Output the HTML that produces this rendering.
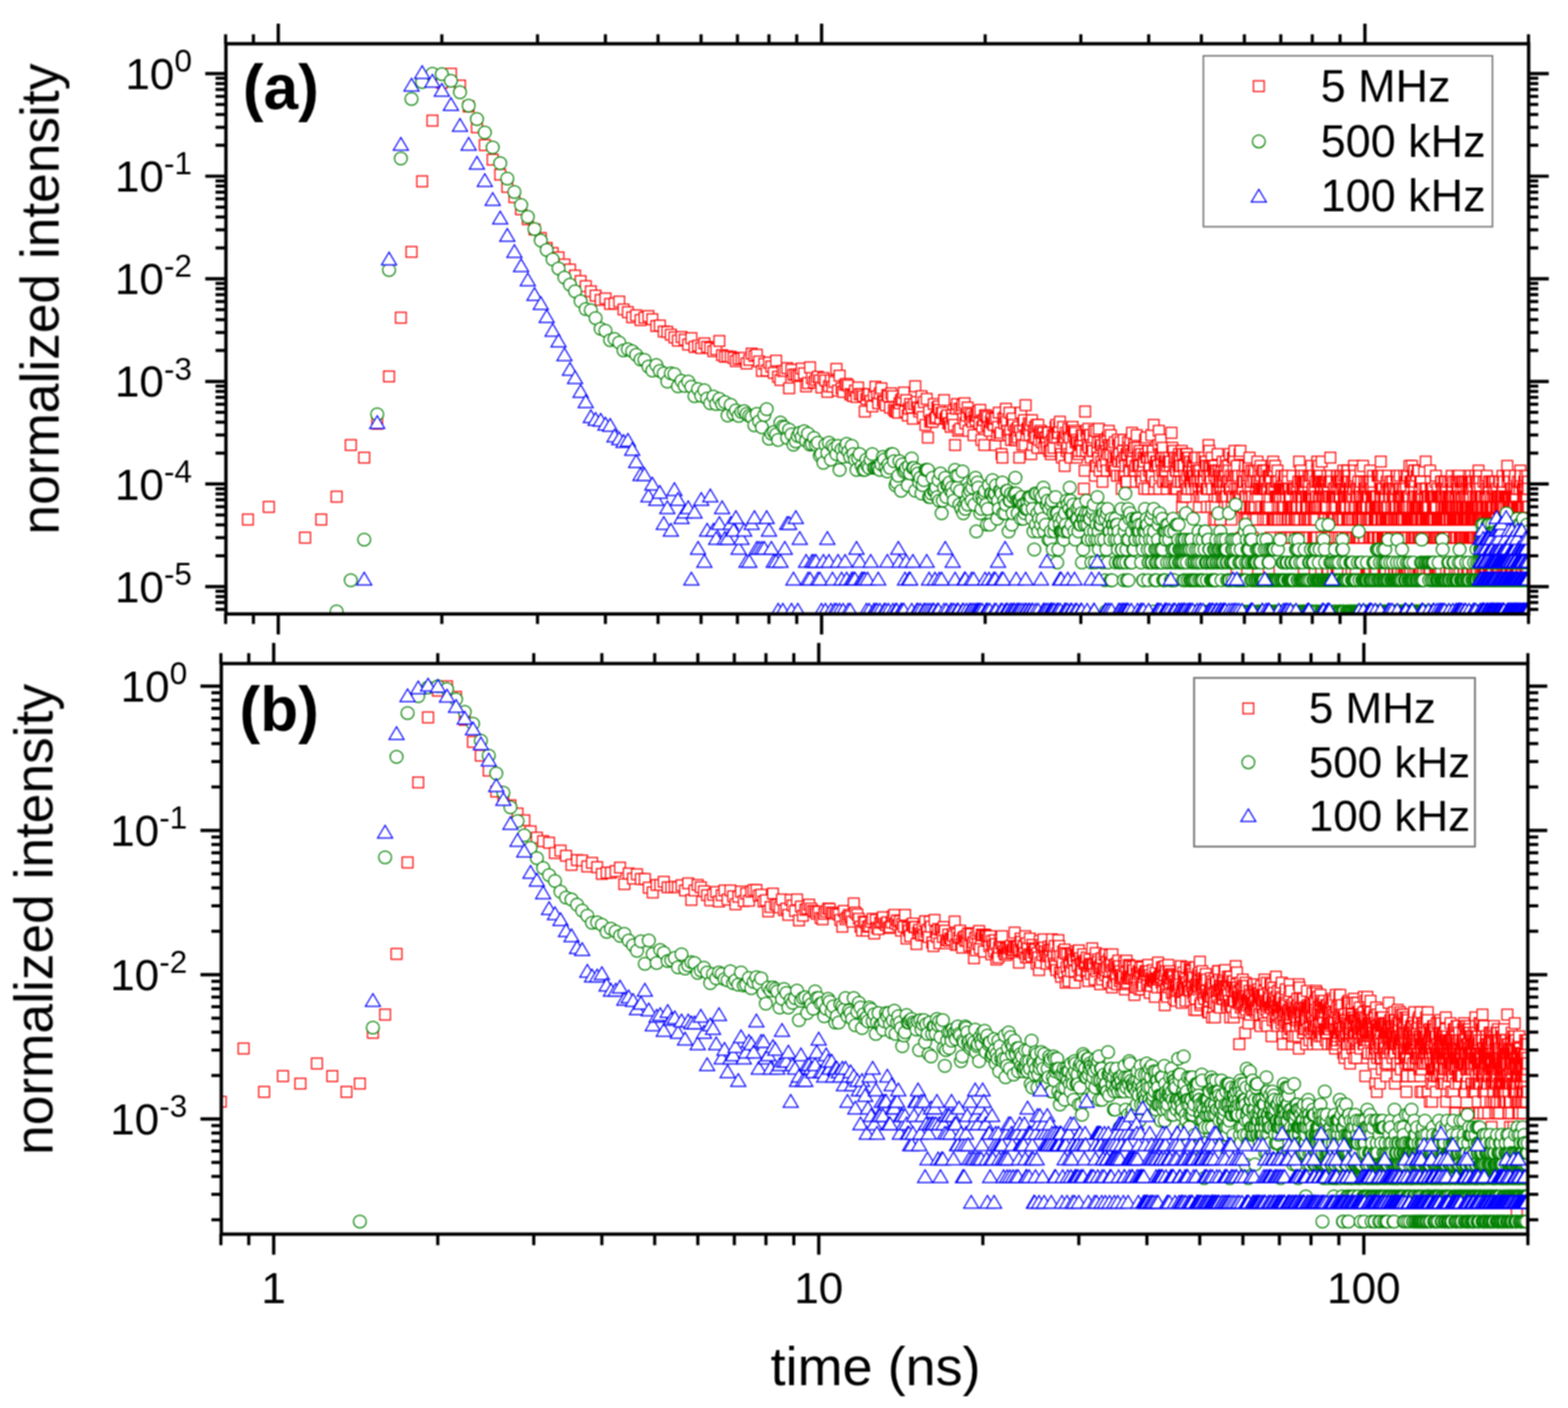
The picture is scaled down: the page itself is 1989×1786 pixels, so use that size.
<!DOCTYPE html>
<html lang="en"><head><meta charset="utf-8"><title>normalized intensity vs time (ns)</title>
<style>html,body{margin:0;padding:0;background:#fff}body{width:1989px;height:1786px;overflow:hidden}svg{display:block;font-family:"Liberation Sans",Arial,sans-serif}text{fill:#000}.r,.g,.b{fill:#fff;stroke-width:1.50px}.r{stroke:#f00}.g{stroke:#008000}.b{stroke:#00f}</style></head><body>
<svg width="1989" height="1786" viewBox="0 0 1989 1786">
<defs>
<filter id="f" color-interpolation-filters="sRGB" filterUnits="userSpaceOnUse" x="0" y="0" width="1989" height="1786"><feConvolveMatrix order="3" kernelMatrix="1 1 1 1 1 1 1 1 1" divisor="9" edgeMode="none" preserveAlpha="false"/></filter>
<rect id="s" x="-6.80" y="-6.80" width="13.60" height="13.60"/>
<circle id="c" cx="0" cy="0" r="8.10"/>
<path id="t" d="M0 -10.10L9.50 5.90H-9.50Z"/>
<clipPath id="ca"><rect x="286.60" y="55.50" width="1652.50" height="723.30"/></clipPath>
<clipPath id="cb"><rect x="280.70" y="841.70" width="1657.30" height="723.80"/></clipPath>
</defs>
<rect x="0" y="0" width="1989" height="1786" fill="#fff"/>
<g filter="url(#f)">
<g clip-path="url(#ca)">
<g class="r"><use href="#s" x="314.5" y="659"/><use href="#s" x="341" y="643"/><use href="#s" x="387" y="682"/><use href="#s" x="407.5" y="659"/><use href="#s" x="427" y="630"/><use href="#s" x="445" y="564.5"/><use href="#s" x="462" y="580.5"/><use href="#s" x="478.5" y="537.5"/><use href="#s" x="493.5" y="477.5"/><use href="#s" x="508.5" y="403"/><use href="#s" x="522" y="319.5"/><use href="#s" x="535.5" y="230"/><use href="#s" x="548.5" y="153"/><use href="#s" x="560.5" y="105"/><use href="#s" x="572" y="93.5"/><use href="#s" x="583.5" y="108.5"/><use href="#s" x="594.5" y="135"/><use href="#s" x="605" y="161.5"/><use href="#s" x="615" y="184"/><use href="#s" x="625" y="202.5"/><use href="#s" x="634.5" y="221.5"/><use href="#s" x="643.5" y="237"/><use href="#s" x="652.5" y="250"/><use href="#s" x="661" y="265.5"/><use href="#s" x="669.5" y="278"/><use href="#s" x="678" y="291"/><use href="#s" x="686" y="302"/><use href="#s" x="693.5" y="314.5"/><use href="#s" x="701" y="321"/><use href="#s" x="708.5" y="326.5"/><use href="#s" x="716" y="335.5"/><use href="#s" x="723" y="342"/><use href="#s" x="729.5" y="349.5"/><use href="#s" x="736.5" y="356.5"/><use href="#s" x="743" y="363"/><use href="#s" x="749.5" y="369.5"/><use href="#s" x="755.5" y="375"/><use href="#s" x="762" y="380.5"/><use href="#s" x="768" y="378.5"/><use href="#s" x="774" y="385.5"/><use href="#s" x="779.5" y="385"/><use href="#s" x="785.5" y="382.5"/><use href="#s" x="791" y="392.5"/><use href="#s" x="796.5" y="396"/><use href="#s" x="802" y="402.5"/><use href="#s" x="807" y="400"/><use href="#s" x="812.5" y="406"/><use href="#s" x="817.5" y="403"/><use href="#s" x="822.5" y="401"/><use href="#s" x="827.5" y="405"/><use href="#s" x="832.5" y="413.5"/><use href="#s" x="837" y="413"/><use href="#s" x="842" y="420.5"/><use href="#s" x="846.5" y="421"/><use href="#s" x="851" y="424.5"/><use href="#s" x="855.5" y="428"/><use href="#s" x="860" y="432"/><use href="#s" x="864.5" y="427.5"/><use href="#s" x="868.5" y="431"/><use href="#s" x="873" y="437"/><use href="#s" x="877" y="429"/><use href="#s" x="881" y="440"/><use href="#s" x="885.5" y="438.5"/><use href="#s" x="889.5" y="441.5"/><use href="#s" x="893.5" y="435.5"/><use href="#s" x="897" y="440"/><use href="#s" x="901" y="441.5"/><use href="#s" x="905" y="445.5"/><use href="#s" x="908.5" y="443"/><use href="#s" x="912.5" y="432.5"/><use href="#s" x="916" y="450.5"/><use href="#s" x="919.5" y="452.5"/><use href="#s" x="923" y="452"/><use href="#s" x="927" y="452.5"/><use href="#s" x="930.5" y="454"/><use href="#s" x="933.5" y="458"/><use href="#s" x="937" y="455.5"/><use href="#s" x="940.5" y="455"/><use href="#s" x="944" y="454"/><use href="#s" x="947" y="461"/><use href="#s" x="950.5" y="456.5"/><use href="#s" x="953.5" y="448.5"/><use href="#s" x="957" y="451.5"/><use href="#s" x="960" y="450"/><use href="#s" x="963" y="458.5"/><use href="#s" x="966.5" y="470.5"/><use href="#s" x="969.5" y="461.5"/><use href="#s" x="972.5" y="470"/><use href="#s" x="975.5" y="460"/><use href="#s" x="978.5" y="465"/><use href="#s" x="981.5" y="473"/><use href="#s" x="984.5" y="457.5"/><use href="#s" x="987" y="478"/><use href="#s" x="990" y="482"/><use href="#s" x="993" y="470.5"/><use href="#s" x="995.5" y="470.5"/><use href="#s" x="998.5" y="467"/><use href="#s" x="1001" y="492.5"/><use href="#s" x="1004" y="469"/><use href="#s" x="1006.5" y="475.5"/><use href="#s" x="1009.5" y="475"/><use href="#s" x="1012" y="477"/><use href="#s" x="1014.5" y="475.5"/><use href="#s" x="1017" y="467.5"/><use href="#s" x="1020" y="473.5"/><use href="#s" x="1022.5" y="490"/><use href="#s" x="1025" y="486"/><use href="#s" x="1027.5" y="466"/><use href="#s" x="1030" y="479.5"/><use href="#s" x="1032.5" y="485"/><use href="#s" x="1035" y="482"/><use href="#s" x="1037.5" y="478"/><use href="#s" x="1040" y="482.5"/><use href="#s" x="1042" y="491.5"/><use href="#s" x="1044.5" y="479.5"/><use href="#s" x="1047" y="482.5"/><use href="#s" x="1049.5" y="497"/><use href="#s" x="1051.5" y="490"/><use href="#s" x="1054" y="482.5"/><use href="#s" x="1056" y="490.5"/><use href="#s" x="1058.5" y="484.5"/><use href="#s" x="1061" y="468"/><use href="#s" x="1063" y="495.5"/><use href="#s" x="1065" y="476.5"/><use href="#s" x="1067.5" y="492.5"/><use href="#s" x="1069.5" y="497"/><use href="#s" x="1072" y="488"/><use href="#s" x="1074" y="487"/><use href="#s" x="1076" y="489"/><use href="#s" x="1078.5" y="500"/><use href="#s" x="1080.5" y="501"/><use href="#s" x="1082.5" y="502.5"/><use href="#s" x="1084.5" y="495.5"/><use href="#s" x="1086.5" y="503.5"/><use href="#s" x="1088.5" y="491.5"/><use href="#s" x="1090.5" y="500"/><use href="#s" x="1093" y="500"/><use href="#s" x="1095" y="502.5"/><use href="#s" x="1097" y="522"/><use href="#s" x="1099" y="506"/><use href="#s" x="1100.5" y="501"/><use href="#s" x="1102.5" y="500"/><use href="#s" x="1104.5" y="508.5"/><use href="#s" x="1106.5" y="515.5"/><use href="#s" x="1108.5" y="501"/><use href="#s" x="1110.5" y="490.5"/><use href="#s" x="1112.5" y="502.5"/><use href="#s" x="1114" y="511.5"/><use href="#s" x="1116" y="499"/><use href="#s" x="1118" y="492.5"/><use href="#s" x="1120" y="508.5"/><use href="#s" x="1121.5" y="510"/><use href="#s" x="1123.5" y="514"/><use href="#s" x="1125.5" y="501"/><use href="#s" x="1127" y="502.5"/><use href="#s" x="1129" y="517"/><use href="#s" x="1130.5" y="499"/><use href="#s" x="1132.5" y="502.5"/><use href="#s" x="1134" y="520"/><use href="#s" x="1136" y="522"/><use href="#s" x="1137.5" y="522"/><use href="#s" x="1139.5" y="523.5"/><use href="#s" x="1141" y="511.5"/><use href="#s" x="1143" y="507.5"/><use href="#s" x="1144.5" y="506"/><use href="#s" x="1146.5" y="498"/><use href="#s" x="1148" y="522"/><use href="#s" x="1149.5" y="507.5"/><use href="#s" x="1151.5" y="527"/><use href="#s" x="1153" y="518.5"/><use href="#s" x="1154.5" y="512.5"/><use href="#s" x="1156.5" y="517"/><use href="#s" x="1158" y="531"/><use href="#s" x="1159.5" y="512.5"/><use href="#s" x="1161" y="490"/><use href="#s" x="1163" y="510"/><use href="#s" x="1164.5" y="517"/><use href="#s" x="1166" y="522"/><use href="#s" x="1167.5" y="518.5"/><use href="#s" x="1169" y="502.5"/><use href="#s" x="1170.5" y="529"/><use href="#s" x="1172" y="510"/><use href="#s" x="1174" y="539"/><use href="#s" x="1175.5" y="506"/><use href="#s" x="1177" y="555"/><use href="#s" x="1178.5" y="522"/><use href="#s" x="1180" y="535"/><use href="#s" x="1181.5" y="533"/><use href="#s" x="1183" y="535"/><use href="#s" x="1184.5" y="512.5"/><use href="#s" x="1186" y="531"/><use href="#s" x="1187.5" y="529"/><use href="#s" x="1189" y="517"/><use href="#s" x="1190.5" y="515.5"/><use href="#s" x="1191.5" y="520"/><use href="#s" x="1193" y="531"/><use href="#s" x="1194.5" y="523.5"/><use href="#s" x="1196" y="523.5"/><use href="#s" x="1197.5" y="507.5"/><use href="#s" x="1199" y="531"/><use href="#s" x="1200.5" y="529"/><use href="#s" x="1201.5" y="527"/><use href="#s" x="1203" y="537"/><use href="#s" x="1204.5" y="537"/><use href="#s" x="1206" y="541.5"/><use href="#s" x="1207.5" y="527"/><use href="#s" x="1208.5" y="531"/><use href="#s" x="1210" y="539"/><use href="#s" x="1211.5" y="564.5"/><use href="#s" x="1213" y="518.5"/><use href="#s" x="1214" y="512.5"/><use href="#s" x="1215.5" y="546.5"/><use href="#s" x="1217" y="518.5"/><use href="#s" x="1218" y="544"/><use href="#s" x="1219.5" y="518.5"/><use href="#s" x="1221" y="514"/><use href="#s" x="1222" y="531"/><use href="#s" x="1223.5" y="511.5"/><use href="#s" x="1224.5" y="537"/><use href="#s" x="1226" y="527"/><use href="#s" x="1227.5" y="517"/><use href="#s" x="1228.5" y="546.5"/><use href="#s" x="1230" y="523.5"/><use href="#s" x="1231" y="531"/><use href="#s" x="1232.5" y="525.5"/><use href="#s" x="1233.5" y="535"/><use href="#s" x="1235" y="552"/><use href="#s" x="1236" y="529"/><use href="#s" x="1237.5" y="533"/><use href="#s" x="1238.5" y="527"/><use href="#s" x="1240" y="527"/><use href="#s" x="1241" y="522"/><use href="#s" x="1242.5" y="537"/><use href="#s" x="1243.5" y="520"/><use href="#s" x="1245" y="558"/><use href="#s" x="1246" y="541.5"/><use href="#s" x="1247.5" y="533"/><use href="#s" x="1248.5" y="564.5"/><use href="#s" x="1249.5" y="527"/><use href="#s" x="1251" y="527"/><use href="#s" x="1252" y="539"/><use href="#s" x="1253" y="529"/><use href="#s" x="1254.5" y="541.5"/><use href="#s" x="1255.5" y="546.5"/><use href="#s" x="1257" y="535"/><use href="#s" x="1258" y="531"/><use href="#s" x="1259" y="537"/><use href="#s" x="1260.5" y="539"/><use href="#s" x="1261.5" y="531"/><use href="#s" x="1262.5" y="564.5"/><use href="#s" x="1263.5" y="531"/><use href="#s" x="1265" y="552"/><use href="#s" x="1266" y="541.5"/><use href="#s" x="1267" y="523.5"/><use href="#s" x="1268" y="552"/><use href="#s" x="1269.5" y="549"/><use href="#s" x="1270.5" y="576"/><use href="#s" x="1271.5" y="580.5"/><use href="#s" x="1272.5" y="531"/><use href="#s" x="1274" y="537"/><use href="#s" x="1275" y="529"/><use href="#s" x="1276" y="518.5"/><use href="#s" x="1277" y="535"/><use href="#s" x="1278" y="546.5"/><use href="#s" x="1279.5" y="552"/><use href="#s" x="1280.5" y="523.5"/><use href="#s" x="1281.5" y="546.5"/><use href="#s" x="1282.5" y="558"/><use href="#s" x="1283.5" y="533"/><use href="#s" x="1284.5" y="531"/><use href="#s" x="1285.5" y="539"/><use href="#s" x="1287" y="558"/><use href="#s" x="1288" y="546.5"/><use href="#s" x="1289" y="558"/><use href="#s" x="1290" y="544"/><use href="#s" x="1291" y="555"/><use href="#s" x="1292" y="541.5"/><use href="#s" x="1293" y="580.5"/><use href="#s" x="1294" y="546.5"/><use href="#s" x="1295" y="523.5"/><use href="#s" x="1296" y="555"/><use href="#s" x="1297" y="564.5"/><use href="#s" x="1298" y="539"/><use href="#s" x="1299" y="533"/><use href="#s" x="1300" y="564.5"/><use href="#s" x="1301" y="514"/><use href="#s" x="1302" y="552"/><use href="#s" x="1303" y="544"/><use href="#s" x="1304" y="544"/><use href="#s" x="1305" y="537"/><use href="#s" x="1306" y="552"/><use href="#s" x="1307" y="539"/><use href="#s" x="1308" y="576"/><use href="#s" x="1309" y="533"/><use href="#s" x="1310" y="564.5"/><use href="#s" x="1311" y="546.5"/><use href="#s" x="1312" y="555"/><use href="#s" x="1313" y="541.5"/><use href="#s" x="1314" y="555"/><use href="#s" x="1315" y="539"/><use href="#s" x="1316" y="568"/><use href="#s" x="1317" y="539"/><use href="#s" x="1318" y="558"/><use href="#s" x="1319" y="549"/><use href="#s" x="1320" y="546.5"/><use href="#s" x="1320.5" y="546.5"/><use href="#s" x="1321.5" y="561"/><use href="#s" x="1322.5" y="549"/><use href="#s" x="1323.5" y="549"/><use href="#s" x="1324.5" y="568"/><use href="#s" x="1325.5" y="555"/><use href="#s" x="1326.5" y="555"/><use href="#s" x="1327.5" y="561"/><use href="#s" x="1328" y="568"/><use href="#s" x="1329" y="549"/><use href="#s" x="1330" y="549"/><use href="#s" x="1331" y="572"/><use href="#s" x="1332" y="561"/><use href="#s" x="1333" y="576"/><use href="#s" x="1333.5" y="572"/><use href="#s" x="1334.5" y="558"/><use href="#s" x="1335.5" y="552"/><use href="#s" x="1336.5" y="568"/><use href="#s" x="1337.5" y="552"/><use href="#s" x="1338" y="555"/><use href="#s" x="1339" y="541.5"/><use href="#s" x="1340" y="539"/><use href="#s" x="1341" y="555"/><use href="#s" x="1341.5" y="549"/><use href="#s" x="1342.5" y="549"/><use href="#s" x="1343.5" y="541.5"/><use href="#s" x="1344.5" y="535"/><use href="#s" x="1345" y="568"/><use href="#s" x="1346" y="576"/><use href="#s" x="1347" y="580.5"/><use href="#s" x="1348" y="558"/><use href="#s" x="1348.5" y="541.5"/><use href="#s" x="1349.5" y="555"/><use href="#s" x="1350.5" y="591"/><use href="#s" x="1351" y="555"/><use href="#s" x="1352" y="549"/><use href="#s" x="1353" y="572"/><use href="#s" x="1354" y="568"/><use href="#s" x="1354.5" y="552"/><use href="#s" x="1355.5" y="544"/><use href="#s" x="1356.5" y="576"/><use href="#s" x="1357" y="555"/><use href="#s" x="1358" y="580.5"/><use href="#s" x="1359" y="544"/><use href="#s" x="1359.5" y="568"/><use href="#s" x="1360.5" y="541.5"/><use href="#s" x="1361.5" y="552"/><use href="#s" x="1362" y="546.5"/><use href="#s" x="1363" y="546.5"/><use href="#s" x="1364" y="549"/><use href="#s" x="1364.5" y="561"/><use href="#s" x="1365.5" y="558"/><use href="#s" x="1366" y="580.5"/><use href="#s" x="1367" y="561"/><use href="#s" x="1368" y="576"/><use href="#s" x="1368.5" y="572"/><use href="#s" x="1369.5" y="561"/><use href="#s" x="1370" y="564.5"/><use href="#s" x="1371" y="564.5"/><use href="#s" x="1372" y="552"/><use href="#s" x="1372.5" y="572"/><use href="#s" x="1373.5" y="558"/><use href="#s" x="1374" y="552"/><use href="#s" x="1375" y="620"/><use href="#s" x="1376" y="597"/><use href="#s" x="1376.5" y="522"/><use href="#s" x="1377.5" y="572"/><use href="#s" x="1378" y="546.5"/><use href="#s" x="1379" y="552"/><use href="#s" x="1379.5" y="564.5"/><use href="#s" x="1380.5" y="544"/><use href="#s" x="1381" y="568"/><use href="#s" x="1382" y="552"/><use href="#s" x="1383" y="552"/><use href="#s" x="1383.5" y="580.5"/><use href="#s" x="1384.5" y="564.5"/><use href="#s" x="1385" y="568"/><use href="#s" x="1386" y="572"/><use href="#s" x="1386.5" y="572"/><use href="#s" x="1387.5" y="555"/><use href="#s" x="1388" y="546.5"/><use href="#s" x="1389" y="603.5"/><use href="#s" x="1389.5" y="591"/><use href="#s" x="1390.5" y="546.5"/><use href="#s" x="1391" y="591"/><use href="#s" x="1392" y="572"/><use href="#s" x="1392.5" y="561"/><use href="#s" x="1393.5" y="580.5"/><use href="#s" x="1394" y="544"/><use href="#s" x="1395" y="597"/><use href="#s" x="1395.5" y="561"/><use href="#s" x="1396.5" y="568"/><use href="#s" x="1397" y="585.5"/><use href="#s" x="1397.5" y="564.5"/><use href="#s" x="1398.5" y="611"/><use href="#s" x="1399" y="591"/><use href="#s" x="1400" y="572"/><use href="#s" x="1400.5" y="576"/><use href="#s" x="1401.5" y="558"/><use href="#s" x="1402" y="561"/><use href="#s" x="1403" y="585.5"/><use href="#s" x="1403.5" y="572"/><use href="#s" x="1404" y="597"/><use href="#s" x="1405" y="555"/><use href="#s" x="1405.5" y="576"/><use href="#s" x="1406.5" y="546.5"/><use href="#s" x="1407" y="564.5"/><use href="#s" x="1408" y="568"/><use href="#s" x="1408.5" y="576"/><use href="#s" x="1409" y="552"/><use href="#s" x="1410" y="591"/><use href="#s" x="1410.5" y="564.5"/><use href="#s" x="1411.5" y="564.5"/><use href="#s" x="1412" y="591"/><use href="#s" x="1412.5" y="580.5"/><use href="#s" x="1413.5" y="597"/><use href="#s" x="1414" y="561"/><use href="#s" x="1415" y="597"/><use href="#s" x="1415.5" y="580.5"/><use href="#s" x="1416" y="580.5"/><use href="#s" x="1417" y="603.5"/><use href="#s" x="1417.5" y="580.5"/><use href="#s" x="1418" y="558"/><use href="#s" x="1419" y="585.5"/><use href="#s" x="1419.5" y="564.5"/><use href="#s" x="1420" y="576"/><use href="#s" x="1421" y="561"/><use href="#s" x="1421.5" y="603.5"/><use href="#s" x="1422.5" y="585.5"/><use href="#s" x="1423" y="620"/><use href="#s" x="1423.5" y="585.5"/><use href="#s" x="1424.5" y="572"/><use href="#s" x="1425" y="603.5"/><use href="#s" x="1425.5" y="558"/><use href="#s" x="1426.5" y="580.5"/><use href="#s" x="1427" y="603.5"/><use href="#s" x="1427.5" y="591"/><use href="#s" x="1428.5" y="611"/><use href="#s" x="1429" y="576"/><use href="#s" x="1429.5" y="611"/><use href="#s" x="1430" y="576"/><use href="#s" x="1431" y="561"/><use href="#s" x="1431.5" y="568"/><use href="#s" x="1432" y="591"/><use href="#s" x="1433" y="597"/><use href="#s" x="1433.5" y="572"/><use href="#s" x="1434" y="558"/><use href="#s" x="1435" y="585.5"/><use href="#s" x="1435.5" y="576"/><use href="#s" x="1436" y="549"/><use href="#s" x="1436.5" y="585.5"/><use href="#s" x="1437.5" y="572"/><use href="#s" x="1438" y="597"/><use href="#s" x="1438.5" y="564.5"/><use href="#s" x="1439.5" y="568"/><use href="#s" x="1440" y="597"/><use href="#s" x="1440.5" y="591"/><use href="#s" x="1441" y="611"/><use href="#s" x="1442" y="552"/><use href="#s" x="1442.5" y="568"/><use href="#s" x="1443" y="580.5"/><use href="#s" x="1443.5" y="591"/><use href="#s" x="1444.5" y="591"/><use href="#s" x="1445" y="576"/><use href="#s" x="1445.5" y="572"/><use href="#s" x="1446" y="591"/><use href="#s" x="1447" y="603.5"/><use href="#s" x="1447.5" y="576"/><use href="#s" x="1448" y="611"/><use href="#s" x="1448.5" y="611"/><use href="#s" x="1449.5" y="597"/><use href="#s" x="1450" y="591"/><use href="#s" x="1450.5" y="580.5"/><use href="#s" x="1451" y="585.5"/><use href="#s" x="1451.5" y="620"/><use href="#s" x="1452.5" y="558"/><use href="#s" x="1453" y="576"/><use href="#s" x="1453.5" y="603.5"/><use href="#s" x="1454" y="555"/><use href="#s" x="1454.5" y="580.5"/><use href="#s" x="1455.5" y="580.5"/><use href="#s" x="1456" y="620"/><use href="#s" x="1456.5" y="572"/><use href="#s" x="1457" y="572"/><use href="#s" x="1457.5" y="597"/><use href="#s" x="1458.5" y="591"/><use href="#s" x="1459" y="580.5"/><use href="#s" x="1459.5" y="580.5"/><use href="#s" x="1460" y="603.5"/><use href="#s" x="1460.5" y="552"/><use href="#s" x="1461.5" y="603.5"/><use href="#s" x="1462" y="572"/><use href="#s" x="1462.5" y="572"/><use href="#s" x="1463" y="580.5"/><use href="#s" x="1463.5" y="539"/><use href="#s" x="1464" y="620"/><use href="#s" x="1465" y="591"/><use href="#s" x="1465.5" y="611"/><use href="#s" x="1466" y="591"/><use href="#s" x="1466.5" y="585.5"/><use href="#s" x="1467" y="585.5"/><use href="#s" x="1467.5" y="585.5"/><use href="#s" x="1468.5" y="591"/><use href="#s" x="1469" y="591"/><use href="#s" x="1469.5" y="564.5"/><use href="#s" x="1470" y="546.5"/><use href="#s" x="1470.5" y="620"/><use href="#s" x="1471" y="603.5"/><use href="#s" x="1471.5" y="576"/><use href="#s" x="1472.5" y="558"/><use href="#s" x="1473" y="585.5"/><use href="#s" x="1473.5" y="576"/><use href="#s" x="1474" y="576"/><use href="#s" x="1474.5" y="597"/><use href="#s" x="1475" y="568"/><use href="#s" x="1475.5" y="611"/><use href="#s" x="1476.5" y="580.5"/><use href="#s" x="1477" y="597"/><use href="#s" x="1477.5" y="591"/><use href="#s" x="1478" y="585.5"/><use href="#s" x="1478.5" y="597"/><use href="#s" x="1479" y="611"/><use href="#s" x="1479.5" y="580.5"/><use href="#s" x="1480" y="620"/><use href="#s" x="1480.5" y="591"/><use href="#s" x="1481.5" y="611"/><use href="#s" x="1482" y="585.5"/><use href="#s" x="1482.5" y="611"/><use href="#s" x="1483" y="580.5"/><use href="#s" x="1483.5" y="585.5"/><use href="#s" x="1484" y="591"/><use href="#s" x="1484.5" y="585.5"/><use href="#s" x="1485" y="611"/><use href="#s" x="1485.5" y="659"/><use href="#s" x="1486" y="549"/><use href="#s" x="1487" y="568"/><use href="#s" x="1487.5" y="611"/><use href="#s" x="1488" y="603.5"/><use href="#s" x="1488.5" y="572"/><use href="#s" x="1489" y="620"/><use href="#s" x="1489.5" y="591"/><use href="#s" x="1490" y="580.5"/><use href="#s" x="1490.5" y="580.5"/><use href="#s" x="1491" y="620"/><use href="#s" x="1491.5" y="597"/><use href="#s" x="1492" y="597"/><use href="#s" x="1492.5" y="620"/><use href="#s" x="1493" y="585.5"/><use href="#s" x="1493.5" y="580.5"/><use href="#s" x="1494.5" y="611"/><use href="#s" x="1495" y="591"/><use href="#s" x="1495.5" y="576"/><use href="#s" x="1496" y="597"/><use href="#s" x="1496.5" y="591"/><use href="#s" x="1497" y="580.5"/><use href="#s" x="1497.5" y="591"/><use href="#s" x="1498" y="611"/><use href="#s" x="1498.5" y="611"/><use href="#s" x="1499" y="572"/><use href="#s" x="1499.5" y="643"/><use href="#s" x="1500" y="630"/><use href="#s" x="1500.5" y="576"/><use href="#s" x="1501" y="591"/><use href="#s" x="1501.5" y="591"/><use href="#s" x="1502" y="630"/><use href="#s" x="1502.5" y="603.5"/><use href="#s" x="1503" y="611"/><use href="#s" x="1503.5" y="611"/><use href="#s" x="1504" y="576"/><use href="#s" x="1504.5" y="630"/><use href="#s" x="1505" y="620"/><use href="#s" x="1505.5" y="576"/><use href="#s" x="1506" y="603.5"/><use href="#s" x="1506.5" y="580.5"/><use href="#s" x="1507" y="620"/><use href="#s" x="1507.5" y="591"/><use href="#s" x="1508" y="580.5"/><use href="#s" x="1508.5" y="597"/><use href="#s" x="1509" y="597"/><use href="#s" x="1509.5" y="611"/><use href="#s" x="1510" y="585.5"/><use href="#s" x="1510.5" y="611"/><use href="#s" x="1511" y="603.5"/><use href="#s" x="1511.5" y="620"/><use href="#s" x="1512" y="603.5"/><use href="#s" x="1512.5" y="591"/><use href="#s" x="1513" y="597"/><use href="#s" x="1513.5" y="603.5"/><use href="#s" x="1514" y="585.5"/><use href="#s" x="1514.5" y="603.5"/><use href="#s" x="1515" y="611"/><use href="#s" x="1515.5" y="580.5"/><use href="#s" x="1516" y="580.5"/><use href="#s" x="1516.5" y="611"/><use href="#s" x="1517" y="620"/><use href="#s" x="1517.5" y="591"/><use href="#s" x="1518" y="597"/><use href="#s" x="1518.5" y="580.5"/><use href="#s" x="1519" y="603.5"/><use href="#s" x="1519.5" y="611"/><use href="#s" x="1520" y="597"/><use href="#s" x="1520.5" y="620"/><use href="#s" x="1521" y="643"/><use href="#s" x="1521.5" y="630"/><use href="#s" x="1522" y="597"/><use href="#s" x="1522.5" y="603.5"/><use href="#s" x="1523" y="611"/><use href="#s" x="1523.5" y="611"/><use href="#s" x="1524" y="630"/><use href="#s" x="1524.5" y="620"/><use href="#s" x="1525" y="580.5"/><use href="#s" x="1525.5" y="620"/><use href="#s" x="1526" y="620"/><use href="#s" x="1526.5" y="603.5"/><use href="#s" x="1527" y="630"/><use href="#s" x="1527.5" y="603.5"/><use href="#s" x="1527.5" y="611"/><use href="#s" x="1528" y="580.5"/><use href="#s" x="1528.5" y="597"/><use href="#s" x="1529" y="585.5"/><use href="#s" x="1529.5" y="585.5"/><use href="#s" x="1530" y="620"/><use href="#s" x="1530.5" y="591"/><use href="#s" x="1531" y="643"/><use href="#s" x="1531.5" y="620"/><use href="#s" x="1532" y="603.5"/><use href="#s" x="1532.5" y="620"/><use href="#s" x="1533" y="564.5"/><use href="#s" x="1533.5" y="591"/><use href="#s" x="1534" y="572"/><use href="#s" x="1534.5" y="603.5"/><use href="#s" x="1535" y="591"/><use href="#s" x="1535.5" y="603.5"/><use href="#s" x="1536" y="611"/><use href="#s" x="1536.5" y="643"/><use href="#s" x="1537" y="580.5"/><use href="#s" x="1537.5" y="620"/><use href="#s" x="1538" y="591"/><use href="#s" x="1538.5" y="591"/><use href="#s" x="1539" y="591"/><use href="#s" x="1539.5" y="597"/><use href="#s" x="1540" y="659"/><use href="#s" x="1540" y="597"/><use href="#s" x="1540.5" y="603.5"/><use href="#s" x="1541" y="591"/><use href="#s" x="1541.5" y="643"/><use href="#s" x="1542" y="597"/><use href="#s" x="1542.5" y="659"/><use href="#s" x="1543" y="597"/><use href="#s" x="1543.5" y="611"/><use href="#s" x="1544" y="620"/><use href="#s" x="1544.5" y="576"/><use href="#s" x="1544.5" y="630"/><use href="#s" x="1545" y="620"/><use href="#s" x="1545.5" y="597"/><use href="#s" x="1546" y="597"/><use href="#s" x="1546.5" y="611"/><use href="#s" x="1547" y="603.5"/><use href="#s" x="1547.5" y="620"/><use href="#s" x="1548" y="659"/><use href="#s" x="1548.5" y="620"/><use href="#s" x="1548.5" y="611"/><use href="#s" x="1549" y="597"/><use href="#s" x="1549.5" y="597"/><use href="#s" x="1550" y="630"/><use href="#s" x="1550.5" y="611"/><use href="#s" x="1551" y="585.5"/><use href="#s" x="1551.5" y="603.5"/><use href="#s" x="1552" y="630"/><use href="#s" x="1552" y="620"/><use href="#s" x="1552.5" y="611"/><use href="#s" x="1553" y="597"/><use href="#s" x="1553.5" y="643"/><use href="#s" x="1554" y="630"/><use href="#s" x="1554.5" y="603.5"/><use href="#s" x="1555" y="585.5"/><use href="#s" x="1555.5" y="620"/><use href="#s" x="1555.5" y="591"/><use href="#s" x="1556" y="630"/><use href="#s" x="1556.5" y="611"/><use href="#s" x="1557" y="611"/><use href="#s" x="1557.5" y="643"/><use href="#s" x="1558" y="591"/><use href="#s" x="1558.5" y="597"/><use href="#s" x="1559" y="611"/><use href="#s" x="1559.5" y="620"/><use href="#s" x="1560" y="576"/><use href="#s" x="1560.5" y="620"/><use href="#s" x="1561" y="620"/><use href="#s" x="1561.5" y="603.5"/><use href="#s" x="1562" y="659"/><use href="#s" x="1562.5" y="643"/><use href="#s" x="1563" y="630"/><use href="#s" x="1563.5" y="611"/><use href="#s" x="1564" y="630"/><use href="#s" x="1564" y="580.5"/><use href="#s" x="1564.5" y="603.5"/><use href="#s" x="1565" y="597"/><use href="#s" x="1565.5" y="580.5"/><use href="#s" x="1566" y="572"/><use href="#s" x="1566.5" y="643"/><use href="#s" x="1566.5" y="620"/><use href="#s" x="1567" y="603.5"/><use href="#s" x="1567.5" y="643"/><use href="#s" x="1568" y="630"/><use href="#s" x="1568.5" y="721"/><use href="#s" x="1569" y="603.5"/><use href="#s" x="1569" y="591"/><use href="#s" x="1569.5" y="620"/><use href="#s" x="1570" y="620"/><use href="#s" x="1570.5" y="630"/><use href="#s" x="1571" y="603.5"/><use href="#s" x="1571" y="643"/><use href="#s" x="1571.5" y="643"/><use href="#s" x="1572" y="630"/><use href="#s" x="1572.5" y="576"/><use href="#s" x="1573" y="620"/><use href="#s" x="1573.5" y="572"/><use href="#s" x="1573.5" y="630"/><use href="#s" x="1574.5" y="643"/><use href="#s" x="1575" y="682"/><use href="#s" x="1575.5" y="620"/><use href="#s" x="1576" y="603.5"/><use href="#s" x="1576.5" y="620"/><use href="#s" x="1577" y="682"/><use href="#s" x="1577.5" y="611"/><use href="#s" x="1577.5" y="643"/><use href="#s" x="1578" y="611"/><use href="#s" x="1578.5" y="659"/><use href="#s" x="1579" y="597"/><use href="#s" x="1579.5" y="591"/><use href="#s" x="1579.5" y="630"/><use href="#s" x="1580" y="630"/><use href="#s" x="1580.5" y="630"/><use href="#s" x="1581" y="659"/><use href="#s" x="1581.5" y="611"/><use href="#s" x="1581.5" y="643"/><use href="#s" x="1582" y="611"/><use href="#s" x="1582.5" y="603.5"/><use href="#s" x="1583" y="659"/><use href="#s" x="1583.5" y="591"/><use href="#s" x="1583.5" y="620"/><use href="#s" x="1584" y="591"/><use href="#s" x="1584.5" y="630"/><use href="#s" x="1585" y="580.5"/><use href="#s" x="1585" y="603.5"/><use href="#s" x="1585.5" y="643"/><use href="#s" x="1586" y="643"/><use href="#s" x="1586.5" y="620"/><use href="#s" x="1587" y="597"/><use href="#s" x="1587" y="643"/><use href="#s" x="1587.5" y="611"/><use href="#s" x="1588" y="630"/><use href="#s" x="1588.5" y="630"/><use href="#s" x="1588.5" y="643"/><use href="#s" x="1589" y="682"/><use href="#s" x="1589.5" y="597"/><use href="#s" x="1590" y="603.5"/><use href="#s" x="1590" y="659"/><use href="#s" x="1590.5" y="611"/><use href="#s" x="1591" y="643"/><use href="#s" x="1591.5" y="643"/><use href="#s" x="1592" y="643"/><use href="#s" x="1592" y="597"/><use href="#s" x="1592.5" y="630"/><use href="#s" x="1593" y="659"/><use href="#s" x="1593.5" y="659"/><use href="#s" x="1593.5" y="620"/><use href="#s" x="1594" y="611"/><use href="#s" x="1594.5" y="611"/><use href="#s" x="1595" y="585.5"/><use href="#s" x="1595" y="611"/><use href="#s" x="1595.5" y="630"/><use href="#s" x="1596" y="721"/><use href="#s" x="1596.5" y="597"/><use href="#s" x="1597" y="620"/><use href="#s" x="1597.5" y="611"/><use href="#s" x="1598" y="643"/><use href="#s" x="1598" y="620"/><use href="#s" x="1598.5" y="620"/><use href="#s" x="1599" y="591"/><use href="#s" x="1599.5" y="603.5"/><use href="#s" x="1600" y="620"/><use href="#s" x="1600.5" y="643"/><use href="#s" x="1601" y="620"/><use href="#s" x="1601.5" y="597"/><use href="#s" x="1602" y="620"/><use href="#s" x="1602.5" y="620"/><use href="#s" x="1602.5" y="659"/><use href="#s" x="1603" y="597"/><use href="#s" x="1603.5" y="597"/><use href="#s" x="1603.5" y="620"/><use href="#s" x="1604" y="611"/><use href="#s" x="1604.5" y="620"/><use href="#s" x="1605" y="643"/><use href="#s" x="1605" y="620"/><use href="#s" x="1605.5" y="611"/><use href="#s" x="1606" y="659"/><use href="#s" x="1606.5" y="643"/><use href="#s" x="1606.5" y="597"/><use href="#s" x="1607" y="620"/><use href="#s" x="1607.5" y="643"/><use href="#s" x="1608" y="630"/><use href="#s" x="1608" y="620"/><use href="#s" x="1608.5" y="643"/><use href="#s" x="1609" y="659"/><use href="#s" x="1609" y="603.5"/><use href="#s" x="1609.5" y="721"/><use href="#s" x="1610" y="611"/><use href="#s" x="1610.5" y="643"/><use href="#s" x="1610.5" y="603.5"/><use href="#s" x="1611" y="630"/><use href="#s" x="1611.5" y="603.5"/><use href="#s" x="1611.5" y="682"/><use href="#s" x="1612" y="611"/><use href="#s" x="1612.5" y="620"/><use href="#s" x="1613" y="591"/><use href="#s" x="1613" y="620"/><use href="#s" x="1613.5" y="597"/><use href="#s" x="1614" y="620"/><use href="#s" x="1614" y="659"/><use href="#s" x="1614.5" y="597"/><use href="#s" x="1615" y="585.5"/><use href="#s" x="1615.5" y="659"/><use href="#s" x="1616" y="597"/><use href="#s" x="1616.5" y="620"/><use href="#s" x="1616.5" y="659"/><use href="#s" x="1617" y="659"/><use href="#s" x="1617.5" y="591"/><use href="#s" x="1617.5" y="659"/><use href="#s" x="1618" y="630"/><use href="#s" x="1618.5" y="611"/><use href="#s" x="1619" y="630"/><use href="#s" x="1619.5" y="611"/><use href="#s" x="1620" y="630"/><use href="#s" x="1620" y="659"/><use href="#s" x="1620.5" y="597"/><use href="#s" x="1621" y="630"/><use href="#s" x="1621" y="643"/><use href="#s" x="1621.5" y="611"/><use href="#s" x="1622" y="630"/><use href="#s" x="1622" y="659"/><use href="#s" x="1622.5" y="659"/><use href="#s" x="1623" y="620"/><use href="#s" x="1623.5" y="643"/><use href="#s" x="1624" y="630"/><use href="#s" x="1624.5" y="682"/><use href="#s" x="1624.5" y="620"/><use href="#s" x="1625" y="620"/><use href="#s" x="1625.5" y="611"/><use href="#s" x="1625.5" y="603.5"/><use href="#s" x="1626" y="620"/><use href="#s" x="1626.5" y="659"/><use href="#s" x="1626.5" y="643"/><use href="#s" x="1627" y="643"/><use href="#s" x="1627.5" y="620"/><use href="#s" x="1627.5" y="630"/><use href="#s" x="1628" y="682"/><use href="#s" x="1628.5" y="620"/><use href="#s" x="1628.5" y="611"/><use href="#s" x="1629" y="643"/><use href="#s" x="1629.5" y="603.5"/><use href="#s" x="1629.5" y="620"/><use href="#s" x="1630" y="659"/><use href="#s" x="1630.5" y="603.5"/><use href="#s" x="1630.5" y="620"/><use href="#s" x="1631" y="630"/><use href="#s" x="1631.5" y="630"/><use href="#s" x="1631.5" y="620"/><use href="#s" x="1632" y="620"/><use href="#s" x="1632.5" y="682"/><use href="#s" x="1633" y="659"/><use href="#s" x="1633.5" y="603.5"/><use href="#s" x="1633.5" y="611"/><use href="#s" x="1634" y="620"/><use href="#s" x="1634.5" y="659"/><use href="#s" x="1634.5" y="643"/><use href="#s" x="1635" y="620"/><use href="#s" x="1635.5" y="630"/><use href="#s" x="1635.5" y="620"/><use href="#s" x="1636" y="643"/><use href="#s" x="1636.5" y="682"/><use href="#s" x="1636.5" y="630"/><use href="#s" x="1637" y="630"/><use href="#s" x="1637.5" y="659"/><use href="#s" x="1637.5" y="643"/><use href="#s" x="1638" y="643"/><use href="#s" x="1638.5" y="659"/><use href="#s" x="1638.5" y="682"/><use href="#s" x="1639" y="620"/><use href="#s" x="1639.5" y="643"/><use href="#s" x="1639.5" y="603.5"/><use href="#s" x="1640" y="643"/><use href="#s" x="1640.5" y="620"/><use href="#s" x="1641" y="620"/><use href="#s" x="1641.5" y="643"/><use href="#s" x="1642" y="659"/><use href="#s" x="1642" y="620"/><use href="#s" x="1642.5" y="620"/><use href="#s" x="1643" y="682"/><use href="#s" x="1643" y="659"/><use href="#s" x="1643.5" y="643"/><use href="#s" x="1644" y="643"/><use href="#s" x="1644" y="630"/><use href="#s" x="1644.5" y="643"/><use href="#s" x="1645" y="659"/><use href="#s" x="1645" y="620"/><use href="#s" x="1645.5" y="620"/><use href="#s" x="1646" y="659"/><use href="#s" x="1646" y="643"/><use href="#s" x="1646.5" y="630"/><use href="#s" x="1646.5" y="682"/><use href="#s" x="1647" y="611"/><use href="#s" x="1647.5" y="630"/><use href="#s" x="1647.5" y="682"/><use href="#s" x="1648" y="585.5"/><use href="#s" x="1648.5" y="659"/><use href="#s" x="1648.5" y="682"/><use href="#s" x="1649" y="682"/><use href="#s" x="1649.5" y="611"/><use href="#s" x="1649.5" y="620"/><use href="#s" x="1650" y="597"/><use href="#s" x="1650" y="630"/><use href="#s" x="1650.5" y="643"/><use href="#s" x="1651" y="630"/><use href="#s" x="1651" y="603.5"/><use href="#s" x="1651.5" y="611"/><use href="#s" x="1652" y="643"/><use href="#s" x="1652" y="620"/><use href="#s" x="1652.5" y="630"/><use href="#s" x="1652.5" y="620"/><use href="#s" x="1653" y="611"/><use href="#s" x="1653.5" y="620"/><use href="#s" x="1653.5" y="611"/><use href="#s" x="1654" y="721"/><use href="#s" x="1654.5" y="659"/><use href="#s" x="1654.5" y="603.5"/><use href="#s" x="1655" y="620"/><use href="#s" x="1655" y="611"/><use href="#s" x="1655.5" y="611"/><use href="#s" x="1656" y="659"/><use href="#s" x="1656" y="611"/><use href="#s" x="1656.5" y="630"/><use href="#s" x="1656.5" y="643"/><use href="#s" x="1657" y="630"/><use href="#s" x="1657.5" y="643"/><use href="#s" x="1657.5" y="611"/><use href="#s" x="1658" y="682"/><use href="#s" x="1658.5" y="643"/><use href="#s" x="1658.5" y="659"/><use href="#s" x="1659" y="630"/><use href="#s" x="1659" y="659"/><use href="#s" x="1659.5" y="659"/><use href="#s" x="1660" y="603.5"/><use href="#s" x="1660" y="620"/><use href="#s" x="1660.5" y="611"/><use href="#s" x="1660.5" y="630"/><use href="#s" x="1661" y="682"/><use href="#s" x="1661.5" y="659"/><use href="#s" x="1661.5" y="630"/><use href="#s" x="1662" y="630"/><use href="#s" x="1662" y="603.5"/><use href="#s" x="1662.5" y="630"/><use href="#s" x="1663" y="659"/><use href="#s" x="1663" y="643"/><use href="#s" x="1663.5" y="591"/><use href="#s" x="1663.5" y="630"/><use href="#s" x="1664" y="603.5"/><use href="#s" x="1664.5" y="630"/><use href="#s" x="1664.5" y="643"/><use href="#s" x="1665" y="630"/><use href="#s" x="1665" y="620"/><use href="#s" x="1665.5" y="620"/><use href="#s" x="1666" y="682"/><use href="#s" x="1666" y="603.5"/><use href="#s" x="1666.5" y="643"/><use href="#s" x="1666.5" y="659"/><use href="#s" x="1667" y="643"/><use href="#s" x="1667.5" y="659"/><use href="#s" x="1667.5" y="682"/><use href="#s" x="1668" y="630"/><use href="#s" x="1668" y="620"/><use href="#s" x="1668.5" y="643"/><use href="#s" x="1669" y="682"/><use href="#s" x="1669" y="611"/><use href="#s" x="1669.5" y="659"/><use href="#s" x="1669.5" y="643"/><use href="#s" x="1670" y="630"/><use href="#s" x="1670.5" y="682"/><use href="#s" x="1671" y="585.5"/><use href="#s" x="1671" y="597"/><use href="#s" x="1671.5" y="643"/><use href="#s" x="1671.5" y="611"/><use href="#s" x="1672" y="643"/><use href="#s" x="1672.5" y="611"/><use href="#s" x="1672.5" y="603.5"/><use href="#s" x="1673" y="630"/><use href="#s" x="1673" y="591"/><use href="#s" x="1673.5" y="603.5"/><use href="#s" x="1673.5" y="611"/><use href="#s" x="1674" y="630"/><use href="#s" x="1674.5" y="643"/><use href="#s" x="1674.5" y="603.5"/><use href="#s" x="1675" y="643"/><use href="#s" x="1675" y="620"/><use href="#s" x="1675.5" y="611"/><use href="#s" x="1676" y="620"/><use href="#s" x="1676" y="721"/><use href="#s" x="1676.5" y="585.5"/><use href="#s" x="1676.5" y="682"/><use href="#s" x="1677" y="611"/><use href="#s" x="1677" y="630"/><use href="#s" x="1677.5" y="630"/><use href="#s" x="1678" y="630"/><use href="#s" x="1678" y="643"/><use href="#s" x="1678.5" y="611"/><use href="#s" x="1679" y="659"/><use href="#s" x="1679" y="611"/><use href="#s" x="1679.5" y="620"/><use href="#s" x="1680" y="630"/><use href="#s" x="1680" y="611"/><use href="#s" x="1680.5" y="643"/><use href="#s" x="1680.5" y="620"/><use href="#s" x="1681" y="659"/><use href="#s" x="1681" y="611"/><use href="#s" x="1681.5" y="643"/><use href="#s" x="1682" y="630"/><use href="#s" x="1682" y="643"/><use href="#s" x="1682.5" y="611"/><use href="#s" x="1682.5" y="643"/><use href="#s" x="1683" y="630"/><use href="#s" x="1683" y="643"/><use href="#s" x="1683.5" y="620"/><use href="#s" x="1683.5" y="721"/><use href="#s" x="1684" y="603.5"/><use href="#s" x="1684.5" y="682"/><use href="#s" x="1684.5" y="721"/><use href="#s" x="1685" y="620"/><use href="#s" x="1685" y="630"/><use href="#s" x="1685.5" y="630"/><use href="#s" x="1685.5" y="659"/><use href="#s" x="1686" y="611"/><use href="#s" x="1686.5" y="682"/><use href="#s" x="1687" y="611"/><use href="#s" x="1687" y="630"/><use href="#s" x="1687.5" y="611"/><use href="#s" x="1687.5" y="580.5"/><use href="#s" x="1688" y="603.5"/><use href="#s" x="1688" y="682"/><use href="#s" x="1688.5" y="603.5"/><use href="#s" x="1689" y="611"/><use href="#s" x="1689" y="659"/><use href="#s" x="1689.5" y="630"/><use href="#s" x="1690" y="643"/><use href="#s" x="1690" y="630"/><use href="#s" x="1690.5" y="659"/><use href="#s" x="1690.5" y="630"/><use href="#s" x="1691" y="721"/><use href="#s" x="1691" y="630"/><use href="#s" x="1691.5" y="659"/><use href="#s" x="1692" y="630"/><use href="#s" x="1692" y="620"/><use href="#s" x="1692.5" y="643"/><use href="#s" x="1692.5" y="620"/><use href="#s" x="1693" y="659"/><use href="#s" x="1693" y="643"/><use href="#s" x="1693.5" y="630"/><use href="#s" x="1694" y="682"/><use href="#s" x="1694" y="630"/><use href="#s" x="1694.5" y="630"/><use href="#s" x="1695" y="620"/><use href="#s" x="1695" y="643"/><use href="#s" x="1695.5" y="721"/><use href="#s" x="1695.5" y="611"/><use href="#s" x="1696" y="603.5"/><use href="#s" x="1696" y="630"/><use href="#s" x="1696.5" y="603.5"/><use href="#s" x="1696.5" y="721"/><use href="#s" x="1697" y="682"/><use href="#s" x="1697" y="659"/><use href="#s" x="1697.5" y="611"/><use href="#s" x="1697.5" y="620"/><use href="#s" x="1698" y="721"/><use href="#s" x="1698.5" y="630"/><use href="#s" x="1698.5" y="659"/><use href="#s" x="1699" y="611"/><use href="#s" x="1699" y="630"/><use href="#s" x="1699.5" y="682"/><use href="#s" x="1699.5" y="630"/><use href="#s" x="1700" y="630"/><use href="#s" x="1700" y="603.5"/><use href="#s" x="1700.5" y="659"/><use href="#s" x="1700.5" y="620"/><use href="#s" x="1701" y="603.5"/><use href="#s" x="1701" y="611"/><use href="#s" x="1701.5" y="611"/><use href="#s" x="1701.5" y="643"/><use href="#s" x="1702" y="611"/><use href="#s" x="1702" y="643"/><use href="#s" x="1702.5" y="682"/><use href="#s" x="1703" y="659"/><use href="#s" x="1703" y="620"/><use href="#s" x="1703.5" y="643"/><use href="#s" x="1704" y="597"/><use href="#s" x="1704" y="659"/><use href="#s" x="1704.5" y="603.5"/><use href="#s" x="1704.5" y="630"/><use href="#s" x="1705" y="643"/><use href="#s" x="1705" y="620"/><use href="#s" x="1705.5" y="630"/><use href="#s" x="1705.5" y="620"/><use href="#s" x="1706" y="630"/><use href="#s" x="1706" y="643"/><use href="#s" x="1706.5" y="630"/><use href="#s" x="1706.5" y="643"/><use href="#s" x="1707" y="603.5"/><use href="#s" x="1707" y="620"/><use href="#s" x="1707.5" y="643"/><use href="#s" x="1707.5" y="682"/><use href="#s" x="1708" y="620"/><use href="#s" x="1708.5" y="630"/><use href="#s" x="1708.5" y="611"/><use href="#s" x="1709" y="597"/><use href="#s" x="1709" y="659"/><use href="#s" x="1709.5" y="611"/><use href="#s" x="1709.5" y="597"/><use href="#s" x="1710" y="630"/><use href="#s" x="1710" y="721"/><use href="#s" x="1710.5" y="659"/><use href="#s" x="1710.5" y="603.5"/><use href="#s" x="1711" y="630"/><use href="#s" x="1711" y="611"/><use href="#s" x="1711.5" y="659"/><use href="#s" x="1711.5" y="620"/><use href="#s" x="1712" y="620"/><use href="#s" x="1712" y="630"/><use href="#s" x="1712.5" y="643"/><use href="#s" x="1713" y="630"/><use href="#s" x="1713" y="659"/><use href="#s" x="1713.5" y="620"/><use href="#s" x="1713.5" y="643"/><use href="#s" x="1714" y="630"/><use href="#s" x="1714.5" y="721"/><use href="#s" x="1714.5" y="611"/><use href="#s" x="1715" y="682"/><use href="#s" x="1715.5" y="682"/><use href="#s" x="1715.5" y="659"/><use href="#s" x="1716" y="630"/><use href="#s" x="1716" y="659"/><use href="#s" x="1716.5" y="611"/><use href="#s" x="1716.5" y="620"/><use href="#s" x="1717" y="682"/><use href="#s" x="1717" y="620"/><use href="#s" x="1717.5" y="591"/><use href="#s" x="1717.5" y="643"/><use href="#s" x="1718" y="611"/><use href="#s" x="1718" y="597"/><use href="#s" x="1718.5" y="611"/><use href="#s" x="1718.5" y="603.5"/><use href="#s" x="1719" y="659"/><use href="#s" x="1719" y="603.5"/><use href="#s" x="1719.5" y="721"/><use href="#s" x="1719.5" y="643"/><use href="#s" x="1720" y="630"/><use href="#s" x="1720" y="682"/><use href="#s" x="1720.5" y="682"/><use href="#s" x="1720.5" y="620"/><use href="#s" x="1721" y="630"/><use href="#s" x="1721" y="620"/><use href="#s" x="1721.5" y="630"/><use href="#s" x="1722" y="659"/><use href="#s" x="1722" y="682"/><use href="#s" x="1722.5" y="682"/><use href="#s" x="1722.5" y="659"/><use href="#s" x="1723" y="611"/><use href="#s" x="1723.5" y="659"/><use href="#s" x="1723.5" y="620"/><use href="#s" x="1724" y="682"/><use href="#s" x="1724" y="643"/><use href="#s" x="1724.5" y="643"/><use href="#s" x="1724.5" y="630"/><use href="#s" x="1725" y="682"/><use href="#s" x="1725" y="659"/><use href="#s" x="1725.5" y="682"/><use href="#s" x="1725.5" y="620"/><use href="#s" x="1726" y="630"/><use href="#s" x="1726" y="597"/><use href="#s" x="1726.5" y="643"/><use href="#s" x="1726.5" y="611"/><use href="#s" x="1727" y="659"/><use href="#s" x="1727" y="643"/><use href="#s" x="1727.5" y="643"/><use href="#s" x="1727.5" y="659"/><use href="#s" x="1728" y="659"/><use href="#s" x="1728" y="643"/><use href="#s" x="1728.5" y="630"/><use href="#s" x="1728.5" y="659"/><use href="#s" x="1729" y="591"/><use href="#s" x="1729" y="643"/><use href="#s" x="1729" y="659"/><use href="#s" x="1729.5" y="643"/><use href="#s" x="1729.5" y="659"/><use href="#s" x="1730" y="682"/><use href="#s" x="1730" y="643"/><use href="#s" x="1730.5" y="682"/><use href="#s" x="1730.5" y="620"/><use href="#s" x="1731" y="630"/><use href="#s" x="1731" y="611"/><use href="#s" x="1731.5" y="620"/><use href="#s" x="1731.5" y="630"/><use href="#s" x="1732" y="643"/><use href="#s" x="1732.5" y="659"/><use href="#s" x="1732.5" y="643"/><use href="#s" x="1733" y="620"/><use href="#s" x="1733" y="630"/><use href="#s" x="1733.5" y="611"/><use href="#s" x="1733.5" y="643"/><use href="#s" x="1734" y="630"/><use href="#s" x="1734" y="643"/><use href="#s" x="1734.5" y="659"/><use href="#s" x="1734.5" y="721"/><use href="#s" x="1735" y="630"/><use href="#s" x="1735" y="721"/><use href="#s" x="1735.5" y="620"/><use href="#s" x="1735.5" y="611"/><use href="#s" x="1736" y="721"/><use href="#s" x="1736" y="630"/><use href="#s" x="1736.5" y="659"/><use href="#s" x="1737" y="659"/><use href="#s" x="1737" y="682"/><use href="#s" x="1737.5" y="721"/><use href="#s" x="1737.5" y="611"/><use href="#s" x="1738" y="620"/><use href="#s" x="1738" y="597"/><use href="#s" x="1738.5" y="611"/><use href="#s" x="1738.5" y="682"/><use href="#s" x="1739" y="643"/><use href="#s" x="1739" y="659"/><use href="#s" x="1739.5" y="643"/><use href="#s" x="1739.5" y="620"/><use href="#s" x="1740" y="659"/><use href="#s" x="1740" y="630"/><use href="#s" x="1740.5" y="643"/><use href="#s" x="1741" y="630"/><use href="#s" x="1741" y="682"/><use href="#s" x="1741.5" y="682"/><use href="#s" x="1741.5" y="603.5"/><use href="#s" x="1742" y="620"/><use href="#s" x="1742" y="682"/><use href="#s" x="1742" y="611"/><use href="#s" x="1742.5" y="630"/><use href="#s" x="1742.5" y="682"/><use href="#s" x="1743" y="630"/><use href="#s" x="1743.5" y="721"/><use href="#s" x="1743.5" y="659"/><use href="#s" x="1744" y="682"/><use href="#s" x="1744" y="643"/><use href="#s" x="1744.5" y="630"/><use href="#s" x="1744.5" y="659"/><use href="#s" x="1745" y="630"/><use href="#s" x="1745" y="659"/><use href="#s" x="1745.5" y="721"/><use href="#s" x="1745.5" y="643"/><use href="#s" x="1746" y="643"/><use href="#s" x="1746" y="659"/><use href="#s" x="1746.5" y="630"/><use href="#s" x="1747" y="643"/><use href="#s" x="1747" y="659"/><use href="#s" x="1747.5" y="603.5"/><use href="#s" x="1747.5" y="682"/><use href="#s" x="1748" y="643"/><use href="#s" x="1748" y="603.5"/><use href="#s" x="1748.5" y="659"/><use href="#s" x="1748.5" y="682"/><use href="#s" x="1749" y="643"/><use href="#s" x="1749.5" y="603.5"/><use href="#s" x="1749.5" y="643"/><use href="#s" x="1750" y="643"/><use href="#s" x="1750" y="682"/><use href="#s" x="1750.5" y="630"/><use href="#s" x="1750.5" y="611"/><use href="#s" x="1751" y="620"/><use href="#s" x="1751" y="643"/><use href="#s" x="1751.5" y="585.5"/><use href="#s" x="1751.5" y="643"/><use href="#s" x="1752" y="603.5"/><use href="#s" x="1752" y="659"/><use href="#s" x="1752.5" y="620"/><use href="#s" x="1752.5" y="630"/><use href="#s" x="1753" y="620"/><use href="#s" x="1753" y="659"/><use href="#s" x="1753.5" y="643"/><use href="#s" x="1753.5" y="682"/><use href="#s" x="1754" y="620"/><use href="#s" x="1754" y="659"/><use href="#s" x="1754" y="603.5"/><use href="#s" x="1754.5" y="682"/><use href="#s" x="1754.5" y="659"/><use href="#s" x="1755" y="721"/><use href="#s" x="1755" y="682"/><use href="#s" x="1755.5" y="643"/><use href="#s" x="1755.5" y="630"/><use href="#s" x="1756" y="721"/><use href="#s" x="1756" y="643"/><use href="#s" x="1756" y="682"/><use href="#s" x="1756.5" y="630"/><use href="#s" x="1756.5" y="682"/><use href="#s" x="1757" y="659"/><use href="#s" x="1757" y="643"/><use href="#s" x="1757.5" y="630"/><use href="#s" x="1757.5" y="682"/><use href="#s" x="1757.5" y="721"/><use href="#s" x="1758" y="659"/><use href="#s" x="1758" y="682"/><use href="#s" x="1758.5" y="620"/><use href="#s" x="1758.5" y="682"/><use href="#s" x="1759" y="611"/><use href="#s" x="1759" y="643"/><use href="#s" x="1759.5" y="682"/><use href="#s" x="1759.5" y="659"/><use href="#s" x="1760" y="682"/><use href="#s" x="1760" y="659"/><use href="#s" x="1760.5" y="643"/><use href="#s" x="1760.5" y="682"/><use href="#s" x="1761" y="603.5"/><use href="#s" x="1761" y="620"/><use href="#s" x="1761" y="682"/><use href="#s" x="1761.5" y="620"/><use href="#s" x="1761.5" y="659"/><use href="#s" x="1762" y="630"/><use href="#s" x="1762.5" y="620"/><use href="#s" x="1762.5" y="659"/><use href="#s" x="1763" y="659"/><use href="#s" x="1763" y="630"/><use href="#s" x="1763.5" y="611"/><use href="#s" x="1763.5" y="659"/><use href="#s" x="1764" y="721"/><use href="#s" x="1764" y="620"/><use href="#s" x="1764.5" y="659"/><use href="#s" x="1764.5" y="682"/><use href="#s" x="1765" y="643"/><use href="#s" x="1765" y="682"/><use href="#s" x="1765.5" y="682"/><use href="#s" x="1765.5" y="659"/><use href="#s" x="1766" y="682"/><use href="#s" x="1766" y="611"/><use href="#s" x="1766.5" y="611"/><use href="#s" x="1766.5" y="630"/><use href="#s" x="1767" y="682"/><use href="#s" x="1767" y="620"/><use href="#s" x="1767" y="630"/><use href="#s" x="1767.5" y="643"/><use href="#s" x="1768" y="620"/><use href="#s" x="1768" y="659"/><use href="#s" x="1768.5" y="721"/><use href="#s" x="1768.5" y="630"/><use href="#s" x="1769" y="721"/><use href="#s" x="1769" y="659"/><use href="#s" x="1769.5" y="682"/><use href="#s" x="1769.5" y="643"/><use href="#s" x="1770" y="643"/><use href="#s" x="1770" y="682"/><use href="#s" x="1770" y="630"/><use href="#s" x="1770.5" y="682"/><use href="#s" x="1770.5" y="620"/><use href="#s" x="1771" y="659"/><use href="#s" x="1771" y="620"/><use href="#s" x="1771" y="643"/><use href="#s" x="1771.5" y="659"/><use href="#s" x="1771.5" y="603.5"/><use href="#s" x="1772" y="603.5"/><use href="#s" x="1772" y="659"/><use href="#s" x="1772.5" y="659"/><use href="#s" x="1772.5" y="721"/><use href="#s" x="1773" y="611"/><use href="#s" x="1773.5" y="721"/><use href="#s" x="1773.5" y="682"/><use href="#s" x="1774" y="630"/><use href="#s" x="1774" y="659"/><use href="#s" x="1774.5" y="620"/><use href="#s" x="1774.5" y="630"/><use href="#s" x="1775" y="659"/><use href="#s" x="1775" y="643"/><use href="#s" x="1775.5" y="630"/><use href="#s" x="1775.5" y="603.5"/><use href="#s" x="1776" y="643"/><use href="#s" x="1776" y="620"/><use href="#s" x="1776.5" y="620"/><use href="#s" x="1776.5" y="643"/><use href="#s" x="1777" y="659"/><use href="#s" x="1777" y="630"/><use href="#s" x="1777.5" y="721"/><use href="#s" x="1777.5" y="630"/><use href="#s" x="1777.5" y="659"/><use href="#s" x="1778" y="682"/><use href="#s" x="1778.5" y="659"/><use href="#s" x="1778.5" y="630"/><use href="#s" x="1779" y="643"/><use href="#s" x="1779.5" y="659"/><use href="#s" x="1779.5" y="643"/><use href="#s" x="1779.5" y="620"/><use href="#s" x="1780" y="643"/><use href="#s" x="1780.5" y="620"/><use href="#s" x="1780.5" y="721"/><use href="#s" x="1781" y="643"/><use href="#s" x="1781" y="630"/><use href="#s" x="1781.5" y="659"/><use href="#s" x="1781.5" y="603.5"/><use href="#s" x="1782" y="682"/><use href="#s" x="1782" y="721"/><use href="#s" x="1782" y="643"/><use href="#s" x="1782.5" y="643"/><use href="#s" x="1783" y="682"/><use href="#s" x="1783" y="611"/><use href="#s" x="1783" y="630"/><use href="#s" x="1783.5" y="620"/><use href="#s" x="1783.5" y="721"/><use href="#s" x="1784" y="643"/><use href="#s" x="1784" y="682"/><use href="#s" x="1784" y="630"/><use href="#s" x="1784.5" y="603.5"/><use href="#s" x="1784.5" y="630"/><use href="#s" x="1785" y="721"/><use href="#s" x="1785" y="630"/><use href="#s" x="1785" y="659"/><use href="#s" x="1785.5" y="643"/><use href="#s" x="1785.5" y="603.5"/><use href="#s" x="1786" y="721"/><use href="#s" x="1786" y="659"/><use href="#s" x="1786" y="630"/><use href="#s" x="1786.5" y="682"/><use href="#s" x="1786.5" y="659"/><use href="#s" x="1787" y="630"/><use href="#s" x="1787" y="659"/><use href="#s" x="1787.5" y="659"/><use href="#s" x="1787.5" y="630"/><use href="#s" x="1788" y="643"/><use href="#s" x="1788" y="659"/><use href="#s" x="1788" y="591"/><use href="#s" x="1788.5" y="721"/><use href="#s" x="1789" y="721"/><use href="#s" x="1789" y="659"/><use href="#s" x="1789" y="611"/><use href="#s" x="1789.5" y="611"/><use href="#s" x="1789.5" y="659"/><use href="#s" x="1790" y="620"/><use href="#s" x="1790" y="611"/><use href="#s" x="1790.5" y="682"/><use href="#s" x="1790.5" y="659"/><use href="#s" x="1791" y="591"/><use href="#s" x="1791" y="611"/><use href="#s" x="1791.5" y="659"/><use href="#s" x="1791.5" y="643"/><use href="#s" x="1792" y="659"/><use href="#s" x="1792" y="682"/><use href="#s" x="1792.5" y="611"/><use href="#s" x="1792.5" y="603.5"/><use href="#s" x="1792.5" y="630"/><use href="#s" x="1793" y="659"/><use href="#s" x="1793" y="721"/><use href="#s" x="1793.5" y="643"/><use href="#s" x="1793.5" y="597"/><use href="#s" x="1793.5" y="630"/><use href="#s" x="1794" y="682"/><use href="#s" x="1794" y="597"/><use href="#s" x="1794" y="620"/><use href="#s" x="1794.5" y="682"/><use href="#s" x="1794.5" y="659"/><use href="#s" x="1795" y="682"/><use href="#s" x="1795" y="659"/><use href="#s" x="1795" y="611"/><use href="#s" x="1795.5" y="643"/><use href="#s" x="1795.5" y="630"/><use href="#s" x="1796" y="721"/><use href="#s" x="1796" y="659"/><use href="#s" x="1796" y="682"/><use href="#s" x="1796.5" y="643"/><use href="#s" x="1796.5" y="659"/><use href="#s" x="1797" y="643"/><use href="#s" x="1797" y="603.5"/><use href="#s" x="1797" y="659"/><use href="#s" x="1797.5" y="643"/><use href="#s" x="1797.5" y="659"/><use href="#s" x="1798" y="643"/><use href="#s" x="1798.5" y="682"/><use href="#s" x="1798.5" y="630"/><use href="#s" x="1798.5" y="597"/><use href="#s" x="1799" y="721"/><use href="#s" x="1799" y="659"/><use href="#s" x="1799" y="643"/><use href="#s" x="1799.5" y="597"/><use href="#s" x="1799.5" y="659"/><use href="#s" x="1800" y="682"/><use href="#s" x="1800" y="721"/><use href="#s" x="1800" y="630"/><use href="#s" x="1800.5" y="643"/><use href="#s" x="1800.5" y="630"/><use href="#s" x="1801" y="620"/><use href="#s" x="1801" y="682"/><use href="#s" x="1801" y="721"/><use href="#s" x="1801.5" y="630"/><use href="#s" x="1801.5" y="643"/><use href="#s" x="1801.5" y="611"/><use href="#s" x="1802" y="659"/><use href="#s" x="1802" y="630"/><use href="#s" x="1802.5" y="611"/><use href="#s" x="1802.5" y="630"/><use href="#s" x="1802.5" y="721"/><use href="#s" x="1803" y="611"/><use href="#s" x="1803" y="682"/><use href="#s" x="1803.5" y="643"/><use href="#s" x="1803.5" y="659"/><use href="#s" x="1804" y="659"/><use href="#s" x="1804" y="630"/><use href="#s" x="1804" y="643"/><use href="#s" x="1804.5" y="643"/><use href="#s" x="1804.5" y="682"/><use href="#s" x="1804.5" y="620"/><use href="#s" x="1805" y="659"/><use href="#s" x="1805" y="721"/><use href="#s" x="1805.5" y="659"/><use href="#s" x="1805.5" y="721"/><use href="#s" x="1806" y="643"/><use href="#s" x="1806.5" y="643"/><use href="#s" x="1806.5" y="597"/><use href="#s" x="1807" y="682"/><use href="#s" x="1807" y="643"/><use href="#s" x="1807.5" y="643"/><use href="#s" x="1807.5" y="620"/><use href="#s" x="1807.5" y="630"/><use href="#s" x="1808" y="630"/><use href="#s" x="1808" y="659"/><use href="#s" x="1808.5" y="585.5"/><use href="#s" x="1808.5" y="643"/><use href="#s" x="1809" y="643"/><use href="#s" x="1809" y="682"/><use href="#s" x="1809" y="659"/><use href="#s" x="1809.5" y="682"/><use href="#s" x="1809.5" y="721"/><use href="#s" x="1809.5" y="620"/><use href="#s" x="1810" y="659"/><use href="#s" x="1810.5" y="630"/><use href="#s" x="1810.5" y="643"/><use href="#s" x="1811" y="682"/><use href="#s" x="1811" y="630"/><use href="#s" x="1811" y="659"/><use href="#s" x="1811.5" y="630"/><use href="#s" x="1811.5" y="659"/><use href="#s" x="1812" y="643"/><use href="#s" x="1812" y="630"/><use href="#s" x="1812" y="659"/><use href="#s" x="1812.5" y="682"/><use href="#s" x="1812.5" y="721"/><use href="#s" x="1813" y="682"/><use href="#s" x="1813" y="659"/><use href="#s" x="1813.5" y="659"/><use href="#s" x="1813.5" y="682"/><use href="#s" x="1814" y="721"/><use href="#s" x="1814" y="659"/><use href="#s" x="1814" y="597"/><use href="#s" x="1814.5" y="659"/><use href="#s" x="1814.5" y="630"/><use href="#s" x="1815" y="659"/><use href="#s" x="1815" y="611"/><use href="#s" x="1815" y="620"/><use href="#s" x="1815.5" y="630"/><use href="#s" x="1815.5" y="659"/><use href="#s" x="1816" y="659"/><use href="#s" x="1816" y="630"/><use href="#s" x="1816" y="682"/><use href="#s" x="1816.5" y="620"/><use href="#s" x="1816.5" y="682"/><use href="#s" x="1817" y="659"/><use href="#s" x="1817" y="630"/><use href="#s" x="1817.5" y="643"/><use href="#s" x="1817.5" y="620"/><use href="#s" x="1818" y="630"/><use href="#s" x="1818.5" y="659"/><use href="#s" x="1818.5" y="630"/><use href="#s" x="1818.5" y="643"/><use href="#s" x="1819" y="643"/><use href="#s" x="1819" y="682"/><use href="#s" x="1819.5" y="682"/><use href="#s" x="1819.5" y="630"/><use href="#s" x="1820" y="630"/><use href="#s" x="1820" y="659"/><use href="#s" x="1820" y="643"/><use href="#s" x="1820.5" y="721"/><use href="#s" x="1820.5" y="682"/><use href="#s" x="1821" y="643"/><use href="#s" x="1821" y="611"/><use href="#s" x="1821.5" y="721"/><use href="#s" x="1821.5" y="643"/><use href="#s" x="1821.5" y="603.5"/><use href="#s" x="1822" y="682"/><use href="#s" x="1822" y="643"/><use href="#s" x="1822.5" y="682"/><use href="#s" x="1822.5" y="630"/><use href="#s" x="1823" y="721"/><use href="#s" x="1823" y="659"/><use href="#s" x="1823.5" y="620"/><use href="#s" x="1823.5" y="659"/><use href="#s" x="1824" y="721"/><use href="#s" x="1824" y="630"/><use href="#s" x="1824" y="682"/><use href="#s" x="1824.5" y="659"/><use href="#s" x="1824.5" y="682"/><use href="#s" x="1824.5" y="721"/><use href="#s" x="1825" y="659"/><use href="#s" x="1825" y="630"/><use href="#s" x="1825.5" y="721"/><use href="#s" x="1825.5" y="630"/><use href="#s" x="1826" y="630"/><use href="#s" x="1826" y="659"/><use href="#s" x="1826.5" y="630"/><use href="#s" x="1826.5" y="682"/><use href="#s" x="1827" y="659"/><use href="#s" x="1827" y="682"/><use href="#s" x="1827.5" y="721"/><use href="#s" x="1827.5" y="630"/><use href="#s" x="1827.5" y="682"/><use href="#s" x="1828" y="659"/><use href="#s" x="1828" y="611"/><use href="#s" x="1828" y="630"/><use href="#s" x="1828.5" y="611"/><use href="#s" x="1828.5" y="643"/><use href="#s" x="1828.5" y="630"/><use href="#s" x="1829" y="630"/><use href="#s" x="1829" y="643"/><use href="#s" x="1829" y="659"/><use href="#s" x="1829.5" y="620"/><use href="#s" x="1829.5" y="682"/><use href="#s" x="1829.5" y="630"/><use href="#s" x="1830" y="682"/><use href="#s" x="1830" y="620"/><use href="#s" x="1830.5" y="659"/><use href="#s" x="1830.5" y="682"/><use href="#s" x="1830.5" y="630"/><use href="#s" x="1831" y="659"/><use href="#s" x="1831.5" y="682"/><use href="#s" x="1831.5" y="643"/><use href="#s" x="1832" y="643"/><use href="#s" x="1832" y="611"/><use href="#s" x="1832" y="682"/><use href="#s" x="1832.5" y="659"/><use href="#s" x="1832.5" y="630"/><use href="#s" x="1832.5" y="620"/><use href="#s" x="1833" y="643"/><use href="#s" x="1833" y="620"/><use href="#s" x="1833" y="659"/><use href="#s" x="1833.5" y="643"/><use href="#s" x="1833.5" y="611"/><use href="#s" x="1834" y="682"/><use href="#s" x="1834" y="659"/><use href="#s" x="1834.5" y="721"/><use href="#s" x="1834.5" y="630"/><use href="#s" x="1834.5" y="682"/><use href="#s" x="1835" y="682"/><use href="#s" x="1835" y="620"/><use href="#s" x="1835" y="659"/><use href="#s" x="1835.5" y="682"/><use href="#s" x="1835.5" y="630"/><use href="#s" x="1835.5" y="643"/><use href="#s" x="1836" y="682"/><use href="#s" x="1836" y="659"/><use href="#s" x="1836.5" y="682"/><use href="#s" x="1836.5" y="643"/><use href="#s" x="1837" y="611"/><use href="#s" x="1837.5" y="630"/><use href="#s" x="1837.5" y="643"/><use href="#s" x="1838" y="643"/><use href="#s" x="1838" y="682"/><use href="#s" x="1838.5" y="659"/><use href="#s" x="1838.5" y="721"/><use href="#s" x="1838.5" y="630"/><use href="#s" x="1839" y="682"/><use href="#s" x="1839" y="643"/><use href="#s" x="1839" y="630"/><use href="#s" x="1839.5" y="721"/><use href="#s" x="1839.5" y="659"/><use href="#s" x="1840" y="611"/><use href="#s" x="1840" y="659"/><use href="#s" x="1840.5" y="643"/><use href="#s" x="1840.5" y="630"/><use href="#s" x="1841" y="630"/><use href="#s" x="1841" y="643"/><use href="#s" x="1841.5" y="620"/><use href="#s" x="1841.5" y="603.5"/><use href="#s" x="1841.5" y="630"/><use href="#s" x="1842" y="620"/><use href="#s" x="1842" y="643"/><use href="#s" x="1842.5" y="620"/><use href="#s" x="1842.5" y="659"/><use href="#s" x="1842.5" y="643"/><use href="#s" x="1843" y="630"/><use href="#s" x="1843" y="659"/><use href="#s" x="1843.5" y="630"/><use href="#s" x="1843.5" y="611"/><use href="#s" x="1844" y="659"/><use href="#s" x="1844" y="643"/><use href="#s" x="1844.5" y="643"/><use href="#s" x="1844.5" y="659"/><use href="#s" x="1844.5" y="682"/><use href="#s" x="1845" y="682"/><use href="#s" x="1845.5" y="682"/><use href="#s" x="1845.5" y="721"/><use href="#s" x="1845.5" y="659"/><use href="#s" x="1846" y="659"/><use href="#s" x="1846" y="630"/><use href="#s" x="1846.5" y="611"/><use href="#s" x="1846.5" y="659"/><use href="#s" x="1846.5" y="643"/><use href="#s" x="1847" y="630"/><use href="#s" x="1847" y="643"/><use href="#s" x="1847" y="659"/><use href="#s" x="1847.5" y="682"/><use href="#s" x="1847.5" y="643"/><use href="#s" x="1847.5" y="659"/><use href="#s" x="1848" y="682"/><use href="#s" x="1848" y="643"/><use href="#s" x="1848.5" y="659"/><use href="#s" x="1848.5" y="721"/><use href="#s" x="1848.5" y="620"/><use href="#s" x="1848.5" y="643"/><use href="#s" x="1849" y="603.5"/><use href="#s" x="1849" y="659"/><use href="#s" x="1849" y="611"/><use href="#s" x="1849.5" y="630"/><use href="#s" x="1849.5" y="611"/><use href="#s" x="1850" y="630"/><use href="#s" x="1850" y="620"/><use href="#s" x="1850" y="643"/><use href="#s" x="1850.5" y="659"/><use href="#s" x="1850.5" y="630"/><use href="#s" x="1851" y="603.5"/><use href="#s" x="1851" y="659"/><use href="#s" x="1851" y="643"/><use href="#s" x="1851.5" y="721"/><use href="#s" x="1851.5" y="682"/><use href="#s" x="1851.5" y="630"/><use href="#s" x="1852" y="659"/><use href="#s" x="1852" y="643"/><use href="#s" x="1852" y="682"/><use href="#s" x="1852.5" y="611"/><use href="#s" x="1852.5" y="659"/><use href="#s" x="1853" y="682"/><use href="#s" x="1853" y="659"/><use href="#s" x="1853.5" y="630"/><use href="#s" x="1853.5" y="620"/><use href="#s" x="1853.5" y="682"/><use href="#s" x="1854" y="659"/><use href="#s" x="1854" y="643"/><use href="#s" x="1854.5" y="611"/><use href="#s" x="1854.5" y="682"/><use href="#s" x="1854.5" y="643"/><use href="#s" x="1855" y="630"/><use href="#s" x="1855.5" y="643"/><use href="#s" x="1855.5" y="682"/><use href="#s" x="1855.5" y="611"/><use href="#s" x="1856" y="643"/><use href="#s" x="1856" y="659"/><use href="#s" x="1856.5" y="620"/><use href="#s" x="1856.5" y="659"/><use href="#s" x="1856.5" y="721"/><use href="#s" x="1857" y="659"/><use href="#s" x="1857" y="721"/><use href="#s" x="1857.5" y="630"/><use href="#s" x="1857.5" y="682"/><use href="#s" x="1857.5" y="611"/><use href="#s" x="1858" y="643"/><use href="#s" x="1858" y="659"/><use href="#s" x="1858.5" y="630"/><use href="#s" x="1858.5" y="643"/><use href="#s" x="1859" y="682"/><use href="#s" x="1859" y="659"/><use href="#s" x="1859" y="643"/><use href="#s" x="1859.5" y="682"/><use href="#s" x="1859.5" y="659"/><use href="#s" x="1859.5" y="611"/><use href="#s" x="1860" y="620"/><use href="#s" x="1860" y="659"/><use href="#s" x="1860.5" y="630"/><use href="#s" x="1860.5" y="643"/><use href="#s" x="1860.5" y="659"/><use href="#s" x="1861" y="721"/><use href="#s" x="1861" y="643"/><use href="#s" x="1861" y="682"/><use href="#s" x="1861.5" y="643"/><use href="#s" x="1861.5" y="721"/><use href="#s" x="1861.5" y="682"/><use href="#s" x="1861.5" y="659"/><use href="#s" x="1862" y="659"/><use href="#s" x="1862" y="611"/><use href="#s" x="1862" y="643"/><use href="#s" x="1862.5" y="630"/><use href="#s" x="1862.5" y="620"/><use href="#s" x="1862.5" y="659"/><use href="#s" x="1863" y="659"/><use href="#s" x="1863" y="721"/><use href="#s" x="1863" y="682"/><use href="#s" x="1863.5" y="620"/><use href="#s" x="1863.5" y="643"/><use href="#s" x="1863.5" y="603.5"/><use href="#s" x="1863.5" y="659"/><use href="#s" x="1864" y="682"/><use href="#s" x="1864" y="611"/><use href="#s" x="1864.5" y="682"/><use href="#s" x="1864.5" y="630"/><use href="#s" x="1864.5" y="611"/><use href="#s" x="1865" y="620"/><use href="#s" x="1865" y="682"/><use href="#s" x="1865" y="630"/><use href="#s" x="1865.5" y="611"/><use href="#s" x="1865.5" y="643"/><use href="#s" x="1865.5" y="659"/><use href="#s" x="1866" y="643"/><use href="#s" x="1866" y="603.5"/><use href="#s" x="1866" y="682"/><use href="#s" x="1866.5" y="682"/><use href="#s" x="1866.5" y="620"/><use href="#s" x="1866.5" y="659"/><use href="#s" x="1867" y="611"/><use href="#s" x="1867" y="659"/><use href="#s" x="1867" y="682"/><use href="#s" x="1867.5" y="721"/><use href="#s" x="1867.5" y="643"/><use href="#s" x="1867.5" y="659"/><use href="#s" x="1868" y="682"/><use href="#s" x="1868" y="659"/><use href="#s" x="1868" y="611"/><use href="#s" x="1868.5" y="643"/><use href="#s" x="1868.5" y="682"/><use href="#s" x="1868.5" y="620"/><use href="#s" x="1869" y="659"/><use href="#s" x="1869" y="643"/><use href="#s" x="1869" y="721"/><use href="#s" x="1869" y="630"/><use href="#s" x="1869.5" y="682"/><use href="#s" x="1869.5" y="721"/><use href="#s" x="1869.5" y="659"/><use href="#s" x="1870" y="682"/><use href="#s" x="1870" y="659"/><use href="#s" x="1870.5" y="682"/><use href="#s" x="1870.5" y="659"/><use href="#s" x="1870.5" y="643"/><use href="#s" x="1871" y="659"/><use href="#s" x="1871" y="643"/><use href="#s" x="1871.5" y="603.5"/><use href="#s" x="1871.5" y="611"/><use href="#s" x="1871.5" y="643"/><use href="#s" x="1872" y="630"/><use href="#s" x="1872" y="721"/><use href="#s" x="1872" y="643"/><use href="#s" x="1872.5" y="659"/><use href="#s" x="1872.5" y="630"/><use href="#s" x="1873" y="682"/><use href="#s" x="1873" y="611"/><use href="#s" x="1873" y="630"/><use href="#s" x="1873.5" y="643"/><use href="#s" x="1873.5" y="620"/><use href="#s" x="1873.5" y="630"/><use href="#s" x="1874" y="659"/><use href="#s" x="1874" y="643"/><use href="#s" x="1874" y="721"/><use href="#s" x="1874.5" y="611"/><use href="#s" x="1874.5" y="659"/><use href="#s" x="1874.5" y="620"/><use href="#s" x="1875" y="659"/><use href="#s" x="1875" y="630"/><use href="#s" x="1875" y="682"/><use href="#s" x="1875.5" y="597"/><use href="#s" x="1875.5" y="643"/><use href="#s" x="1875.5" y="659"/><use href="#s" x="1876" y="643"/><use href="#s" x="1876" y="659"/><use href="#s" x="1876" y="682"/><use href="#s" x="1876.5" y="643"/><use href="#s" x="1876.5" y="603.5"/><use href="#s" x="1876.5" y="682"/><use href="#s" x="1877" y="611"/><use href="#s" x="1877" y="659"/><use href="#s" x="1877" y="630"/><use href="#s" x="1877.5" y="682"/><use href="#s" x="1877.5" y="659"/><use href="#s" x="1877.5" y="620"/><use href="#s" x="1878" y="659"/><use href="#s" x="1878" y="721"/><use href="#s" x="1878.5" y="630"/><use href="#s" x="1878.5" y="643"/><use href="#s" x="1878.5" y="682"/><use href="#s" x="1879" y="643"/><use href="#s" x="1879" y="630"/><use href="#s" x="1879" y="659"/><use href="#s" x="1879.5" y="630"/><use href="#s" x="1879.5" y="643"/><use href="#s" x="1879.5" y="682"/><use href="#s" x="1880" y="659"/><use href="#s" x="1880" y="721"/><use href="#s" x="1880.5" y="630"/><use href="#s" x="1880.5" y="721"/><use href="#s" x="1880.5" y="659"/><use href="#s" x="1881" y="721"/><use href="#s" x="1881" y="643"/><use href="#s" x="1881" y="682"/><use href="#s" x="1881.5" y="721"/><use href="#s" x="1881.5" y="682"/><use href="#s" x="1882" y="611"/><use href="#s" x="1882" y="659"/><use href="#s" x="1882" y="643"/><use href="#s" x="1882" y="721"/><use href="#s" x="1882.5" y="721"/><use href="#s" x="1882.5" y="682"/><use href="#s" x="1882.5" y="659"/><use href="#s" x="1883" y="659"/><use href="#s" x="1883.5" y="630"/><use href="#s" x="1883.5" y="721"/><use href="#s" x="1884" y="630"/><use href="#s" x="1884" y="721"/><use href="#s" x="1884.5" y="611"/><use href="#s" x="1884.5" y="643"/><use href="#s" x="1885" y="643"/><use href="#s" x="1885" y="659"/><use href="#s" x="1885" y="721"/><use href="#s" x="1885.5" y="620"/><use href="#s" x="1885.5" y="682"/><use href="#s" x="1885.5" y="659"/><use href="#s" x="1886" y="643"/><use href="#s" x="1886" y="630"/><use href="#s" x="1886" y="603.5"/><use href="#s" x="1886.5" y="682"/><use href="#s" x="1886.5" y="659"/><use href="#s" x="1887" y="659"/><use href="#s" x="1887" y="682"/><use href="#s" x="1887" y="630"/><use href="#s" x="1887.5" y="659"/><use href="#s" x="1887.5" y="682"/><use href="#s" x="1887.5" y="643"/><use href="#s" x="1888" y="721"/><use href="#s" x="1888" y="659"/><use href="#s" x="1888" y="620"/><use href="#s" x="1888" y="643"/><use href="#s" x="1888.5" y="659"/><use href="#s" x="1889" y="721"/><use href="#s" x="1889" y="620"/><use href="#s" x="1889" y="611"/><use href="#s" x="1889.5" y="659"/><use href="#s" x="1889.5" y="611"/><use href="#s" x="1890" y="643"/><use href="#s" x="1890" y="630"/><use href="#s" x="1890.5" y="682"/><use href="#s" x="1890.5" y="721"/><use href="#s" x="1890.5" y="659"/><use href="#s" x="1891" y="659"/><use href="#s" x="1891" y="682"/><use href="#s" x="1891" y="643"/><use href="#s" x="1891.5" y="643"/><use href="#s" x="1891.5" y="721"/><use href="#s" x="1891.5" y="659"/><use href="#s" x="1892" y="659"/><use href="#s" x="1892" y="721"/><use href="#s" x="1892" y="611"/><use href="#s" x="1892" y="643"/><use href="#s" x="1892.5" y="659"/><use href="#s" x="1892.5" y="630"/><use href="#s" x="1893" y="643"/><use href="#s" x="1893" y="659"/><use href="#s" x="1893" y="721"/><use href="#s" x="1893" y="682"/><use href="#s" x="1893.5" y="611"/><use href="#s" x="1893.5" y="682"/><use href="#s" x="1893.5" y="659"/><use href="#s" x="1894" y="682"/><use href="#s" x="1894" y="620"/><use href="#s" x="1894.5" y="643"/><use href="#s" x="1894.5" y="611"/><use href="#s" x="1894.5" y="682"/><use href="#s" x="1894.5" y="659"/><use href="#s" x="1895" y="630"/><use href="#s" x="1895" y="659"/><use href="#s" x="1895" y="682"/><use href="#s" x="1895.5" y="682"/><use href="#s" x="1895.5" y="659"/><use href="#s" x="1896" y="630"/><use href="#s" x="1896" y="659"/><use href="#s" x="1896" y="682"/><use href="#s" x="1896.5" y="630"/><use href="#s" x="1896.5" y="620"/><use href="#s" x="1897" y="611"/><use href="#s" x="1897" y="682"/><use href="#s" x="1897" y="659"/><use href="#s" x="1897.5" y="643"/><use href="#s" x="1897.5" y="682"/><use href="#s" x="1897.5" y="659"/><use href="#s" x="1898" y="682"/><use href="#s" x="1898" y="721"/><use href="#s" x="1898" y="643"/><use href="#s" x="1898.5" y="721"/><use href="#s" x="1898.5" y="682"/><use href="#s" x="1898.5" y="659"/><use href="#s" x="1898.5" y="630"/><use href="#s" x="1899" y="721"/><use href="#s" x="1899" y="643"/><use href="#s" x="1899" y="620"/><use href="#s" x="1899" y="682"/><use href="#s" x="1899.5" y="630"/><use href="#s" x="1900" y="682"/><use href="#s" x="1900" y="643"/><use href="#s" x="1900" y="721"/><use href="#s" x="1900.5" y="630"/><use href="#s" x="1900.5" y="682"/><use href="#s" x="1901" y="630"/><use href="#s" x="1901.5" y="682"/><use href="#s" x="1901.5" y="659"/><use href="#s" x="1901.5" y="630"/><use href="#s" x="1901.5" y="611"/><use href="#s" x="1902" y="682"/><use href="#s" x="1902" y="643"/><use href="#s" x="1902" y="721"/><use href="#s" x="1902.5" y="659"/><use href="#s" x="1902.5" y="611"/><use href="#s" x="1903" y="682"/><use href="#s" x="1903" y="643"/><use href="#s" x="1903" y="630"/><use href="#s" x="1903.5" y="659"/><use href="#s" x="1903.5" y="643"/><use href="#s" x="1903.5" y="682"/><use href="#s" x="1903.5" y="630"/><use href="#s" x="1904" y="643"/><use href="#s" x="1904" y="630"/><use href="#s" x="1904" y="682"/><use href="#s" x="1904.5" y="643"/><use href="#s" x="1904.5" y="630"/><use href="#s" x="1904.5" y="659"/><use href="#s" x="1905" y="721"/><use href="#s" x="1905" y="659"/><use href="#s" x="1905" y="630"/><use href="#s" x="1905" y="643"/><use href="#s" x="1905.5" y="620"/><use href="#s" x="1905.5" y="630"/><use href="#s" x="1906" y="620"/><use href="#s" x="1906" y="603.5"/><use href="#s" x="1906" y="630"/><use href="#s" x="1906.5" y="620"/><use href="#s" x="1906.5" y="630"/><use href="#s" x="1906.5" y="643"/><use href="#s" x="1906.5" y="682"/><use href="#s" x="1907" y="721"/><use href="#s" x="1907" y="682"/><use href="#s" x="1907.5" y="659"/><use href="#s" x="1907.5" y="611"/><use href="#s" x="1908" y="643"/><use href="#s" x="1908" y="659"/><use href="#s" x="1908" y="682"/><use href="#s" x="1908.5" y="659"/><use href="#s" x="1908.5" y="630"/><use href="#s" x="1908.5" y="721"/><use href="#s" x="1909" y="659"/><use href="#s" x="1909" y="682"/><use href="#s" x="1909" y="630"/><use href="#s" x="1909.5" y="682"/><use href="#s" x="1910" y="659"/><use href="#s" x="1910" y="630"/><use href="#s" x="1910.5" y="721"/><use href="#s" x="1910.5" y="630"/><use href="#s" x="1910.5" y="643"/><use href="#s" x="1911" y="659"/><use href="#s" x="1911" y="682"/><use href="#s" x="1911" y="721"/><use href="#s" x="1911.5" y="659"/><use href="#s" x="1911.5" y="630"/><use href="#s" x="1911.5" y="721"/><use href="#s" x="1911.5" y="682"/><use href="#s" x="1912" y="682"/><use href="#s" x="1912" y="630"/><use href="#s" x="1912" y="591"/><use href="#s" x="1912" y="721"/><use href="#s" x="1912.5" y="721"/><use href="#s" x="1912.5" y="630"/><use href="#s" x="1912.5" y="603.5"/><use href="#s" x="1912.5" y="611"/><use href="#s" x="1913" y="643"/><use href="#s" x="1913" y="630"/><use href="#s" x="1913" y="603.5"/><use href="#s" x="1913.5" y="630"/><use href="#s" x="1913.5" y="643"/><use href="#s" x="1914" y="682"/><use href="#s" x="1914" y="659"/><use href="#s" x="1914.5" y="603.5"/><use href="#s" x="1914.5" y="643"/><use href="#s" x="1914.5" y="630"/><use href="#s" x="1915" y="611"/><use href="#s" x="1915" y="659"/><use href="#s" x="1915" y="630"/><use href="#s" x="1915" y="643"/><use href="#s" x="1915.5" y="721"/><use href="#s" x="1915.5" y="630"/><use href="#s" x="1916" y="682"/><use href="#s" x="1916" y="643"/><use href="#s" x="1916.5" y="620"/><use href="#s" x="1916.5" y="643"/><use href="#s" x="1916.5" y="682"/><use href="#s" x="1917" y="682"/><use href="#s" x="1917" y="721"/><use href="#s" x="1917" y="659"/><use href="#s" x="1917.5" y="682"/><use href="#s" x="1917.5" y="630"/><use href="#s" x="1918" y="659"/><use href="#s" x="1918" y="643"/><use href="#s" x="1918" y="630"/><use href="#s" x="1918" y="620"/><use href="#s" x="1918.5" y="682"/><use href="#s" x="1918.5" y="643"/><use href="#s" x="1918.5" y="721"/><use href="#s" x="1919" y="721"/><use href="#s" x="1919" y="659"/><use href="#s" x="1919" y="630"/><use href="#s" x="1919" y="643"/><use href="#s" x="1919.5" y="659"/><use href="#s" x="1919.5" y="643"/><use href="#s" x="1919.5" y="682"/><use href="#s" x="1920" y="643"/><use href="#s" x="1920" y="682"/><use href="#s" x="1920" y="630"/><use href="#s" x="1920.5" y="611"/><use href="#s" x="1920.5" y="620"/><use href="#s" x="1920.5" y="643"/><use href="#s" x="1920.5" y="659"/><use href="#s" x="1921" y="630"/><use href="#s" x="1921" y="643"/><use href="#s" x="1921.5" y="630"/><use href="#s" x="1921.5" y="620"/><use href="#s" x="1921.5" y="643"/><use href="#s" x="1921.5" y="682"/><use href="#s" x="1922" y="630"/><use href="#s" x="1922" y="721"/><use href="#s" x="1922" y="603.5"/><use href="#s" x="1922.5" y="682"/><use href="#s" x="1922.5" y="630"/><use href="#s" x="1922.5" y="721"/><use href="#s" x="1923" y="682"/><use href="#s" x="1923" y="630"/><use href="#s" x="1923.5" y="682"/><use href="#s" x="1923.5" y="721"/><use href="#s" x="1923.5" y="659"/><use href="#s" x="1924" y="620"/><use href="#s" x="1924" y="643"/><use href="#s" x="1924" y="721"/><use href="#s" x="1924" y="682"/><use href="#s" x="1924.5" y="620"/><use href="#s" x="1924.5" y="643"/><use href="#s" x="1924.5" y="682"/><use href="#s" x="1925" y="682"/><use href="#s" x="1925" y="721"/><use href="#s" x="1925" y="659"/><use href="#s" x="1925.5" y="659"/><use href="#s" x="1925.5" y="611"/><use href="#s" x="1925.5" y="643"/><use href="#s" x="1926" y="721"/><use href="#s" x="1926" y="643"/><use href="#s" x="1926" y="659"/><use href="#s" x="1926.5" y="682"/><use href="#s" x="1926.5" y="659"/><use href="#s" x="1927" y="643"/><use href="#s" x="1927" y="659"/><use href="#s" x="1927.5" y="682"/><use href="#s" x="1927.5" y="643"/><use href="#s" x="1927.5" y="620"/><use href="#s" x="1928" y="643"/><use href="#s" x="1928" y="659"/><use href="#s" x="1928" y="611"/><use href="#s" x="1928.5" y="682"/><use href="#s" x="1928.5" y="597"/><use href="#s" x="1928.5" y="611"/><use href="#s" x="1928.5" y="643"/><use href="#s" x="1929" y="611"/><use href="#s" x="1929" y="682"/><use href="#s" x="1929" y="603.5"/><use href="#s" x="1929.5" y="721"/><use href="#s" x="1929.5" y="682"/><use href="#s" x="1929.5" y="643"/><use href="#s" x="1930" y="659"/><use href="#s" x="1930" y="643"/><use href="#s" x="1930" y="682"/><use href="#s" x="1930.5" y="643"/><use href="#s" x="1930.5" y="659"/><use href="#s" x="1930.5" y="682"/><use href="#s" x="1931" y="682"/><use href="#s" x="1931" y="643"/><use href="#s" x="1931" y="659"/><use href="#s" x="1931.5" y="620"/><use href="#s" x="1931.5" y="682"/><use href="#s" x="1931.5" y="721"/><use href="#s" x="1932" y="659"/><use href="#s" x="1932" y="682"/><use href="#s" x="1932" y="630"/><use href="#s" x="1932" y="643"/><use href="#s" x="1932.5" y="682"/><use href="#s" x="1932.5" y="620"/><use href="#s" x="1932.5" y="643"/><use href="#s" x="1933" y="620"/><use href="#s" x="1933" y="682"/><use href="#s" x="1933.5" y="682"/><use href="#s" x="1933.5" y="611"/><use href="#s" x="1933.5" y="659"/><use href="#s" x="1933.5" y="630"/><use href="#s" x="1934" y="611"/><use href="#s" x="1934" y="682"/><use href="#s" x="1934" y="630"/><use href="#s" x="1934.5" y="630"/><use href="#s" x="1934.5" y="721"/><use href="#s" x="1934.5" y="659"/><use href="#s" x="1934.5" y="682"/><use href="#s" x="1935" y="620"/><use href="#s" x="1935" y="659"/><use href="#s" x="1935" y="603.5"/><use href="#s" x="1935" y="643"/><use href="#s" x="1935.5" y="620"/><use href="#s" x="1935.5" y="659"/><use href="#s" x="1935.5" y="682"/><use href="#s" x="1935.5" y="721"/><use href="#s" x="1936" y="682"/><use href="#s" x="1936" y="659"/><use href="#s" x="1936" y="630"/><use href="#s" x="1936.5" y="643"/><use href="#s" x="1936.5" y="659"/><use href="#s" x="1937" y="682"/><use href="#s" x="1937" y="630"/><use href="#s" x="1937" y="659"/><use href="#s" x="1937.5" y="611"/><use href="#s" x="1937.5" y="603.5"/><use href="#s" x="1937.5" y="721"/><use href="#s" x="1938" y="620"/><use href="#s" x="1938" y="659"/><use href="#s" x="1938" y="643"/><use href="#s" x="1938.5" y="611"/><use href="#s" x="1938.5" y="682"/><use href="#s" x="1938.5" y="620"/><use href="#s" x="1939" y="643"/><use href="#s" x="1939" y="659"/></g>
<g class="g"><use href="#c" x="427" y="775.5"/><use href="#c" x="445" y="736"/><use href="#c" x="462" y="684.5"/><use href="#c" x="478.5" y="525.5"/><use href="#c" x="493.5" y="342.5"/><use href="#c" x="508.5" y="201"/><use href="#c" x="522" y="125.5"/><use href="#c" x="535.5" y="104"/><use href="#c" x="548.5" y="93.5"/><use href="#c" x="560.5" y="94"/><use href="#c" x="572" y="102.5"/><use href="#c" x="583.5" y="117"/><use href="#c" x="594.5" y="134"/><use href="#c" x="605" y="151"/><use href="#c" x="615" y="168"/><use href="#c" x="625" y="187"/><use href="#c" x="634.5" y="207"/><use href="#c" x="643.5" y="226.5"/><use href="#c" x="652.5" y="243.5"/><use href="#c" x="661" y="260"/><use href="#c" x="669.5" y="275"/><use href="#c" x="678" y="290.5"/><use href="#c" x="686" y="305"/><use href="#c" x="693.5" y="317"/><use href="#c" x="701" y="329"/><use href="#c" x="708.5" y="340.5"/><use href="#c" x="716" y="352"/><use href="#c" x="723" y="361"/><use href="#c" x="729.5" y="369.5"/><use href="#c" x="736.5" y="382"/><use href="#c" x="743" y="392"/><use href="#c" x="749.5" y="393.5"/><use href="#c" x="755.5" y="403.5"/><use href="#c" x="762" y="417"/><use href="#c" x="768" y="419.5"/><use href="#c" x="774" y="431.5"/><use href="#c" x="779.5" y="430"/><use href="#c" x="785.5" y="434.5"/><use href="#c" x="791" y="444.5"/><use href="#c" x="796.5" y="443"/><use href="#c" x="802" y="445.5"/><use href="#c" x="807" y="450"/><use href="#c" x="812.5" y="456"/><use href="#c" x="817.5" y="456.5"/><use href="#c" x="822.5" y="465"/><use href="#c" x="827.5" y="470"/><use href="#c" x="832.5" y="463"/><use href="#c" x="837" y="470.5"/><use href="#c" x="842" y="473.5"/><use href="#c" x="846.5" y="484"/><use href="#c" x="851" y="473.5"/><use href="#c" x="855.5" y="474.5"/><use href="#c" x="860" y="490"/><use href="#c" x="864.5" y="483"/><use href="#c" x="868.5" y="489.5"/><use href="#c" x="873" y="484"/><use href="#c" x="877" y="490.5"/><use href="#c" x="881" y="502.5"/><use href="#c" x="885.5" y="493.5"/><use href="#c" x="889.5" y="502"/><use href="#c" x="893.5" y="495"/><use href="#c" x="897" y="505.5"/><use href="#c" x="901" y="511.5"/><use href="#c" x="905" y="503"/><use href="#c" x="908.5" y="512.5"/><use href="#c" x="912.5" y="506"/><use href="#c" x="916" y="512.5"/><use href="#c" x="919.5" y="510"/><use href="#c" x="923" y="527"/><use href="#c" x="927" y="513.5"/><use href="#c" x="930.5" y="525"/><use href="#c" x="933.5" y="520.5"/><use href="#c" x="937" y="527.5"/><use href="#c" x="940.5" y="522.5"/><use href="#c" x="944" y="521.5"/><use href="#c" x="947" y="525"/><use href="#c" x="950.5" y="527.5"/><use href="#c" x="953.5" y="529"/><use href="#c" x="957" y="539.5"/><use href="#c" x="960" y="525"/><use href="#c" x="963" y="534.5"/><use href="#c" x="966.5" y="542"/><use href="#c" x="969.5" y="526.5"/><use href="#c" x="972.5" y="519"/><use href="#c" x="975.5" y="556.5"/><use href="#c" x="978.5" y="550"/><use href="#c" x="981.5" y="548"/><use href="#c" x="984.5" y="551"/><use href="#c" x="987" y="558"/><use href="#c" x="990" y="536"/><use href="#c" x="993" y="541"/><use href="#c" x="995.5" y="542"/><use href="#c" x="998.5" y="555.5"/><use href="#c" x="1001" y="545"/><use href="#c" x="1004" y="551"/><use href="#c" x="1006.5" y="564"/><use href="#c" x="1009.5" y="560"/><use href="#c" x="1012" y="553"/><use href="#c" x="1014.5" y="549"/><use href="#c" x="1017" y="554.5"/><use href="#c" x="1020" y="547"/><use href="#c" x="1022.5" y="559"/><use href="#c" x="1025" y="550"/><use href="#c" x="1027.5" y="564"/><use href="#c" x="1030" y="563"/><use href="#c" x="1032.5" y="555.5"/><use href="#c" x="1035" y="564"/><use href="#c" x="1037.5" y="561.5"/><use href="#c" x="1040" y="578"/><use href="#c" x="1042" y="576"/><use href="#c" x="1044.5" y="587"/><use href="#c" x="1047" y="564"/><use href="#c" x="1049.5" y="574.5"/><use href="#c" x="1051.5" y="561.5"/><use href="#c" x="1054" y="583"/><use href="#c" x="1056" y="565.5"/><use href="#c" x="1058.5" y="568.5"/><use href="#c" x="1061" y="576"/><use href="#c" x="1063" y="565.5"/><use href="#c" x="1065" y="596"/><use href="#c" x="1067.5" y="570"/><use href="#c" x="1069.5" y="579.5"/><use href="#c" x="1072" y="568.5"/><use href="#c" x="1074" y="563"/><use href="#c" x="1076" y="573"/><use href="#c" x="1078.5" y="579.5"/><use href="#c" x="1080.5" y="565.5"/><use href="#c" x="1082.5" y="576"/><use href="#c" x="1084.5" y="583"/><use href="#c" x="1086.5" y="596"/><use href="#c" x="1088.5" y="581.5"/><use href="#c" x="1090.5" y="576"/><use href="#c" x="1093" y="591"/><use href="#c" x="1095" y="596"/><use href="#c" x="1097" y="596"/><use href="#c" x="1099" y="583"/><use href="#c" x="1100.5" y="591"/><use href="#c" x="1102.5" y="593.5"/><use href="#c" x="1104.5" y="583"/><use href="#c" x="1106.5" y="576"/><use href="#c" x="1108.5" y="593.5"/><use href="#c" x="1110.5" y="593.5"/><use href="#c" x="1112.5" y="593.5"/><use href="#c" x="1114" y="593.5"/><use href="#c" x="1116" y="596"/><use href="#c" x="1118" y="589"/><use href="#c" x="1120" y="579.5"/><use href="#c" x="1121.5" y="583"/><use href="#c" x="1123.5" y="593.5"/><use href="#c" x="1125.5" y="598"/><use href="#c" x="1127" y="589"/><use href="#c" x="1129" y="593.5"/><use href="#c" x="1130.5" y="576"/><use href="#c" x="1132.5" y="576"/><use href="#c" x="1134" y="585"/><use href="#c" x="1136" y="615.5"/><use href="#c" x="1137.5" y="612"/><use href="#c" x="1139.5" y="603.5"/><use href="#c" x="1141" y="585"/><use href="#c" x="1143" y="622.5"/><use href="#c" x="1144.5" y="589"/><use href="#c" x="1146.5" y="598"/><use href="#c" x="1148" y="596"/><use href="#c" x="1149.5" y="593.5"/><use href="#c" x="1151.5" y="615.5"/><use href="#c" x="1153" y="591"/><use href="#c" x="1154.5" y="600.5"/><use href="#c" x="1156.5" y="581.5"/><use href="#c" x="1158" y="593.5"/><use href="#c" x="1159.5" y="593.5"/><use href="#c" x="1161" y="622.5"/><use href="#c" x="1163" y="596"/><use href="#c" x="1164.5" y="600.5"/><use href="#c" x="1166" y="612"/><use href="#c" x="1167.5" y="606"/><use href="#c" x="1169" y="626"/><use href="#c" x="1170.5" y="615.5"/><use href="#c" x="1172" y="609"/><use href="#c" x="1174" y="596"/><use href="#c" x="1175.5" y="596"/><use href="#c" x="1177" y="596"/><use href="#c" x="1178.5" y="630.5"/><use href="#c" x="1180" y="630.5"/><use href="#c" x="1181.5" y="626"/><use href="#c" x="1183" y="606"/><use href="#c" x="1184.5" y="622.5"/><use href="#c" x="1186" y="622.5"/><use href="#c" x="1187.5" y="618.5"/><use href="#c" x="1189" y="630.5"/><use href="#c" x="1190.5" y="609"/><use href="#c" x="1191.5" y="635"/><use href="#c" x="1193" y="600.5"/><use href="#c" x="1194.5" y="651"/><use href="#c" x="1196" y="635"/><use href="#c" x="1197.5" y="618.5"/><use href="#c" x="1199" y="606"/><use href="#c" x="1200.5" y="630.5"/><use href="#c" x="1201.5" y="615.5"/><use href="#c" x="1203" y="615.5"/><use href="#c" x="1204.5" y="612"/><use href="#c" x="1206" y="622.5"/><use href="#c" x="1207.5" y="618.5"/><use href="#c" x="1208.5" y="626"/><use href="#c" x="1210" y="635"/><use href="#c" x="1211.5" y="596"/><use href="#c" x="1213" y="603.5"/><use href="#c" x="1214" y="618.5"/><use href="#c" x="1215.5" y="603.5"/><use href="#c" x="1217" y="640"/><use href="#c" x="1218" y="622.5"/><use href="#c" x="1219.5" y="645.5"/><use href="#c" x="1221" y="598"/><use href="#c" x="1222" y="651"/><use href="#c" x="1223.5" y="640"/><use href="#c" x="1224.5" y="645.5"/><use href="#c" x="1226" y="635"/><use href="#c" x="1227.5" y="640"/><use href="#c" x="1228.5" y="626"/><use href="#c" x="1230" y="618.5"/><use href="#c" x="1231" y="622.5"/><use href="#c" x="1232.5" y="635"/><use href="#c" x="1233.5" y="618.5"/><use href="#c" x="1235" y="609"/><use href="#c" x="1236" y="640"/><use href="#c" x="1237.5" y="606"/><use href="#c" x="1238.5" y="674"/><use href="#c" x="1240" y="612"/><use href="#c" x="1241" y="618.5"/><use href="#c" x="1242.5" y="630.5"/><use href="#c" x="1243.5" y="651"/><use href="#c" x="1245" y="645.5"/><use href="#c" x="1246" y="630.5"/><use href="#c" x="1247.5" y="635"/><use href="#c" x="1248.5" y="626"/><use href="#c" x="1249.5" y="622.5"/><use href="#c" x="1251" y="640"/><use href="#c" x="1252" y="665.5"/><use href="#c" x="1253" y="645.5"/><use href="#c" x="1254.5" y="615.5"/><use href="#c" x="1255.5" y="665.5"/><use href="#c" x="1257" y="626"/><use href="#c" x="1258" y="626"/><use href="#c" x="1259" y="609"/><use href="#c" x="1260.5" y="630.5"/><use href="#c" x="1261.5" y="626"/><use href="#c" x="1262.5" y="626"/><use href="#c" x="1263.5" y="615.5"/><use href="#c" x="1265" y="658"/><use href="#c" x="1266" y="635"/><use href="#c" x="1267" y="645.5"/><use href="#c" x="1268" y="622.5"/><use href="#c" x="1269.5" y="622.5"/><use href="#c" x="1270.5" y="626"/><use href="#c" x="1271.5" y="612"/><use href="#c" x="1272.5" y="651"/><use href="#c" x="1274" y="635"/><use href="#c" x="1275" y="651"/><use href="#c" x="1276" y="640"/><use href="#c" x="1277" y="622.5"/><use href="#c" x="1278" y="622.5"/><use href="#c" x="1279.5" y="674"/><use href="#c" x="1280.5" y="635"/><use href="#c" x="1281.5" y="635"/><use href="#c" x="1282.5" y="626"/><use href="#c" x="1283.5" y="665.5"/><use href="#c" x="1284.5" y="651"/><use href="#c" x="1285.5" y="630.5"/><use href="#c" x="1287" y="626"/><use href="#c" x="1288" y="606"/><use href="#c" x="1289" y="626"/><use href="#c" x="1290" y="635"/><use href="#c" x="1291" y="651"/><use href="#c" x="1292" y="635"/><use href="#c" x="1293" y="635"/><use href="#c" x="1294" y="635"/><use href="#c" x="1295" y="658"/><use href="#c" x="1296" y="630.5"/><use href="#c" x="1297" y="640"/><use href="#c" x="1298" y="658"/><use href="#c" x="1299" y="640"/><use href="#c" x="1300" y="651"/><use href="#c" x="1301" y="645.5"/><use href="#c" x="1302" y="645.5"/><use href="#c" x="1303" y="635"/><use href="#c" x="1304" y="645.5"/><use href="#c" x="1305" y="630.5"/><use href="#c" x="1306" y="630.5"/><use href="#c" x="1307" y="635"/><use href="#c" x="1308" y="630.5"/><use href="#c" x="1309" y="658"/><use href="#c" x="1310" y="645.5"/><use href="#c" x="1311" y="674"/><use href="#c" x="1312" y="697"/><use href="#c" x="1313" y="626"/><use href="#c" x="1314" y="665.5"/><use href="#c" x="1315" y="626"/><use href="#c" x="1316" y="651"/><use href="#c" x="1317" y="674"/><use href="#c" x="1318" y="658"/><use href="#c" x="1319" y="626"/><use href="#c" x="1320" y="645.5"/><use href="#c" x="1320.5" y="665.5"/><use href="#c" x="1321.5" y="630.5"/><use href="#c" x="1322.5" y="658"/><use href="#c" x="1323.5" y="618.5"/><use href="#c" x="1324.5" y="674"/><use href="#c" x="1325.5" y="626"/><use href="#c" x="1326.5" y="665.5"/><use href="#c" x="1327.5" y="640"/><use href="#c" x="1328" y="640"/><use href="#c" x="1329" y="635"/><use href="#c" x="1330" y="684.5"/><use href="#c" x="1331" y="645.5"/><use href="#c" x="1332" y="684.5"/><use href="#c" x="1333" y="674"/><use href="#c" x="1333.5" y="640"/><use href="#c" x="1334.5" y="635"/><use href="#c" x="1335.5" y="697"/><use href="#c" x="1336.5" y="651"/><use href="#c" x="1337.5" y="674"/><use href="#c" x="1338" y="665.5"/><use href="#c" x="1339" y="630.5"/><use href="#c" x="1340" y="651"/><use href="#c" x="1341" y="713.5"/><use href="#c" x="1341.5" y="651"/><use href="#c" x="1342.5" y="697"/><use href="#c" x="1343.5" y="658"/><use href="#c" x="1344.5" y="665.5"/><use href="#c" x="1345" y="674"/><use href="#c" x="1346" y="674"/><use href="#c" x="1347" y="674"/><use href="#c" x="1348" y="658"/><use href="#c" x="1348.5" y="674"/><use href="#c" x="1349.5" y="684.5"/><use href="#c" x="1350.5" y="674"/><use href="#c" x="1351" y="651"/><use href="#c" x="1352" y="665.5"/><use href="#c" x="1353" y="635"/><use href="#c" x="1354" y="674"/><use href="#c" x="1354.5" y="640"/><use href="#c" x="1355.5" y="674"/><use href="#c" x="1356.5" y="645.5"/><use href="#c" x="1357" y="618.5"/><use href="#c" x="1358" y="635"/><use href="#c" x="1359" y="665.5"/><use href="#c" x="1359.5" y="651"/><use href="#c" x="1360.5" y="651"/><use href="#c" x="1361.5" y="640"/><use href="#c" x="1362" y="651"/><use href="#c" x="1363" y="674"/><use href="#c" x="1364" y="684.5"/><use href="#c" x="1364.5" y="775.5"/><use href="#c" x="1365.5" y="658"/><use href="#c" x="1366" y="645.5"/><use href="#c" x="1367" y="658"/><use href="#c" x="1368" y="674"/><use href="#c" x="1368.5" y="645.5"/><use href="#c" x="1369.5" y="640"/><use href="#c" x="1370" y="665.5"/><use href="#c" x="1371" y="665.5"/><use href="#c" x="1372" y="651"/><use href="#c" x="1372.5" y="713.5"/><use href="#c" x="1373.5" y="658"/><use href="#c" x="1374" y="697"/><use href="#c" x="1375" y="658"/><use href="#c" x="1376" y="665.5"/><use href="#c" x="1376.5" y="665.5"/><use href="#c" x="1377.5" y="651"/><use href="#c" x="1378" y="635"/><use href="#c" x="1379" y="658"/><use href="#c" x="1379.5" y="665.5"/><use href="#c" x="1380.5" y="684.5"/><use href="#c" x="1381" y="651"/><use href="#c" x="1382" y="658"/><use href="#c" x="1383" y="658"/><use href="#c" x="1383.5" y="674"/><use href="#c" x="1384.5" y="713.5"/><use href="#c" x="1385" y="684.5"/><use href="#c" x="1386" y="651"/><use href="#c" x="1386.5" y="645.5"/><use href="#c" x="1387.5" y="640"/><use href="#c" x="1388" y="674"/><use href="#c" x="1389" y="713.5"/><use href="#c" x="1389.5" y="684.5"/><use href="#c" x="1390.5" y="658"/><use href="#c" x="1391" y="665.5"/><use href="#c" x="1392" y="630.5"/><use href="#c" x="1392.5" y="684.5"/><use href="#c" x="1393.5" y="674"/><use href="#c" x="1394" y="697"/><use href="#c" x="1395" y="658"/><use href="#c" x="1395.5" y="665.5"/><use href="#c" x="1396.5" y="684.5"/><use href="#c" x="1397" y="665.5"/><use href="#c" x="1397.5" y="658"/><use href="#c" x="1398.5" y="713.5"/><use href="#c" x="1399" y="645.5"/><use href="#c" x="1400" y="651"/><use href="#c" x="1400.5" y="684.5"/><use href="#c" x="1401.5" y="736"/><use href="#c" x="1402" y="658"/><use href="#c" x="1403" y="775.5"/><use href="#c" x="1403.5" y="697"/><use href="#c" x="1404" y="651"/><use href="#c" x="1405" y="645.5"/><use href="#c" x="1405.5" y="713.5"/><use href="#c" x="1406.5" y="674"/><use href="#c" x="1407" y="665.5"/><use href="#c" x="1408" y="674"/><use href="#c" x="1408.5" y="684.5"/><use href="#c" x="1409" y="736"/><use href="#c" x="1410" y="658"/><use href="#c" x="1410.5" y="736"/><use href="#c" x="1411.5" y="665.5"/><use href="#c" x="1412" y="665.5"/><use href="#c" x="1412.5" y="665.5"/><use href="#c" x="1413.5" y="674"/><use href="#c" x="1414" y="684.5"/><use href="#c" x="1415" y="658"/><use href="#c" x="1415.5" y="713.5"/><use href="#c" x="1416" y="665.5"/><use href="#c" x="1417" y="684.5"/><use href="#c" x="1417.5" y="665.5"/><use href="#c" x="1418" y="697"/><use href="#c" x="1419" y="674"/><use href="#c" x="1419.5" y="713.5"/><use href="#c" x="1420" y="713.5"/><use href="#c" x="1421" y="684.5"/><use href="#c" x="1421.5" y="713.5"/><use href="#c" x="1422.5" y="645.5"/><use href="#c" x="1423" y="697"/><use href="#c" x="1423.5" y="697"/><use href="#c" x="1424.5" y="713.5"/><use href="#c" x="1425" y="713.5"/><use href="#c" x="1425.5" y="736"/><use href="#c" x="1426.5" y="674"/><use href="#c" x="1427" y="665.5"/><use href="#c" x="1427.5" y="626"/><use href="#c" x="1428.5" y="713.5"/><use href="#c" x="1429" y="697"/><use href="#c" x="1429.5" y="736"/><use href="#c" x="1430" y="684.5"/><use href="#c" x="1431" y="645.5"/><use href="#c" x="1431.5" y="736"/><use href="#c" x="1432" y="684.5"/><use href="#c" x="1433" y="658"/><use href="#c" x="1433.5" y="651"/><use href="#c" x="1434" y="713.5"/><use href="#c" x="1435" y="713.5"/><use href="#c" x="1435.5" y="713.5"/><use href="#c" x="1436" y="674"/><use href="#c" x="1436.5" y="658"/><use href="#c" x="1437.5" y="697"/><use href="#c" x="1438" y="697"/><use href="#c" x="1438.5" y="697"/><use href="#c" x="1439.5" y="665.5"/><use href="#c" x="1440" y="684.5"/><use href="#c" x="1440.5" y="684.5"/><use href="#c" x="1441" y="658"/><use href="#c" x="1442" y="665.5"/><use href="#c" x="1442.5" y="658"/><use href="#c" x="1443" y="674"/><use href="#c" x="1443.5" y="658"/><use href="#c" x="1444.5" y="674"/><use href="#c" x="1445" y="665.5"/><use href="#c" x="1445.5" y="684.5"/><use href="#c" x="1446" y="674"/><use href="#c" x="1447" y="775.5"/><use href="#c" x="1447.5" y="713.5"/><use href="#c" x="1448" y="665.5"/><use href="#c" x="1448.5" y="684.5"/><use href="#c" x="1449.5" y="697"/><use href="#c" x="1450" y="736"/><use href="#c" x="1450.5" y="736"/><use href="#c" x="1451" y="674"/><use href="#c" x="1451.5" y="674"/><use href="#c" x="1452.5" y="645.5"/><use href="#c" x="1453" y="684.5"/><use href="#c" x="1453.5" y="674"/><use href="#c" x="1454" y="665.5"/><use href="#c" x="1454.5" y="658"/><use href="#c" x="1455.5" y="665.5"/><use href="#c" x="1456" y="697"/><use href="#c" x="1456.5" y="736"/><use href="#c" x="1457" y="713.5"/><use href="#c" x="1457.5" y="713.5"/><use href="#c" x="1458.5" y="674"/><use href="#c" x="1459" y="684.5"/><use href="#c" x="1459.5" y="697"/><use href="#c" x="1460" y="658"/><use href="#c" x="1460.5" y="713.5"/><use href="#c" x="1461.5" y="713.5"/><use href="#c" x="1462" y="651"/><use href="#c" x="1462.5" y="684.5"/><use href="#c" x="1463" y="775.5"/><use href="#c" x="1463.5" y="645.5"/><use href="#c" x="1464" y="674"/><use href="#c" x="1465" y="736"/><use href="#c" x="1465.5" y="697"/><use href="#c" x="1466" y="713.5"/><use href="#c" x="1466.5" y="713.5"/><use href="#c" x="1467" y="736"/><use href="#c" x="1467.5" y="697"/><use href="#c" x="1468.5" y="713.5"/><use href="#c" x="1469" y="684.5"/><use href="#c" x="1469.5" y="665.5"/><use href="#c" x="1470" y="697"/><use href="#c" x="1470.5" y="658"/><use href="#c" x="1471" y="651"/><use href="#c" x="1471.5" y="713.5"/><use href="#c" x="1472.5" y="697"/><use href="#c" x="1473" y="697"/><use href="#c" x="1473.5" y="713.5"/><use href="#c" x="1474" y="713.5"/><use href="#c" x="1474.5" y="658"/><use href="#c" x="1475" y="697"/><use href="#c" x="1475.5" y="736"/><use href="#c" x="1476.5" y="674"/><use href="#c" x="1477" y="736"/><use href="#c" x="1477.5" y="674"/><use href="#c" x="1478" y="736"/><use href="#c" x="1478.5" y="684.5"/><use href="#c" x="1479" y="684.5"/><use href="#c" x="1479.5" y="674"/><use href="#c" x="1480" y="665.5"/><use href="#c" x="1480.5" y="713.5"/><use href="#c" x="1481.5" y="775.5"/><use href="#c" x="1482" y="665.5"/><use href="#c" x="1482.5" y="674"/><use href="#c" x="1483" y="684.5"/><use href="#c" x="1484" y="713.5"/><use href="#c" x="1484.5" y="775.5"/><use href="#c" x="1485" y="674"/><use href="#c" x="1485.5" y="736"/><use href="#c" x="1486" y="736"/><use href="#c" x="1487" y="697"/><use href="#c" x="1487.5" y="713.5"/><use href="#c" x="1488" y="658"/><use href="#c" x="1488.5" y="736"/><use href="#c" x="1489" y="697"/><use href="#c" x="1489.5" y="674"/><use href="#c" x="1490" y="736"/><use href="#c" x="1490.5" y="713.5"/><use href="#c" x="1491" y="697"/><use href="#c" x="1491.5" y="713.5"/><use href="#c" x="1492" y="775.5"/><use href="#c" x="1492.5" y="665.5"/><use href="#c" x="1493" y="665.5"/><use href="#c" x="1493.5" y="775.5"/><use href="#c" x="1494.5" y="684.5"/><use href="#c" x="1495" y="665.5"/><use href="#c" x="1495.5" y="713.5"/><use href="#c" x="1496" y="697"/><use href="#c" x="1496.5" y="713.5"/><use href="#c" x="1497" y="697"/><use href="#c" x="1497.5" y="697"/><use href="#c" x="1498.5" y="713.5"/><use href="#c" x="1499" y="684.5"/><use href="#c" x="1499.5" y="697"/><use href="#c" x="1500" y="713.5"/><use href="#c" x="1500.5" y="697"/><use href="#c" x="1501" y="736"/><use href="#c" x="1501.5" y="684.5"/><use href="#c" x="1502" y="713.5"/><use href="#c" x="1502.5" y="697"/><use href="#c" x="1503" y="736"/><use href="#c" x="1503.5" y="684.5"/><use href="#c" x="1504" y="697"/><use href="#c" x="1504.5" y="651"/><use href="#c" x="1505.5" y="713.5"/><use href="#c" x="1506" y="697"/><use href="#c" x="1506.5" y="736"/><use href="#c" x="1507" y="775.5"/><use href="#c" x="1507.5" y="684.5"/><use href="#c" x="1508" y="697"/><use href="#c" x="1508.5" y="775.5"/><use href="#c" x="1509" y="775.5"/><use href="#c" x="1509.5" y="736"/><use href="#c" x="1510" y="697"/><use href="#c" x="1510.5" y="684.5"/><use href="#c" x="1511" y="736"/><use href="#c" x="1511.5" y="684.5"/><use href="#c" x="1512" y="713.5"/><use href="#c" x="1512.5" y="736"/><use href="#c" x="1513" y="697"/><use href="#c" x="1513.5" y="658"/><use href="#c" x="1514" y="736"/><use href="#c" x="1514.5" y="713.5"/><use href="#c" x="1515.5" y="736"/><use href="#c" x="1516" y="713.5"/><use href="#c" x="1516.5" y="775.5"/><use href="#c" x="1517" y="697"/><use href="#c" x="1517.5" y="736"/><use href="#c" x="1518" y="775.5"/><use href="#c" x="1518.5" y="713.5"/><use href="#c" x="1519" y="713.5"/><use href="#c" x="1519.5" y="713.5"/><use href="#c" x="1520" y="697"/><use href="#c" x="1520.5" y="674"/><use href="#c" x="1521" y="736"/><use href="#c" x="1521.5" y="684.5"/><use href="#c" x="1522" y="713.5"/><use href="#c" x="1522.5" y="775.5"/><use href="#c" x="1523" y="697"/><use href="#c" x="1523.5" y="736"/><use href="#c" x="1524" y="736"/><use href="#c" x="1524.5" y="736"/><use href="#c" x="1525" y="713.5"/><use href="#c" x="1525.5" y="684.5"/><use href="#c" x="1526" y="775.5"/><use href="#c" x="1526.5" y="736"/><use href="#c" x="1527" y="775.5"/><use href="#c" x="1527.5" y="775.5"/><use href="#c" x="1528" y="697"/><use href="#c" x="1528.5" y="674"/><use href="#c" x="1529" y="674"/><use href="#c" x="1529.5" y="713.5"/><use href="#c" x="1530" y="713.5"/><use href="#c" x="1530.5" y="713.5"/><use href="#c" x="1531" y="736"/><use href="#c" x="1531.5" y="713.5"/><use href="#c" x="1532" y="775.5"/><use href="#c" x="1532.5" y="684.5"/><use href="#c" x="1533" y="684.5"/><use href="#c" x="1533.5" y="775.5"/><use href="#c" x="1534" y="697"/><use href="#c" x="1534.5" y="697"/><use href="#c" x="1534.5" y="713.5"/><use href="#c" x="1535" y="713.5"/><use href="#c" x="1536" y="736"/><use href="#c" x="1536.5" y="775.5"/><use href="#c" x="1537" y="736"/><use href="#c" x="1537.5" y="713.5"/><use href="#c" x="1538" y="713.5"/><use href="#c" x="1538.5" y="736"/><use href="#c" x="1539" y="736"/><use href="#c" x="1539.5" y="713.5"/><use href="#c" x="1540" y="697"/><use href="#c" x="1540" y="736"/><use href="#c" x="1540.5" y="736"/><use href="#c" x="1541" y="736"/><use href="#c" x="1541.5" y="697"/><use href="#c" x="1542" y="736"/><use href="#c" x="1542.5" y="713.5"/><use href="#c" x="1543" y="684.5"/><use href="#c" x="1543.5" y="775.5"/><use href="#c" x="1544" y="697"/><use href="#c" x="1544.5" y="775.5"/><use href="#c" x="1544.5" y="713.5"/><use href="#c" x="1545.5" y="651"/><use href="#c" x="1546" y="697"/><use href="#c" x="1546.5" y="775.5"/><use href="#c" x="1547" y="713.5"/><use href="#c" x="1547.5" y="697"/><use href="#c" x="1548" y="674"/><use href="#c" x="1548.5" y="684.5"/><use href="#c" x="1549" y="713.5"/><use href="#c" x="1549.5" y="736"/><use href="#c" x="1550" y="697"/><use href="#c" x="1550.5" y="775.5"/><use href="#c" x="1551" y="713.5"/><use href="#c" x="1551.5" y="684.5"/><use href="#c" x="1552" y="697"/><use href="#c" x="1552" y="713.5"/><use href="#c" x="1553" y="775.5"/><use href="#c" x="1553.5" y="697"/><use href="#c" x="1554" y="775.5"/><use href="#c" x="1554.5" y="697"/><use href="#c" x="1555" y="684.5"/><use href="#c" x="1555.5" y="713.5"/><use href="#c" x="1555.5" y="697"/><use href="#c" x="1556" y="697"/><use href="#c" x="1556.5" y="736"/><use href="#c" x="1557" y="775.5"/><use href="#c" x="1557.5" y="713.5"/><use href="#c" x="1558.5" y="736"/><use href="#c" x="1559" y="651"/><use href="#c" x="1559.5" y="736"/><use href="#c" x="1560" y="736"/><use href="#c" x="1560.5" y="775.5"/><use href="#c" x="1561" y="713.5"/><use href="#c" x="1561.5" y="775.5"/><use href="#c" x="1561.5" y="713.5"/><use href="#c" x="1562" y="713.5"/><use href="#c" x="1562.5" y="684.5"/><use href="#c" x="1563" y="697"/><use href="#c" x="1563.5" y="736"/><use href="#c" x="1564" y="713.5"/><use href="#c" x="1564" y="697"/><use href="#c" x="1564.5" y="713.5"/><use href="#c" x="1565" y="684.5"/><use href="#c" x="1565.5" y="775.5"/><use href="#c" x="1566" y="713.5"/><use href="#c" x="1566.5" y="775.5"/><use href="#c" x="1566.5" y="697"/><use href="#c" x="1567.5" y="640"/><use href="#c" x="1568" y="684.5"/><use href="#c" x="1568.5" y="736"/><use href="#c" x="1569" y="697"/><use href="#c" x="1569" y="736"/><use href="#c" x="1569.5" y="775.5"/><use href="#c" x="1570" y="736"/><use href="#c" x="1570.5" y="736"/><use href="#c" x="1571" y="684.5"/><use href="#c" x="1571.5" y="736"/><use href="#c" x="1572" y="713.5"/><use href="#c" x="1572.5" y="775.5"/><use href="#c" x="1573" y="775.5"/><use href="#c" x="1573.5" y="713.5"/><use href="#c" x="1573.5" y="736"/><use href="#c" x="1574" y="697"/><use href="#c" x="1574.5" y="775.5"/><use href="#c" x="1575" y="775.5"/><use href="#c" x="1575.5" y="775.5"/><use href="#c" x="1575.5" y="713.5"/><use href="#c" x="1576" y="775.5"/><use href="#c" x="1576.5" y="736"/><use href="#c" x="1577" y="736"/><use href="#c" x="1577.5" y="775.5"/><use href="#c" x="1577.5" y="736"/><use href="#c" x="1578" y="736"/><use href="#c" x="1579" y="674"/><use href="#c" x="1579.5" y="736"/><use href="#c" x="1580" y="665.5"/><use href="#c" x="1580.5" y="713.5"/><use href="#c" x="1581" y="736"/><use href="#c" x="1581.5" y="684.5"/><use href="#c" x="1582.5" y="697"/><use href="#c" x="1583" y="713.5"/><use href="#c" x="1583.5" y="697"/><use href="#c" x="1583.5" y="775.5"/><use href="#c" x="1584" y="713.5"/><use href="#c" x="1585" y="697"/><use href="#c" x="1585" y="674"/><use href="#c" x="1585.5" y="775.5"/><use href="#c" x="1586" y="684.5"/><use href="#c" x="1586.5" y="775.5"/><use href="#c" x="1587" y="736"/><use href="#c" x="1587.5" y="713.5"/><use href="#c" x="1588" y="684.5"/><use href="#c" x="1588.5" y="775.5"/><use href="#c" x="1589" y="736"/><use href="#c" x="1589.5" y="736"/><use href="#c" x="1590" y="713.5"/><use href="#c" x="1590.5" y="713.5"/><use href="#c" x="1591" y="713.5"/><use href="#c" x="1592" y="736"/><use href="#c" x="1592" y="713.5"/><use href="#c" x="1592.5" y="713.5"/><use href="#c" x="1593" y="713.5"/><use href="#c" x="1593.5" y="736"/><use href="#c" x="1594" y="697"/><use href="#c" x="1594.5" y="713.5"/><use href="#c" x="1595" y="775.5"/><use href="#c" x="1595.5" y="736"/><use href="#c" x="1596" y="697"/><use href="#c" x="1596.5" y="736"/><use href="#c" x="1596.5" y="775.5"/><use href="#c" x="1597" y="697"/><use href="#c" x="1597.5" y="775.5"/><use href="#c" x="1598" y="713.5"/><use href="#c" x="1598.5" y="736"/><use href="#c" x="1599" y="697"/><use href="#c" x="1599.5" y="713.5"/><use href="#c" x="1599.5" y="736"/><use href="#c" x="1600" y="775.5"/><use href="#c" x="1600.5" y="736"/><use href="#c" x="1601" y="775.5"/><use href="#c" x="1601.5" y="736"/><use href="#c" x="1602" y="684.5"/><use href="#c" x="1602.5" y="736"/><use href="#c" x="1602.5" y="775.5"/><use href="#c" x="1603" y="775.5"/><use href="#c" x="1603.5" y="736"/><use href="#c" x="1604.5" y="697"/><use href="#c" x="1605" y="775.5"/><use href="#c" x="1606" y="775.5"/><use href="#c" x="1606.5" y="684.5"/><use href="#c" x="1606.5" y="775.5"/><use href="#c" x="1607" y="775.5"/><use href="#c" x="1607.5" y="697"/><use href="#c" x="1608" y="736"/><use href="#c" x="1608.5" y="736"/><use href="#c" x="1609" y="775.5"/><use href="#c" x="1609" y="713.5"/><use href="#c" x="1610" y="713.5"/><use href="#c" x="1610.5" y="736"/><use href="#c" x="1610.5" y="697"/><use href="#c" x="1611" y="775.5"/><use href="#c" x="1611.5" y="775.5"/><use href="#c" x="1612" y="736"/><use href="#c" x="1612.5" y="736"/><use href="#c" x="1613" y="697"/><use href="#c" x="1613.5" y="775.5"/><use href="#c" x="1614" y="736"/><use href="#c" x="1614.5" y="736"/><use href="#c" x="1615" y="697"/><use href="#c" x="1615.5" y="697"/><use href="#c" x="1616" y="736"/><use href="#c" x="1616.5" y="697"/><use href="#c" x="1616.5" y="775.5"/><use href="#c" x="1617" y="736"/><use href="#c" x="1617.5" y="775.5"/><use href="#c" x="1617.5" y="736"/><use href="#c" x="1618" y="736"/><use href="#c" x="1618.5" y="775.5"/><use href="#c" x="1619" y="736"/><use href="#c" x="1620" y="775.5"/><use href="#c" x="1620.5" y="736"/><use href="#c" x="1621" y="697"/><use href="#c" x="1621.5" y="736"/><use href="#c" x="1622" y="775.5"/><use href="#c" x="1623" y="775.5"/><use href="#c" x="1623.5" y="775.5"/><use href="#c" x="1623.5" y="736"/><use href="#c" x="1624" y="684.5"/><use href="#c" x="1624.5" y="775.5"/><use href="#c" x="1625.5" y="736"/><use href="#c" x="1626.5" y="775.5"/><use href="#c" x="1626.5" y="736"/><use href="#c" x="1627" y="713.5"/><use href="#c" x="1627.5" y="775.5"/><use href="#c" x="1628" y="736"/><use href="#c" x="1628.5" y="736"/><use href="#c" x="1628.5" y="713.5"/><use href="#c" x="1629" y="775.5"/><use href="#c" x="1629.5" y="775.5"/><use href="#c" x="1630" y="736"/><use href="#c" x="1630.5" y="736"/><use href="#c" x="1630.5" y="775.5"/><use href="#c" x="1631" y="775.5"/><use href="#c" x="1631.5" y="775.5"/><use href="#c" x="1631.5" y="713.5"/><use href="#c" x="1632.5" y="713.5"/><use href="#c" x="1633" y="713.5"/><use href="#c" x="1633.5" y="775.5"/><use href="#c" x="1634" y="736"/><use href="#c" x="1634.5" y="736"/><use href="#c" x="1634.5" y="775.5"/><use href="#c" x="1635.5" y="775.5"/><use href="#c" x="1635.5" y="736"/><use href="#c" x="1636" y="775.5"/><use href="#c" x="1636.5" y="736"/><use href="#c" x="1637" y="736"/><use href="#c" x="1637.5" y="713.5"/><use href="#c" x="1637.5" y="736"/><use href="#c" x="1638" y="775.5"/><use href="#c" x="1638.5" y="736"/><use href="#c" x="1639" y="713.5"/><use href="#c" x="1639.5" y="736"/><use href="#c" x="1640" y="736"/><use href="#c" x="1640.5" y="736"/><use href="#c" x="1641" y="775.5"/><use href="#c" x="1641.5" y="775.5"/><use href="#c" x="1641.5" y="736"/><use href="#c" x="1642" y="775.5"/><use href="#c" x="1642.5" y="775.5"/><use href="#c" x="1643" y="713.5"/><use href="#c" x="1643" y="684.5"/><use href="#c" x="1643.5" y="713.5"/><use href="#c" x="1644" y="697"/><use href="#c" x="1644.5" y="713.5"/><use href="#c" x="1645.5" y="697"/><use href="#c" x="1646" y="736"/><use href="#c" x="1646.5" y="684.5"/><use href="#c" x="1646.5" y="736"/><use href="#c" x="1647.5" y="697"/><use href="#c" x="1648" y="775.5"/><use href="#c" x="1649" y="736"/><use href="#c" x="1649.5" y="713.5"/><use href="#c" x="1649.5" y="736"/><use href="#c" x="1650" y="775.5"/><use href="#c" x="1650.5" y="775.5"/><use href="#c" x="1651" y="736"/><use href="#c" x="1651.5" y="736"/><use href="#c" x="1652" y="775.5"/><use href="#c" x="1652.5" y="713.5"/><use href="#c" x="1652.5" y="736"/><use href="#c" x="1653" y="775.5"/><use href="#c" x="1653.5" y="736"/><use href="#c" x="1653.5" y="775.5"/><use href="#c" x="1654" y="775.5"/><use href="#c" x="1654.5" y="736"/><use href="#c" x="1655" y="775.5"/><use href="#c" x="1655" y="697"/><use href="#c" x="1656" y="775.5"/><use href="#c" x="1656" y="736"/><use href="#c" x="1656.5" y="736"/><use href="#c" x="1657" y="736"/><use href="#c" x="1657.5" y="775.5"/><use href="#c" x="1657.5" y="736"/><use href="#c" x="1658" y="775.5"/><use href="#c" x="1658.5" y="775.5"/><use href="#c" x="1659" y="775.5"/><use href="#c" x="1659.5" y="736"/><use href="#c" x="1660" y="736"/><use href="#c" x="1660.5" y="713.5"/><use href="#c" x="1660.5" y="775.5"/><use href="#c" x="1661" y="775.5"/><use href="#c" x="1661.5" y="775.5"/><use href="#c" x="1662" y="713.5"/><use href="#c" x="1662.5" y="736"/><use href="#c" x="1663" y="697"/><use href="#c" x="1663.5" y="775.5"/><use href="#c" x="1664" y="775.5"/><use href="#c" x="1664.5" y="775.5"/><use href="#c" x="1665" y="775.5"/><use href="#c" x="1665" y="713.5"/><use href="#c" x="1665.5" y="713.5"/><use href="#c" x="1666" y="713.5"/><use href="#c" x="1666" y="736"/><use href="#c" x="1666.5" y="713.5"/><use href="#c" x="1667" y="697"/><use href="#c" x="1667.5" y="736"/><use href="#c" x="1667.5" y="697"/><use href="#c" x="1668" y="775.5"/><use href="#c" x="1669" y="775.5"/><use href="#c" x="1669.5" y="736"/><use href="#c" x="1669.5" y="697"/><use href="#c" x="1670" y="775.5"/><use href="#c" x="1670.5" y="775.5"/><use href="#c" x="1671" y="736"/><use href="#c" x="1671.5" y="736"/><use href="#c" x="1672" y="736"/><use href="#c" x="1672.5" y="736"/><use href="#c" x="1673" y="713.5"/><use href="#c" x="1673.5" y="736"/><use href="#c" x="1673.5" y="775.5"/><use href="#c" x="1674" y="697"/><use href="#c" x="1674.5" y="736"/><use href="#c" x="1675" y="736"/><use href="#c" x="1675.5" y="736"/><use href="#c" x="1676" y="775.5"/><use href="#c" x="1676.5" y="775.5"/><use href="#c" x="1677" y="736"/><use href="#c" x="1677" y="665.5"/><use href="#c" x="1677.5" y="775.5"/><use href="#c" x="1678" y="775.5"/><use href="#c" x="1678.5" y="736"/><use href="#c" x="1679" y="775.5"/><use href="#c" x="1679" y="684.5"/><use href="#c" x="1679.5" y="736"/><use href="#c" x="1680" y="736"/><use href="#c" x="1680" y="775.5"/><use href="#c" x="1680.5" y="697"/><use href="#c" x="1680.5" y="775.5"/><use href="#c" x="1681" y="713.5"/><use href="#c" x="1681" y="736"/><use href="#c" x="1681.5" y="775.5"/><use href="#c" x="1682" y="775.5"/><use href="#c" x="1682.5" y="736"/><use href="#c" x="1683" y="775.5"/><use href="#c" x="1683" y="736"/><use href="#c" x="1683.5" y="775.5"/><use href="#c" x="1684" y="736"/><use href="#c" x="1684.5" y="736"/><use href="#c" x="1684.5" y="775.5"/><use href="#c" x="1685" y="665.5"/><use href="#c" x="1685.5" y="775.5"/><use href="#c" x="1685.5" y="736"/><use href="#c" x="1686" y="736"/><use href="#c" x="1686.5" y="775.5"/><use href="#c" x="1687" y="775.5"/><use href="#c" x="1687" y="736"/><use href="#c" x="1687.5" y="736"/><use href="#c" x="1687.5" y="713.5"/><use href="#c" x="1688" y="736"/><use href="#c" x="1688.5" y="736"/><use href="#c" x="1689" y="736"/><use href="#c" x="1689" y="713.5"/><use href="#c" x="1689.5" y="736"/><use href="#c" x="1690" y="736"/><use href="#c" x="1690.5" y="736"/><use href="#c" x="1691" y="736"/><use href="#c" x="1691" y="713.5"/><use href="#c" x="1692" y="775.5"/><use href="#c" x="1692" y="736"/><use href="#c" x="1692.5" y="736"/><use href="#c" x="1692.5" y="775.5"/><use href="#c" x="1693" y="736"/><use href="#c" x="1693.5" y="697"/><use href="#c" x="1693.5" y="713.5"/><use href="#c" x="1694" y="736"/><use href="#c" x="1694.5" y="775.5"/><use href="#c" x="1695" y="736"/><use href="#c" x="1695.5" y="736"/><use href="#c" x="1696" y="713.5"/><use href="#c" x="1696.5" y="736"/><use href="#c" x="1697.5" y="736"/><use href="#c" x="1697.5" y="775.5"/><use href="#c" x="1698" y="736"/><use href="#c" x="1698.5" y="713.5"/><use href="#c" x="1698.5" y="736"/><use href="#c" x="1699" y="775.5"/><use href="#c" x="1700" y="775.5"/><use href="#c" x="1700.5" y="775.5"/><use href="#c" x="1700.5" y="736"/><use href="#c" x="1702" y="775.5"/><use href="#c" x="1702.5" y="697"/><use href="#c" x="1703" y="775.5"/><use href="#c" x="1703" y="684.5"/><use href="#c" x="1703.5" y="775.5"/><use href="#c" x="1703.5" y="697"/><use href="#c" x="1704" y="736"/><use href="#c" x="1704" y="775.5"/><use href="#c" x="1704.5" y="713.5"/><use href="#c" x="1704.5" y="736"/><use href="#c" x="1705" y="736"/><use href="#c" x="1705.5" y="775.5"/><use href="#c" x="1706" y="736"/><use href="#c" x="1706.5" y="736"/><use href="#c" x="1707" y="736"/><use href="#c" x="1707.5" y="736"/><use href="#c" x="1707.5" y="713.5"/><use href="#c" x="1708.5" y="775.5"/><use href="#c" x="1709" y="736"/><use href="#c" x="1709.5" y="775.5"/><use href="#c" x="1710" y="775.5"/><use href="#c" x="1711" y="736"/><use href="#c" x="1711.5" y="775.5"/><use href="#c" x="1712" y="775.5"/><use href="#c" x="1712.5" y="775.5"/><use href="#c" x="1713" y="713.5"/><use href="#c" x="1713.5" y="775.5"/><use href="#c" x="1714" y="775.5"/><use href="#c" x="1714" y="713.5"/><use href="#c" x="1714.5" y="775.5"/><use href="#c" x="1715" y="736"/><use href="#c" x="1715" y="713.5"/><use href="#c" x="1715.5" y="713.5"/><use href="#c" x="1716" y="775.5"/><use href="#c" x="1716" y="713.5"/><use href="#c" x="1716.5" y="736"/><use href="#c" x="1716.5" y="775.5"/><use href="#c" x="1717" y="775.5"/><use href="#c" x="1717" y="736"/><use href="#c" x="1717.5" y="736"/><use href="#c" x="1717.5" y="775.5"/><use href="#c" x="1718" y="736"/><use href="#c" x="1718.5" y="736"/><use href="#c" x="1719" y="775.5"/><use href="#c" x="1719.5" y="775.5"/><use href="#c" x="1720" y="736"/><use href="#c" x="1720.5" y="775.5"/><use href="#c" x="1720.5" y="736"/><use href="#c" x="1721" y="775.5"/><use href="#c" x="1721.5" y="775.5"/><use href="#c" x="1722" y="775.5"/><use href="#c" x="1722.5" y="713.5"/><use href="#c" x="1722.5" y="775.5"/><use href="#c" x="1723" y="775.5"/><use href="#c" x="1723.5" y="775.5"/><use href="#c" x="1723.5" y="674"/><use href="#c" x="1724" y="775.5"/><use href="#c" x="1724.5" y="775.5"/><use href="#c" x="1724.5" y="736"/><use href="#c" x="1725" y="775.5"/><use href="#c" x="1725.5" y="775.5"/><use href="#c" x="1726" y="713.5"/><use href="#c" x="1726.5" y="775.5"/><use href="#c" x="1727" y="713.5"/><use href="#c" x="1727" y="775.5"/><use href="#c" x="1727.5" y="713.5"/><use href="#c" x="1727.5" y="775.5"/><use href="#c" x="1728" y="736"/><use href="#c" x="1728.5" y="775.5"/><use href="#c" x="1729" y="736"/><use href="#c" x="1729" y="775.5"/><use href="#c" x="1729.5" y="775.5"/><use href="#c" x="1730" y="775.5"/><use href="#c" x="1730.5" y="736"/><use href="#c" x="1731" y="775.5"/><use href="#c" x="1731.5" y="775.5"/><use href="#c" x="1731.5" y="736"/><use href="#c" x="1732" y="775.5"/><use href="#c" x="1732.5" y="736"/><use href="#c" x="1733" y="736"/><use href="#c" x="1733.5" y="736"/><use href="#c" x="1733.5" y="775.5"/><use href="#c" x="1734" y="736"/><use href="#c" x="1734" y="713.5"/><use href="#c" x="1734.5" y="736"/><use href="#c" x="1734.5" y="775.5"/><use href="#c" x="1735" y="775.5"/><use href="#c" x="1735" y="736"/><use href="#c" x="1735.5" y="775.5"/><use href="#c" x="1736" y="775.5"/><use href="#c" x="1736.5" y="775.5"/><use href="#c" x="1737" y="775.5"/><use href="#c" x="1737.5" y="736"/><use href="#c" x="1738" y="775.5"/><use href="#c" x="1738.5" y="775.5"/><use href="#c" x="1738.5" y="736"/><use href="#c" x="1739" y="736"/><use href="#c" x="1739.5" y="775.5"/><use href="#c" x="1740" y="775.5"/><use href="#c" x="1740.5" y="736"/><use href="#c" x="1741" y="736"/><use href="#c" x="1741" y="775.5"/><use href="#c" x="1741.5" y="775.5"/><use href="#c" x="1741.5" y="736"/><use href="#c" x="1742" y="775.5"/><use href="#c" x="1742" y="713.5"/><use href="#c" x="1742.5" y="775.5"/><use href="#c" x="1743" y="713.5"/><use href="#c" x="1743" y="775.5"/><use href="#c" x="1743.5" y="775.5"/><use href="#c" x="1743.5" y="736"/><use href="#c" x="1744" y="775.5"/><use href="#c" x="1744.5" y="775.5"/><use href="#c" x="1744.5" y="713.5"/><use href="#c" x="1744.5" y="736"/><use href="#c" x="1745" y="775.5"/><use href="#c" x="1745.5" y="775.5"/><use href="#c" x="1746" y="775.5"/><use href="#c" x="1746.5" y="697"/><use href="#c" x="1746.5" y="775.5"/><use href="#c" x="1747" y="736"/><use href="#c" x="1747" y="775.5"/><use href="#c" x="1747.5" y="697"/><use href="#c" x="1747.5" y="775.5"/><use href="#c" x="1748" y="697"/><use href="#c" x="1748" y="775.5"/><use href="#c" x="1748.5" y="775.5"/><use href="#c" x="1749" y="736"/><use href="#c" x="1749" y="775.5"/><use href="#c" x="1749.5" y="736"/><use href="#c" x="1750" y="697"/><use href="#c" x="1750" y="775.5"/><use href="#c" x="1750.5" y="775.5"/><use href="#c" x="1750.5" y="713.5"/><use href="#c" x="1751" y="775.5"/><use href="#c" x="1751" y="736"/><use href="#c" x="1751.5" y="736"/><use href="#c" x="1752" y="736"/><use href="#c" x="1752" y="775.5"/><use href="#c" x="1753" y="775.5"/><use href="#c" x="1753.5" y="775.5"/><use href="#c" x="1754" y="736"/><use href="#c" x="1754" y="713.5"/><use href="#c" x="1754.5" y="775.5"/><use href="#c" x="1754.5" y="697"/><use href="#c" x="1755" y="736"/><use href="#c" x="1756" y="775.5"/><use href="#c" x="1756" y="736"/><use href="#c" x="1756.5" y="775.5"/><use href="#c" x="1756.5" y="713.5"/><use href="#c" x="1757" y="775.5"/><use href="#c" x="1757" y="697"/><use href="#c" x="1757.5" y="713.5"/><use href="#c" x="1757.5" y="736"/><use href="#c" x="1758" y="775.5"/><use href="#c" x="1758.5" y="775.5"/><use href="#c" x="1759" y="775.5"/><use href="#c" x="1759" y="736"/><use href="#c" x="1759.5" y="736"/><use href="#c" x="1759.5" y="713.5"/><use href="#c" x="1760" y="775.5"/><use href="#c" x="1760.5" y="775.5"/><use href="#c" x="1761" y="684.5"/><use href="#c" x="1761" y="736"/><use href="#c" x="1761.5" y="775.5"/><use href="#c" x="1762" y="775.5"/><use href="#c" x="1762" y="736"/><use href="#c" x="1762.5" y="775.5"/><use href="#c" x="1763" y="775.5"/><use href="#c" x="1763.5" y="713.5"/><use href="#c" x="1764.5" y="736"/><use href="#c" x="1765" y="736"/><use href="#c" x="1765.5" y="736"/><use href="#c" x="1766.5" y="775.5"/><use href="#c" x="1767" y="713.5"/><use href="#c" x="1767" y="736"/><use href="#c" x="1767.5" y="736"/><use href="#c" x="1768" y="775.5"/><use href="#c" x="1768.5" y="775.5"/><use href="#c" x="1768.5" y="736"/><use href="#c" x="1769" y="775.5"/><use href="#c" x="1769.5" y="736"/><use href="#c" x="1770" y="775.5"/><use href="#c" x="1770.5" y="775.5"/><use href="#c" x="1770.5" y="736"/><use href="#c" x="1771" y="775.5"/><use href="#c" x="1771.5" y="775.5"/><use href="#c" x="1771.5" y="736"/><use href="#c" x="1772" y="713.5"/><use href="#c" x="1772.5" y="775.5"/><use href="#c" x="1772.5" y="684.5"/><use href="#c" x="1772.5" y="736"/><use href="#c" x="1773" y="775.5"/><use href="#c" x="1773.5" y="736"/><use href="#c" x="1773.5" y="775.5"/><use href="#c" x="1774" y="775.5"/><use href="#c" x="1774" y="736"/><use href="#c" x="1774.5" y="775.5"/><use href="#c" x="1775" y="736"/><use href="#c" x="1775" y="775.5"/><use href="#c" x="1775.5" y="775.5"/><use href="#c" x="1776" y="713.5"/><use href="#c" x="1776" y="736"/><use href="#c" x="1776.5" y="736"/><use href="#c" x="1776.5" y="775.5"/><use href="#c" x="1777" y="736"/><use href="#c" x="1777" y="775.5"/><use href="#c" x="1777.5" y="775.5"/><use href="#c" x="1778" y="775.5"/><use href="#c" x="1778.5" y="697"/><use href="#c" x="1778.5" y="775.5"/><use href="#c" x="1779" y="736"/><use href="#c" x="1779" y="775.5"/><use href="#c" x="1779.5" y="775.5"/><use href="#c" x="1780" y="713.5"/><use href="#c" x="1780" y="775.5"/><use href="#c" x="1780.5" y="775.5"/><use href="#c" x="1781" y="775.5"/><use href="#c" x="1781.5" y="775.5"/><use href="#c" x="1782" y="736"/><use href="#c" x="1782.5" y="775.5"/><use href="#c" x="1782.5" y="736"/><use href="#c" x="1783" y="775.5"/><use href="#c" x="1783" y="736"/><use href="#c" x="1783.5" y="736"/><use href="#c" x="1784" y="775.5"/><use href="#c" x="1784" y="736"/><use href="#c" x="1784.5" y="713.5"/><use href="#c" x="1784.5" y="775.5"/><use href="#c" x="1785" y="775.5"/><use href="#c" x="1785.5" y="775.5"/><use href="#c" x="1786" y="775.5"/><use href="#c" x="1786.5" y="775.5"/><use href="#c" x="1786.5" y="736"/><use href="#c" x="1787" y="713.5"/><use href="#c" x="1787" y="736"/><use href="#c" x="1788" y="736"/><use href="#c" x="1788.5" y="775.5"/><use href="#c" x="1789" y="713.5"/><use href="#c" x="1789" y="775.5"/><use href="#c" x="1789.5" y="775.5"/><use href="#c" x="1789.5" y="736"/><use href="#c" x="1790.5" y="736"/><use href="#c" x="1790.5" y="775.5"/><use href="#c" x="1791" y="775.5"/><use href="#c" x="1791.5" y="736"/><use href="#c" x="1792" y="736"/><use href="#c" x="1792.5" y="775.5"/><use href="#c" x="1793" y="713.5"/><use href="#c" x="1793" y="775.5"/><use href="#c" x="1793.5" y="736"/><use href="#c" x="1794" y="736"/><use href="#c" x="1794" y="775.5"/><use href="#c" x="1794.5" y="775.5"/><use href="#c" x="1795" y="775.5"/><use href="#c" x="1795.5" y="775.5"/><use href="#c" x="1796" y="736"/><use href="#c" x="1796" y="775.5"/><use href="#c" x="1796.5" y="775.5"/><use href="#c" x="1797" y="775.5"/><use href="#c" x="1797.5" y="775.5"/><use href="#c" x="1797.5" y="736"/><use href="#c" x="1798" y="736"/><use href="#c" x="1798.5" y="736"/><use href="#c" x="1798.5" y="775.5"/><use href="#c" x="1799" y="775.5"/><use href="#c" x="1799" y="736"/><use href="#c" x="1799.5" y="775.5"/><use href="#c" x="1800" y="775.5"/><use href="#c" x="1800.5" y="775.5"/><use href="#c" x="1801" y="775.5"/><use href="#c" x="1801" y="736"/><use href="#c" x="1801.5" y="775.5"/><use href="#c" x="1802" y="775.5"/><use href="#c" x="1802.5" y="736"/><use href="#c" x="1802.5" y="713.5"/><use href="#c" x="1802.5" y="775.5"/><use href="#c" x="1803" y="713.5"/><use href="#c" x="1803" y="775.5"/><use href="#c" x="1803.5" y="684.5"/><use href="#c" x="1804" y="736"/><use href="#c" x="1804.5" y="775.5"/><use href="#c" x="1804.5" y="736"/><use href="#c" x="1805" y="713.5"/><use href="#c" x="1805.5" y="775.5"/><use href="#c" x="1806" y="736"/><use href="#c" x="1806" y="775.5"/><use href="#c" x="1806.5" y="775.5"/><use href="#c" x="1807" y="775.5"/><use href="#c" x="1807.5" y="775.5"/><use href="#c" x="1807.5" y="713.5"/><use href="#c" x="1808" y="775.5"/><use href="#c" x="1808.5" y="775.5"/><use href="#c" x="1809" y="713.5"/><use href="#c" x="1809" y="775.5"/><use href="#c" x="1810" y="775.5"/><use href="#c" x="1810.5" y="775.5"/><use href="#c" x="1811" y="713.5"/><use href="#c" x="1811" y="775.5"/><use href="#c" x="1811.5" y="713.5"/><use href="#c" x="1812" y="713.5"/><use href="#c" x="1812" y="775.5"/><use href="#c" x="1812.5" y="775.5"/><use href="#c" x="1813" y="736"/><use href="#c" x="1813" y="775.5"/><use href="#c" x="1813.5" y="775.5"/><use href="#c" x="1813.5" y="713.5"/><use href="#c" x="1814" y="775.5"/><use href="#c" x="1814.5" y="775.5"/><use href="#c" x="1815" y="713.5"/><use href="#c" x="1815" y="775.5"/><use href="#c" x="1815.5" y="775.5"/><use href="#c" x="1816" y="736"/><use href="#c" x="1816.5" y="736"/><use href="#c" x="1816.5" y="775.5"/><use href="#c" x="1817" y="713.5"/><use href="#c" x="1817" y="775.5"/><use href="#c" x="1817.5" y="775.5"/><use href="#c" x="1817.5" y="713.5"/><use href="#c" x="1818" y="713.5"/><use href="#c" x="1818.5" y="775.5"/><use href="#c" x="1819" y="736"/><use href="#c" x="1819" y="713.5"/><use href="#c" x="1819.5" y="775.5"/><use href="#c" x="1819.5" y="736"/><use href="#c" x="1820.5" y="775.5"/><use href="#c" x="1821" y="775.5"/><use href="#c" x="1821.5" y="775.5"/><use href="#c" x="1822" y="736"/><use href="#c" x="1822.5" y="775.5"/><use href="#c" x="1823" y="736"/><use href="#c" x="1823" y="775.5"/><use href="#c" x="1823.5" y="775.5"/><use href="#c" x="1824" y="736"/><use href="#c" x="1824.5" y="736"/><use href="#c" x="1825" y="713.5"/><use href="#c" x="1825" y="775.5"/><use href="#c" x="1825.5" y="736"/><use href="#c" x="1827" y="775.5"/><use href="#c" x="1827.5" y="736"/><use href="#c" x="1828" y="775.5"/><use href="#c" x="1828.5" y="775.5"/><use href="#c" x="1828.5" y="736"/><use href="#c" x="1829" y="736"/><use href="#c" x="1829.5" y="684.5"/><use href="#c" x="1830" y="697"/><use href="#c" x="1830" y="736"/><use href="#c" x="1830.5" y="736"/><use href="#c" x="1831" y="736"/><use href="#c" x="1831.5" y="736"/><use href="#c" x="1831.5" y="775.5"/><use href="#c" x="1832" y="736"/><use href="#c" x="1832" y="775.5"/><use href="#c" x="1832.5" y="775.5"/><use href="#c" x="1833" y="736"/><use href="#c" x="1833" y="775.5"/><use href="#c" x="1833.5" y="775.5"/><use href="#c" x="1834" y="736"/><use href="#c" x="1834.5" y="775.5"/><use href="#c" x="1834.5" y="736"/><use href="#c" x="1835" y="736"/><use href="#c" x="1835" y="775.5"/><use href="#c" x="1835.5" y="736"/><use href="#c" x="1836" y="775.5"/><use href="#c" x="1836.5" y="775.5"/><use href="#c" x="1837" y="713.5"/><use href="#c" x="1837" y="775.5"/><use href="#c" x="1837.5" y="736"/><use href="#c" x="1837.5" y="775.5"/><use href="#c" x="1838" y="775.5"/><use href="#c" x="1838.5" y="713.5"/><use href="#c" x="1838.5" y="736"/><use href="#c" x="1839" y="775.5"/><use href="#c" x="1840" y="736"/><use href="#c" x="1840.5" y="775.5"/><use href="#c" x="1841" y="775.5"/><use href="#c" x="1841.5" y="775.5"/><use href="#c" x="1842" y="775.5"/><use href="#c" x="1842.5" y="736"/><use href="#c" x="1842.5" y="775.5"/><use href="#c" x="1843" y="775.5"/><use href="#c" x="1843.5" y="713.5"/><use href="#c" x="1843.5" y="736"/><use href="#c" x="1844" y="736"/><use href="#c" x="1844.5" y="775.5"/><use href="#c" x="1845" y="775.5"/><use href="#c" x="1845" y="713.5"/><use href="#c" x="1845.5" y="775.5"/><use href="#c" x="1846" y="736"/><use href="#c" x="1846" y="775.5"/><use href="#c" x="1846.5" y="775.5"/><use href="#c" x="1846.5" y="736"/><use href="#c" x="1847" y="775.5"/><use href="#c" x="1847" y="736"/><use href="#c" x="1848" y="775.5"/><use href="#c" x="1848" y="736"/><use href="#c" x="1848.5" y="775.5"/><use href="#c" x="1848.5" y="736"/><use href="#c" x="1849" y="736"/><use href="#c" x="1849" y="775.5"/><use href="#c" x="1849.5" y="775.5"/><use href="#c" x="1850" y="775.5"/><use href="#c" x="1850" y="736"/><use href="#c" x="1850.5" y="775.5"/><use href="#c" x="1850.5" y="713.5"/><use href="#c" x="1851" y="775.5"/><use href="#c" x="1851.5" y="697"/><use href="#c" x="1851.5" y="775.5"/><use href="#c" x="1852" y="775.5"/><use href="#c" x="1852.5" y="775.5"/><use href="#c" x="1853" y="775.5"/><use href="#c" x="1853" y="736"/><use href="#c" x="1853" y="713.5"/><use href="#c" x="1853.5" y="775.5"/><use href="#c" x="1854" y="736"/><use href="#c" x="1854.5" y="775.5"/><use href="#c" x="1854.5" y="736"/><use href="#c" x="1855" y="775.5"/><use href="#c" x="1855" y="736"/><use href="#c" x="1856" y="736"/><use href="#c" x="1856" y="775.5"/><use href="#c" x="1856.5" y="736"/><use href="#c" x="1856.5" y="775.5"/><use href="#c" x="1857" y="736"/><use href="#c" x="1858" y="775.5"/><use href="#c" x="1858" y="736"/><use href="#c" x="1858.5" y="736"/><use href="#c" x="1858.5" y="775.5"/><use href="#c" x="1859" y="775.5"/><use href="#c" x="1859.5" y="775.5"/><use href="#c" x="1860" y="713.5"/><use href="#c" x="1860" y="775.5"/><use href="#c" x="1860.5" y="775.5"/><use href="#c" x="1860.5" y="736"/><use href="#c" x="1861.5" y="736"/><use href="#c" x="1861.5" y="775.5"/><use href="#c" x="1862" y="736"/><use href="#c" x="1862.5" y="775.5"/><use href="#c" x="1863" y="775.5"/><use href="#c" x="1863.5" y="736"/><use href="#c" x="1863.5" y="713.5"/><use href="#c" x="1863.5" y="775.5"/><use href="#c" x="1864" y="775.5"/><use href="#c" x="1864.5" y="736"/><use href="#c" x="1866" y="775.5"/><use href="#c" x="1867" y="775.5"/><use href="#c" x="1867.5" y="736"/><use href="#c" x="1867.5" y="775.5"/><use href="#c" x="1868.5" y="775.5"/><use href="#c" x="1869" y="775.5"/><use href="#c" x="1869" y="736"/><use href="#c" x="1870" y="736"/><use href="#c" x="1870" y="713.5"/><use href="#c" x="1870.5" y="775.5"/><use href="#c" x="1871" y="775.5"/><use href="#c" x="1871.5" y="736"/><use href="#c" x="1871.5" y="775.5"/><use href="#c" x="1872" y="736"/><use href="#c" x="1872.5" y="736"/><use href="#c" x="1872.5" y="775.5"/><use href="#c" x="1873" y="697"/><use href="#c" x="1873" y="775.5"/><use href="#c" x="1873.5" y="713.5"/><use href="#c" x="1873.5" y="736"/><use href="#c" x="1874" y="775.5"/><use href="#c" x="1874" y="736"/><use href="#c" x="1874.5" y="775.5"/><use href="#c" x="1875" y="775.5"/><use href="#c" x="1875.5" y="775.5"/><use href="#c" x="1876" y="775.5"/><use href="#c" x="1876" y="713.5"/><use href="#c" x="1876.5" y="736"/><use href="#c" x="1876.5" y="775.5"/><use href="#c" x="1877" y="736"/><use href="#c" x="1877" y="775.5"/><use href="#c" x="1877.5" y="736"/><use href="#c" x="1877.5" y="697"/><use href="#c" x="1878" y="713.5"/><use href="#c" x="1878" y="775.5"/><use href="#c" x="1878" y="697"/><use href="#c" x="1878.5" y="775.5"/><use href="#c" x="1878.5" y="684.5"/><use href="#c" x="1878.5" y="736"/><use href="#c" x="1878.5" y="697"/><use href="#c" x="1879" y="697"/><use href="#c" x="1879" y="684.5"/><use href="#c" x="1879.5" y="736"/><use href="#c" x="1879.5" y="684.5"/><use href="#c" x="1880" y="665.5"/><use href="#c" x="1880" y="775.5"/><use href="#c" x="1880" y="736"/><use href="#c" x="1880" y="713.5"/><use href="#c" x="1880.5" y="697"/><use href="#c" x="1880.5" y="713.5"/><use href="#c" x="1880.5" y="775.5"/><use href="#c" x="1881" y="674"/><use href="#c" x="1881" y="736"/><use href="#c" x="1881" y="713.5"/><use href="#c" x="1881.5" y="697"/><use href="#c" x="1881.5" y="684.5"/><use href="#c" x="1882" y="697"/><use href="#c" x="1882" y="684.5"/><use href="#c" x="1882" y="665.5"/><use href="#c" x="1882" y="713.5"/><use href="#c" x="1882.5" y="775.5"/><use href="#c" x="1882.5" y="736"/><use href="#c" x="1883" y="697"/><use href="#c" x="1883" y="775.5"/><use href="#c" x="1883.5" y="674"/><use href="#c" x="1883.5" y="736"/><use href="#c" x="1884" y="684.5"/><use href="#c" x="1884" y="736"/><use href="#c" x="1884.5" y="674"/><use href="#c" x="1884.5" y="775.5"/><use href="#c" x="1884.5" y="684.5"/><use href="#c" x="1885" y="713.5"/><use href="#c" x="1885" y="684.5"/><use href="#c" x="1885.5" y="697"/><use href="#c" x="1885.5" y="713.5"/><use href="#c" x="1886" y="713.5"/><use href="#c" x="1886" y="697"/><use href="#c" x="1886.5" y="775.5"/><use href="#c" x="1886.5" y="684.5"/><use href="#c" x="1886.5" y="713.5"/><use href="#c" x="1887" y="665.5"/><use href="#c" x="1887.5" y="665.5"/><use href="#c" x="1887.5" y="713.5"/><use href="#c" x="1887.5" y="736"/><use href="#c" x="1888" y="697"/><use href="#c" x="1888" y="713.5"/><use href="#c" x="1888.5" y="775.5"/><use href="#c" x="1888.5" y="736"/><use href="#c" x="1888.5" y="674"/><use href="#c" x="1889" y="713.5"/><use href="#c" x="1889" y="674"/><use href="#c" x="1889" y="684.5"/><use href="#c" x="1889.5" y="665.5"/><use href="#c" x="1889.5" y="713.5"/><use href="#c" x="1890" y="697"/><use href="#c" x="1890" y="775.5"/><use href="#c" x="1890" y="713.5"/><use href="#c" x="1890.5" y="775.5"/><use href="#c" x="1890.5" y="697"/><use href="#c" x="1891" y="697"/><use href="#c" x="1891" y="713.5"/><use href="#c" x="1891" y="736"/><use href="#c" x="1891.5" y="684.5"/><use href="#c" x="1891.5" y="736"/><use href="#c" x="1891.5" y="713.5"/><use href="#c" x="1892" y="684.5"/><use href="#c" x="1892" y="736"/><use href="#c" x="1892.5" y="736"/><use href="#c" x="1892.5" y="713.5"/><use href="#c" x="1893" y="674"/><use href="#c" x="1893" y="665.5"/><use href="#c" x="1893" y="775.5"/><use href="#c" x="1893.5" y="674"/><use href="#c" x="1893.5" y="713.5"/><use href="#c" x="1893.5" y="775.5"/><use href="#c" x="1894" y="713.5"/><use href="#c" x="1894" y="775.5"/><use href="#c" x="1894.5" y="684.5"/><use href="#c" x="1894.5" y="674"/><use href="#c" x="1895" y="684.5"/><use href="#c" x="1895" y="713.5"/><use href="#c" x="1895.5" y="736"/><use href="#c" x="1895.5" y="775.5"/><use href="#c" x="1895.5" y="697"/><use href="#c" x="1896" y="697"/><use href="#c" x="1896" y="674"/><use href="#c" x="1896" y="736"/><use href="#c" x="1896.5" y="736"/><use href="#c" x="1896.5" y="775.5"/><use href="#c" x="1896.5" y="713.5"/><use href="#c" x="1897" y="775.5"/><use href="#c" x="1897" y="684.5"/><use href="#c" x="1897" y="736"/><use href="#c" x="1897.5" y="775.5"/><use href="#c" x="1897.5" y="697"/><use href="#c" x="1897.5" y="736"/><use href="#c" x="1897.5" y="665.5"/><use href="#c" x="1898" y="775.5"/><use href="#c" x="1898" y="674"/><use href="#c" x="1898.5" y="697"/><use href="#c" x="1898.5" y="684.5"/><use href="#c" x="1898.5" y="736"/><use href="#c" x="1898.5" y="713.5"/><use href="#c" x="1899" y="775.5"/><use href="#c" x="1899" y="684.5"/><use href="#c" x="1899" y="713.5"/><use href="#c" x="1899.5" y="775.5"/><use href="#c" x="1899.5" y="736"/><use href="#c" x="1899.5" y="697"/><use href="#c" x="1900" y="713.5"/><use href="#c" x="1900" y="697"/><use href="#c" x="1900" y="684.5"/><use href="#c" x="1900.5" y="775.5"/><use href="#c" x="1900.5" y="674"/><use href="#c" x="1900.5" y="684.5"/><use href="#c" x="1900.5" y="736"/><use href="#c" x="1901" y="736"/><use href="#c" x="1901" y="697"/><use href="#c" x="1901.5" y="674"/><use href="#c" x="1901.5" y="736"/><use href="#c" x="1901.5" y="775.5"/><use href="#c" x="1901.5" y="684.5"/><use href="#c" x="1902" y="713.5"/><use href="#c" x="1902" y="736"/><use href="#c" x="1902" y="674"/><use href="#c" x="1902.5" y="775.5"/><use href="#c" x="1902.5" y="713.5"/><use href="#c" x="1902.5" y="697"/><use href="#c" x="1903" y="713.5"/><use href="#c" x="1903" y="775.5"/><use href="#c" x="1903" y="736"/><use href="#c" x="1903.5" y="713.5"/><use href="#c" x="1903.5" y="697"/><use href="#c" x="1903.5" y="684.5"/><use href="#c" x="1903.5" y="736"/><use href="#c" x="1904" y="713.5"/><use href="#c" x="1904" y="775.5"/><use href="#c" x="1904.5" y="713.5"/><use href="#c" x="1904.5" y="736"/><use href="#c" x="1904.5" y="697"/><use href="#c" x="1905" y="736"/><use href="#c" x="1905" y="697"/><use href="#c" x="1905" y="674"/><use href="#c" x="1905" y="775.5"/><use href="#c" x="1905.5" y="775.5"/><use href="#c" x="1905.5" y="684.5"/><use href="#c" x="1906" y="684.5"/><use href="#c" x="1906" y="713.5"/><use href="#c" x="1906" y="697"/><use href="#c" x="1906.5" y="665.5"/><use href="#c" x="1906.5" y="697"/><use href="#c" x="1906.5" y="736"/><use href="#c" x="1907" y="736"/><use href="#c" x="1907" y="684.5"/><use href="#c" x="1907" y="674"/><use href="#c" x="1907" y="697"/><use href="#c" x="1907.5" y="684.5"/><use href="#c" x="1907.5" y="713.5"/><use href="#c" x="1907.5" y="775.5"/><use href="#c" x="1907.5" y="736"/><use href="#c" x="1908" y="736"/><use href="#c" x="1908" y="775.5"/><use href="#c" x="1908" y="713.5"/><use href="#c" x="1908.5" y="684.5"/><use href="#c" x="1908.5" y="697"/><use href="#c" x="1909" y="775.5"/><use href="#c" x="1909" y="684.5"/><use href="#c" x="1909" y="713.5"/><use href="#c" x="1909.5" y="674"/><use href="#c" x="1909.5" y="697"/><use href="#c" x="1909.5" y="713.5"/><use href="#c" x="1910" y="674"/><use href="#c" x="1910" y="684.5"/><use href="#c" x="1910" y="736"/><use href="#c" x="1910.5" y="775.5"/><use href="#c" x="1910.5" y="658"/><use href="#c" x="1911" y="651"/><use href="#c" x="1911" y="697"/><use href="#c" x="1911" y="736"/><use href="#c" x="1911.5" y="697"/><use href="#c" x="1911.5" y="713.5"/><use href="#c" x="1911.5" y="665.5"/><use href="#c" x="1912" y="775.5"/><use href="#c" x="1912" y="713.5"/><use href="#c" x="1912" y="736"/><use href="#c" x="1912.5" y="713.5"/><use href="#c" x="1912.5" y="775.5"/><use href="#c" x="1912.5" y="736"/><use href="#c" x="1913" y="775.5"/><use href="#c" x="1913" y="713.5"/><use href="#c" x="1913.5" y="713.5"/><use href="#c" x="1913.5" y="697"/><use href="#c" x="1913.5" y="684.5"/><use href="#c" x="1914" y="665.5"/><use href="#c" x="1914" y="713.5"/><use href="#c" x="1914" y="697"/><use href="#c" x="1914" y="775.5"/><use href="#c" x="1914.5" y="684.5"/><use href="#c" x="1914.5" y="775.5"/><use href="#c" x="1914.5" y="736"/><use href="#c" x="1915" y="674"/><use href="#c" x="1915" y="713.5"/><use href="#c" x="1915.5" y="736"/><use href="#c" x="1915.5" y="775.5"/><use href="#c" x="1915.5" y="684.5"/><use href="#c" x="1915.5" y="697"/><use href="#c" x="1916" y="684.5"/><use href="#c" x="1916" y="713.5"/><use href="#c" x="1916" y="736"/><use href="#c" x="1916.5" y="697"/><use href="#c" x="1916.5" y="736"/><use href="#c" x="1917" y="684.5"/><use href="#c" x="1917" y="736"/><use href="#c" x="1917" y="713.5"/><use href="#c" x="1917.5" y="775.5"/><use href="#c" x="1917.5" y="697"/><use href="#c" x="1917.5" y="713.5"/><use href="#c" x="1918" y="697"/><use href="#c" x="1918" y="713.5"/><use href="#c" x="1918.5" y="684.5"/><use href="#c" x="1918.5" y="713.5"/><use href="#c" x="1918.5" y="697"/><use href="#c" x="1918.5" y="775.5"/><use href="#c" x="1919" y="736"/><use href="#c" x="1919" y="713.5"/><use href="#c" x="1919" y="775.5"/><use href="#c" x="1919" y="674"/><use href="#c" x="1919.5" y="697"/><use href="#c" x="1919.5" y="713.5"/><use href="#c" x="1919.5" y="736"/><use href="#c" x="1920" y="713.5"/><use href="#c" x="1920" y="684.5"/><use href="#c" x="1920" y="775.5"/><use href="#c" x="1920" y="736"/><use href="#c" x="1920.5" y="697"/><use href="#c" x="1920.5" y="713.5"/><use href="#c" x="1920.5" y="684.5"/><use href="#c" x="1921" y="684.5"/><use href="#c" x="1921" y="713.5"/><use href="#c" x="1921" y="697"/><use href="#c" x="1921.5" y="775.5"/><use href="#c" x="1921.5" y="713.5"/><use href="#c" x="1921.5" y="736"/><use href="#c" x="1922" y="674"/><use href="#c" x="1922" y="713.5"/><use href="#c" x="1922.5" y="736"/><use href="#c" x="1922.5" y="775.5"/><use href="#c" x="1922.5" y="697"/><use href="#c" x="1923" y="775.5"/><use href="#c" x="1923" y="713.5"/><use href="#c" x="1923" y="697"/><use href="#c" x="1923.5" y="684.5"/><use href="#c" x="1923.5" y="775.5"/><use href="#c" x="1923.5" y="697"/><use href="#c" x="1924" y="674"/><use href="#c" x="1924.5" y="697"/><use href="#c" x="1924.5" y="665.5"/><use href="#c" x="1924.5" y="658"/><use href="#c" x="1925" y="736"/><use href="#c" x="1925" y="713.5"/><use href="#c" x="1925" y="775.5"/><use href="#c" x="1925.5" y="775.5"/><use href="#c" x="1925.5" y="697"/><use href="#c" x="1925.5" y="736"/><use href="#c" x="1926" y="713.5"/><use href="#c" x="1926.5" y="713.5"/><use href="#c" x="1926.5" y="665.5"/><use href="#c" x="1926.5" y="674"/><use href="#c" x="1927" y="713.5"/><use href="#c" x="1927.5" y="684.5"/><use href="#c" x="1927.5" y="736"/><use href="#c" x="1927.5" y="775.5"/><use href="#c" x="1928" y="775.5"/><use href="#c" x="1928" y="697"/><use href="#c" x="1928" y="736"/><use href="#c" x="1928.5" y="736"/><use href="#c" x="1928.5" y="713.5"/><use href="#c" x="1928.5" y="697"/><use href="#c" x="1929" y="665.5"/><use href="#c" x="1929" y="684.5"/><use href="#c" x="1929" y="775.5"/><use href="#c" x="1929" y="736"/><use href="#c" x="1929.5" y="736"/><use href="#c" x="1929.5" y="684.5"/><use href="#c" x="1929.5" y="697"/><use href="#c" x="1929.5" y="674"/><use href="#c" x="1930" y="697"/><use href="#c" x="1930" y="713.5"/><use href="#c" x="1930" y="736"/><use href="#c" x="1930.5" y="736"/><use href="#c" x="1930.5" y="713.5"/><use href="#c" x="1930.5" y="697"/><use href="#c" x="1931" y="713.5"/><use href="#c" x="1931" y="697"/><use href="#c" x="1931.5" y="684.5"/><use href="#c" x="1931.5" y="736"/><use href="#c" x="1931.5" y="775.5"/><use href="#c" x="1932" y="775.5"/><use href="#c" x="1932" y="658"/><use href="#c" x="1932" y="684.5"/><use href="#c" x="1932.5" y="736"/><use href="#c" x="1932.5" y="713.5"/><use href="#c" x="1932.5" y="684.5"/><use href="#c" x="1933" y="697"/><use href="#c" x="1933" y="736"/><use href="#c" x="1933" y="775.5"/><use href="#c" x="1933.5" y="697"/><use href="#c" x="1933.5" y="713.5"/><use href="#c" x="1933.5" y="736"/><use href="#c" x="1933.5" y="674"/><use href="#c" x="1934" y="775.5"/><use href="#c" x="1934" y="713.5"/><use href="#c" x="1934.5" y="697"/><use href="#c" x="1934.5" y="736"/><use href="#c" x="1934.5" y="775.5"/><use href="#c" x="1935" y="775.5"/><use href="#c" x="1935" y="684.5"/><use href="#c" x="1935" y="697"/><use href="#c" x="1935.5" y="736"/><use href="#c" x="1935.5" y="697"/><use href="#c" x="1935.5" y="713.5"/><use href="#c" x="1936" y="775.5"/><use href="#c" x="1936" y="674"/><use href="#c" x="1936" y="736"/><use href="#c" x="1936.5" y="684.5"/><use href="#c" x="1936.5" y="713.5"/><use href="#c" x="1936.5" y="775.5"/><use href="#c" x="1936.5" y="736"/><use href="#c" x="1937" y="665.5"/><use href="#c" x="1937" y="736"/><use href="#c" x="1937" y="684.5"/><use href="#c" x="1937" y="775.5"/><use href="#c" x="1937.5" y="684.5"/><use href="#c" x="1937.5" y="736"/><use href="#c" x="1937.5" y="697"/><use href="#c" x="1938" y="736"/><use href="#c" x="1938" y="713.5"/><use href="#c" x="1938.5" y="674"/><use href="#c" x="1938.5" y="697"/><use href="#c" x="1938.5" y="736"/><use href="#c" x="1939" y="736"/><use href="#c" x="1939" y="775.5"/></g>
<g class="b"><use href="#t" x="462" y="736"/><use href="#t" x="478.5" y="537.5"/><use href="#t" x="493.5" y="330"/><use href="#t" x="508.5" y="184.5"/><use href="#t" x="522" y="109.5"/><use href="#t" x="535.5" y="93.5"/><use href="#t" x="548.5" y="104.5"/><use href="#t" x="560.5" y="116"/><use href="#t" x="572" y="134"/><use href="#t" x="583.5" y="160.5"/><use href="#t" x="594.5" y="184.5"/><use href="#t" x="605" y="208.5"/><use href="#t" x="615" y="230.5"/><use href="#t" x="625" y="254.5"/><use href="#t" x="634.5" y="278"/><use href="#t" x="643.5" y="300"/><use href="#t" x="652.5" y="320.5"/><use href="#t" x="661" y="338.5"/><use href="#t" x="669.5" y="356.5"/><use href="#t" x="678" y="375"/><use href="#t" x="686" y="386.5"/><use href="#t" x="693.5" y="403"/><use href="#t" x="701" y="420.5"/><use href="#t" x="708.5" y="434"/><use href="#t" x="716" y="451.5"/><use href="#t" x="723" y="470"/><use href="#t" x="729.5" y="480.5"/><use href="#t" x="736.5" y="498"/><use href="#t" x="743" y="511"/><use href="#t" x="749.5" y="530"/><use href="#t" x="755.5" y="533.5"/><use href="#t" x="762" y="534.5"/><use href="#t" x="768" y="539.5"/><use href="#t" x="774" y="541"/><use href="#t" x="779.5" y="554.5"/><use href="#t" x="785.5" y="558"/><use href="#t" x="791" y="561.5"/><use href="#t" x="796.5" y="560"/><use href="#t" x="802" y="571.5"/><use href="#t" x="807" y="587"/><use href="#t" x="812.5" y="603.5"/><use href="#t" x="817.5" y="603.5"/><use href="#t" x="822.5" y="630.5"/><use href="#t" x="827.5" y="615.5"/><use href="#t" x="832.5" y="635"/><use href="#t" x="837" y="626"/><use href="#t" x="842" y="665.5"/><use href="#t" x="846.5" y="645.5"/><use href="#t" x="851" y="674"/><use href="#t" x="855.5" y="622.5"/><use href="#t" x="860" y="635"/><use href="#t" x="864.5" y="658"/><use href="#t" x="868.5" y="651"/><use href="#t" x="873" y="645.5"/><use href="#t" x="877" y="736"/><use href="#t" x="881" y="651"/><use href="#t" x="885.5" y="697"/><use href="#t" x="889.5" y="635"/><use href="#t" x="893.5" y="713.5"/><use href="#t" x="897" y="674"/><use href="#t" x="901" y="630.5"/><use href="#t" x="905" y="674"/><use href="#t" x="908.5" y="684.5"/><use href="#t" x="912.5" y="665.5"/><use href="#t" x="916" y="645.5"/><use href="#t" x="919.5" y="684.5"/><use href="#t" x="923" y="684.5"/><use href="#t" x="927" y="665.5"/><use href="#t" x="930.5" y="674"/><use href="#t" x="933.5" y="658"/><use href="#t" x="937" y="697"/><use href="#t" x="940.5" y="684.5"/><use href="#t" x="944" y="674"/><use href="#t" x="947" y="713.5"/><use href="#t" x="950.5" y="713.5"/><use href="#t" x="953.5" y="665.5"/><use href="#t" x="957" y="658"/><use href="#t" x="960" y="697"/><use href="#t" x="963" y="697"/><use href="#t" x="966.5" y="697"/><use href="#t" x="969.5" y="697"/><use href="#t" x="972.5" y="658"/><use href="#t" x="975.5" y="674"/><use href="#t" x="978.5" y="697"/><use href="#t" x="981.5" y="713.5"/><use href="#t" x="984.5" y="713.5"/><use href="#t" x="987" y="775.5"/><use href="#t" x="990" y="713.5"/><use href="#t" x="993" y="775.5"/><use href="#t" x="995.5" y="697"/><use href="#t" x="998.5" y="665.5"/><use href="#t" x="1001" y="665.5"/><use href="#t" x="1004" y="775.5"/><use href="#t" x="1006.5" y="736"/><use href="#t" x="1009.5" y="658"/><use href="#t" x="1012" y="775.5"/><use href="#t" x="1014.5" y="684.5"/><use href="#t" x="1022.5" y="713.5"/><use href="#t" x="1025" y="736"/><use href="#t" x="1027.5" y="736"/><use href="#t" x="1030" y="713.5"/><use href="#t" x="1032.5" y="713.5"/><use href="#t" x="1035" y="713.5"/><use href="#t" x="1037.5" y="736"/><use href="#t" x="1040" y="736"/><use href="#t" x="1042" y="775.5"/><use href="#t" x="1044.5" y="713.5"/><use href="#t" x="1047" y="775.5"/><use href="#t" x="1049.5" y="684.5"/><use href="#t" x="1051.5" y="713.5"/><use href="#t" x="1054" y="775.5"/><use href="#t" x="1056" y="736"/><use href="#t" x="1058.5" y="775.5"/><use href="#t" x="1061" y="775.5"/><use href="#t" x="1063" y="713.5"/><use href="#t" x="1065" y="775.5"/><use href="#t" x="1067.5" y="736"/><use href="#t" x="1069.5" y="775.5"/><use href="#t" x="1072" y="713.5"/><use href="#t" x="1074" y="736"/><use href="#t" x="1076" y="775.5"/><use href="#t" x="1078.5" y="775.5"/><use href="#t" x="1080.5" y="736"/><use href="#t" x="1082.5" y="736"/><use href="#t" x="1084.5" y="736"/><use href="#t" x="1086.5" y="697"/><use href="#t" x="1090.5" y="713.5"/><use href="#t" x="1093" y="736"/><use href="#t" x="1095" y="736"/><use href="#t" x="1097" y="736"/><use href="#t" x="1099" y="775.5"/><use href="#t" x="1100.5" y="736"/><use href="#t" x="1102.5" y="775.5"/><use href="#t" x="1104.5" y="713.5"/><use href="#t" x="1108.5" y="775.5"/><use href="#t" x="1110.5" y="775.5"/><use href="#t" x="1112.5" y="775.5"/><use href="#t" x="1114" y="736"/><use href="#t" x="1116" y="775.5"/><use href="#t" x="1121.5" y="775.5"/><use href="#t" x="1123.5" y="775.5"/><use href="#t" x="1125.5" y="713.5"/><use href="#t" x="1127" y="775.5"/><use href="#t" x="1132.5" y="775.5"/><use href="#t" x="1136" y="775.5"/><use href="#t" x="1137.5" y="775.5"/><use href="#t" x="1139.5" y="697"/><use href="#t" x="1141" y="713.5"/><use href="#t" x="1143" y="775.5"/><use href="#t" x="1144.5" y="775.5"/><use href="#t" x="1146.5" y="775.5"/><use href="#t" x="1148" y="736"/><use href="#t" x="1149.5" y="713.5"/><use href="#t" x="1153" y="736"/><use href="#t" x="1154.5" y="736"/><use href="#t" x="1156.5" y="775.5"/><use href="#t" x="1158" y="713.5"/><use href="#t" x="1163" y="775.5"/><use href="#t" x="1164.5" y="775.5"/><use href="#t" x="1167.5" y="775.5"/><use href="#t" x="1172" y="775.5"/><use href="#t" x="1174" y="775.5"/><use href="#t" x="1175.5" y="713.5"/><use href="#t" x="1177" y="775.5"/><use href="#t" x="1178.5" y="736"/><use href="#t" x="1180" y="775.5"/><use href="#t" x="1183" y="775.5"/><use href="#t" x="1184.5" y="775.5"/><use href="#t" x="1186" y="736"/><use href="#t" x="1189" y="775.5"/><use href="#t" x="1190.5" y="775.5"/><use href="#t" x="1191.5" y="736"/><use href="#t" x="1194.5" y="736"/><use href="#t" x="1197.5" y="775.5"/><use href="#t" x="1199" y="697"/><use href="#t" x="1200.5" y="775.5"/><use href="#t" x="1206" y="775.5"/><use href="#t" x="1207.5" y="775.5"/><use href="#t" x="1208.5" y="713.5"/><use href="#t" x="1210" y="775.5"/><use href="#t" x="1211.5" y="736"/><use href="#t" x="1214" y="775.5"/><use href="#t" x="1215.5" y="775.5"/><use href="#t" x="1221" y="775.5"/><use href="#t" x="1222" y="775.5"/><use href="#t" x="1223.5" y="736"/><use href="#t" x="1224.5" y="736"/><use href="#t" x="1226" y="775.5"/><use href="#t" x="1230" y="775.5"/><use href="#t" x="1231" y="775.5"/><use href="#t" x="1232.5" y="736"/><use href="#t" x="1233.5" y="775.5"/><use href="#t" x="1235" y="736"/><use href="#t" x="1236" y="775.5"/><use href="#t" x="1238.5" y="775.5"/><use href="#t" x="1240" y="775.5"/><use href="#t" x="1241" y="775.5"/><use href="#t" x="1242.5" y="775.5"/><use href="#t" x="1243.5" y="775.5"/><use href="#t" x="1246" y="775.5"/><use href="#t" x="1249.5" y="736"/><use href="#t" x="1251" y="775.5"/><use href="#t" x="1252" y="775.5"/><use href="#t" x="1253" y="775.5"/><use href="#t" x="1254.5" y="736"/><use href="#t" x="1255.5" y="775.5"/><use href="#t" x="1260.5" y="736"/><use href="#t" x="1261.5" y="775.5"/><use href="#t" x="1262.5" y="736"/><use href="#t" x="1263.5" y="775.5"/><use href="#t" x="1266" y="713.5"/><use href="#t" x="1269.5" y="775.5"/><use href="#t" x="1270.5" y="736"/><use href="#t" x="1271.5" y="775.5"/><use href="#t" x="1272.5" y="736"/><use href="#t" x="1275" y="697"/><use href="#t" x="1276" y="775.5"/><use href="#t" x="1277" y="775.5"/><use href="#t" x="1278" y="775.5"/><use href="#t" x="1281.5" y="775.5"/><use href="#t" x="1283.5" y="775.5"/><use href="#t" x="1285.5" y="775.5"/><use href="#t" x="1287" y="775.5"/><use href="#t" x="1289" y="736"/><use href="#t" x="1290" y="775.5"/><use href="#t" x="1291" y="775.5"/><use href="#t" x="1293" y="775.5"/><use href="#t" x="1294" y="775.5"/><use href="#t" x="1297" y="775.5"/><use href="#t" x="1300" y="775.5"/><use href="#t" x="1301" y="736"/><use href="#t" x="1302" y="775.5"/><use href="#t" x="1305" y="775.5"/><use href="#t" x="1306" y="775.5"/><use href="#t" x="1309" y="775.5"/><use href="#t" x="1310" y="775.5"/><use href="#t" x="1314" y="775.5"/><use href="#t" x="1317" y="775.5"/><use href="#t" x="1320.5" y="736"/><use href="#t" x="1323.5" y="775.5"/><use href="#t" x="1324.5" y="775.5"/><use href="#t" x="1326.5" y="775.5"/><use href="#t" x="1328" y="713.5"/><use href="#t" x="1329" y="775.5"/><use href="#t" x="1332" y="775.5"/><use href="#t" x="1333" y="775.5"/><use href="#t" x="1333.5" y="775.5"/><use href="#t" x="1334.5" y="775.5"/><use href="#t" x="1335.5" y="775.5"/><use href="#t" x="1337.5" y="775.5"/><use href="#t" x="1341" y="775.5"/><use href="#t" x="1341.5" y="775.5"/><use href="#t" x="1342.5" y="775.5"/><use href="#t" x="1344.5" y="736"/><use href="#t" x="1345" y="775.5"/><use href="#t" x="1346" y="736"/><use href="#t" x="1350.5" y="775.5"/><use href="#t" x="1351" y="775.5"/><use href="#t" x="1352" y="775.5"/><use href="#t" x="1354" y="775.5"/><use href="#t" x="1354.5" y="736"/><use href="#t" x="1358" y="775.5"/><use href="#t" x="1359.5" y="775.5"/><use href="#t" x="1363" y="736"/><use href="#t" x="1364" y="775.5"/><use href="#t" x="1366" y="775.5"/><use href="#t" x="1371" y="775.5"/><use href="#t" x="1372" y="775.5"/><use href="#t" x="1379" y="775.5"/><use href="#t" x="1384.5" y="736"/><use href="#t" x="1387.5" y="775.5"/><use href="#t" x="1388" y="775.5"/><use href="#t" x="1392" y="713.5"/><use href="#t" x="1394" y="736"/><use href="#t" x="1402" y="775.5"/><use href="#t" x="1403.5" y="775.5"/><use href="#t" x="1406.5" y="775.5"/><use href="#t" x="1407" y="775.5"/><use href="#t" x="1410" y="775.5"/><use href="#t" x="1419" y="775.5"/><use href="#t" x="1421" y="775.5"/><use href="#t" x="1423.5" y="775.5"/><use href="#t" x="1424.5" y="775.5"/><use href="#t" x="1426.5" y="775.5"/><use href="#t" x="1427" y="775.5"/><use href="#t" x="1429" y="775.5"/><use href="#t" x="1430" y="775.5"/><use href="#t" x="1431" y="775.5"/><use href="#t" x="1435" y="775.5"/><use href="#t" x="1443" y="775.5"/><use href="#t" x="1447" y="775.5"/><use href="#t" x="1448.5" y="775.5"/><use href="#t" x="1450.5" y="775.5"/><use href="#t" x="1457" y="775.5"/><use href="#t" x="1467.5" y="775.5"/><use href="#t" x="1469" y="775.5"/><use href="#t" x="1469.5" y="775.5"/><use href="#t" x="1470" y="775.5"/><use href="#t" x="1472.5" y="775.5"/><use href="#t" x="1477.5" y="775.5"/><use href="#t" x="1478" y="775.5"/><use href="#t" x="1479" y="775.5"/><use href="#t" x="1480.5" y="775.5"/><use href="#t" x="1483.5" y="775.5"/><use href="#t" x="1485" y="736"/><use href="#t" x="1488" y="775.5"/><use href="#t" x="1490" y="775.5"/><use href="#t" x="1490.5" y="775.5"/><use href="#t" x="1495" y="775.5"/><use href="#t" x="1496" y="775.5"/><use href="#t" x="1498.5" y="775.5"/><use href="#t" x="1499.5" y="775.5"/><use href="#t" x="1501.5" y="775.5"/><use href="#t" x="1502" y="775.5"/><use href="#t" x="1503" y="775.5"/><use href="#t" x="1506" y="775.5"/><use href="#t" x="1508.5" y="775.5"/><use href="#t" x="1509" y="775.5"/><use href="#t" x="1509.5" y="775.5"/><use href="#t" x="1511" y="775.5"/><use href="#t" x="1513" y="775.5"/><use href="#t" x="1518.5" y="775.5"/><use href="#t" x="1522" y="775.5"/><use href="#t" x="1522.5" y="775.5"/><use href="#t" x="1523" y="775.5"/><use href="#t" x="1526" y="775.5"/><use href="#t" x="1533.5" y="775.5"/><use href="#t" x="1534.5" y="775.5"/><use href="#t" x="1536.5" y="775.5"/><use href="#t" x="1537" y="775.5"/><use href="#t" x="1539" y="775.5"/><use href="#t" x="1542.5" y="775.5"/><use href="#t" x="1544" y="775.5"/><use href="#t" x="1547.5" y="775.5"/><use href="#t" x="1548" y="775.5"/><use href="#t" x="1548.5" y="775.5"/><use href="#t" x="1551" y="775.5"/><use href="#t" x="1552.5" y="775.5"/><use href="#t" x="1553" y="775.5"/><use href="#t" x="1554.5" y="775.5"/><use href="#t" x="1559" y="775.5"/><use href="#t" x="1562.5" y="775.5"/><use href="#t" x="1564" y="736"/><use href="#t" x="1565.5" y="775.5"/><use href="#t" x="1566" y="775.5"/><use href="#t" x="1568.5" y="775.5"/><use href="#t" x="1569" y="736"/><use href="#t" x="1571.5" y="775.5"/><use href="#t" x="1575.5" y="775.5"/><use href="#t" x="1586.5" y="775.5"/><use href="#t" x="1587.5" y="775.5"/><use href="#t" x="1588.5" y="775.5"/><use href="#t" x="1589" y="775.5"/><use href="#t" x="1601" y="775.5"/><use href="#t" x="1601.5" y="775.5"/><use href="#t" x="1604.5" y="736"/><use href="#t" x="1606" y="775.5"/><use href="#t" x="1608.5" y="775.5"/><use href="#t" x="1609.5" y="775.5"/><use href="#t" x="1610" y="775.5"/><use href="#t" x="1622" y="775.5"/><use href="#t" x="1628" y="775.5"/><use href="#t" x="1630.5" y="775.5"/><use href="#t" x="1631.5" y="775.5"/><use href="#t" x="1633.5" y="775.5"/><use href="#t" x="1636.5" y="775.5"/><use href="#t" x="1637" y="775.5"/><use href="#t" x="1644" y="775.5"/><use href="#t" x="1658.5" y="775.5"/><use href="#t" x="1660" y="775.5"/><use href="#t" x="1660.5" y="775.5"/><use href="#t" x="1677.5" y="775.5"/><use href="#t" x="1679" y="775.5"/><use href="#t" x="1684" y="775.5"/><use href="#t" x="1684.5" y="775.5"/><use href="#t" x="1685" y="775.5"/><use href="#t" x="1686.5" y="775.5"/><use href="#t" x="1689.5" y="736"/><use href="#t" x="1724" y="775.5"/><use href="#t" x="1729.5" y="775.5"/><use href="#t" x="1737" y="775.5"/><use href="#t" x="1738" y="775.5"/><use href="#t" x="1738.5" y="775.5"/><use href="#t" x="1739.5" y="775.5"/><use href="#t" x="1744.5" y="775.5"/><use href="#t" x="1751" y="775.5"/><use href="#t" x="1761" y="775.5"/><use href="#t" x="1761.5" y="775.5"/><use href="#t" x="1763.5" y="775.5"/><use href="#t" x="1766" y="775.5"/><use href="#t" x="1772.5" y="775.5"/><use href="#t" x="1782" y="775.5"/><use href="#t" x="1782.5" y="775.5"/><use href="#t" x="1783.5" y="775.5"/><use href="#t" x="1790.5" y="775.5"/><use href="#t" x="1791.5" y="775.5"/><use href="#t" x="1803.5" y="775.5"/><use href="#t" x="1804" y="775.5"/><use href="#t" x="1805" y="775.5"/><use href="#t" x="1812" y="775.5"/><use href="#t" x="1818" y="775.5"/><use href="#t" x="1819" y="775.5"/><use href="#t" x="1823" y="775.5"/><use href="#t" x="1826" y="775.5"/><use href="#t" x="1827" y="775.5"/><use href="#t" x="1829" y="775.5"/><use href="#t" x="1830.5" y="775.5"/><use href="#t" x="1832.5" y="775.5"/><use href="#t" x="1838" y="775.5"/><use href="#t" x="1843" y="775.5"/><use href="#t" x="1847" y="775.5"/><use href="#t" x="1847.5" y="775.5"/><use href="#t" x="1849.5" y="775.5"/><use href="#t" x="1850.5" y="775.5"/><use href="#t" x="1851.5" y="775.5"/><use href="#t" x="1852" y="775.5"/><use href="#t" x="1852.5" y="775.5"/><use href="#t" x="1853" y="775.5"/><use href="#t" x="1855" y="775.5"/><use href="#t" x="1858" y="775.5"/><use href="#t" x="1859" y="775.5"/><use href="#t" x="1863.5" y="775.5"/><use href="#t" x="1869" y="775.5"/><use href="#t" x="1869.5" y="775.5"/><use href="#t" x="1870" y="775.5"/><use href="#t" x="1872" y="775.5"/><use href="#t" x="1877.5" y="736"/><use href="#t" x="1877.5" y="775.5"/><use href="#t" x="1878" y="684.5"/><use href="#t" x="1878" y="713.5"/><use href="#t" x="1878.5" y="713.5"/><use href="#t" x="1878.5" y="736"/><use href="#t" x="1879" y="736"/><use href="#t" x="1879" y="697"/><use href="#t" x="1879" y="713.5"/><use href="#t" x="1879.5" y="684.5"/><use href="#t" x="1879.5" y="775.5"/><use href="#t" x="1880" y="713.5"/><use href="#t" x="1880.5" y="674"/><use href="#t" x="1880.5" y="775.5"/><use href="#t" x="1881" y="736"/><use href="#t" x="1881" y="775.5"/><use href="#t" x="1881.5" y="775.5"/><use href="#t" x="1881.5" y="736"/><use href="#t" x="1881.5" y="684.5"/><use href="#t" x="1882" y="697"/><use href="#t" x="1882" y="775.5"/><use href="#t" x="1882.5" y="775.5"/><use href="#t" x="1882.5" y="736"/><use href="#t" x="1883" y="775.5"/><use href="#t" x="1883" y="713.5"/><use href="#t" x="1883" y="736"/><use href="#t" x="1883.5" y="736"/><use href="#t" x="1883.5" y="713.5"/><use href="#t" x="1884" y="713.5"/><use href="#t" x="1884" y="736"/><use href="#t" x="1884.5" y="736"/><use href="#t" x="1884.5" y="713.5"/><use href="#t" x="1884.5" y="697"/><use href="#t" x="1885" y="684.5"/><use href="#t" x="1885" y="697"/><use href="#t" x="1885.5" y="713.5"/><use href="#t" x="1885.5" y="697"/><use href="#t" x="1885.5" y="775.5"/><use href="#t" x="1886" y="775.5"/><use href="#t" x="1886" y="736"/><use href="#t" x="1886.5" y="736"/><use href="#t" x="1886.5" y="684.5"/><use href="#t" x="1887" y="684.5"/><use href="#t" x="1887" y="775.5"/><use href="#t" x="1887.5" y="775.5"/><use href="#t" x="1887.5" y="736"/><use href="#t" x="1888" y="713.5"/><use href="#t" x="1888" y="736"/><use href="#t" x="1888.5" y="684.5"/><use href="#t" x="1888.5" y="736"/><use href="#t" x="1889" y="736"/><use href="#t" x="1889" y="775.5"/><use href="#t" x="1889.5" y="736"/><use href="#t" x="1890" y="775.5"/><use href="#t" x="1890" y="736"/><use href="#t" x="1890.5" y="697"/><use href="#t" x="1890.5" y="713.5"/><use href="#t" x="1891" y="775.5"/><use href="#t" x="1891" y="684.5"/><use href="#t" x="1891.5" y="775.5"/><use href="#t" x="1891.5" y="736"/><use href="#t" x="1892" y="697"/><use href="#t" x="1892" y="775.5"/><use href="#t" x="1892" y="713.5"/><use href="#t" x="1892.5" y="684.5"/><use href="#t" x="1892.5" y="736"/><use href="#t" x="1892.5" y="775.5"/><use href="#t" x="1893" y="713.5"/><use href="#t" x="1893" y="775.5"/><use href="#t" x="1893" y="697"/><use href="#t" x="1893.5" y="736"/><use href="#t" x="1893.5" y="713.5"/><use href="#t" x="1893.5" y="697"/><use href="#t" x="1893.5" y="775.5"/><use href="#t" x="1894" y="775.5"/><use href="#t" x="1894.5" y="736"/><use href="#t" x="1894.5" y="775.5"/><use href="#t" x="1895" y="713.5"/><use href="#t" x="1895" y="775.5"/><use href="#t" x="1895.5" y="736"/><use href="#t" x="1895.5" y="713.5"/><use href="#t" x="1896" y="736"/><use href="#t" x="1896" y="775.5"/><use href="#t" x="1896" y="713.5"/><use href="#t" x="1896.5" y="736"/><use href="#t" x="1896.5" y="775.5"/><use href="#t" x="1897" y="713.5"/><use href="#t" x="1897" y="736"/><use href="#t" x="1897.5" y="697"/><use href="#t" x="1897.5" y="736"/><use href="#t" x="1898" y="713.5"/><use href="#t" x="1898" y="775.5"/><use href="#t" x="1898.5" y="658"/><use href="#t" x="1898.5" y="775.5"/><use href="#t" x="1898.5" y="674"/><use href="#t" x="1899" y="684.5"/><use href="#t" x="1899" y="697"/><use href="#t" x="1899" y="775.5"/><use href="#t" x="1899.5" y="736"/><use href="#t" x="1899.5" y="775.5"/><use href="#t" x="1900" y="736"/><use href="#t" x="1900" y="713.5"/><use href="#t" x="1900" y="775.5"/><use href="#t" x="1900.5" y="674"/><use href="#t" x="1900.5" y="713.5"/><use href="#t" x="1901" y="775.5"/><use href="#t" x="1901" y="713.5"/><use href="#t" x="1901" y="697"/><use href="#t" x="1901.5" y="736"/><use href="#t" x="1901.5" y="775.5"/><use href="#t" x="1901.5" y="697"/><use href="#t" x="1901.5" y="684.5"/><use href="#t" x="1902" y="713.5"/><use href="#t" x="1902" y="775.5"/><use href="#t" x="1902.5" y="674"/><use href="#t" x="1902.5" y="736"/><use href="#t" x="1903" y="775.5"/><use href="#t" x="1903" y="713.5"/><use href="#t" x="1903" y="736"/><use href="#t" x="1903.5" y="736"/><use href="#t" x="1903.5" y="775.5"/><use href="#t" x="1903.5" y="697"/><use href="#t" x="1904" y="713.5"/><use href="#t" x="1904" y="674"/><use href="#t" x="1904" y="697"/><use href="#t" x="1904.5" y="713.5"/><use href="#t" x="1904.5" y="665.5"/><use href="#t" x="1904.5" y="736"/><use href="#t" x="1905" y="775.5"/><use href="#t" x="1905" y="713.5"/><use href="#t" x="1905.5" y="736"/><use href="#t" x="1905.5" y="713.5"/><use href="#t" x="1906" y="713.5"/><use href="#t" x="1906" y="775.5"/><use href="#t" x="1906.5" y="713.5"/><use href="#t" x="1906.5" y="775.5"/><use href="#t" x="1907" y="713.5"/><use href="#t" x="1907" y="775.5"/><use href="#t" x="1907" y="736"/><use href="#t" x="1907.5" y="713.5"/><use href="#t" x="1907.5" y="697"/><use href="#t" x="1907.5" y="775.5"/><use href="#t" x="1908" y="736"/><use href="#t" x="1908" y="775.5"/><use href="#t" x="1908.5" y="736"/><use href="#t" x="1908.5" y="713.5"/><use href="#t" x="1909" y="697"/><use href="#t" x="1909" y="713.5"/><use href="#t" x="1909.5" y="697"/><use href="#t" x="1909.5" y="736"/><use href="#t" x="1910" y="684.5"/><use href="#t" x="1910" y="713.5"/><use href="#t" x="1910" y="736"/><use href="#t" x="1910" y="697"/><use href="#t" x="1910.5" y="713.5"/><use href="#t" x="1910.5" y="736"/><use href="#t" x="1910.5" y="658"/><use href="#t" x="1911" y="736"/><use href="#t" x="1911.5" y="713.5"/><use href="#t" x="1911.5" y="736"/><use href="#t" x="1912" y="697"/><use href="#t" x="1912" y="775.5"/><use href="#t" x="1912.5" y="713.5"/><use href="#t" x="1912.5" y="775.5"/><use href="#t" x="1912.5" y="697"/><use href="#t" x="1913" y="713.5"/><use href="#t" x="1913" y="736"/><use href="#t" x="1913.5" y="713.5"/><use href="#t" x="1913.5" y="775.5"/><use href="#t" x="1913.5" y="736"/><use href="#t" x="1914" y="674"/><use href="#t" x="1914" y="713.5"/><use href="#t" x="1914" y="775.5"/><use href="#t" x="1914.5" y="736"/><use href="#t" x="1915" y="736"/><use href="#t" x="1915" y="775.5"/><use href="#t" x="1915.5" y="775.5"/><use href="#t" x="1915.5" y="736"/><use href="#t" x="1916" y="775.5"/><use href="#t" x="1916" y="736"/><use href="#t" x="1916" y="713.5"/><use href="#t" x="1916.5" y="736"/><use href="#t" x="1916.5" y="775.5"/><use href="#t" x="1917" y="775.5"/><use href="#t" x="1917" y="713.5"/><use href="#t" x="1917" y="736"/><use href="#t" x="1917.5" y="736"/><use href="#t" x="1917.5" y="713.5"/><use href="#t" x="1918" y="736"/><use href="#t" x="1918" y="674"/><use href="#t" x="1918" y="684.5"/><use href="#t" x="1918" y="775.5"/><use href="#t" x="1918.5" y="775.5"/><use href="#t" x="1918.5" y="697"/><use href="#t" x="1919" y="684.5"/><use href="#t" x="1919" y="736"/><use href="#t" x="1919" y="775.5"/><use href="#t" x="1919.5" y="736"/><use href="#t" x="1919.5" y="697"/><use href="#t" x="1919.5" y="775.5"/><use href="#t" x="1920" y="713.5"/><use href="#t" x="1920" y="736"/><use href="#t" x="1920.5" y="775.5"/><use href="#t" x="1920.5" y="697"/><use href="#t" x="1920.5" y="736"/><use href="#t" x="1921" y="775.5"/><use href="#t" x="1921" y="713.5"/><use href="#t" x="1921" y="736"/><use href="#t" x="1921.5" y="775.5"/><use href="#t" x="1921.5" y="697"/><use href="#t" x="1922" y="713.5"/><use href="#t" x="1922" y="736"/><use href="#t" x="1922" y="775.5"/><use href="#t" x="1922.5" y="736"/><use href="#t" x="1922.5" y="697"/><use href="#t" x="1922.5" y="775.5"/><use href="#t" x="1923" y="736"/><use href="#t" x="1923" y="775.5"/><use href="#t" x="1923.5" y="775.5"/><use href="#t" x="1923.5" y="736"/><use href="#t" x="1924" y="775.5"/><use href="#t" x="1924" y="736"/><use href="#t" x="1924.5" y="775.5"/><use href="#t" x="1924.5" y="684.5"/><use href="#t" x="1924.5" y="736"/><use href="#t" x="1925" y="674"/><use href="#t" x="1925" y="775.5"/><use href="#t" x="1925" y="713.5"/><use href="#t" x="1925.5" y="736"/><use href="#t" x="1925.5" y="713.5"/><use href="#t" x="1926" y="775.5"/><use href="#t" x="1926.5" y="713.5"/><use href="#t" x="1926.5" y="775.5"/><use href="#t" x="1926.5" y="697"/><use href="#t" x="1927" y="736"/><use href="#t" x="1927" y="775.5"/><use href="#t" x="1927.5" y="713.5"/><use href="#t" x="1927.5" y="775.5"/><use href="#t" x="1928" y="697"/><use href="#t" x="1928" y="736"/><use href="#t" x="1928" y="713.5"/><use href="#t" x="1928.5" y="775.5"/><use href="#t" x="1929" y="713.5"/><use href="#t" x="1929" y="775.5"/><use href="#t" x="1929" y="736"/><use href="#t" x="1929.5" y="674"/><use href="#t" x="1929.5" y="736"/><use href="#t" x="1929.5" y="713.5"/><use href="#t" x="1929.5" y="775.5"/><use href="#t" x="1930" y="697"/><use href="#t" x="1930" y="775.5"/><use href="#t" x="1930" y="713.5"/><use href="#t" x="1930.5" y="736"/><use href="#t" x="1930.5" y="674"/><use href="#t" x="1930.5" y="713.5"/><use href="#t" x="1931" y="697"/><use href="#t" x="1931" y="736"/><use href="#t" x="1931.5" y="713.5"/><use href="#t" x="1931.5" y="736"/><use href="#t" x="1931.5" y="775.5"/><use href="#t" x="1932" y="697"/><use href="#t" x="1932" y="713.5"/><use href="#t" x="1932" y="775.5"/><use href="#t" x="1932.5" y="775.5"/><use href="#t" x="1932.5" y="697"/><use href="#t" x="1933" y="775.5"/><use href="#t" x="1933" y="736"/><use href="#t" x="1933.5" y="775.5"/><use href="#t" x="1933.5" y="736"/><use href="#t" x="1934" y="775.5"/><use href="#t" x="1934" y="736"/><use href="#t" x="1934.5" y="736"/><use href="#t" x="1934.5" y="697"/><use href="#t" x="1935" y="684.5"/><use href="#t" x="1935" y="713.5"/><use href="#t" x="1935" y="775.5"/><use href="#t" x="1935.5" y="736"/><use href="#t" x="1935.5" y="775.5"/><use href="#t" x="1935.5" y="713.5"/><use href="#t" x="1935.5" y="697"/><use href="#t" x="1936" y="736"/><use href="#t" x="1936" y="713.5"/><use href="#t" x="1936" y="775.5"/><use href="#t" x="1936.5" y="736"/><use href="#t" x="1936.5" y="713.5"/><use href="#t" x="1936.5" y="775.5"/><use href="#t" x="1937" y="697"/><use href="#t" x="1937" y="736"/><use href="#t" x="1937" y="775.5"/><use href="#t" x="1937.5" y="684.5"/><use href="#t" x="1937.5" y="775.5"/><use href="#t" x="1938" y="736"/><use href="#t" x="1938" y="775.5"/><use href="#t" x="1938.5" y="713.5"/><use href="#t" x="1938.5" y="736"/><use href="#t" x="1939" y="713.5"/><use href="#t" x="1939" y="775.5"/></g>
</g>
<g clip-path="url(#cb)">
<g class="r"><use href="#s" x="280" y="1397.5"/><use href="#s" x="309" y="1330"/><use href="#s" x="335" y="1385"/><use href="#s" x="359" y="1365"/><use href="#s" x="381" y="1374.5"/><use href="#s" x="402" y="1349"/><use href="#s" x="421.5" y="1365"/><use href="#s" x="439.5" y="1385"/><use href="#s" x="456.5" y="1374.5"/><use href="#s" x="473" y="1310"/><use href="#s" x="488.5" y="1287"/><use href="#s" x="503" y="1210"/><use href="#s" x="517" y="1094"/><use href="#s" x="530.5" y="992.5"/><use href="#s" x="543" y="910"/><use href="#s" x="555.5" y="876"/><use href="#s" x="567" y="870.5"/><use href="#s" x="578.5" y="884"/><use href="#s" x="589.5" y="913"/><use href="#s" x="600" y="941"/><use href="#s" x="610" y="958.5"/><use href="#s" x="620" y="977.5"/><use href="#s" x="629.5" y="1004"/><use href="#s" x="638.5" y="1014.5"/><use href="#s" x="647.5" y="1021.5"/><use href="#s" x="656.5" y="1032"/><use href="#s" x="665" y="1040.5"/><use href="#s" x="673" y="1054.5"/><use href="#s" x="681" y="1062.5"/><use href="#s" x="689" y="1067"/><use href="#s" x="696.5" y="1069"/><use href="#s" x="704" y="1082"/><use href="#s" x="711" y="1079"/><use href="#s" x="718" y="1085.5"/><use href="#s" x="725" y="1097"/><use href="#s" x="732" y="1091"/><use href="#s" x="738.5" y="1091.5"/><use href="#s" x="745" y="1099"/><use href="#s" x="751" y="1094.5"/><use href="#s" x="757.5" y="1100"/><use href="#s" x="763.5" y="1108.5"/><use href="#s" x="769.5" y="1107"/><use href="#s" x="775" y="1107"/><use href="#s" x="781" y="1105"/><use href="#s" x="786.5" y="1100.5"/><use href="#s" x="792" y="1121.5"/><use href="#s" x="797.5" y="1108"/><use href="#s" x="803" y="1114.5"/><use href="#s" x="808" y="1109"/><use href="#s" x="813" y="1115"/><use href="#s" x="818" y="1115"/><use href="#s" x="823" y="1126"/><use href="#s" x="828" y="1132"/><use href="#s" x="833" y="1122.5"/><use href="#s" x="837.5" y="1122.5"/><use href="#s" x="842" y="1118.5"/><use href="#s" x="847" y="1125.5"/><use href="#s" x="851.5" y="1125.5"/><use href="#s" x="856" y="1125"/><use href="#s" x="860" y="1125.5"/><use href="#s" x="864.5" y="1123"/><use href="#s" x="869" y="1129.5"/><use href="#s" x="873" y="1120.5"/><use href="#s" x="877" y="1141.5"/><use href="#s" x="881" y="1129.5"/><use href="#s" x="885" y="1122.5"/><use href="#s" x="889" y="1125.5"/><use href="#s" x="893" y="1130.5"/><use href="#s" x="897" y="1135.5"/><use href="#s" x="901" y="1142"/><use href="#s" x="904.5" y="1135"/><use href="#s" x="908.5" y="1131.5"/><use href="#s" x="912" y="1143.5"/><use href="#s" x="915.5" y="1135.5"/><use href="#s" x="919" y="1129.5"/><use href="#s" x="923" y="1141"/><use href="#s" x="926.5" y="1129.5"/><use href="#s" x="930" y="1137"/><use href="#s" x="933" y="1147"/><use href="#s" x="936.5" y="1137.5"/><use href="#s" x="940" y="1131"/><use href="#s" x="943.5" y="1143"/><use href="#s" x="946.5" y="1133.5"/><use href="#s" x="950" y="1142.5"/><use href="#s" x="953" y="1131"/><use href="#s" x="956" y="1129"/><use href="#s" x="959.5" y="1129"/><use href="#s" x="962.5" y="1136"/><use href="#s" x="965.5" y="1135"/><use href="#s" x="968.5" y="1143.5"/><use href="#s" x="971.5" y="1142"/><use href="#s" x="974.5" y="1156"/><use href="#s" x="977.5" y="1150.5"/><use href="#s" x="980.5" y="1133.5"/><use href="#s" x="983.5" y="1147"/><use href="#s" x="986" y="1148"/><use href="#s" x="989" y="1151"/><use href="#s" x="992" y="1141"/><use href="#s" x="994.5" y="1154.5"/><use href="#s" x="997.5" y="1152.5"/><use href="#s" x="1000" y="1160.5"/><use href="#s" x="1003" y="1141.5"/><use href="#s" x="1005.5" y="1148.5"/><use href="#s" x="1008.5" y="1155.5"/><use href="#s" x="1011" y="1141"/><use href="#s" x="1013.5" y="1167.5"/><use href="#s" x="1016" y="1150"/><use href="#s" x="1018.5" y="1161.5"/><use href="#s" x="1021.5" y="1154"/><use href="#s" x="1024" y="1152.5"/><use href="#s" x="1026.5" y="1147.5"/><use href="#s" x="1029" y="1152.5"/><use href="#s" x="1031.5" y="1155.5"/><use href="#s" x="1034" y="1156.5"/><use href="#s" x="1036" y="1159"/><use href="#s" x="1038.5" y="1156.5"/><use href="#s" x="1041" y="1164.5"/><use href="#s" x="1043.5" y="1166"/><use href="#s" x="1045.5" y="1159"/><use href="#s" x="1048" y="1156"/><use href="#s" x="1050.5" y="1152.5"/><use href="#s" x="1052.5" y="1153"/><use href="#s" x="1055" y="1157.5"/><use href="#s" x="1057" y="1158"/><use href="#s" x="1059.5" y="1157.5"/><use href="#s" x="1061.5" y="1159"/><use href="#s" x="1064" y="1160"/><use href="#s" x="1066" y="1167"/><use href="#s" x="1068.5" y="1175.5"/><use href="#s" x="1070.5" y="1155.5"/><use href="#s" x="1072.5" y="1166"/><use href="#s" x="1075" y="1163.5"/><use href="#s" x="1077" y="1160.5"/><use href="#s" x="1079" y="1162.5"/><use href="#s" x="1081" y="1169"/><use href="#s" x="1083" y="1146"/><use href="#s" x="1085" y="1157.5"/><use href="#s" x="1087.5" y="1160"/><use href="#s" x="1089.5" y="1165.5"/><use href="#s" x="1091.5" y="1175.5"/><use href="#s" x="1093.5" y="1180.5"/><use href="#s" x="1095.5" y="1169"/><use href="#s" x="1097.5" y="1170"/><use href="#s" x="1099.5" y="1180.5"/><use href="#s" x="1101" y="1175.5"/><use href="#s" x="1103" y="1174.5"/><use href="#s" x="1105" y="1169"/><use href="#s" x="1107" y="1165.5"/><use href="#s" x="1109" y="1184"/><use href="#s" x="1111" y="1167"/><use href="#s" x="1112.5" y="1177"/><use href="#s" x="1114.5" y="1178.5"/><use href="#s" x="1116.5" y="1170.5"/><use href="#s" x="1118.5" y="1169"/><use href="#s" x="1120" y="1163.5"/><use href="#s" x="1122" y="1171.5"/><use href="#s" x="1124" y="1173.5"/><use href="#s" x="1125.5" y="1170"/><use href="#s" x="1127.5" y="1177"/><use href="#s" x="1129" y="1176"/><use href="#s" x="1131" y="1170"/><use href="#s" x="1132.5" y="1162.5"/><use href="#s" x="1134.5" y="1160.5"/><use href="#s" x="1136" y="1171.5"/><use href="#s" x="1138" y="1167.5"/><use href="#s" x="1139.5" y="1173.5"/><use href="#s" x="1141.5" y="1168.5"/><use href="#s" x="1143" y="1180.5"/><use href="#s" x="1144.5" y="1172"/><use href="#s" x="1146.5" y="1175.5"/><use href="#s" x="1148" y="1160.5"/><use href="#s" x="1150" y="1190.5"/><use href="#s" x="1151.5" y="1177"/><use href="#s" x="1153" y="1180.5"/><use href="#s" x="1154.5" y="1187.5"/><use href="#s" x="1156.5" y="1173"/><use href="#s" x="1158" y="1171.5"/><use href="#s" x="1159.5" y="1176"/><use href="#s" x="1161" y="1176"/><use href="#s" x="1162.5" y="1197.5"/><use href="#s" x="1164.5" y="1183"/><use href="#s" x="1166" y="1179.5"/><use href="#s" x="1167.5" y="1184"/><use href="#s" x="1169" y="1186.5"/><use href="#s" x="1170.5" y="1177"/><use href="#s" x="1172" y="1185.5"/><use href="#s" x="1173.5" y="1168.5"/><use href="#s" x="1175" y="1182"/><use href="#s" x="1176.5" y="1179.5"/><use href="#s" x="1178" y="1188.5"/><use href="#s" x="1179.5" y="1169"/><use href="#s" x="1181" y="1175.5"/><use href="#s" x="1182.5" y="1195.5"/><use href="#s" x="1184" y="1200"/><use href="#s" x="1185.5" y="1167"/><use href="#s" x="1187" y="1182"/><use href="#s" x="1188.5" y="1188.5"/><use href="#s" x="1190" y="1178.5"/><use href="#s" x="1191.5" y="1196.5"/><use href="#s" x="1193" y="1179.5"/><use href="#s" x="1194.5" y="1179.5"/><use href="#s" x="1196" y="1188.5"/><use href="#s" x="1197" y="1176"/><use href="#s" x="1198.5" y="1180.5"/><use href="#s" x="1200" y="1196.5"/><use href="#s" x="1201.5" y="1192.5"/><use href="#s" x="1203" y="1185.5"/><use href="#s" x="1204" y="1193.5"/><use href="#s" x="1205.5" y="1190.5"/><use href="#s" x="1207" y="1191.5"/><use href="#s" x="1208.5" y="1185"/><use href="#s" x="1209.5" y="1187.5"/><use href="#s" x="1211" y="1169"/><use href="#s" x="1212.5" y="1198.5"/><use href="#s" x="1214" y="1185"/><use href="#s" x="1215" y="1198.5"/><use href="#s" x="1216.5" y="1189.5"/><use href="#s" x="1218" y="1180.5"/><use href="#s" x="1219" y="1197.5"/><use href="#s" x="1220.5" y="1202"/><use href="#s" x="1221.5" y="1190.5"/><use href="#s" x="1223" y="1188.5"/><use href="#s" x="1224.5" y="1193.5"/><use href="#s" x="1225.5" y="1187.5"/><use href="#s" x="1227" y="1193.5"/><use href="#s" x="1228" y="1184"/><use href="#s" x="1229.5" y="1200"/><use href="#s" x="1230.5" y="1184"/><use href="#s" x="1232" y="1185"/><use href="#s" x="1233" y="1198.5"/><use href="#s" x="1234.5" y="1195.5"/><use href="#s" x="1235.5" y="1215.5"/><use href="#s" x="1237" y="1189.5"/><use href="#s" x="1238" y="1205.5"/><use href="#s" x="1239.5" y="1184"/><use href="#s" x="1240.5" y="1197.5"/><use href="#s" x="1242" y="1181"/><use href="#s" x="1243" y="1203"/><use href="#s" x="1244.5" y="1190.5"/><use href="#s" x="1245.5" y="1185.5"/><use href="#s" x="1246.5" y="1186.5"/><use href="#s" x="1248" y="1207"/><use href="#s" x="1249" y="1185.5"/><use href="#s" x="1250.5" y="1186.5"/><use href="#s" x="1251.5" y="1187.5"/><use href="#s" x="1252.5" y="1192.5"/><use href="#s" x="1254" y="1188.5"/><use href="#s" x="1255" y="1200"/><use href="#s" x="1256" y="1187.5"/><use href="#s" x="1257.5" y="1210.5"/><use href="#s" x="1258.5" y="1193.5"/><use href="#s" x="1259.5" y="1200"/><use href="#s" x="1261" y="1207"/><use href="#s" x="1262" y="1192.5"/><use href="#s" x="1263" y="1197.5"/><use href="#s" x="1264" y="1217"/><use href="#s" x="1265.5" y="1209"/><use href="#s" x="1266.5" y="1214.5"/><use href="#s" x="1267.5" y="1202"/><use href="#s" x="1268.5" y="1192.5"/><use href="#s" x="1270" y="1196.5"/><use href="#s" x="1271" y="1187.5"/><use href="#s" x="1272" y="1202"/><use href="#s" x="1273" y="1207"/><use href="#s" x="1274.5" y="1210.5"/><use href="#s" x="1275.5" y="1203"/><use href="#s" x="1276.5" y="1211.5"/><use href="#s" x="1277.5" y="1203"/><use href="#s" x="1278.5" y="1209"/><use href="#s" x="1279.5" y="1202"/><use href="#s" x="1281" y="1203"/><use href="#s" x="1282" y="1200"/><use href="#s" x="1283" y="1208"/><use href="#s" x="1284" y="1205.5"/><use href="#s" x="1285" y="1204.5"/><use href="#s" x="1286" y="1201"/><use href="#s" x="1287" y="1183"/><use href="#s" x="1288" y="1202"/><use href="#s" x="1289" y="1202"/><use href="#s" x="1290.5" y="1200"/><use href="#s" x="1291.5" y="1201"/><use href="#s" x="1292.5" y="1221"/><use href="#s" x="1293.5" y="1204.5"/><use href="#s" x="1294.5" y="1190.5"/><use href="#s" x="1295.5" y="1194.5"/><use href="#s" x="1296.5" y="1205.5"/><use href="#s" x="1297.5" y="1204.5"/><use href="#s" x="1298.5" y="1200"/><use href="#s" x="1299.5" y="1209"/><use href="#s" x="1300.5" y="1187.5"/><use href="#s" x="1301.5" y="1214.5"/><use href="#s" x="1302.5" y="1196.5"/><use href="#s" x="1303.5" y="1203"/><use href="#s" x="1304.5" y="1214.5"/><use href="#s" x="1305.5" y="1210.5"/><use href="#s" x="1306.5" y="1190.5"/><use href="#s" x="1307.5" y="1210.5"/><use href="#s" x="1308.5" y="1213"/><use href="#s" x="1309.5" y="1198.5"/><use href="#s" x="1310.5" y="1203"/><use href="#s" x="1311.5" y="1208"/><use href="#s" x="1312.5" y="1204.5"/><use href="#s" x="1313.5" y="1204.5"/><use href="#s" x="1314" y="1211.5"/><use href="#s" x="1315" y="1222.5"/><use href="#s" x="1316" y="1209"/><use href="#s" x="1317" y="1214.5"/><use href="#s" x="1318" y="1230.5"/><use href="#s" x="1319" y="1193.5"/><use href="#s" x="1320" y="1221"/><use href="#s" x="1321" y="1198.5"/><use href="#s" x="1322" y="1202"/><use href="#s" x="1322.5" y="1211.5"/><use href="#s" x="1323.5" y="1191.5"/><use href="#s" x="1324.5" y="1202"/><use href="#s" x="1325.5" y="1207"/><use href="#s" x="1326.5" y="1213"/><use href="#s" x="1327.5" y="1222.5"/><use href="#s" x="1328.5" y="1209"/><use href="#s" x="1329" y="1213"/><use href="#s" x="1330" y="1201"/><use href="#s" x="1331" y="1211.5"/><use href="#s" x="1332" y="1204.5"/><use href="#s" x="1333" y="1220"/><use href="#s" x="1333.5" y="1200"/><use href="#s" x="1334.5" y="1191.5"/><use href="#s" x="1335.5" y="1204.5"/><use href="#s" x="1336.5" y="1213"/><use href="#s" x="1337.5" y="1222.5"/><use href="#s" x="1338" y="1200"/><use href="#s" x="1339" y="1225.5"/><use href="#s" x="1340" y="1230.5"/><use href="#s" x="1341" y="1211.5"/><use href="#s" x="1341.5" y="1209"/><use href="#s" x="1342.5" y="1192.5"/><use href="#s" x="1343.5" y="1200"/><use href="#s" x="1344.5" y="1233.5"/><use href="#s" x="1345" y="1213"/><use href="#s" x="1346" y="1239"/><use href="#s" x="1347" y="1229"/><use href="#s" x="1348" y="1221"/><use href="#s" x="1348.5" y="1207"/><use href="#s" x="1349.5" y="1233.5"/><use href="#s" x="1350.5" y="1204.5"/><use href="#s" x="1351" y="1209"/><use href="#s" x="1352" y="1246.5"/><use href="#s" x="1353" y="1227"/><use href="#s" x="1353.5" y="1210.5"/><use href="#s" x="1354.5" y="1239"/><use href="#s" x="1355.5" y="1244.5"/><use href="#s" x="1356" y="1221"/><use href="#s" x="1357" y="1224"/><use href="#s" x="1358" y="1211.5"/><use href="#s" x="1358.5" y="1232"/><use href="#s" x="1359.5" y="1210.5"/><use href="#s" x="1360.5" y="1221"/><use href="#s" x="1361" y="1213"/><use href="#s" x="1362" y="1217"/><use href="#s" x="1363" y="1232"/><use href="#s" x="1363.5" y="1246.5"/><use href="#s" x="1364.5" y="1207"/><use href="#s" x="1365.5" y="1213"/><use href="#s" x="1366" y="1210.5"/><use href="#s" x="1367" y="1225.5"/><use href="#s" x="1367.5" y="1207"/><use href="#s" x="1368.5" y="1205.5"/><use href="#s" x="1369.5" y="1237"/><use href="#s" x="1370" y="1215.5"/><use href="#s" x="1371" y="1222.5"/><use href="#s" x="1371.5" y="1237"/><use href="#s" x="1372.5" y="1230.5"/><use href="#s" x="1373" y="1218.5"/><use href="#s" x="1374" y="1210.5"/><use href="#s" x="1375" y="1220"/><use href="#s" x="1375.5" y="1222.5"/><use href="#s" x="1376.5" y="1218.5"/><use href="#s" x="1377" y="1221"/><use href="#s" x="1378" y="1233.5"/><use href="#s" x="1378.5" y="1214.5"/><use href="#s" x="1379.5" y="1235.5"/><use href="#s" x="1380.5" y="1244.5"/><use href="#s" x="1381" y="1225.5"/><use href="#s" x="1382" y="1217"/><use href="#s" x="1382.5" y="1222.5"/><use href="#s" x="1383.5" y="1224"/><use href="#s" x="1384" y="1235.5"/><use href="#s" x="1385" y="1225.5"/><use href="#s" x="1385.5" y="1203"/><use href="#s" x="1386.5" y="1222.5"/><use href="#s" x="1387" y="1224"/><use href="#s" x="1388" y="1235.5"/><use href="#s" x="1388.5" y="1242.5"/><use href="#s" x="1389.5" y="1215.5"/><use href="#s" x="1390" y="1209"/><use href="#s" x="1391" y="1232"/><use href="#s" x="1391.5" y="1222.5"/><use href="#s" x="1392.5" y="1217"/><use href="#s" x="1393" y="1220"/><use href="#s" x="1394" y="1229"/><use href="#s" x="1394.5" y="1227"/><use href="#s" x="1395.5" y="1248.5"/><use href="#s" x="1396" y="1225.5"/><use href="#s" x="1396.5" y="1222.5"/><use href="#s" x="1397.5" y="1215.5"/><use href="#s" x="1398" y="1242.5"/><use href="#s" x="1399" y="1233.5"/><use href="#s" x="1399.5" y="1229"/><use href="#s" x="1400.5" y="1229"/><use href="#s" x="1401" y="1211.5"/><use href="#s" x="1402" y="1237"/><use href="#s" x="1402.5" y="1230.5"/><use href="#s" x="1403" y="1210.5"/><use href="#s" x="1404" y="1220"/><use href="#s" x="1404.5" y="1227"/><use href="#s" x="1405.5" y="1244.5"/><use href="#s" x="1406" y="1246.5"/><use href="#s" x="1407" y="1217"/><use href="#s" x="1407.5" y="1232"/><use href="#s" x="1408" y="1211.5"/><use href="#s" x="1409" y="1225.5"/><use href="#s" x="1409.5" y="1221"/><use href="#s" x="1410.5" y="1252.5"/><use href="#s" x="1411" y="1210.5"/><use href="#s" x="1411.5" y="1230.5"/><use href="#s" x="1412.5" y="1244.5"/><use href="#s" x="1413" y="1246.5"/><use href="#s" x="1413.5" y="1225.5"/><use href="#s" x="1414.5" y="1224"/><use href="#s" x="1415" y="1237"/><use href="#s" x="1416" y="1239"/><use href="#s" x="1416.5" y="1222.5"/><use href="#s" x="1417" y="1248.5"/><use href="#s" x="1418" y="1227"/><use href="#s" x="1418.5" y="1218.5"/><use href="#s" x="1419" y="1229"/><use href="#s" x="1420" y="1225.5"/><use href="#s" x="1420.5" y="1244.5"/><use href="#s" x="1421" y="1232"/><use href="#s" x="1422" y="1241"/><use href="#s" x="1422.5" y="1237"/><use href="#s" x="1423" y="1237"/><use href="#s" x="1424" y="1248.5"/><use href="#s" x="1424.5" y="1241"/><use href="#s" x="1425" y="1239"/><use href="#s" x="1426" y="1221"/><use href="#s" x="1426.5" y="1225.5"/><use href="#s" x="1427" y="1255"/><use href="#s" x="1428" y="1248.5"/><use href="#s" x="1428.5" y="1233.5"/><use href="#s" x="1429" y="1218.5"/><use href="#s" x="1430" y="1246.5"/><use href="#s" x="1430.5" y="1239"/><use href="#s" x="1431" y="1241"/><use href="#s" x="1432" y="1224"/><use href="#s" x="1432.5" y="1241"/><use href="#s" x="1433" y="1237"/><use href="#s" x="1433.5" y="1225.5"/><use href="#s" x="1434.5" y="1241"/><use href="#s" x="1435" y="1239"/><use href="#s" x="1435.5" y="1241"/><use href="#s" x="1436.5" y="1227"/><use href="#s" x="1437" y="1232"/><use href="#s" x="1437.5" y="1239"/><use href="#s" x="1438" y="1230.5"/><use href="#s" x="1439" y="1262"/><use href="#s" x="1439.5" y="1248.5"/><use href="#s" x="1440" y="1242.5"/><use href="#s" x="1440.5" y="1252.5"/><use href="#s" x="1441.5" y="1225.5"/><use href="#s" x="1442" y="1235.5"/><use href="#s" x="1442.5" y="1242.5"/><use href="#s" x="1443" y="1252.5"/><use href="#s" x="1444" y="1235.5"/><use href="#s" x="1444.5" y="1232"/><use href="#s" x="1445" y="1232"/><use href="#s" x="1445.5" y="1255"/><use href="#s" x="1446.5" y="1227"/><use href="#s" x="1447" y="1233.5"/><use href="#s" x="1447.5" y="1239"/><use href="#s" x="1448" y="1255"/><use href="#s" x="1449" y="1227"/><use href="#s" x="1449.5" y="1246.5"/><use href="#s" x="1450" y="1250.5"/><use href="#s" x="1450.5" y="1239"/><use href="#s" x="1451" y="1235.5"/><use href="#s" x="1452" y="1235.5"/><use href="#s" x="1452.5" y="1235.5"/><use href="#s" x="1453" y="1232"/><use href="#s" x="1453.5" y="1232"/><use href="#s" x="1454.5" y="1232"/><use href="#s" x="1455" y="1248.5"/><use href="#s" x="1455.5" y="1248.5"/><use href="#s" x="1456" y="1237"/><use href="#s" x="1456.5" y="1224"/><use href="#s" x="1457.5" y="1232"/><use href="#s" x="1458" y="1255"/><use href="#s" x="1458.5" y="1259.5"/><use href="#s" x="1459" y="1237"/><use href="#s" x="1459.5" y="1244.5"/><use href="#s" x="1460" y="1250.5"/><use href="#s" x="1461" y="1241"/><use href="#s" x="1461.5" y="1241"/><use href="#s" x="1462" y="1244.5"/><use href="#s" x="1462.5" y="1230.5"/><use href="#s" x="1463" y="1244.5"/><use href="#s" x="1463.5" y="1242.5"/><use href="#s" x="1464.5" y="1244.5"/><use href="#s" x="1465" y="1264.5"/><use href="#s" x="1465.5" y="1239"/><use href="#s" x="1466" y="1233.5"/><use href="#s" x="1466.5" y="1246.5"/><use href="#s" x="1467" y="1241"/><use href="#s" x="1468" y="1252.5"/><use href="#s" x="1468.5" y="1242.5"/><use href="#s" x="1469" y="1221"/><use href="#s" x="1469.5" y="1241"/><use href="#s" x="1470" y="1242.5"/><use href="#s" x="1470.5" y="1239"/><use href="#s" x="1471" y="1239"/><use href="#s" x="1472" y="1235.5"/><use href="#s" x="1472.5" y="1241"/><use href="#s" x="1473" y="1235.5"/><use href="#s" x="1473.5" y="1246.5"/><use href="#s" x="1474" y="1227"/><use href="#s" x="1474.5" y="1235.5"/><use href="#s" x="1475" y="1252.5"/><use href="#s" x="1475.5" y="1227"/><use href="#s" x="1476.5" y="1244.5"/><use href="#s" x="1477" y="1237"/><use href="#s" x="1477.5" y="1275"/><use href="#s" x="1478" y="1225.5"/><use href="#s" x="1478.5" y="1255"/><use href="#s" x="1479" y="1232"/><use href="#s" x="1479.5" y="1262"/><use href="#s" x="1480" y="1248.5"/><use href="#s" x="1480.5" y="1264.5"/><use href="#s" x="1481.5" y="1242.5"/><use href="#s" x="1482" y="1224"/><use href="#s" x="1482.5" y="1239"/><use href="#s" x="1483" y="1252.5"/><use href="#s" x="1483.5" y="1232"/><use href="#s" x="1484" y="1248.5"/><use href="#s" x="1484.5" y="1239"/><use href="#s" x="1485" y="1237"/><use href="#s" x="1485.5" y="1241"/><use href="#s" x="1486" y="1235.5"/><use href="#s" x="1486.5" y="1259.5"/><use href="#s" x="1487.5" y="1237"/><use href="#s" x="1488" y="1248.5"/><use href="#s" x="1488.5" y="1239"/><use href="#s" x="1489" y="1267"/><use href="#s" x="1489.5" y="1259.5"/><use href="#s" x="1490" y="1246.5"/><use href="#s" x="1490.5" y="1244.5"/><use href="#s" x="1491" y="1248.5"/><use href="#s" x="1491.5" y="1259.5"/><use href="#s" x="1492" y="1269.5"/><use href="#s" x="1492.5" y="1250.5"/><use href="#s" x="1493" y="1257"/><use href="#s" x="1493.5" y="1239"/><use href="#s" x="1494" y="1250.5"/><use href="#s" x="1494.5" y="1239"/><use href="#s" x="1495.5" y="1255"/><use href="#s" x="1496" y="1239"/><use href="#s" x="1496.5" y="1248.5"/><use href="#s" x="1497" y="1235.5"/><use href="#s" x="1497.5" y="1264.5"/><use href="#s" x="1498" y="1225.5"/><use href="#s" x="1498.5" y="1267"/><use href="#s" x="1499" y="1272"/><use href="#s" x="1499.5" y="1252.5"/><use href="#s" x="1500" y="1257"/><use href="#s" x="1500.5" y="1257"/><use href="#s" x="1501" y="1233.5"/><use href="#s" x="1501.5" y="1248.5"/><use href="#s" x="1502" y="1239"/><use href="#s" x="1502.5" y="1255"/><use href="#s" x="1503" y="1244.5"/><use href="#s" x="1503.5" y="1255"/><use href="#s" x="1504" y="1269.5"/><use href="#s" x="1504.5" y="1241"/><use href="#s" x="1505" y="1227"/><use href="#s" x="1505.5" y="1246.5"/><use href="#s" x="1506" y="1255"/><use href="#s" x="1506.5" y="1252.5"/><use href="#s" x="1507" y="1252.5"/><use href="#s" x="1507.5" y="1255"/><use href="#s" x="1508" y="1252.5"/><use href="#s" x="1508.5" y="1237"/><use href="#s" x="1509" y="1229"/><use href="#s" x="1509.5" y="1257"/><use href="#s" x="1510" y="1230.5"/><use href="#s" x="1510.5" y="1269.5"/><use href="#s" x="1511" y="1244.5"/><use href="#s" x="1511.5" y="1232"/><use href="#s" x="1512" y="1250.5"/><use href="#s" x="1512.5" y="1235.5"/><use href="#s" x="1513" y="1252.5"/><use href="#s" x="1513.5" y="1259.5"/><use href="#s" x="1514" y="1239"/><use href="#s" x="1514.5" y="1264.5"/><use href="#s" x="1515" y="1281"/><use href="#s" x="1515.5" y="1257"/><use href="#s" x="1516" y="1250.5"/><use href="#s" x="1516.5" y="1227"/><use href="#s" x="1517" y="1267"/><use href="#s" x="1517.5" y="1248.5"/><use href="#s" x="1518" y="1281"/><use href="#s" x="1518.5" y="1255"/><use href="#s" x="1519" y="1239"/><use href="#s" x="1519.5" y="1252.5"/><use href="#s" x="1520" y="1235.5"/><use href="#s" x="1520.5" y="1250.5"/><use href="#s" x="1521" y="1244.5"/><use href="#s" x="1521.5" y="1229"/><use href="#s" x="1522" y="1220"/><use href="#s" x="1522.5" y="1275"/><use href="#s" x="1523" y="1248.5"/><use href="#s" x="1523.5" y="1272"/><use href="#s" x="1524" y="1237"/><use href="#s" x="1524.5" y="1250.5"/><use href="#s" x="1524.5" y="1242.5"/><use href="#s" x="1525" y="1232"/><use href="#s" x="1525.5" y="1248.5"/><use href="#s" x="1526" y="1262"/><use href="#s" x="1526.5" y="1248.5"/><use href="#s" x="1527" y="1241"/><use href="#s" x="1527.5" y="1267"/><use href="#s" x="1528" y="1252.5"/><use href="#s" x="1528.5" y="1241"/><use href="#s" x="1529" y="1248.5"/><use href="#s" x="1529.5" y="1235.5"/><use href="#s" x="1530" y="1259.5"/><use href="#s" x="1530.5" y="1257"/><use href="#s" x="1531" y="1242.5"/><use href="#s" x="1531.5" y="1281"/><use href="#s" x="1532" y="1262"/><use href="#s" x="1532.5" y="1264.5"/><use href="#s" x="1532.5" y="1284"/><use href="#s" x="1533" y="1267"/><use href="#s" x="1533.5" y="1284"/><use href="#s" x="1534" y="1269.5"/><use href="#s" x="1534.5" y="1257"/><use href="#s" x="1535" y="1264.5"/><use href="#s" x="1535.5" y="1252.5"/><use href="#s" x="1536" y="1241"/><use href="#s" x="1536.5" y="1257"/><use href="#s" x="1537" y="1264.5"/><use href="#s" x="1537.5" y="1290.5"/><use href="#s" x="1538" y="1244.5"/><use href="#s" x="1538" y="1255"/><use href="#s" x="1538.5" y="1248.5"/><use href="#s" x="1539" y="1278"/><use href="#s" x="1539.5" y="1267"/><use href="#s" x="1540" y="1259.5"/><use href="#s" x="1540.5" y="1272"/><use href="#s" x="1541" y="1290.5"/><use href="#s" x="1541.5" y="1241"/><use href="#s" x="1542" y="1248.5"/><use href="#s" x="1542.5" y="1255"/><use href="#s" x="1542.5" y="1257"/><use href="#s" x="1543" y="1246.5"/><use href="#s" x="1543.5" y="1275"/><use href="#s" x="1544" y="1264.5"/><use href="#s" x="1544.5" y="1257"/><use href="#s" x="1545" y="1232"/><use href="#s" x="1545.5" y="1232"/><use href="#s" x="1546" y="1257"/><use href="#s" x="1546.5" y="1275"/><use href="#s" x="1547" y="1255"/><use href="#s" x="1547" y="1242.5"/><use href="#s" x="1547.5" y="1278"/><use href="#s" x="1548" y="1250.5"/><use href="#s" x="1548.5" y="1250.5"/><use href="#s" x="1549" y="1259.5"/><use href="#s" x="1549.5" y="1255"/><use href="#s" x="1550" y="1267"/><use href="#s" x="1550.5" y="1244.5"/><use href="#s" x="1550.5" y="1262"/><use href="#s" x="1551" y="1248.5"/><use href="#s" x="1551.5" y="1267"/><use href="#s" x="1552" y="1246.5"/><use href="#s" x="1552.5" y="1262"/><use href="#s" x="1553" y="1233.5"/><use href="#s" x="1553.5" y="1250.5"/><use href="#s" x="1553.5" y="1255"/><use href="#s" x="1554" y="1230.5"/><use href="#s" x="1554.5" y="1262"/><use href="#s" x="1555" y="1250.5"/><use href="#s" x="1555.5" y="1262"/><use href="#s" x="1556" y="1275"/><use href="#s" x="1556.5" y="1250.5"/><use href="#s" x="1557" y="1278"/><use href="#s" x="1557" y="1255"/><use href="#s" x="1557.5" y="1239"/><use href="#s" x="1558" y="1262"/><use href="#s" x="1558.5" y="1244.5"/><use href="#s" x="1559" y="1269.5"/><use href="#s" x="1559.5" y="1246.5"/><use href="#s" x="1559.5" y="1239"/><use href="#s" x="1560" y="1275"/><use href="#s" x="1560.5" y="1290.5"/><use href="#s" x="1561" y="1239"/><use href="#s" x="1561.5" y="1275"/><use href="#s" x="1562" y="1250.5"/><use href="#s" x="1562.5" y="1255"/><use href="#s" x="1562.5" y="1257"/><use href="#s" x="1563" y="1278"/><use href="#s" x="1563.5" y="1244.5"/><use href="#s" x="1564" y="1269.5"/><use href="#s" x="1564.5" y="1244.5"/><use href="#s" x="1565" y="1290.5"/><use href="#s" x="1565" y="1252.5"/><use href="#s" x="1565.5" y="1269.5"/><use href="#s" x="1566" y="1269.5"/><use href="#s" x="1566.5" y="1257"/><use href="#s" x="1567" y="1252.5"/><use href="#s" x="1567.5" y="1225.5"/><use href="#s" x="1567.5" y="1257"/><use href="#s" x="1568" y="1284"/><use href="#s" x="1568.5" y="1248.5"/><use href="#s" x="1569" y="1233.5"/><use href="#s" x="1569.5" y="1259.5"/><use href="#s" x="1569.5" y="1252.5"/><use href="#s" x="1570" y="1264.5"/><use href="#s" x="1570.5" y="1272"/><use href="#s" x="1571" y="1272"/><use href="#s" x="1571.5" y="1257"/><use href="#s" x="1572" y="1269.5"/><use href="#s" x="1572" y="1324.5"/><use href="#s" x="1572.5" y="1264.5"/><use href="#s" x="1573" y="1272"/><use href="#s" x="1573.5" y="1246.5"/><use href="#s" x="1574" y="1267"/><use href="#s" x="1574" y="1278"/><use href="#s" x="1574.5" y="1257"/><use href="#s" x="1575" y="1267"/><use href="#s" x="1575.5" y="1252.5"/><use href="#s" x="1576" y="1267"/><use href="#s" x="1576" y="1275"/><use href="#s" x="1576.5" y="1242.5"/><use href="#s" x="1577" y="1262"/><use href="#s" x="1577.5" y="1284"/><use href="#s" x="1578" y="1264.5"/><use href="#s" x="1578" y="1250.5"/><use href="#s" x="1578.5" y="1267"/><use href="#s" x="1579" y="1278"/><use href="#s" x="1579.5" y="1310"/><use href="#s" x="1580" y="1262"/><use href="#s" x="1580" y="1246.5"/><use href="#s" x="1580.5" y="1281"/><use href="#s" x="1581" y="1262"/><use href="#s" x="1581.5" y="1250.5"/><use href="#s" x="1582" y="1272"/><use href="#s" x="1582" y="1275"/><use href="#s" x="1582.5" y="1269.5"/><use href="#s" x="1583" y="1267"/><use href="#s" x="1583.5" y="1298"/><use href="#s" x="1583.5" y="1269.5"/><use href="#s" x="1584" y="1272"/><use href="#s" x="1584.5" y="1267"/><use href="#s" x="1585" y="1257"/><use href="#s" x="1585.5" y="1287"/><use href="#s" x="1585.5" y="1262"/><use href="#s" x="1586" y="1264.5"/><use href="#s" x="1586.5" y="1272"/><use href="#s" x="1587" y="1275"/><use href="#s" x="1587" y="1269.5"/><use href="#s" x="1587.5" y="1278"/><use href="#s" x="1588" y="1281"/><use href="#s" x="1588.5" y="1267"/><use href="#s" x="1589" y="1250.5"/><use href="#s" x="1589" y="1272"/><use href="#s" x="1589.5" y="1272"/><use href="#s" x="1590" y="1281"/><use href="#s" x="1590.5" y="1248.5"/><use href="#s" x="1590.5" y="1272"/><use href="#s" x="1591" y="1281"/><use href="#s" x="1591.5" y="1257"/><use href="#s" x="1592" y="1275"/><use href="#s" x="1592" y="1262"/><use href="#s" x="1592.5" y="1269.5"/><use href="#s" x="1593" y="1284"/><use href="#s" x="1593.5" y="1281"/><use href="#s" x="1593.5" y="1278"/><use href="#s" x="1594" y="1257"/><use href="#s" x="1594.5" y="1248.5"/><use href="#s" x="1595" y="1275"/><use href="#s" x="1595" y="1281"/><use href="#s" x="1595.5" y="1259.5"/><use href="#s" x="1596" y="1269.5"/><use href="#s" x="1596.5" y="1255"/><use href="#s" x="1596.5" y="1262"/><use href="#s" x="1597" y="1264.5"/><use href="#s" x="1597.5" y="1278"/><use href="#s" x="1598" y="1287"/><use href="#s" x="1598" y="1259.5"/><use href="#s" x="1598.5" y="1264.5"/><use href="#s" x="1599" y="1301.5"/><use href="#s" x="1599.5" y="1267"/><use href="#s" x="1600" y="1250.5"/><use href="#s" x="1600.5" y="1272"/><use href="#s" x="1601" y="1278"/><use href="#s" x="1601" y="1262"/><use href="#s" x="1601.5" y="1264.5"/><use href="#s" x="1602" y="1262"/><use href="#s" x="1602.5" y="1269.5"/><use href="#s" x="1602.5" y="1287"/><use href="#s" x="1603" y="1287"/><use href="#s" x="1603.5" y="1257"/><use href="#s" x="1604" y="1242.5"/><use href="#s" x="1604" y="1262"/><use href="#s" x="1604.5" y="1272"/><use href="#s" x="1605" y="1269.5"/><use href="#s" x="1605" y="1298"/><use href="#s" x="1605.5" y="1272"/><use href="#s" x="1606" y="1281"/><use href="#s" x="1606.5" y="1275"/><use href="#s" x="1607" y="1246.5"/><use href="#s" x="1607.5" y="1301.5"/><use href="#s" x="1608" y="1269.5"/><use href="#s" x="1608" y="1272"/><use href="#s" x="1608.5" y="1284"/><use href="#s" x="1609" y="1269.5"/><use href="#s" x="1609" y="1259.5"/><use href="#s" x="1609.5" y="1267"/><use href="#s" x="1610" y="1264.5"/><use href="#s" x="1610.5" y="1275"/><use href="#s" x="1610.5" y="1267"/><use href="#s" x="1611" y="1278"/><use href="#s" x="1611.5" y="1278"/><use href="#s" x="1611.5" y="1248.5"/><use href="#s" x="1612" y="1278"/><use href="#s" x="1612.5" y="1250.5"/><use href="#s" x="1613" y="1314.5"/><use href="#s" x="1613" y="1248.5"/><use href="#s" x="1613.5" y="1275"/><use href="#s" x="1614" y="1272"/><use href="#s" x="1614" y="1269.5"/><use href="#s" x="1614.5" y="1294"/><use href="#s" x="1615" y="1267"/><use href="#s" x="1615.5" y="1252.5"/><use href="#s" x="1615.5" y="1275"/><use href="#s" x="1616" y="1259.5"/><use href="#s" x="1616.5" y="1267"/><use href="#s" x="1616.5" y="1272"/><use href="#s" x="1617" y="1278"/><use href="#s" x="1617.5" y="1284"/><use href="#s" x="1617.5" y="1290.5"/><use href="#s" x="1618" y="1272"/><use href="#s" x="1618.5" y="1239"/><use href="#s" x="1619" y="1264.5"/><use href="#s" x="1619" y="1298"/><use href="#s" x="1619.5" y="1281"/><use href="#s" x="1620" y="1290.5"/><use href="#s" x="1620" y="1287"/><use href="#s" x="1620.5" y="1301.5"/><use href="#s" x="1621" y="1257"/><use href="#s" x="1621" y="1275"/><use href="#s" x="1621.5" y="1281"/><use href="#s" x="1622" y="1269.5"/><use href="#s" x="1622" y="1275"/><use href="#s" x="1622.5" y="1278"/><use href="#s" x="1623" y="1290.5"/><use href="#s" x="1623" y="1269.5"/><use href="#s" x="1623.5" y="1287"/><use href="#s" x="1624" y="1255"/><use href="#s" x="1624.5" y="1275"/><use href="#s" x="1624.5" y="1264.5"/><use href="#s" x="1625" y="1278"/><use href="#s" x="1625.5" y="1298"/><use href="#s" x="1625.5" y="1267"/><use href="#s" x="1626" y="1246.5"/><use href="#s" x="1626.5" y="1278"/><use href="#s" x="1626.5" y="1284"/><use href="#s" x="1627" y="1314.5"/><use href="#s" x="1627.5" y="1278"/><use href="#s" x="1627.5" y="1324.5"/><use href="#s" x="1628" y="1294"/><use href="#s" x="1628.5" y="1287"/><use href="#s" x="1628.5" y="1281"/><use href="#s" x="1629" y="1272"/><use href="#s" x="1629.5" y="1301.5"/><use href="#s" x="1629.5" y="1278"/><use href="#s" x="1630" y="1275"/><use href="#s" x="1630.5" y="1284"/><use href="#s" x="1630.5" y="1259.5"/><use href="#s" x="1631" y="1255"/><use href="#s" x="1631.5" y="1272"/><use href="#s" x="1631.5" y="1275"/><use href="#s" x="1632" y="1298"/><use href="#s" x="1632.5" y="1294"/><use href="#s" x="1632.5" y="1284"/><use href="#s" x="1633" y="1287"/><use href="#s" x="1633.5" y="1310"/><use href="#s" x="1634" y="1284"/><use href="#s" x="1634.5" y="1301.5"/><use href="#s" x="1634.5" y="1281"/><use href="#s" x="1635" y="1281"/><use href="#s" x="1635.5" y="1298"/><use href="#s" x="1635.5" y="1264.5"/><use href="#s" x="1636" y="1248.5"/><use href="#s" x="1636.5" y="1305.5"/><use href="#s" x="1636.5" y="1290.5"/><use href="#s" x="1637" y="1281"/><use href="#s" x="1637.5" y="1287"/><use href="#s" x="1637.5" y="1257"/><use href="#s" x="1638" y="1275"/><use href="#s" x="1638.5" y="1275"/><use href="#s" x="1638.5" y="1305.5"/><use href="#s" x="1639" y="1324.5"/><use href="#s" x="1639.5" y="1281"/><use href="#s" x="1639.5" y="1278"/><use href="#s" x="1640" y="1314.5"/><use href="#s" x="1640" y="1284"/><use href="#s" x="1640.5" y="1287"/><use href="#s" x="1641" y="1284"/><use href="#s" x="1641" y="1281"/><use href="#s" x="1641.5" y="1272"/><use href="#s" x="1642" y="1287"/><use href="#s" x="1642.5" y="1284"/><use href="#s" x="1643" y="1284"/><use href="#s" x="1643" y="1314.5"/><use href="#s" x="1643.5" y="1294"/><use href="#s" x="1644" y="1278"/><use href="#s" x="1644" y="1301.5"/><use href="#s" x="1644.5" y="1301.5"/><use href="#s" x="1644.5" y="1278"/><use href="#s" x="1645" y="1294"/><use href="#s" x="1645.5" y="1267"/><use href="#s" x="1645.5" y="1290.5"/><use href="#s" x="1646" y="1278"/><use href="#s" x="1646.5" y="1275"/><use href="#s" x="1646.5" y="1314.5"/><use href="#s" x="1647" y="1284"/><use href="#s" x="1647.5" y="1248.5"/><use href="#s" x="1647.5" y="1330"/><use href="#s" x="1648" y="1281"/><use href="#s" x="1648.5" y="1252.5"/><use href="#s" x="1649" y="1267"/><use href="#s" x="1649" y="1298"/><use href="#s" x="1649.5" y="1284"/><use href="#s" x="1650" y="1301.5"/><use href="#s" x="1650" y="1278"/><use href="#s" x="1650.5" y="1287"/><use href="#s" x="1650.5" y="1294"/><use href="#s" x="1651" y="1290.5"/><use href="#s" x="1651.5" y="1284"/><use href="#s" x="1652" y="1269.5"/><use href="#s" x="1652.5" y="1275"/><use href="#s" x="1652.5" y="1267"/><use href="#s" x="1653" y="1301.5"/><use href="#s" x="1653" y="1310"/><use href="#s" x="1653.5" y="1267"/><use href="#s" x="1654" y="1284"/><use href="#s" x="1654" y="1305.5"/><use href="#s" x="1654.5" y="1298"/><use href="#s" x="1655" y="1294"/><use href="#s" x="1655" y="1278"/><use href="#s" x="1655.5" y="1284"/><use href="#s" x="1655.5" y="1294"/><use href="#s" x="1656" y="1305.5"/><use href="#s" x="1656.5" y="1287"/><use href="#s" x="1656.5" y="1294"/><use href="#s" x="1657" y="1278"/><use href="#s" x="1657" y="1324.5"/><use href="#s" x="1657.5" y="1294"/><use href="#s" x="1658" y="1257"/><use href="#s" x="1658" y="1281"/><use href="#s" x="1658.5" y="1275"/><use href="#s" x="1659" y="1305.5"/><use href="#s" x="1659" y="1278"/><use href="#s" x="1659.5" y="1278"/><use href="#s" x="1660" y="1278"/><use href="#s" x="1660.5" y="1284"/><use href="#s" x="1660.5" y="1290.5"/><use href="#s" x="1661" y="1310"/><use href="#s" x="1661" y="1319.5"/><use href="#s" x="1661.5" y="1275"/><use href="#s" x="1662" y="1284"/><use href="#s" x="1662" y="1301.5"/><use href="#s" x="1662.5" y="1272"/><use href="#s" x="1662.5" y="1290.5"/><use href="#s" x="1663" y="1275"/><use href="#s" x="1663.5" y="1310"/><use href="#s" x="1664" y="1290.5"/><use href="#s" x="1664" y="1287"/><use href="#s" x="1664.5" y="1275"/><use href="#s" x="1665" y="1259.5"/><use href="#s" x="1665" y="1290.5"/><use href="#s" x="1665.5" y="1324.5"/><use href="#s" x="1665.5" y="1305.5"/><use href="#s" x="1666" y="1298"/><use href="#s" x="1666.5" y="1278"/><use href="#s" x="1666.5" y="1301.5"/><use href="#s" x="1667" y="1272"/><use href="#s" x="1667" y="1278"/><use href="#s" x="1667.5" y="1310"/><use href="#s" x="1668" y="1284"/><use href="#s" x="1668" y="1301.5"/><use href="#s" x="1668.5" y="1294"/><use href="#s" x="1668.5" y="1269.5"/><use href="#s" x="1669" y="1294"/><use href="#s" x="1669" y="1281"/><use href="#s" x="1669.5" y="1257"/><use href="#s" x="1670" y="1319.5"/><use href="#s" x="1670" y="1305.5"/><use href="#s" x="1670.5" y="1259.5"/><use href="#s" x="1670.5" y="1301.5"/><use href="#s" x="1671" y="1314.5"/><use href="#s" x="1671.5" y="1324.5"/><use href="#s" x="1671.5" y="1284"/><use href="#s" x="1672" y="1287"/><use href="#s" x="1672" y="1264.5"/><use href="#s" x="1672.5" y="1305.5"/><use href="#s" x="1672.5" y="1278"/><use href="#s" x="1673" y="1298"/><use href="#s" x="1673.5" y="1298"/><use href="#s" x="1673.5" y="1310"/><use href="#s" x="1674" y="1314.5"/><use href="#s" x="1674" y="1294"/><use href="#s" x="1674.5" y="1275"/><use href="#s" x="1675" y="1262"/><use href="#s" x="1675" y="1275"/><use href="#s" x="1675.5" y="1310"/><use href="#s" x="1675.5" y="1287"/><use href="#s" x="1676" y="1269.5"/><use href="#s" x="1676" y="1287"/><use href="#s" x="1676.5" y="1298"/><use href="#s" x="1677" y="1310"/><use href="#s" x="1677" y="1314.5"/><use href="#s" x="1677.5" y="1287"/><use href="#s" x="1677.5" y="1314.5"/><use href="#s" x="1678" y="1275"/><use href="#s" x="1678" y="1272"/><use href="#s" x="1678.5" y="1275"/><use href="#s" x="1679" y="1290.5"/><use href="#s" x="1679" y="1298"/><use href="#s" x="1679.5" y="1269.5"/><use href="#s" x="1680" y="1305.5"/><use href="#s" x="1680" y="1278"/><use href="#s" x="1680.5" y="1305.5"/><use href="#s" x="1681" y="1305.5"/><use href="#s" x="1681" y="1284"/><use href="#s" x="1681.5" y="1278"/><use href="#s" x="1681.5" y="1314.5"/><use href="#s" x="1682" y="1319.5"/><use href="#s" x="1682" y="1305.5"/><use href="#s" x="1682.5" y="1275"/><use href="#s" x="1683" y="1310"/><use href="#s" x="1683.5" y="1301.5"/><use href="#s" x="1683.5" y="1278"/><use href="#s" x="1684" y="1305.5"/><use href="#s" x="1684" y="1275"/><use href="#s" x="1684.5" y="1287"/><use href="#s" x="1684.5" y="1324.5"/><use href="#s" x="1685" y="1281"/><use href="#s" x="1685.5" y="1305.5"/><use href="#s" x="1685.5" y="1290.5"/><use href="#s" x="1686" y="1298"/><use href="#s" x="1686" y="1284"/><use href="#s" x="1686.5" y="1269.5"/><use href="#s" x="1686.5" y="1305.5"/><use href="#s" x="1687" y="1298"/><use href="#s" x="1687" y="1278"/><use href="#s" x="1687.5" y="1281"/><use href="#s" x="1688" y="1281"/><use href="#s" x="1688.5" y="1284"/><use href="#s" x="1688.5" y="1298"/><use href="#s" x="1689" y="1301.5"/><use href="#s" x="1689" y="1272"/><use href="#s" x="1689.5" y="1298"/><use href="#s" x="1689.5" y="1324.5"/><use href="#s" x="1690" y="1267"/><use href="#s" x="1690" y="1324.5"/><use href="#s" x="1690.5" y="1284"/><use href="#s" x="1691" y="1298"/><use href="#s" x="1691.5" y="1287"/><use href="#s" x="1691.5" y="1269.5"/><use href="#s" x="1692" y="1301.5"/><use href="#s" x="1692.5" y="1301.5"/><use href="#s" x="1692.5" y="1324.5"/><use href="#s" x="1693" y="1294"/><use href="#s" x="1693" y="1305.5"/><use href="#s" x="1693.5" y="1330"/><use href="#s" x="1694" y="1314.5"/><use href="#s" x="1694" y="1284"/><use href="#s" x="1694.5" y="1262"/><use href="#s" x="1694.5" y="1284"/><use href="#s" x="1695" y="1305.5"/><use href="#s" x="1695" y="1319.5"/><use href="#s" x="1695.5" y="1314.5"/><use href="#s" x="1695.5" y="1324.5"/><use href="#s" x="1696" y="1319.5"/><use href="#s" x="1696" y="1278"/><use href="#s" x="1696.5" y="1314.5"/><use href="#s" x="1697" y="1294"/><use href="#s" x="1697" y="1305.5"/><use href="#s" x="1697.5" y="1290.5"/><use href="#s" x="1697.5" y="1310"/><use href="#s" x="1698" y="1310"/><use href="#s" x="1698" y="1294"/><use href="#s" x="1698.5" y="1275"/><use href="#s" x="1698.5" y="1298"/><use href="#s" x="1699" y="1275"/><use href="#s" x="1699" y="1264.5"/><use href="#s" x="1699.5" y="1281"/><use href="#s" x="1699.5" y="1305.5"/><use href="#s" x="1700" y="1301.5"/><use href="#s" x="1700" y="1262"/><use href="#s" x="1700.5" y="1305.5"/><use href="#s" x="1701" y="1310"/><use href="#s" x="1701" y="1287"/><use href="#s" x="1701.5" y="1310"/><use href="#s" x="1701.5" y="1290.5"/><use href="#s" x="1702" y="1319.5"/><use href="#s" x="1702" y="1275"/><use href="#s" x="1702.5" y="1319.5"/><use href="#s" x="1703" y="1310"/><use href="#s" x="1703" y="1305.5"/><use href="#s" x="1703.5" y="1287"/><use href="#s" x="1703.5" y="1305.5"/><use href="#s" x="1704" y="1336"/><use href="#s" x="1704" y="1301.5"/><use href="#s" x="1704.5" y="1290.5"/><use href="#s" x="1704.5" y="1319.5"/><use href="#s" x="1705" y="1290.5"/><use href="#s" x="1705.5" y="1342"/><use href="#s" x="1705.5" y="1314.5"/><use href="#s" x="1706" y="1287"/><use href="#s" x="1706.5" y="1294"/><use href="#s" x="1706.5" y="1298"/><use href="#s" x="1707" y="1305.5"/><use href="#s" x="1707" y="1294"/><use href="#s" x="1707.5" y="1319.5"/><use href="#s" x="1707.5" y="1298"/><use href="#s" x="1708" y="1310"/><use href="#s" x="1708" y="1330"/><use href="#s" x="1708.5" y="1301.5"/><use href="#s" x="1708.5" y="1336"/><use href="#s" x="1709" y="1324.5"/><use href="#s" x="1709" y="1272"/><use href="#s" x="1709.5" y="1324.5"/><use href="#s" x="1709.5" y="1272"/><use href="#s" x="1710" y="1301.5"/><use href="#s" x="1710" y="1290.5"/><use href="#s" x="1710.5" y="1269.5"/><use href="#s" x="1710.5" y="1305.5"/><use href="#s" x="1711" y="1314.5"/><use href="#s" x="1711" y="1281"/><use href="#s" x="1711.5" y="1310"/><use href="#s" x="1711.5" y="1272"/><use href="#s" x="1712" y="1314.5"/><use href="#s" x="1712" y="1298"/><use href="#s" x="1712.5" y="1298"/><use href="#s" x="1712.5" y="1349"/><use href="#s" x="1713" y="1324.5"/><use href="#s" x="1713" y="1310"/><use href="#s" x="1713.5" y="1305.5"/><use href="#s" x="1714" y="1287"/><use href="#s" x="1714" y="1298"/><use href="#s" x="1714.5" y="1287"/><use href="#s" x="1714.5" y="1281"/><use href="#s" x="1715" y="1287"/><use href="#s" x="1715" y="1272"/><use href="#s" x="1715.5" y="1330"/><use href="#s" x="1715.5" y="1324.5"/><use href="#s" x="1716" y="1290.5"/><use href="#s" x="1716" y="1314.5"/><use href="#s" x="1716.5" y="1298"/><use href="#s" x="1716.5" y="1305.5"/><use href="#s" x="1717" y="1294"/><use href="#s" x="1717" y="1305.5"/><use href="#s" x="1717.5" y="1267"/><use href="#s" x="1717.5" y="1310"/><use href="#s" x="1718" y="1342"/><use href="#s" x="1718" y="1314.5"/><use href="#s" x="1718.5" y="1290.5"/><use href="#s" x="1718.5" y="1324.5"/><use href="#s" x="1719" y="1310"/><use href="#s" x="1719" y="1272"/><use href="#s" x="1719.5" y="1294"/><use href="#s" x="1720" y="1330"/><use href="#s" x="1720" y="1298"/><use href="#s" x="1720.5" y="1294"/><use href="#s" x="1720.5" y="1301.5"/><use href="#s" x="1721" y="1342"/><use href="#s" x="1721" y="1301.5"/><use href="#s" x="1721.5" y="1324.5"/><use href="#s" x="1721.5" y="1319.5"/><use href="#s" x="1722" y="1305.5"/><use href="#s" x="1722" y="1272"/><use href="#s" x="1722.5" y="1310"/><use href="#s" x="1722.5" y="1294"/><use href="#s" x="1723" y="1310"/><use href="#s" x="1723.5" y="1284"/><use href="#s" x="1723.5" y="1290.5"/><use href="#s" x="1724" y="1324.5"/><use href="#s" x="1724" y="1284"/><use href="#s" x="1724.5" y="1301.5"/><use href="#s" x="1724.5" y="1310"/><use href="#s" x="1725" y="1324.5"/><use href="#s" x="1725" y="1278"/><use href="#s" x="1725.5" y="1287"/><use href="#s" x="1725.5" y="1330"/><use href="#s" x="1726" y="1305.5"/><use href="#s" x="1726.5" y="1290.5"/><use href="#s" x="1726.5" y="1301.5"/><use href="#s" x="1727" y="1287"/><use href="#s" x="1727" y="1298"/><use href="#s" x="1727.5" y="1290.5"/><use href="#s" x="1727.5" y="1314.5"/><use href="#s" x="1728" y="1305.5"/><use href="#s" x="1728" y="1301.5"/><use href="#s" x="1728.5" y="1298"/><use href="#s" x="1728.5" y="1310"/><use href="#s" x="1729" y="1290.5"/><use href="#s" x="1729" y="1310"/><use href="#s" x="1729.5" y="1324.5"/><use href="#s" x="1729.5" y="1284"/><use href="#s" x="1730" y="1305.5"/><use href="#s" x="1730" y="1290.5"/><use href="#s" x="1730" y="1264.5"/><use href="#s" x="1730.5" y="1294"/><use href="#s" x="1730.5" y="1324.5"/><use href="#s" x="1731" y="1298"/><use href="#s" x="1731.5" y="1319.5"/><use href="#s" x="1731.5" y="1301.5"/><use href="#s" x="1732" y="1305.5"/><use href="#s" x="1732" y="1365"/><use href="#s" x="1732.5" y="1290.5"/><use href="#s" x="1732.5" y="1269.5"/><use href="#s" x="1733" y="1319.5"/><use href="#s" x="1733" y="1305.5"/><use href="#s" x="1733.5" y="1301.5"/><use href="#s" x="1733.5" y="1314.5"/><use href="#s" x="1734" y="1305.5"/><use href="#s" x="1734" y="1342"/><use href="#s" x="1734.5" y="1310"/><use href="#s" x="1734.5" y="1264.5"/><use href="#s" x="1735" y="1278"/><use href="#s" x="1735" y="1319.5"/><use href="#s" x="1735" y="1290.5"/><use href="#s" x="1735.5" y="1298"/><use href="#s" x="1735.5" y="1336"/><use href="#s" x="1736" y="1298"/><use href="#s" x="1736" y="1281"/><use href="#s" x="1736.5" y="1301.5"/><use href="#s" x="1736.5" y="1314.5"/><use href="#s" x="1737" y="1301.5"/><use href="#s" x="1737" y="1310"/><use href="#s" x="1737.5" y="1310"/><use href="#s" x="1737.5" y="1287"/><use href="#s" x="1738" y="1281"/><use href="#s" x="1738" y="1298"/><use href="#s" x="1738.5" y="1319.5"/><use href="#s" x="1738.5" y="1269.5"/><use href="#s" x="1739" y="1284"/><use href="#s" x="1739" y="1310"/><use href="#s" x="1739" y="1314.5"/><use href="#s" x="1739.5" y="1294"/><use href="#s" x="1740" y="1298"/><use href="#s" x="1740" y="1336"/><use href="#s" x="1740.5" y="1294"/><use href="#s" x="1740.5" y="1310"/><use href="#s" x="1741" y="1314.5"/><use href="#s" x="1741" y="1310"/><use href="#s" x="1741.5" y="1298"/><use href="#s" x="1742" y="1310"/><use href="#s" x="1742" y="1305.5"/><use href="#s" x="1742.5" y="1310"/><use href="#s" x="1742.5" y="1349"/><use href="#s" x="1743" y="1290.5"/><use href="#s" x="1743" y="1314.5"/><use href="#s" x="1743.5" y="1336"/><use href="#s" x="1743.5" y="1319.5"/><use href="#s" x="1744" y="1287"/><use href="#s" x="1744" y="1290.5"/><use href="#s" x="1744.5" y="1330"/><use href="#s" x="1744.5" y="1374.5"/><use href="#s" x="1745" y="1330"/><use href="#s" x="1745" y="1314.5"/><use href="#s" x="1745" y="1298"/><use href="#s" x="1745.5" y="1278"/><use href="#s" x="1745.5" y="1310"/><use href="#s" x="1746" y="1305.5"/><use href="#s" x="1746" y="1301.5"/><use href="#s" x="1746.5" y="1324.5"/><use href="#s" x="1746.5" y="1385"/><use href="#s" x="1747" y="1310"/><use href="#s" x="1747" y="1342"/><use href="#s" x="1747.5" y="1287"/><use href="#s" x="1747.5" y="1301.5"/><use href="#s" x="1747.5" y="1336"/><use href="#s" x="1748" y="1310"/><use href="#s" x="1748" y="1314.5"/><use href="#s" x="1748.5" y="1305.5"/><use href="#s" x="1748.5" y="1319.5"/><use href="#s" x="1749" y="1319.5"/><use href="#s" x="1749" y="1310"/><use href="#s" x="1749.5" y="1310"/><use href="#s" x="1749.5" y="1305.5"/><use href="#s" x="1750" y="1298"/><use href="#s" x="1750" y="1319.5"/><use href="#s" x="1750" y="1330"/><use href="#s" x="1750.5" y="1374.5"/><use href="#s" x="1750.5" y="1330"/><use href="#s" x="1751" y="1290.5"/><use href="#s" x="1751" y="1342"/><use href="#s" x="1751.5" y="1342"/><use href="#s" x="1751.5" y="1301.5"/><use href="#s" x="1752" y="1310"/><use href="#s" x="1752" y="1281"/><use href="#s" x="1752" y="1324.5"/><use href="#s" x="1752.5" y="1301.5"/><use href="#s" x="1752.5" y="1342"/><use href="#s" x="1753" y="1356.5"/><use href="#s" x="1753" y="1290.5"/><use href="#s" x="1753.5" y="1301.5"/><use href="#s" x="1753.5" y="1298"/><use href="#s" x="1754" y="1290.5"/><use href="#s" x="1754" y="1301.5"/><use href="#s" x="1754.5" y="1298"/><use href="#s" x="1754.5" y="1330"/><use href="#s" x="1755" y="1319.5"/><use href="#s" x="1755" y="1301.5"/><use href="#s" x="1755.5" y="1336"/><use href="#s" x="1755.5" y="1330"/><use href="#s" x="1756" y="1324.5"/><use href="#s" x="1756" y="1298"/><use href="#s" x="1756" y="1305.5"/><use href="#s" x="1756.5" y="1324.5"/><use href="#s" x="1756.5" y="1319.5"/><use href="#s" x="1757" y="1330"/><use href="#s" x="1757" y="1310"/><use href="#s" x="1757.5" y="1349"/><use href="#s" x="1757.5" y="1298"/><use href="#s" x="1757.5" y="1342"/><use href="#s" x="1758" y="1310"/><use href="#s" x="1758.5" y="1298"/><use href="#s" x="1758.5" y="1365"/><use href="#s" x="1759" y="1336"/><use href="#s" x="1759" y="1314.5"/><use href="#s" x="1759.5" y="1336"/><use href="#s" x="1759.5" y="1310"/><use href="#s" x="1760" y="1349"/><use href="#s" x="1760" y="1310"/><use href="#s" x="1760.5" y="1310"/><use href="#s" x="1760.5" y="1298"/><use href="#s" x="1761" y="1314.5"/><use href="#s" x="1761" y="1310"/><use href="#s" x="1761" y="1330"/><use href="#s" x="1761.5" y="1301.5"/><use href="#s" x="1761.5" y="1272"/><use href="#s" x="1762" y="1305.5"/><use href="#s" x="1762" y="1298"/><use href="#s" x="1762.5" y="1305.5"/><use href="#s" x="1762.5" y="1319.5"/><use href="#s" x="1762.5" y="1314.5"/><use href="#s" x="1763" y="1314.5"/><use href="#s" x="1763" y="1330"/><use href="#s" x="1763.5" y="1294"/><use href="#s" x="1763.5" y="1330"/><use href="#s" x="1764" y="1336"/><use href="#s" x="1764" y="1310"/><use href="#s" x="1764.5" y="1301.5"/><use href="#s" x="1764.5" y="1310"/><use href="#s" x="1765" y="1294"/><use href="#s" x="1765" y="1319.5"/><use href="#s" x="1765.5" y="1290.5"/><use href="#s" x="1765.5" y="1305.5"/><use href="#s" x="1765.5" y="1310"/><use href="#s" x="1766" y="1324.5"/><use href="#s" x="1766" y="1301.5"/><use href="#s" x="1766.5" y="1342"/><use href="#s" x="1766.5" y="1314.5"/><use href="#s" x="1767" y="1319.5"/><use href="#s" x="1767" y="1310"/><use href="#s" x="1767.5" y="1330"/><use href="#s" x="1767.5" y="1319.5"/><use href="#s" x="1768" y="1319.5"/><use href="#s" x="1768" y="1294"/><use href="#s" x="1768.5" y="1330"/><use href="#s" x="1768.5" y="1284"/><use href="#s" x="1768.5" y="1310"/><use href="#s" x="1769" y="1336"/><use href="#s" x="1769" y="1324.5"/><use href="#s" x="1769.5" y="1374.5"/><use href="#s" x="1769.5" y="1294"/><use href="#s" x="1770" y="1310"/><use href="#s" x="1770" y="1294"/><use href="#s" x="1770" y="1301.5"/><use href="#s" x="1770.5" y="1314.5"/><use href="#s" x="1770.5" y="1324.5"/><use href="#s" x="1771" y="1324.5"/><use href="#s" x="1771" y="1301.5"/><use href="#s" x="1771" y="1305.5"/><use href="#s" x="1771.5" y="1310"/><use href="#s" x="1771.5" y="1324.5"/><use href="#s" x="1772" y="1349"/><use href="#s" x="1772.5" y="1314.5"/><use href="#s" x="1772.5" y="1365"/><use href="#s" x="1772.5" y="1349"/><use href="#s" x="1773" y="1298"/><use href="#s" x="1773" y="1281"/><use href="#s" x="1773.5" y="1310"/><use href="#s" x="1773.5" y="1330"/><use href="#s" x="1774" y="1324.5"/><use href="#s" x="1774" y="1330"/><use href="#s" x="1774.5" y="1301.5"/><use href="#s" x="1774.5" y="1330"/><use href="#s" x="1775" y="1310"/><use href="#s" x="1775" y="1294"/><use href="#s" x="1775" y="1301.5"/><use href="#s" x="1775.5" y="1324.5"/><use href="#s" x="1775.5" y="1294"/><use href="#s" x="1776" y="1284"/><use href="#s" x="1776" y="1324.5"/><use href="#s" x="1776" y="1314.5"/><use href="#s" x="1776.5" y="1342"/><use href="#s" x="1776.5" y="1314.5"/><use href="#s" x="1777" y="1356.5"/><use href="#s" x="1777" y="1324.5"/><use href="#s" x="1777" y="1330"/><use href="#s" x="1777.5" y="1336"/><use href="#s" x="1777.5" y="1319.5"/><use href="#s" x="1778" y="1287"/><use href="#s" x="1778" y="1319.5"/><use href="#s" x="1778.5" y="1319.5"/><use href="#s" x="1778.5" y="1298"/><use href="#s" x="1778.5" y="1310"/><use href="#s" x="1779" y="1294"/><use href="#s" x="1779" y="1305.5"/><use href="#s" x="1779.5" y="1305.5"/><use href="#s" x="1779.5" y="1310"/><use href="#s" x="1779.5" y="1319.5"/><use href="#s" x="1780" y="1287"/><use href="#s" x="1780.5" y="1314.5"/><use href="#s" x="1780.5" y="1305.5"/><use href="#s" x="1780.5" y="1336"/><use href="#s" x="1781" y="1330"/><use href="#s" x="1781" y="1298"/><use href="#s" x="1781.5" y="1314.5"/><use href="#s" x="1781.5" y="1330"/><use href="#s" x="1781.5" y="1310"/><use href="#s" x="1782" y="1336"/><use href="#s" x="1782" y="1342"/><use href="#s" x="1782.5" y="1330"/><use href="#s" x="1782.5" y="1290.5"/><use href="#s" x="1782.5" y="1336"/><use href="#s" x="1783" y="1319.5"/><use href="#s" x="1783" y="1349"/><use href="#s" x="1783.5" y="1342"/><use href="#s" x="1783.5" y="1365"/><use href="#s" x="1783.5" y="1310"/><use href="#s" x="1784" y="1298"/><use href="#s" x="1784" y="1385"/><use href="#s" x="1784.5" y="1342"/><use href="#s" x="1784.5" y="1290.5"/><use href="#s" x="1784.5" y="1298"/><use href="#s" x="1785" y="1330"/><use href="#s" x="1785" y="1365"/><use href="#s" x="1785.5" y="1310"/><use href="#s" x="1785.5" y="1319.5"/><use href="#s" x="1785.5" y="1290.5"/><use href="#s" x="1786" y="1349"/><use href="#s" x="1786" y="1294"/><use href="#s" x="1786.5" y="1330"/><use href="#s" x="1786.5" y="1349"/><use href="#s" x="1787" y="1310"/><use href="#s" x="1787" y="1314.5"/><use href="#s" x="1787.5" y="1319.5"/><use href="#s" x="1787.5" y="1324.5"/><use href="#s" x="1787.5" y="1349"/><use href="#s" x="1788" y="1310"/><use href="#s" x="1788" y="1330"/><use href="#s" x="1788.5" y="1336"/><use href="#s" x="1788.5" y="1330"/><use href="#s" x="1788.5" y="1324.5"/><use href="#s" x="1789" y="1342"/><use href="#s" x="1789.5" y="1310"/><use href="#s" x="1789.5" y="1305.5"/><use href="#s" x="1789.5" y="1330"/><use href="#s" x="1790" y="1301.5"/><use href="#s" x="1790" y="1330"/><use href="#s" x="1790.5" y="1324.5"/><use href="#s" x="1790.5" y="1330"/><use href="#s" x="1791" y="1319.5"/><use href="#s" x="1791" y="1324.5"/><use href="#s" x="1791.5" y="1305.5"/><use href="#s" x="1791.5" y="1301.5"/><use href="#s" x="1791.5" y="1330"/><use href="#s" x="1792" y="1324.5"/><use href="#s" x="1792" y="1298"/><use href="#s" x="1792.5" y="1349"/><use href="#s" x="1792.5" y="1324.5"/><use href="#s" x="1792.5" y="1314.5"/><use href="#s" x="1793" y="1330"/><use href="#s" x="1793" y="1365"/><use href="#s" x="1793" y="1290.5"/><use href="#s" x="1793.5" y="1310"/><use href="#s" x="1794" y="1284"/><use href="#s" x="1794" y="1330"/><use href="#s" x="1794" y="1314.5"/><use href="#s" x="1794.5" y="1301.5"/><use href="#s" x="1794.5" y="1314.5"/><use href="#s" x="1795" y="1324.5"/><use href="#s" x="1795" y="1319.5"/><use href="#s" x="1795.5" y="1324.5"/><use href="#s" x="1795.5" y="1342"/><use href="#s" x="1796" y="1349"/><use href="#s" x="1796" y="1342"/><use href="#s" x="1796.5" y="1305.5"/><use href="#s" x="1796.5" y="1336"/><use href="#s" x="1796.5" y="1330"/><use href="#s" x="1797" y="1319.5"/><use href="#s" x="1797" y="1342"/><use href="#s" x="1797.5" y="1314.5"/><use href="#s" x="1797.5" y="1319.5"/><use href="#s" x="1798" y="1336"/><use href="#s" x="1798" y="1310"/><use href="#s" x="1798.5" y="1336"/><use href="#s" x="1798.5" y="1319.5"/><use href="#s" x="1798.5" y="1298"/><use href="#s" x="1799" y="1336"/><use href="#s" x="1799" y="1294"/><use href="#s" x="1799.5" y="1336"/><use href="#s" x="1799.5" y="1298"/><use href="#s" x="1800" y="1290.5"/><use href="#s" x="1800" y="1342"/><use href="#s" x="1800" y="1349"/><use href="#s" x="1800.5" y="1314.5"/><use href="#s" x="1800.5" y="1356.5"/><use href="#s" x="1800.5" y="1342"/><use href="#s" x="1801" y="1319.5"/><use href="#s" x="1801.5" y="1365"/><use href="#s" x="1801.5" y="1324.5"/><use href="#s" x="1801.5" y="1314.5"/><use href="#s" x="1802" y="1284"/><use href="#s" x="1802" y="1319.5"/><use href="#s" x="1802" y="1385"/><use href="#s" x="1802.5" y="1330"/><use href="#s" x="1802.5" y="1342"/><use href="#s" x="1803" y="1356.5"/><use href="#s" x="1803" y="1336"/><use href="#s" x="1803" y="1342"/><use href="#s" x="1803.5" y="1324.5"/><use href="#s" x="1803.5" y="1356.5"/><use href="#s" x="1803.5" y="1336"/><use href="#s" x="1804" y="1305.5"/><use href="#s" x="1804" y="1298"/><use href="#s" x="1804.5" y="1301.5"/><use href="#s" x="1804.5" y="1385"/><use href="#s" x="1804.5" y="1319.5"/><use href="#s" x="1805" y="1342"/><use href="#s" x="1805" y="1319.5"/><use href="#s" x="1805" y="1314.5"/><use href="#s" x="1805.5" y="1324.5"/><use href="#s" x="1805.5" y="1349"/><use href="#s" x="1806" y="1336"/><use href="#s" x="1806" y="1349"/><use href="#s" x="1806" y="1298"/><use href="#s" x="1806.5" y="1319.5"/><use href="#s" x="1806.5" y="1301.5"/><use href="#s" x="1806.5" y="1305.5"/><use href="#s" x="1807" y="1310"/><use href="#s" x="1807.5" y="1336"/><use href="#s" x="1807.5" y="1324.5"/><use href="#s" x="1808" y="1314.5"/><use href="#s" x="1808" y="1319.5"/><use href="#s" x="1808" y="1330"/><use href="#s" x="1808.5" y="1349"/><use href="#s" x="1809" y="1330"/><use href="#s" x="1809" y="1314.5"/><use href="#s" x="1809" y="1290.5"/><use href="#s" x="1809.5" y="1298"/><use href="#s" x="1809.5" y="1336"/><use href="#s" x="1810" y="1342"/><use href="#s" x="1810" y="1330"/><use href="#s" x="1810.5" y="1324.5"/><use href="#s" x="1810.5" y="1330"/><use href="#s" x="1810.5" y="1310"/><use href="#s" x="1811" y="1284"/><use href="#s" x="1811" y="1294"/><use href="#s" x="1811" y="1385"/><use href="#s" x="1811.5" y="1349"/><use href="#s" x="1811.5" y="1324.5"/><use href="#s" x="1811.5" y="1385"/><use href="#s" x="1812" y="1330"/><use href="#s" x="1812.5" y="1336"/><use href="#s" x="1812.5" y="1319.5"/><use href="#s" x="1813" y="1324.5"/><use href="#s" x="1813" y="1336"/><use href="#s" x="1813.5" y="1305.5"/><use href="#s" x="1813.5" y="1319.5"/><use href="#s" x="1813.5" y="1336"/><use href="#s" x="1814" y="1305.5"/><use href="#s" x="1814" y="1397.5"/><use href="#s" x="1814.5" y="1342"/><use href="#s" x="1814.5" y="1330"/><use href="#s" x="1815" y="1319.5"/><use href="#s" x="1815" y="1349"/><use href="#s" x="1815" y="1310"/><use href="#s" x="1815.5" y="1330"/><use href="#s" x="1815.5" y="1374.5"/><use href="#s" x="1815.5" y="1314.5"/><use href="#s" x="1816" y="1330"/><use href="#s" x="1816" y="1356.5"/><use href="#s" x="1816.5" y="1305.5"/><use href="#s" x="1816.5" y="1314.5"/><use href="#s" x="1816.5" y="1397.5"/><use href="#s" x="1817" y="1356.5"/><use href="#s" x="1817" y="1319.5"/><use href="#s" x="1817.5" y="1314.5"/><use href="#s" x="1817.5" y="1336"/><use href="#s" x="1817.5" y="1305.5"/><use href="#s" x="1818" y="1374.5"/><use href="#s" x="1818" y="1342"/><use href="#s" x="1818" y="1301.5"/><use href="#s" x="1818.5" y="1356.5"/><use href="#s" x="1819" y="1349"/><use href="#s" x="1819" y="1301.5"/><use href="#s" x="1819" y="1310"/><use href="#s" x="1819.5" y="1324.5"/><use href="#s" x="1819.5" y="1319.5"/><use href="#s" x="1819.5" y="1365"/><use href="#s" x="1820" y="1305.5"/><use href="#s" x="1820" y="1324.5"/><use href="#s" x="1820" y="1319.5"/><use href="#s" x="1820.5" y="1356.5"/><use href="#s" x="1820.5" y="1330"/><use href="#s" x="1821" y="1314.5"/><use href="#s" x="1821" y="1356.5"/><use href="#s" x="1821.5" y="1336"/><use href="#s" x="1821.5" y="1385"/><use href="#s" x="1821.5" y="1342"/><use href="#s" x="1822" y="1336"/><use href="#s" x="1822" y="1314.5"/><use href="#s" x="1822" y="1342"/><use href="#s" x="1822.5" y="1365"/><use href="#s" x="1822.5" y="1336"/><use href="#s" x="1822.5" y="1298"/><use href="#s" x="1823" y="1324.5"/><use href="#s" x="1823" y="1349"/><use href="#s" x="1823.5" y="1365"/><use href="#s" x="1823.5" y="1336"/><use href="#s" x="1823.5" y="1324.5"/><use href="#s" x="1824" y="1356.5"/><use href="#s" x="1824" y="1342"/><use href="#s" x="1824.5" y="1342"/><use href="#s" x="1824.5" y="1356.5"/><use href="#s" x="1825" y="1298"/><use href="#s" x="1825" y="1330"/><use href="#s" x="1825" y="1349"/><use href="#s" x="1825.5" y="1310"/><use href="#s" x="1825.5" y="1356.5"/><use href="#s" x="1825.5" y="1342"/><use href="#s" x="1826" y="1319.5"/><use href="#s" x="1826" y="1310"/><use href="#s" x="1826" y="1356.5"/><use href="#s" x="1826.5" y="1365"/><use href="#s" x="1826.5" y="1336"/><use href="#s" x="1827" y="1330"/><use href="#s" x="1827" y="1349"/><use href="#s" x="1827" y="1294"/><use href="#s" x="1827.5" y="1310"/><use href="#s" x="1827.5" y="1319.5"/><use href="#s" x="1828" y="1336"/><use href="#s" x="1828" y="1298"/><use href="#s" x="1828" y="1319.5"/><use href="#s" x="1828.5" y="1324.5"/><use href="#s" x="1828.5" y="1336"/><use href="#s" x="1828.5" y="1374.5"/><use href="#s" x="1829" y="1342"/><use href="#s" x="1829" y="1314.5"/><use href="#s" x="1829" y="1336"/><use href="#s" x="1829.5" y="1365"/><use href="#s" x="1829.5" y="1314.5"/><use href="#s" x="1830" y="1324.5"/><use href="#s" x="1830" y="1310"/><use href="#s" x="1830" y="1330"/><use href="#s" x="1830.5" y="1356.5"/><use href="#s" x="1830.5" y="1365"/><use href="#s" x="1830.5" y="1342"/><use href="#s" x="1831" y="1374.5"/><use href="#s" x="1831" y="1319.5"/><use href="#s" x="1831" y="1342"/><use href="#s" x="1831.5" y="1330"/><use href="#s" x="1831.5" y="1310"/><use href="#s" x="1831.5" y="1342"/><use href="#s" x="1832" y="1310"/><use href="#s" x="1832" y="1314.5"/><use href="#s" x="1832" y="1356.5"/><use href="#s" x="1832.5" y="1342"/><use href="#s" x="1832.5" y="1374.5"/><use href="#s" x="1832.5" y="1336"/><use href="#s" x="1833" y="1330"/><use href="#s" x="1833" y="1356.5"/><use href="#s" x="1833.5" y="1319.5"/><use href="#s" x="1833.5" y="1298"/><use href="#s" x="1833.5" y="1336"/><use href="#s" x="1834" y="1305.5"/><use href="#s" x="1834" y="1290.5"/><use href="#s" x="1834" y="1319.5"/><use href="#s" x="1834.5" y="1342"/><use href="#s" x="1834.5" y="1319.5"/><use href="#s" x="1834.5" y="1397.5"/><use href="#s" x="1835" y="1336"/><use href="#s" x="1835" y="1342"/><use href="#s" x="1835.5" y="1314.5"/><use href="#s" x="1835.5" y="1330"/><use href="#s" x="1835.5" y="1319.5"/><use href="#s" x="1836" y="1356.5"/><use href="#s" x="1836" y="1324.5"/><use href="#s" x="1836" y="1336"/><use href="#s" x="1836.5" y="1336"/><use href="#s" x="1836.5" y="1374.5"/><use href="#s" x="1836.5" y="1356.5"/><use href="#s" x="1837" y="1319.5"/><use href="#s" x="1837" y="1336"/><use href="#s" x="1837" y="1324.5"/><use href="#s" x="1837.5" y="1330"/><use href="#s" x="1837.5" y="1336"/><use href="#s" x="1837.5" y="1342"/><use href="#s" x="1838" y="1349"/><use href="#s" x="1838" y="1342"/><use href="#s" x="1838.5" y="1319.5"/><use href="#s" x="1838.5" y="1324.5"/><use href="#s" x="1838.5" y="1365"/><use href="#s" x="1839" y="1349"/><use href="#s" x="1839" y="1336"/><use href="#s" x="1839.5" y="1319.5"/><use href="#s" x="1839.5" y="1356.5"/><use href="#s" x="1839.5" y="1349"/><use href="#s" x="1840" y="1298"/><use href="#s" x="1840" y="1336"/><use href="#s" x="1840" y="1342"/><use href="#s" x="1840.5" y="1319.5"/><use href="#s" x="1840.5" y="1349"/><use href="#s" x="1840.5" y="1330"/><use href="#s" x="1841" y="1349"/><use href="#s" x="1841" y="1324.5"/><use href="#s" x="1841" y="1385"/><use href="#s" x="1841.5" y="1314.5"/><use href="#s" x="1841.5" y="1319.5"/><use href="#s" x="1841.5" y="1356.5"/><use href="#s" x="1842" y="1336"/><use href="#s" x="1842" y="1314.5"/><use href="#s" x="1842" y="1365"/><use href="#s" x="1842.5" y="1330"/><use href="#s" x="1842.5" y="1319.5"/><use href="#s" x="1842.5" y="1349"/><use href="#s" x="1843" y="1330"/><use href="#s" x="1843" y="1342"/><use href="#s" x="1843" y="1365"/><use href="#s" x="1843.5" y="1349"/><use href="#s" x="1843.5" y="1330"/><use href="#s" x="1843.5" y="1385"/><use href="#s" x="1844" y="1324.5"/><use href="#s" x="1844" y="1305.5"/><use href="#s" x="1844" y="1310"/><use href="#s" x="1844.5" y="1336"/><use href="#s" x="1844.5" y="1324.5"/><use href="#s" x="1844.5" y="1319.5"/><use href="#s" x="1845" y="1342"/><use href="#s" x="1845" y="1336"/><use href="#s" x="1845" y="1330"/><use href="#s" x="1845.5" y="1356.5"/><use href="#s" x="1845.5" y="1305.5"/><use href="#s" x="1845.5" y="1336"/><use href="#s" x="1846" y="1319.5"/><use href="#s" x="1846" y="1412"/><use href="#s" x="1846" y="1356.5"/><use href="#s" x="1846.5" y="1397.5"/><use href="#s" x="1846.5" y="1374.5"/><use href="#s" x="1846.5" y="1412"/><use href="#s" x="1846.5" y="1342"/><use href="#s" x="1847" y="1324.5"/><use href="#s" x="1847" y="1310"/><use href="#s" x="1847" y="1330"/><use href="#s" x="1847.5" y="1319.5"/><use href="#s" x="1847.5" y="1301.5"/><use href="#s" x="1847.5" y="1342"/><use href="#s" x="1848" y="1349"/><use href="#s" x="1848" y="1336"/><use href="#s" x="1848" y="1356.5"/><use href="#s" x="1848.5" y="1324.5"/><use href="#s" x="1848.5" y="1342"/><use href="#s" x="1849" y="1319.5"/><use href="#s" x="1849" y="1342"/><use href="#s" x="1849" y="1336"/><use href="#s" x="1849.5" y="1301.5"/><use href="#s" x="1849.5" y="1365"/><use href="#s" x="1849.5" y="1330"/><use href="#s" x="1850" y="1342"/><use href="#s" x="1850" y="1365"/><use href="#s" x="1850.5" y="1374.5"/><use href="#s" x="1850.5" y="1356.5"/><use href="#s" x="1851" y="1310"/><use href="#s" x="1851" y="1342"/><use href="#s" x="1851" y="1324.5"/><use href="#s" x="1851.5" y="1336"/><use href="#s" x="1851.5" y="1365"/><use href="#s" x="1851.5" y="1342"/><use href="#s" x="1852" y="1349"/><use href="#s" x="1852" y="1342"/><use href="#s" x="1852" y="1319.5"/><use href="#s" x="1852.5" y="1336"/><use href="#s" x="1853" y="1365"/><use href="#s" x="1853" y="1342"/><use href="#s" x="1853.5" y="1330"/><use href="#s" x="1853.5" y="1356.5"/><use href="#s" x="1853.5" y="1365"/><use href="#s" x="1854" y="1349"/><use href="#s" x="1854" y="1342"/><use href="#s" x="1854.5" y="1365"/><use href="#s" x="1854.5" y="1342"/><use href="#s" x="1854.5" y="1324.5"/><use href="#s" x="1855" y="1319.5"/><use href="#s" x="1855" y="1330"/><use href="#s" x="1855.5" y="1349"/><use href="#s" x="1855.5" y="1330"/><use href="#s" x="1855.5" y="1319.5"/><use href="#s" x="1856" y="1319.5"/><use href="#s" x="1856" y="1324.5"/><use href="#s" x="1856" y="1305.5"/><use href="#s" x="1856.5" y="1324.5"/><use href="#s" x="1856.5" y="1349"/><use href="#s" x="1857" y="1319.5"/><use href="#s" x="1857" y="1342"/><use href="#s" x="1857" y="1298"/><use href="#s" x="1857.5" y="1342"/><use href="#s" x="1857.5" y="1349"/><use href="#s" x="1857.5" y="1330"/><use href="#s" x="1858" y="1330"/><use href="#s" x="1858" y="1349"/><use href="#s" x="1858" y="1336"/><use href="#s" x="1858.5" y="1301.5"/><use href="#s" x="1858.5" y="1412"/><use href="#s" x="1858.5" y="1385"/><use href="#s" x="1859" y="1324.5"/><use href="#s" x="1859" y="1336"/><use href="#s" x="1859" y="1314.5"/><use href="#s" x="1859.5" y="1374.5"/><use href="#s" x="1859.5" y="1314.5"/><use href="#s" x="1860" y="1342"/><use href="#s" x="1860" y="1305.5"/><use href="#s" x="1860" y="1356.5"/><use href="#s" x="1860.5" y="1349"/><use href="#s" x="1860.5" y="1374.5"/><use href="#s" x="1860.5" y="1336"/><use href="#s" x="1860.5" y="1301.5"/><use href="#s" x="1861" y="1349"/><use href="#s" x="1861" y="1324.5"/><use href="#s" x="1861" y="1356.5"/><use href="#s" x="1861.5" y="1365"/><use href="#s" x="1861.5" y="1356.5"/><use href="#s" x="1862" y="1324.5"/><use href="#s" x="1862" y="1305.5"/><use href="#s" x="1862" y="1412"/><use href="#s" x="1862.5" y="1349"/><use href="#s" x="1862.5" y="1336"/><use href="#s" x="1862.5" y="1412"/><use href="#s" x="1863" y="1324.5"/><use href="#s" x="1863" y="1330"/><use href="#s" x="1863" y="1349"/><use href="#s" x="1863.5" y="1330"/><use href="#s" x="1863.5" y="1310"/><use href="#s" x="1863.5" y="1356.5"/><use href="#s" x="1864" y="1301.5"/><use href="#s" x="1864" y="1342"/><use href="#s" x="1864" y="1305.5"/><use href="#s" x="1864.5" y="1336"/><use href="#s" x="1864.5" y="1310"/><use href="#s" x="1865" y="1342"/><use href="#s" x="1865" y="1336"/><use href="#s" x="1865" y="1356.5"/><use href="#s" x="1865.5" y="1330"/><use href="#s" x="1865.5" y="1314.5"/><use href="#s" x="1865.5" y="1324.5"/><use href="#s" x="1866" y="1356.5"/><use href="#s" x="1866" y="1319.5"/><use href="#s" x="1866" y="1429.5"/><use href="#s" x="1866.5" y="1336"/><use href="#s" x="1866.5" y="1374.5"/><use href="#s" x="1866.5" y="1324.5"/><use href="#s" x="1866.5" y="1349"/><use href="#s" x="1867" y="1374.5"/><use href="#s" x="1867" y="1314.5"/><use href="#s" x="1867" y="1336"/><use href="#s" x="1867.5" y="1342"/><use href="#s" x="1867.5" y="1356.5"/><use href="#s" x="1867.5" y="1349"/><use href="#s" x="1868" y="1385"/><use href="#s" x="1868" y="1336"/><use href="#s" x="1868" y="1330"/><use href="#s" x="1868.5" y="1336"/><use href="#s" x="1868.5" y="1330"/><use href="#s" x="1868.5" y="1324.5"/><use href="#s" x="1869" y="1324.5"/><use href="#s" x="1869" y="1319.5"/><use href="#s" x="1869.5" y="1324.5"/><use href="#s" x="1869.5" y="1310"/><use href="#s" x="1869.5" y="1314.5"/><use href="#s" x="1870" y="1342"/><use href="#s" x="1870" y="1324.5"/><use href="#s" x="1870" y="1385"/><use href="#s" x="1870" y="1349"/><use href="#s" x="1870.5" y="1356.5"/><use href="#s" x="1870.5" y="1374.5"/><use href="#s" x="1870.5" y="1349"/><use href="#s" x="1871" y="1319.5"/><use href="#s" x="1871" y="1342"/><use href="#s" x="1871" y="1349"/><use href="#s" x="1871.5" y="1324.5"/><use href="#s" x="1871.5" y="1290.5"/><use href="#s" x="1871.5" y="1336"/><use href="#s" x="1871.5" y="1385"/><use href="#s" x="1872" y="1301.5"/><use href="#s" x="1872" y="1342"/><use href="#s" x="1872" y="1314.5"/><use href="#s" x="1872.5" y="1310"/><use href="#s" x="1872.5" y="1365"/><use href="#s" x="1872.5" y="1374.5"/><use href="#s" x="1873" y="1330"/><use href="#s" x="1873" y="1336"/><use href="#s" x="1873" y="1342"/><use href="#s" x="1873" y="1324.5"/><use href="#s" x="1873.5" y="1330"/><use href="#s" x="1873.5" y="1314.5"/><use href="#s" x="1873.5" y="1374.5"/><use href="#s" x="1874" y="1349"/><use href="#s" x="1874" y="1342"/><use href="#s" x="1874.5" y="1349"/><use href="#s" x="1874.5" y="1336"/><use href="#s" x="1874.5" y="1397.5"/><use href="#s" x="1874.5" y="1330"/><use href="#s" x="1875" y="1349"/><use href="#s" x="1875" y="1342"/><use href="#s" x="1875" y="1314.5"/><use href="#s" x="1875.5" y="1342"/><use href="#s" x="1875.5" y="1324.5"/><use href="#s" x="1875.5" y="1374.5"/><use href="#s" x="1876" y="1365"/><use href="#s" x="1876" y="1356.5"/><use href="#s" x="1876" y="1324.5"/><use href="#s" x="1876.5" y="1298"/><use href="#s" x="1876.5" y="1374.5"/><use href="#s" x="1876.5" y="1342"/><use href="#s" x="1877" y="1319.5"/><use href="#s" x="1877" y="1336"/><use href="#s" x="1877" y="1412"/><use href="#s" x="1877" y="1356.5"/><use href="#s" x="1877.5" y="1374.5"/><use href="#s" x="1877.5" y="1342"/><use href="#s" x="1878" y="1342"/><use href="#s" x="1878" y="1336"/><use href="#s" x="1878" y="1349"/><use href="#s" x="1878.5" y="1349"/><use href="#s" x="1878.5" y="1301.5"/><use href="#s" x="1878.5" y="1298"/><use href="#s" x="1879" y="1342"/><use href="#s" x="1879" y="1349"/><use href="#s" x="1879.5" y="1336"/><use href="#s" x="1879.5" y="1349"/><use href="#s" x="1879.5" y="1319.5"/><use href="#s" x="1879.5" y="1365"/><use href="#s" x="1880" y="1349"/><use href="#s" x="1880" y="1305.5"/><use href="#s" x="1880" y="1365"/><use href="#s" x="1880.5" y="1305.5"/><use href="#s" x="1880.5" y="1314.5"/><use href="#s" x="1880.5" y="1287"/><use href="#s" x="1880.5" y="1319.5"/><use href="#s" x="1881" y="1356.5"/><use href="#s" x="1881" y="1330"/><use href="#s" x="1881.5" y="1330"/><use href="#s" x="1881.5" y="1301.5"/><use href="#s" x="1881.5" y="1365"/><use href="#s" x="1881.5" y="1385"/><use href="#s" x="1882" y="1330"/><use href="#s" x="1882" y="1349"/><use href="#s" x="1882" y="1412"/><use href="#s" x="1882.5" y="1365"/><use href="#s" x="1882.5" y="1301.5"/><use href="#s" x="1882.5" y="1342"/><use href="#s" x="1883" y="1336"/><use href="#s" x="1883" y="1349"/><use href="#s" x="1883" y="1385"/><use href="#s" x="1883" y="1374.5"/><use href="#s" x="1883.5" y="1349"/><use href="#s" x="1883.5" y="1374.5"/><use href="#s" x="1883.5" y="1342"/><use href="#s" x="1884" y="1342"/><use href="#s" x="1884" y="1349"/><use href="#s" x="1884" y="1356.5"/><use href="#s" x="1884" y="1336"/><use href="#s" x="1884.5" y="1349"/><use href="#s" x="1884.5" y="1336"/><use href="#s" x="1884.5" y="1324.5"/><use href="#s" x="1885" y="1349"/><use href="#s" x="1885" y="1385"/><use href="#s" x="1885" y="1397.5"/><use href="#s" x="1885" y="1314.5"/><use href="#s" x="1885.5" y="1314.5"/><use href="#s" x="1885.5" y="1319.5"/><use href="#s" x="1885.5" y="1336"/><use href="#s" x="1886" y="1374.5"/><use href="#s" x="1886" y="1365"/><use href="#s" x="1886" y="1342"/><use href="#s" x="1886" y="1324.5"/><use href="#s" x="1886.5" y="1365"/><use href="#s" x="1886.5" y="1330"/><use href="#s" x="1886.5" y="1374.5"/><use href="#s" x="1887" y="1330"/><use href="#s" x="1887" y="1374.5"/><use href="#s" x="1887" y="1342"/><use href="#s" x="1887" y="1349"/><use href="#s" x="1887.5" y="1330"/><use href="#s" x="1887.5" y="1342"/><use href="#s" x="1887.5" y="1349"/><use href="#s" x="1888" y="1324.5"/><use href="#s" x="1888" y="1412"/><use href="#s" x="1888" y="1336"/><use href="#s" x="1888.5" y="1342"/><use href="#s" x="1888.5" y="1324.5"/><use href="#s" x="1888.5" y="1365"/><use href="#s" x="1889" y="1330"/><use href="#s" x="1889" y="1356.5"/><use href="#s" x="1889" y="1365"/><use href="#s" x="1889" y="1349"/><use href="#s" x="1889.5" y="1310"/><use href="#s" x="1889.5" y="1336"/><use href="#s" x="1889.5" y="1319.5"/><use href="#s" x="1890" y="1342"/><use href="#s" x="1890" y="1330"/><use href="#s" x="1890.5" y="1342"/><use href="#s" x="1890.5" y="1349"/><use href="#s" x="1890.5" y="1319.5"/><use href="#s" x="1890.5" y="1330"/><use href="#s" x="1891" y="1310"/><use href="#s" x="1891" y="1356.5"/><use href="#s" x="1891" y="1397.5"/><use href="#s" x="1891.5" y="1374.5"/><use href="#s" x="1891.5" y="1349"/><use href="#s" x="1891.5" y="1356.5"/><use href="#s" x="1891.5" y="1336"/><use href="#s" x="1892" y="1429.5"/><use href="#s" x="1892" y="1342"/><use href="#s" x="1892" y="1324.5"/><use href="#s" x="1892.5" y="1319.5"/><use href="#s" x="1892.5" y="1349"/><use href="#s" x="1892.5" y="1342"/><use href="#s" x="1892.5" y="1365"/><use href="#s" x="1893" y="1356.5"/><use href="#s" x="1893" y="1349"/><use href="#s" x="1893" y="1310"/><use href="#s" x="1893.5" y="1356.5"/><use href="#s" x="1893.5" y="1319.5"/><use href="#s" x="1893.5" y="1374.5"/><use href="#s" x="1893.5" y="1336"/><use href="#s" x="1894" y="1374.5"/><use href="#s" x="1894" y="1397.5"/><use href="#s" x="1894" y="1385"/><use href="#s" x="1894" y="1336"/><use href="#s" x="1894.5" y="1356.5"/><use href="#s" x="1894.5" y="1385"/><use href="#s" x="1895" y="1310"/><use href="#s" x="1895" y="1301.5"/><use href="#s" x="1895" y="1365"/><use href="#s" x="1895.5" y="1342"/><use href="#s" x="1895.5" y="1356.5"/><use href="#s" x="1896" y="1374.5"/><use href="#s" x="1896" y="1349"/><use href="#s" x="1896.5" y="1319.5"/><use href="#s" x="1896.5" y="1365"/><use href="#s" x="1896.5" y="1336"/><use href="#s" x="1896.5" y="1397.5"/><use href="#s" x="1897" y="1412"/><use href="#s" x="1897" y="1356.5"/><use href="#s" x="1897.5" y="1336"/><use href="#s" x="1897.5" y="1330"/><use href="#s" x="1897.5" y="1342"/><use href="#s" x="1897.5" y="1374.5"/><use href="#s" x="1898" y="1324.5"/><use href="#s" x="1898" y="1365"/><use href="#s" x="1898" y="1356.5"/><use href="#s" x="1898" y="1310"/><use href="#s" x="1898.5" y="1342"/><use href="#s" x="1898.5" y="1365"/><use href="#s" x="1898.5" y="1374.5"/><use href="#s" x="1899" y="1349"/><use href="#s" x="1899" y="1319.5"/><use href="#s" x="1899" y="1365"/><use href="#s" x="1899" y="1397.5"/><use href="#s" x="1899.5" y="1336"/><use href="#s" x="1899.5" y="1342"/><use href="#s" x="1899.5" y="1330"/><use href="#s" x="1899.5" y="1412"/><use href="#s" x="1900" y="1324.5"/><use href="#s" x="1900" y="1305.5"/><use href="#s" x="1900" y="1310"/><use href="#s" x="1900.5" y="1336"/><use href="#s" x="1900.5" y="1319.5"/><use href="#s" x="1900.5" y="1349"/><use href="#s" x="1901" y="1356.5"/><use href="#s" x="1901" y="1330"/><use href="#s" x="1901" y="1342"/><use href="#s" x="1901" y="1385"/><use href="#s" x="1901.5" y="1319.5"/><use href="#s" x="1901.5" y="1374.5"/><use href="#s" x="1902" y="1412"/><use href="#s" x="1902" y="1349"/><use href="#s" x="1902" y="1342"/><use href="#s" x="1902.5" y="1349"/><use href="#s" x="1902.5" y="1385"/><use href="#s" x="1902.5" y="1330"/><use href="#s" x="1903" y="1356.5"/><use href="#s" x="1903" y="1374.5"/><use href="#s" x="1903" y="1397.5"/><use href="#s" x="1903.5" y="1342"/><use href="#s" x="1903.5" y="1374.5"/><use href="#s" x="1903.5" y="1356.5"/><use href="#s" x="1903.5" y="1365"/><use href="#s" x="1904" y="1310"/><use href="#s" x="1904" y="1385"/><use href="#s" x="1904" y="1374.5"/><use href="#s" x="1904.5" y="1365"/><use href="#s" x="1904.5" y="1356.5"/><use href="#s" x="1904.5" y="1374.5"/><use href="#s" x="1905" y="1314.5"/><use href="#s" x="1905" y="1324.5"/><use href="#s" x="1905" y="1356.5"/><use href="#s" x="1905" y="1349"/><use href="#s" x="1905.5" y="1330"/><use href="#s" x="1905.5" y="1374.5"/><use href="#s" x="1905.5" y="1336"/><use href="#s" x="1906" y="1365"/><use href="#s" x="1906" y="1342"/><use href="#s" x="1906" y="1356.5"/><use href="#s" x="1906" y="1385"/><use href="#s" x="1906.5" y="1314.5"/><use href="#s" x="1906.5" y="1365"/><use href="#s" x="1906.5" y="1349"/><use href="#s" x="1907" y="1356.5"/><use href="#s" x="1907" y="1319.5"/><use href="#s" x="1907" y="1374.5"/><use href="#s" x="1907" y="1397.5"/><use href="#s" x="1907.5" y="1385"/><use href="#s" x="1907.5" y="1330"/><use href="#s" x="1907.5" y="1342"/><use href="#s" x="1907.5" y="1356.5"/><use href="#s" x="1908" y="1305.5"/><use href="#s" x="1908" y="1385"/><use href="#s" x="1908" y="1365"/><use href="#s" x="1908.5" y="1330"/><use href="#s" x="1908.5" y="1342"/><use href="#s" x="1908.5" y="1349"/><use href="#s" x="1909" y="1397.5"/><use href="#s" x="1909" y="1336"/><use href="#s" x="1909" y="1365"/><use href="#s" x="1909" y="1319.5"/><use href="#s" x="1909.5" y="1324.5"/><use href="#s" x="1909.5" y="1356.5"/><use href="#s" x="1909.5" y="1374.5"/><use href="#s" x="1909.5" y="1342"/><use href="#s" x="1910" y="1336"/><use href="#s" x="1910" y="1385"/><use href="#s" x="1910" y="1349"/><use href="#s" x="1910.5" y="1397.5"/><use href="#s" x="1910.5" y="1319.5"/><use href="#s" x="1910.5" y="1374.5"/><use href="#s" x="1911" y="1365"/><use href="#s" x="1911" y="1356.5"/><use href="#s" x="1911.5" y="1336"/><use href="#s" x="1911.5" y="1349"/><use href="#s" x="1911.5" y="1374.5"/><use href="#s" x="1911.5" y="1365"/><use href="#s" x="1912" y="1287"/><use href="#s" x="1912" y="1349"/><use href="#s" x="1912" y="1374.5"/><use href="#s" x="1912" y="1365"/><use href="#s" x="1912.5" y="1324.5"/><use href="#s" x="1912.5" y="1349"/><use href="#s" x="1912.5" y="1336"/><use href="#s" x="1912.5" y="1374.5"/><use href="#s" x="1913" y="1374.5"/><use href="#s" x="1913" y="1365"/><use href="#s" x="1913" y="1330"/><use href="#s" x="1913.5" y="1385"/><use href="#s" x="1913.5" y="1412"/><use href="#s" x="1913.5" y="1324.5"/><use href="#s" x="1913.5" y="1365"/><use href="#s" x="1914" y="1336"/><use href="#s" x="1914" y="1412"/><use href="#s" x="1914.5" y="1397.5"/><use href="#s" x="1914.5" y="1374.5"/><use href="#s" x="1914.5" y="1336"/><use href="#s" x="1915" y="1349"/><use href="#s" x="1915" y="1330"/><use href="#s" x="1915" y="1374.5"/><use href="#s" x="1915" y="1397.5"/><use href="#s" x="1915.5" y="1342"/><use href="#s" x="1915.5" y="1365"/><use href="#s" x="1915.5" y="1429.5"/><use href="#s" x="1916" y="1374.5"/><use href="#s" x="1916" y="1365"/><use href="#s" x="1916" y="1356.5"/><use href="#s" x="1916" y="1397.5"/><use href="#s" x="1916.5" y="1336"/><use href="#s" x="1916.5" y="1319.5"/><use href="#s" x="1916.5" y="1342"/><use href="#s" x="1917" y="1336"/><use href="#s" x="1917" y="1330"/><use href="#s" x="1917" y="1412"/><use href="#s" x="1917" y="1324.5"/><use href="#s" x="1917.5" y="1310"/><use href="#s" x="1917.5" y="1349"/><use href="#s" x="1918" y="1336"/><use href="#s" x="1918" y="1330"/><use href="#s" x="1918" y="1365"/><use href="#s" x="1918" y="1349"/><use href="#s" x="1918.5" y="1356.5"/><use href="#s" x="1918.5" y="1349"/><use href="#s" x="1918.5" y="1374.5"/><use href="#s" x="1919" y="1374.5"/><use href="#s" x="1919" y="1330"/><use href="#s" x="1919" y="1336"/><use href="#s" x="1919.5" y="1336"/><use href="#s" x="1919.5" y="1374.5"/><use href="#s" x="1919.5" y="1314.5"/><use href="#s" x="1920" y="1385"/><use href="#s" x="1920" y="1319.5"/><use href="#s" x="1920" y="1356.5"/><use href="#s" x="1920" y="1429.5"/><use href="#s" x="1920.5" y="1342"/><use href="#s" x="1920.5" y="1349"/><use href="#s" x="1920.5" y="1336"/><use href="#s" x="1920.5" y="1385"/><use href="#s" x="1921" y="1342"/><use href="#s" x="1921" y="1385"/><use href="#s" x="1921" y="1336"/><use href="#s" x="1921" y="1374.5"/><use href="#s" x="1921.5" y="1374.5"/><use href="#s" x="1921.5" y="1314.5"/><use href="#s" x="1921.5" y="1330"/><use href="#s" x="1921.5" y="1298"/><use href="#s" x="1922" y="1356.5"/><use href="#s" x="1922" y="1349"/><use href="#s" x="1922.5" y="1385"/><use href="#s" x="1922.5" y="1319.5"/><use href="#s" x="1922.5" y="1342"/><use href="#s" x="1922.5" y="1374.5"/><use href="#s" x="1923" y="1397.5"/><use href="#s" x="1923" y="1356.5"/><use href="#s" x="1923" y="1365"/><use href="#s" x="1923" y="1385"/><use href="#s" x="1923.5" y="1397.5"/><use href="#s" x="1923.5" y="1385"/><use href="#s" x="1923.5" y="1349"/><use href="#s" x="1924" y="1330"/><use href="#s" x="1924" y="1374.5"/><use href="#s" x="1924" y="1539.5"/><use href="#s" x="1924" y="1342"/><use href="#s" x="1924.5" y="1365"/><use href="#s" x="1924.5" y="1342"/><use href="#s" x="1924.5" y="1374.5"/><use href="#s" x="1924.5" y="1349"/><use href="#s" x="1925" y="1342"/><use href="#s" x="1925" y="1365"/><use href="#s" x="1925" y="1336"/><use href="#s" x="1925.5" y="1330"/><use href="#s" x="1925.5" y="1365"/><use href="#s" x="1925.5" y="1397.5"/><use href="#s" x="1925.5" y="1336"/><use href="#s" x="1926" y="1365"/><use href="#s" x="1926" y="1324.5"/><use href="#s" x="1926" y="1412"/><use href="#s" x="1926" y="1336"/><use href="#s" x="1926.5" y="1349"/><use href="#s" x="1926.5" y="1397.5"/><use href="#s" x="1926.5" y="1356.5"/><use href="#s" x="1926.5" y="1412"/><use href="#s" x="1927" y="1314.5"/><use href="#s" x="1927" y="1429.5"/><use href="#s" x="1927" y="1356.5"/><use href="#s" x="1927" y="1349"/><use href="#s" x="1927.5" y="1349"/><use href="#s" x="1927.5" y="1412"/><use href="#s" x="1927.5" y="1330"/><use href="#s" x="1927.5" y="1356.5"/><use href="#s" x="1928" y="1385"/><use href="#s" x="1928" y="1349"/><use href="#s" x="1928" y="1374.5"/><use href="#s" x="1928" y="1330"/><use href="#s" x="1928.5" y="1342"/><use href="#s" x="1928.5" y="1336"/><use href="#s" x="1928.5" y="1374.5"/><use href="#s" x="1928.5" y="1349"/><use href="#s" x="1929" y="1356.5"/><use href="#s" x="1929" y="1342"/><use href="#s" x="1929" y="1397.5"/><use href="#s" x="1929" y="1365"/><use href="#s" x="1929.5" y="1365"/><use href="#s" x="1929.5" y="1342"/><use href="#s" x="1929.5" y="1356.5"/><use href="#s" x="1929.5" y="1336"/><use href="#s" x="1930" y="1374.5"/><use href="#s" x="1930" y="1342"/><use href="#s" x="1930" y="1365"/><use href="#s" x="1930.5" y="1342"/><use href="#s" x="1930.5" y="1385"/><use href="#s" x="1930.5" y="1349"/><use href="#s" x="1930.5" y="1336"/><use href="#s" x="1931" y="1356.5"/><use href="#s" x="1931" y="1385"/><use href="#s" x="1931" y="1397.5"/><use href="#s" x="1931.5" y="1336"/><use href="#s" x="1931.5" y="1365"/><use href="#s" x="1931.5" y="1342"/><use href="#s" x="1931.5" y="1397.5"/><use href="#s" x="1932" y="1412"/><use href="#s" x="1932" y="1356.5"/><use href="#s" x="1932" y="1385"/><use href="#s" x="1932" y="1349"/><use href="#s" x="1932.5" y="1342"/><use href="#s" x="1932.5" y="1356.5"/><use href="#s" x="1932.5" y="1385"/><use href="#s" x="1933" y="1365"/><use href="#s" x="1933" y="1385"/><use href="#s" x="1933" y="1452.5"/><use href="#s" x="1933" y="1374.5"/><use href="#s" x="1933.5" y="1342"/><use href="#s" x="1933.5" y="1336"/><use href="#s" x="1933.5" y="1374.5"/><use href="#s" x="1933.5" y="1429.5"/><use href="#s" x="1934" y="1397.5"/><use href="#s" x="1934" y="1365"/><use href="#s" x="1934" y="1336"/><use href="#s" x="1934" y="1374.5"/><use href="#s" x="1934.5" y="1342"/><use href="#s" x="1934.5" y="1349"/><use href="#s" x="1934.5" y="1365"/><use href="#s" x="1934.5" y="1319.5"/><use href="#s" x="1935" y="1365"/><use href="#s" x="1935" y="1342"/><use href="#s" x="1935" y="1349"/><use href="#s" x="1935" y="1356.5"/><use href="#s" x="1935.5" y="1342"/><use href="#s" x="1935.5" y="1365"/><use href="#s" x="1935.5" y="1336"/><use href="#s" x="1936" y="1397.5"/><use href="#s" x="1936" y="1385"/><use href="#s" x="1936" y="1324.5"/><use href="#s" x="1936" y="1356.5"/><use href="#s" x="1936.5" y="1319.5"/><use href="#s" x="1936.5" y="1397.5"/><use href="#s" x="1936.5" y="1324.5"/><use href="#s" x="1936.5" y="1349"/><use href="#s" x="1937" y="1374.5"/><use href="#s" x="1937" y="1365"/><use href="#s" x="1937.5" y="1342"/><use href="#s" x="1937.5" y="1356.5"/><use href="#s" x="1937.5" y="1385"/><use href="#s" x="1938" y="1349"/><use href="#s" x="1938" y="1385"/><use href="#s" x="1938" y="1319.5"/><use href="#s" x="1938" y="1324.5"/></g>
<g class="g"><use href="#c" x="456.5" y="1549.5"/><use href="#c" x="473" y="1303.5"/><use href="#c" x="488.5" y="1087.5"/><use href="#c" x="503" y="960"/><use href="#c" x="517" y="904.5"/><use href="#c" x="530.5" y="883"/><use href="#c" x="543" y="872"/><use href="#c" x="555.5" y="870.5"/><use href="#c" x="567" y="874"/><use href="#c" x="578.5" y="887"/><use href="#c" x="589.5" y="903"/><use href="#c" x="600" y="918"/><use href="#c" x="610" y="939.5"/><use href="#c" x="620" y="958.5"/><use href="#c" x="629.5" y="981"/><use href="#c" x="638.5" y="1005.5"/><use href="#c" x="647.5" y="1024"/><use href="#c" x="656.5" y="1041.5"/><use href="#c" x="665" y="1059.5"/><use href="#c" x="673" y="1075.5"/><use href="#c" x="681" y="1088.5"/><use href="#c" x="689" y="1101"/><use href="#c" x="696.5" y="1110"/><use href="#c" x="704" y="1117.5"/><use href="#c" x="711" y="1131"/><use href="#c" x="718" y="1138.5"/><use href="#c" x="725" y="1141"/><use href="#c" x="732" y="1147.5"/><use href="#c" x="738.5" y="1155"/><use href="#c" x="745" y="1161.5"/><use href="#c" x="751" y="1170.5"/><use href="#c" x="757.5" y="1170"/><use href="#c" x="763.5" y="1173"/><use href="#c" x="769.5" y="1182"/><use href="#c" x="775" y="1178"/><use href="#c" x="781" y="1181.5"/><use href="#c" x="786.5" y="1187"/><use href="#c" x="792" y="1184.5"/><use href="#c" x="797.5" y="1193"/><use href="#c" x="803" y="1199"/><use href="#c" x="808" y="1206"/><use href="#c" x="813" y="1194"/><use href="#c" x="818" y="1222.5"/><use href="#c" x="823" y="1193"/><use href="#c" x="828" y="1210"/><use href="#c" x="833" y="1221.5"/><use href="#c" x="837.5" y="1205"/><use href="#c" x="842" y="1208.5"/><use href="#c" x="847" y="1219"/><use href="#c" x="851.5" y="1218"/><use href="#c" x="856" y="1215"/><use href="#c" x="860" y="1227"/><use href="#c" x="864.5" y="1210.5"/><use href="#c" x="869" y="1228.5"/><use href="#c" x="873" y="1224.5"/><use href="#c" x="877" y="1220.5"/><use href="#c" x="881" y="1221.5"/><use href="#c" x="885" y="1234"/><use href="#c" x="889" y="1231"/><use href="#c" x="893" y="1227.5"/><use href="#c" x="897" y="1233.5"/><use href="#c" x="901" y="1247"/><use href="#c" x="904.5" y="1235.5"/><use href="#c" x="908.5" y="1241"/><use href="#c" x="912" y="1233.5"/><use href="#c" x="915.5" y="1235.5"/><use href="#c" x="919" y="1242"/><use href="#c" x="923" y="1243.5"/><use href="#c" x="926.5" y="1232"/><use href="#c" x="930" y="1247"/><use href="#c" x="933" y="1243.5"/><use href="#c" x="936.5" y="1249"/><use href="#c" x="940" y="1233.5"/><use href="#c" x="943.5" y="1250"/><use href="#c" x="946.5" y="1249"/><use href="#c" x="950" y="1240.5"/><use href="#c" x="953" y="1253.5"/><use href="#c" x="956" y="1245.5"/><use href="#c" x="959.5" y="1239.5"/><use href="#c" x="962.5" y="1248"/><use href="#c" x="965.5" y="1241"/><use href="#c" x="968.5" y="1259.5"/><use href="#c" x="971.5" y="1273"/><use href="#c" x="974.5" y="1252.5"/><use href="#c" x="977.5" y="1256.5"/><use href="#c" x="980.5" y="1252.5"/><use href="#c" x="983.5" y="1254.5"/><use href="#c" x="986" y="1257.5"/><use href="#c" x="989" y="1278"/><use href="#c" x="992" y="1267"/><use href="#c" x="994.5" y="1254.5"/><use href="#c" x="997.5" y="1259.5"/><use href="#c" x="1000" y="1278"/><use href="#c" x="1003" y="1268"/><use href="#c" x="1005.5" y="1272"/><use href="#c" x="1008.5" y="1266"/><use href="#c" x="1011" y="1256.5"/><use href="#c" x="1013.5" y="1294"/><use href="#c" x="1016" y="1269.5"/><use href="#c" x="1018.5" y="1266"/><use href="#c" x="1021.5" y="1265"/><use href="#c" x="1024" y="1285"/><use href="#c" x="1026.5" y="1267"/><use href="#c" x="1029" y="1274"/><use href="#c" x="1031.5" y="1279.5"/><use href="#c" x="1034" y="1257.5"/><use href="#c" x="1036" y="1266"/><use href="#c" x="1038.5" y="1266"/><use href="#c" x="1041" y="1273"/><use href="#c" x="1043.5" y="1272"/><use href="#c" x="1045.5" y="1289"/><use href="#c" x="1048" y="1279.5"/><use href="#c" x="1050.5" y="1267"/><use href="#c" x="1052.5" y="1270.5"/><use href="#c" x="1055" y="1283.5"/><use href="#c" x="1057" y="1276.5"/><use href="#c" x="1059.5" y="1297"/><use href="#c" x="1061.5" y="1289"/><use href="#c" x="1064" y="1297"/><use href="#c" x="1066" y="1274"/><use href="#c" x="1068.5" y="1276.5"/><use href="#c" x="1070.5" y="1280.5"/><use href="#c" x="1072.5" y="1266"/><use href="#c" x="1075" y="1289"/><use href="#c" x="1077" y="1282"/><use href="#c" x="1079" y="1285"/><use href="#c" x="1081" y="1292.5"/><use href="#c" x="1083" y="1266"/><use href="#c" x="1085" y="1300.5"/><use href="#c" x="1087.5" y="1283.5"/><use href="#c" x="1089.5" y="1272"/><use href="#c" x="1091.5" y="1278"/><use href="#c" x="1093.5" y="1304"/><use href="#c" x="1095.5" y="1286.5"/><use href="#c" x="1097.5" y="1292.5"/><use href="#c" x="1099.5" y="1290.5"/><use href="#c" x="1101" y="1295.5"/><use href="#c" x="1103" y="1278"/><use href="#c" x="1105" y="1280.5"/><use href="#c" x="1107" y="1295.5"/><use href="#c" x="1109" y="1286.5"/><use href="#c" x="1111" y="1311.5"/><use href="#c" x="1112.5" y="1297"/><use href="#c" x="1114.5" y="1285"/><use href="#c" x="1116.5" y="1300.5"/><use href="#c" x="1118.5" y="1300.5"/><use href="#c" x="1120" y="1306"/><use href="#c" x="1122" y="1295.5"/><use href="#c" x="1124" y="1285"/><use href="#c" x="1125.5" y="1289"/><use href="#c" x="1127.5" y="1285"/><use href="#c" x="1129" y="1299"/><use href="#c" x="1131" y="1309.5"/><use href="#c" x="1132.5" y="1294"/><use href="#c" x="1134.5" y="1282"/><use href="#c" x="1136" y="1311.5"/><use href="#c" x="1138" y="1297"/><use href="#c" x="1139.5" y="1289"/><use href="#c" x="1141.5" y="1297"/><use href="#c" x="1143" y="1304"/><use href="#c" x="1144.5" y="1327"/><use href="#c" x="1146.5" y="1313.5"/><use href="#c" x="1148" y="1309.5"/><use href="#c" x="1150" y="1287.5"/><use href="#c" x="1151.5" y="1297"/><use href="#c" x="1153" y="1297"/><use href="#c" x="1154.5" y="1294"/><use href="#c" x="1156.5" y="1292.5"/><use href="#c" x="1158" y="1297"/><use href="#c" x="1159.5" y="1299"/><use href="#c" x="1161" y="1302"/><use href="#c" x="1162.5" y="1306"/><use href="#c" x="1164.5" y="1295.5"/><use href="#c" x="1166" y="1332"/><use href="#c" x="1167.5" y="1294"/><use href="#c" x="1169" y="1306"/><use href="#c" x="1170.5" y="1299"/><use href="#c" x="1172" y="1294"/><use href="#c" x="1173.5" y="1322"/><use href="#c" x="1175" y="1299"/><use href="#c" x="1176.5" y="1311.5"/><use href="#c" x="1178" y="1337"/><use href="#c" x="1179.5" y="1297"/><use href="#c" x="1181" y="1340"/><use href="#c" x="1182.5" y="1311.5"/><use href="#c" x="1184" y="1302"/><use href="#c" x="1185.5" y="1302"/><use href="#c" x="1187" y="1311.5"/><use href="#c" x="1188.5" y="1292.5"/><use href="#c" x="1190" y="1300.5"/><use href="#c" x="1191.5" y="1295.5"/><use href="#c" x="1193" y="1315.5"/><use href="#c" x="1194.5" y="1300.5"/><use href="#c" x="1196" y="1294"/><use href="#c" x="1197" y="1329.5"/><use href="#c" x="1198.5" y="1352"/><use href="#c" x="1200" y="1332"/><use href="#c" x="1201.5" y="1320"/><use href="#c" x="1203" y="1309.5"/><use href="#c" x="1204" y="1329.5"/><use href="#c" x="1205.5" y="1309.5"/><use href="#c" x="1207" y="1320"/><use href="#c" x="1208.5" y="1306"/><use href="#c" x="1209.5" y="1311.5"/><use href="#c" x="1211" y="1309.5"/><use href="#c" x="1212.5" y="1318"/><use href="#c" x="1214" y="1307.5"/><use href="#c" x="1215" y="1302"/><use href="#c" x="1216.5" y="1311.5"/><use href="#c" x="1218" y="1313.5"/><use href="#c" x="1219" y="1346"/><use href="#c" x="1220.5" y="1340"/><use href="#c" x="1221.5" y="1320"/><use href="#c" x="1223" y="1322"/><use href="#c" x="1224.5" y="1302"/><use href="#c" x="1225.5" y="1304"/><use href="#c" x="1227" y="1309.5"/><use href="#c" x="1228" y="1322"/><use href="#c" x="1229.5" y="1320"/><use href="#c" x="1230.5" y="1329.5"/><use href="#c" x="1232" y="1327"/><use href="#c" x="1233" y="1318"/><use href="#c" x="1234.5" y="1324.5"/><use href="#c" x="1235.5" y="1322"/><use href="#c" x="1237" y="1306"/><use href="#c" x="1238" y="1334.5"/><use href="#c" x="1239.5" y="1327"/><use href="#c" x="1240.5" y="1324.5"/><use href="#c" x="1242" y="1346"/><use href="#c" x="1243" y="1315.5"/><use href="#c" x="1244.5" y="1320"/><use href="#c" x="1245.5" y="1324.5"/><use href="#c" x="1246.5" y="1309.5"/><use href="#c" x="1248" y="1315.5"/><use href="#c" x="1249" y="1307.5"/><use href="#c" x="1250.5" y="1334.5"/><use href="#c" x="1251.5" y="1318"/><use href="#c" x="1252.5" y="1313.5"/><use href="#c" x="1254" y="1324.5"/><use href="#c" x="1255" y="1322"/><use href="#c" x="1256" y="1322"/><use href="#c" x="1257.5" y="1340"/><use href="#c" x="1258.5" y="1337"/><use href="#c" x="1259.5" y="1337"/><use href="#c" x="1261" y="1318"/><use href="#c" x="1262" y="1332"/><use href="#c" x="1263" y="1349"/><use href="#c" x="1264" y="1337"/><use href="#c" x="1265.5" y="1343"/><use href="#c" x="1266.5" y="1320"/><use href="#c" x="1267.5" y="1359"/><use href="#c" x="1268.5" y="1327"/><use href="#c" x="1270" y="1343"/><use href="#c" x="1271" y="1337"/><use href="#c" x="1272" y="1346"/><use href="#c" x="1273" y="1343"/><use href="#c" x="1274.5" y="1313.5"/><use href="#c" x="1275.5" y="1366.5"/><use href="#c" x="1276.5" y="1343"/><use href="#c" x="1277.5" y="1352"/><use href="#c" x="1278.5" y="1329.5"/><use href="#c" x="1279.5" y="1309.5"/><use href="#c" x="1281" y="1355.5"/><use href="#c" x="1282" y="1315.5"/><use href="#c" x="1283" y="1324.5"/><use href="#c" x="1284" y="1337"/><use href="#c" x="1285" y="1327"/><use href="#c" x="1286" y="1363"/><use href="#c" x="1287" y="1320"/><use href="#c" x="1288" y="1334.5"/><use href="#c" x="1289" y="1337"/><use href="#c" x="1290.5" y="1329.5"/><use href="#c" x="1291.5" y="1359"/><use href="#c" x="1292.5" y="1329.5"/><use href="#c" x="1293.5" y="1346"/><use href="#c" x="1294.5" y="1337"/><use href="#c" x="1295.5" y="1352"/><use href="#c" x="1296.5" y="1340"/><use href="#c" x="1297.5" y="1355.5"/><use href="#c" x="1298.5" y="1359"/><use href="#c" x="1299.5" y="1355.5"/><use href="#c" x="1300.5" y="1332"/><use href="#c" x="1301.5" y="1355.5"/><use href="#c" x="1302.5" y="1346"/><use href="#c" x="1303.5" y="1359"/><use href="#c" x="1304.5" y="1332"/><use href="#c" x="1305.5" y="1346"/><use href="#c" x="1306.5" y="1355.5"/><use href="#c" x="1307.5" y="1375"/><use href="#c" x="1308.5" y="1320"/><use href="#c" x="1309.5" y="1379.5"/><use href="#c" x="1310.5" y="1346"/><use href="#c" x="1311.5" y="1349"/><use href="#c" x="1312.5" y="1363"/><use href="#c" x="1313.5" y="1334.5"/><use href="#c" x="1314" y="1355.5"/><use href="#c" x="1315" y="1337"/><use href="#c" x="1316" y="1379.5"/><use href="#c" x="1317" y="1363"/><use href="#c" x="1318" y="1349"/><use href="#c" x="1319" y="1355.5"/><use href="#c" x="1320" y="1349"/><use href="#c" x="1321" y="1334.5"/><use href="#c" x="1322" y="1346"/><use href="#c" x="1322.5" y="1375"/><use href="#c" x="1323.5" y="1355.5"/><use href="#c" x="1324.5" y="1337"/><use href="#c" x="1325.5" y="1370.5"/><use href="#c" x="1326.5" y="1379.5"/><use href="#c" x="1327.5" y="1370.5"/><use href="#c" x="1328.5" y="1375"/><use href="#c" x="1329" y="1355.5"/><use href="#c" x="1330" y="1366.5"/><use href="#c" x="1331" y="1340"/><use href="#c" x="1332" y="1346"/><use href="#c" x="1333" y="1343"/><use href="#c" x="1333.5" y="1384.5"/><use href="#c" x="1334.5" y="1384.5"/><use href="#c" x="1335.5" y="1366.5"/><use href="#c" x="1336.5" y="1340"/><use href="#c" x="1337.5" y="1370.5"/><use href="#c" x="1338" y="1343"/><use href="#c" x="1339" y="1359"/><use href="#c" x="1340" y="1355.5"/><use href="#c" x="1341" y="1343"/><use href="#c" x="1341.5" y="1355.5"/><use href="#c" x="1342.5" y="1384.5"/><use href="#c" x="1343.5" y="1355.5"/><use href="#c" x="1344.5" y="1401"/><use href="#c" x="1345" y="1389.5"/><use href="#c" x="1346" y="1363"/><use href="#c" x="1347" y="1389.5"/><use href="#c" x="1348" y="1379.5"/><use href="#c" x="1348.5" y="1363"/><use href="#c" x="1349.5" y="1355.5"/><use href="#c" x="1350.5" y="1395"/><use href="#c" x="1351" y="1379.5"/><use href="#c" x="1352" y="1363"/><use href="#c" x="1353" y="1355.5"/><use href="#c" x="1353.5" y="1359"/><use href="#c" x="1354.5" y="1370.5"/><use href="#c" x="1355.5" y="1359"/><use href="#c" x="1356" y="1359"/><use href="#c" x="1357" y="1375"/><use href="#c" x="1358" y="1384.5"/><use href="#c" x="1358.5" y="1349"/><use href="#c" x="1359.5" y="1366.5"/><use href="#c" x="1360.5" y="1363"/><use href="#c" x="1361" y="1375"/><use href="#c" x="1362" y="1395"/><use href="#c" x="1363" y="1346"/><use href="#c" x="1363.5" y="1359"/><use href="#c" x="1364.5" y="1349"/><use href="#c" x="1365.5" y="1375"/><use href="#c" x="1366" y="1375"/><use href="#c" x="1367" y="1363"/><use href="#c" x="1367.5" y="1375"/><use href="#c" x="1368.5" y="1401"/><use href="#c" x="1369.5" y="1352"/><use href="#c" x="1370" y="1379.5"/><use href="#c" x="1371" y="1349"/><use href="#c" x="1371.5" y="1401"/><use href="#c" x="1372.5" y="1414"/><use href="#c" x="1373" y="1352"/><use href="#c" x="1374" y="1337"/><use href="#c" x="1375" y="1363"/><use href="#c" x="1375.5" y="1340"/><use href="#c" x="1376.5" y="1355.5"/><use href="#c" x="1377" y="1366.5"/><use href="#c" x="1378" y="1395"/><use href="#c" x="1378.5" y="1366.5"/><use href="#c" x="1379.5" y="1343"/><use href="#c" x="1380.5" y="1343"/><use href="#c" x="1381" y="1363"/><use href="#c" x="1382" y="1355.5"/><use href="#c" x="1382.5" y="1349"/><use href="#c" x="1383.5" y="1352"/><use href="#c" x="1384" y="1352"/><use href="#c" x="1385" y="1375"/><use href="#c" x="1385.5" y="1355.5"/><use href="#c" x="1386.5" y="1366.5"/><use href="#c" x="1387" y="1389.5"/><use href="#c" x="1388" y="1359"/><use href="#c" x="1388.5" y="1349"/><use href="#c" x="1389.5" y="1379.5"/><use href="#c" x="1390" y="1343"/><use href="#c" x="1391" y="1352"/><use href="#c" x="1391.5" y="1355.5"/><use href="#c" x="1392.5" y="1370.5"/><use href="#c" x="1393" y="1346"/><use href="#c" x="1394" y="1340"/><use href="#c" x="1394.5" y="1395"/><use href="#c" x="1395.5" y="1370.5"/><use href="#c" x="1396" y="1370.5"/><use href="#c" x="1396.5" y="1355.5"/><use href="#c" x="1397.5" y="1355.5"/><use href="#c" x="1398" y="1395"/><use href="#c" x="1399" y="1379.5"/><use href="#c" x="1399.5" y="1370.5"/><use href="#c" x="1400.5" y="1363"/><use href="#c" x="1401" y="1379.5"/><use href="#c" x="1402" y="1379.5"/><use href="#c" x="1402.5" y="1375"/><use href="#c" x="1403" y="1375"/><use href="#c" x="1404" y="1384.5"/><use href="#c" x="1404.5" y="1384.5"/><use href="#c" x="1405.5" y="1334.5"/><use href="#c" x="1406" y="1363"/><use href="#c" x="1407" y="1389.5"/><use href="#c" x="1407.5" y="1363"/><use href="#c" x="1408" y="1359"/><use href="#c" x="1409" y="1355.5"/><use href="#c" x="1409.5" y="1355.5"/><use href="#c" x="1410.5" y="1370.5"/><use href="#c" x="1411" y="1379.5"/><use href="#c" x="1411.5" y="1375"/><use href="#c" x="1412.5" y="1366.5"/><use href="#c" x="1413" y="1407.5"/><use href="#c" x="1413.5" y="1384.5"/><use href="#c" x="1414.5" y="1407.5"/><use href="#c" x="1415" y="1359"/><use href="#c" x="1416" y="1379.5"/><use href="#c" x="1416.5" y="1355.5"/><use href="#c" x="1417" y="1370.5"/><use href="#c" x="1418" y="1375"/><use href="#c" x="1418.5" y="1384.5"/><use href="#c" x="1419" y="1375"/><use href="#c" x="1420" y="1366.5"/><use href="#c" x="1420.5" y="1430"/><use href="#c" x="1421" y="1366.5"/><use href="#c" x="1422" y="1379.5"/><use href="#c" x="1422.5" y="1370.5"/><use href="#c" x="1423" y="1384.5"/><use href="#c" x="1424" y="1379.5"/><use href="#c" x="1424.5" y="1363"/><use href="#c" x="1425" y="1379.5"/><use href="#c" x="1426" y="1384.5"/><use href="#c" x="1426.5" y="1352"/><use href="#c" x="1427" y="1366.5"/><use href="#c" x="1428" y="1407.5"/><use href="#c" x="1428.5" y="1375"/><use href="#c" x="1429" y="1379.5"/><use href="#c" x="1430" y="1370.5"/><use href="#c" x="1430.5" y="1366.5"/><use href="#c" x="1431" y="1414"/><use href="#c" x="1432" y="1375"/><use href="#c" x="1432.5" y="1346"/><use href="#c" x="1433" y="1366.5"/><use href="#c" x="1433.5" y="1349"/><use href="#c" x="1434.5" y="1384.5"/><use href="#c" x="1435" y="1370.5"/><use href="#c" x="1435.5" y="1414"/><use href="#c" x="1436.5" y="1375"/><use href="#c" x="1437" y="1407.5"/><use href="#c" x="1437.5" y="1379.5"/><use href="#c" x="1438" y="1375"/><use href="#c" x="1439" y="1379.5"/><use href="#c" x="1439.5" y="1421.5"/><use href="#c" x="1440" y="1370.5"/><use href="#c" x="1440.5" y="1421.5"/><use href="#c" x="1441.5" y="1384.5"/><use href="#c" x="1442" y="1401"/><use href="#c" x="1442.5" y="1370.5"/><use href="#c" x="1443" y="1359"/><use href="#c" x="1444" y="1379.5"/><use href="#c" x="1444.5" y="1389.5"/><use href="#c" x="1445" y="1375"/><use href="#c" x="1445.5" y="1421.5"/><use href="#c" x="1446.5" y="1370.5"/><use href="#c" x="1447" y="1352"/><use href="#c" x="1447.5" y="1401"/><use href="#c" x="1448" y="1363"/><use href="#c" x="1449" y="1379.5"/><use href="#c" x="1449.5" y="1379.5"/><use href="#c" x="1450" y="1389.5"/><use href="#c" x="1450.5" y="1384.5"/><use href="#c" x="1451" y="1401"/><use href="#c" x="1452" y="1389.5"/><use href="#c" x="1452.5" y="1363"/><use href="#c" x="1453" y="1395"/><use href="#c" x="1453.5" y="1395"/><use href="#c" x="1454.5" y="1349"/><use href="#c" x="1455" y="1384.5"/><use href="#c" x="1455.5" y="1375"/><use href="#c" x="1456" y="1363"/><use href="#c" x="1456.5" y="1379.5"/><use href="#c" x="1457.5" y="1395"/><use href="#c" x="1458" y="1395"/><use href="#c" x="1458.5" y="1355.5"/><use href="#c" x="1459" y="1401"/><use href="#c" x="1459.5" y="1379.5"/><use href="#c" x="1460" y="1366.5"/><use href="#c" x="1461" y="1352"/><use href="#c" x="1461.5" y="1414"/><use href="#c" x="1462" y="1395"/><use href="#c" x="1462.5" y="1395"/><use href="#c" x="1463" y="1389.5"/><use href="#c" x="1463.5" y="1359"/><use href="#c" x="1464.5" y="1375"/><use href="#c" x="1465" y="1384.5"/><use href="#c" x="1465.5" y="1363"/><use href="#c" x="1466" y="1359"/><use href="#c" x="1466.5" y="1407.5"/><use href="#c" x="1467" y="1370.5"/><use href="#c" x="1468" y="1401"/><use href="#c" x="1468.5" y="1370.5"/><use href="#c" x="1469" y="1379.5"/><use href="#c" x="1469.5" y="1359"/><use href="#c" x="1470" y="1401"/><use href="#c" x="1470.5" y="1389.5"/><use href="#c" x="1471" y="1401"/><use href="#c" x="1472" y="1389.5"/><use href="#c" x="1472.5" y="1421.5"/><use href="#c" x="1473" y="1366.5"/><use href="#c" x="1473.5" y="1389.5"/><use href="#c" x="1474" y="1401"/><use href="#c" x="1474.5" y="1366.5"/><use href="#c" x="1475" y="1389.5"/><use href="#c" x="1475.5" y="1407.5"/><use href="#c" x="1476.5" y="1401"/><use href="#c" x="1477" y="1352"/><use href="#c" x="1477.5" y="1421.5"/><use href="#c" x="1478" y="1375"/><use href="#c" x="1478.5" y="1389.5"/><use href="#c" x="1479" y="1401"/><use href="#c" x="1479.5" y="1384.5"/><use href="#c" x="1480" y="1395"/><use href="#c" x="1480.5" y="1407.5"/><use href="#c" x="1481.5" y="1401"/><use href="#c" x="1482" y="1389.5"/><use href="#c" x="1482.5" y="1384.5"/><use href="#c" x="1483" y="1389.5"/><use href="#c" x="1483.5" y="1384.5"/><use href="#c" x="1484" y="1379.5"/><use href="#c" x="1484.5" y="1366.5"/><use href="#c" x="1485" y="1389.5"/><use href="#c" x="1485.5" y="1414"/><use href="#c" x="1486" y="1355.5"/><use href="#c" x="1486.5" y="1384.5"/><use href="#c" x="1487.5" y="1395"/><use href="#c" x="1488" y="1366.5"/><use href="#c" x="1488.5" y="1414"/><use href="#c" x="1489" y="1370.5"/><use href="#c" x="1489.5" y="1379.5"/><use href="#c" x="1490" y="1401"/><use href="#c" x="1490.5" y="1370.5"/><use href="#c" x="1491" y="1375"/><use href="#c" x="1491.5" y="1379.5"/><use href="#c" x="1492" y="1395"/><use href="#c" x="1492.5" y="1407.5"/><use href="#c" x="1493" y="1395"/><use href="#c" x="1493.5" y="1395"/><use href="#c" x="1494" y="1401"/><use href="#c" x="1494.5" y="1343"/><use href="#c" x="1495.5" y="1363"/><use href="#c" x="1496" y="1395"/><use href="#c" x="1496.5" y="1370.5"/><use href="#c" x="1497" y="1363"/><use href="#c" x="1497.5" y="1439.5"/><use href="#c" x="1498" y="1395"/><use href="#c" x="1498.5" y="1414"/><use href="#c" x="1499" y="1407.5"/><use href="#c" x="1499.5" y="1401"/><use href="#c" x="1500" y="1407.5"/><use href="#c" x="1500.5" y="1384.5"/><use href="#c" x="1501" y="1384.5"/><use href="#c" x="1501.5" y="1340"/><use href="#c" x="1502" y="1389.5"/><use href="#c" x="1502.5" y="1375"/><use href="#c" x="1503" y="1430"/><use href="#c" x="1503.5" y="1389.5"/><use href="#c" x="1504" y="1414"/><use href="#c" x="1504.5" y="1395"/><use href="#c" x="1505" y="1421.5"/><use href="#c" x="1505.5" y="1384.5"/><use href="#c" x="1506" y="1395"/><use href="#c" x="1506.5" y="1401"/><use href="#c" x="1507" y="1366.5"/><use href="#c" x="1507.5" y="1395"/><use href="#c" x="1508" y="1430"/><use href="#c" x="1508.5" y="1430"/><use href="#c" x="1509" y="1401"/><use href="#c" x="1509.5" y="1414"/><use href="#c" x="1510" y="1366.5"/><use href="#c" x="1510.5" y="1395"/><use href="#c" x="1511" y="1370.5"/><use href="#c" x="1511.5" y="1395"/><use href="#c" x="1512" y="1414"/><use href="#c" x="1512.5" y="1366.5"/><use href="#c" x="1513" y="1414"/><use href="#c" x="1513.5" y="1407.5"/><use href="#c" x="1514" y="1379.5"/><use href="#c" x="1514.5" y="1379.5"/><use href="#c" x="1515" y="1401"/><use href="#c" x="1515.5" y="1439.5"/><use href="#c" x="1516" y="1384.5"/><use href="#c" x="1516.5" y="1389.5"/><use href="#c" x="1517" y="1375"/><use href="#c" x="1517.5" y="1389.5"/><use href="#c" x="1518" y="1389.5"/><use href="#c" x="1518.5" y="1375"/><use href="#c" x="1519" y="1379.5"/><use href="#c" x="1519.5" y="1439.5"/><use href="#c" x="1520" y="1375"/><use href="#c" x="1520.5" y="1389.5"/><use href="#c" x="1521" y="1395"/><use href="#c" x="1521.5" y="1395"/><use href="#c" x="1522" y="1407.5"/><use href="#c" x="1522.5" y="1401"/><use href="#c" x="1523" y="1414"/><use href="#c" x="1523.5" y="1414"/><use href="#c" x="1524" y="1421.5"/><use href="#c" x="1524.5" y="1421.5"/><use href="#c" x="1524.5" y="1363"/><use href="#c" x="1525" y="1370.5"/><use href="#c" x="1525.5" y="1401"/><use href="#c" x="1526" y="1462.5"/><use href="#c" x="1526.5" y="1421.5"/><use href="#c" x="1527" y="1407.5"/><use href="#c" x="1527.5" y="1494.5"/><use href="#c" x="1528" y="1395"/><use href="#c" x="1528.5" y="1430"/><use href="#c" x="1529" y="1450"/><use href="#c" x="1529.5" y="1414"/><use href="#c" x="1530" y="1395"/><use href="#c" x="1530.5" y="1395"/><use href="#c" x="1531" y="1395"/><use href="#c" x="1531.5" y="1407.5"/><use href="#c" x="1532" y="1414"/><use href="#c" x="1532.5" y="1401"/><use href="#c" x="1532.5" y="1395"/><use href="#c" x="1533" y="1430"/><use href="#c" x="1533.5" y="1407.5"/><use href="#c" x="1534" y="1384.5"/><use href="#c" x="1534.5" y="1384.5"/><use href="#c" x="1535" y="1414"/><use href="#c" x="1535.5" y="1401"/><use href="#c" x="1536" y="1414"/><use href="#c" x="1536.5" y="1366.5"/><use href="#c" x="1537" y="1401"/><use href="#c" x="1537.5" y="1430"/><use href="#c" x="1538" y="1379.5"/><use href="#c" x="1538" y="1370.5"/><use href="#c" x="1538.5" y="1407.5"/><use href="#c" x="1539" y="1370.5"/><use href="#c" x="1539.5" y="1414"/><use href="#c" x="1540" y="1379.5"/><use href="#c" x="1540.5" y="1384.5"/><use href="#c" x="1541" y="1401"/><use href="#c" x="1541.5" y="1401"/><use href="#c" x="1542" y="1414"/><use href="#c" x="1542.5" y="1370.5"/><use href="#c" x="1542.5" y="1384.5"/><use href="#c" x="1543" y="1389.5"/><use href="#c" x="1543.5" y="1407.5"/><use href="#c" x="1544" y="1407.5"/><use href="#c" x="1544.5" y="1384.5"/><use href="#c" x="1545" y="1384.5"/><use href="#c" x="1545.5" y="1384.5"/><use href="#c" x="1546" y="1384.5"/><use href="#c" x="1546.5" y="1389.5"/><use href="#c" x="1547" y="1439.5"/><use href="#c" x="1547" y="1421.5"/><use href="#c" x="1547.5" y="1407.5"/><use href="#c" x="1548" y="1439.5"/><use href="#c" x="1548.5" y="1395"/><use href="#c" x="1549" y="1401"/><use href="#c" x="1549.5" y="1370.5"/><use href="#c" x="1550" y="1401"/><use href="#c" x="1550.5" y="1414"/><use href="#c" x="1550.5" y="1389.5"/><use href="#c" x="1551" y="1450"/><use href="#c" x="1551.5" y="1421.5"/><use href="#c" x="1552" y="1439.5"/><use href="#c" x="1552.5" y="1421.5"/><use href="#c" x="1553" y="1414"/><use href="#c" x="1553.5" y="1407.5"/><use href="#c" x="1554" y="1430"/><use href="#c" x="1554.5" y="1401"/><use href="#c" x="1555" y="1430"/><use href="#c" x="1555.5" y="1384.5"/><use href="#c" x="1556" y="1375"/><use href="#c" x="1556.5" y="1439.5"/><use href="#c" x="1557" y="1401"/><use href="#c" x="1557" y="1462.5"/><use href="#c" x="1557.5" y="1430"/><use href="#c" x="1558" y="1375"/><use href="#c" x="1558.5" y="1375"/><use href="#c" x="1559" y="1401"/><use href="#c" x="1559.5" y="1375"/><use href="#c" x="1559.5" y="1421.5"/><use href="#c" x="1560" y="1494.5"/><use href="#c" x="1560.5" y="1407.5"/><use href="#c" x="1561" y="1384.5"/><use href="#c" x="1561.5" y="1389.5"/><use href="#c" x="1562" y="1414"/><use href="#c" x="1562.5" y="1401"/><use href="#c" x="1562.5" y="1379.5"/><use href="#c" x="1563" y="1407.5"/><use href="#c" x="1563.5" y="1414"/><use href="#c" x="1564" y="1389.5"/><use href="#c" x="1564.5" y="1439.5"/><use href="#c" x="1565" y="1389.5"/><use href="#c" x="1565" y="1401"/><use href="#c" x="1565.5" y="1407.5"/><use href="#c" x="1566" y="1389.5"/><use href="#c" x="1566.5" y="1407.5"/><use href="#c" x="1567" y="1407.5"/><use href="#c" x="1567.5" y="1395"/><use href="#c" x="1567.5" y="1414"/><use href="#c" x="1568" y="1379.5"/><use href="#c" x="1568.5" y="1384.5"/><use href="#c" x="1569" y="1414"/><use href="#c" x="1569.5" y="1401"/><use href="#c" x="1569.5" y="1414"/><use href="#c" x="1570" y="1407.5"/><use href="#c" x="1570.5" y="1414"/><use href="#c" x="1571" y="1379.5"/><use href="#c" x="1571.5" y="1395"/><use href="#c" x="1572" y="1379.5"/><use href="#c" x="1572" y="1401"/><use href="#c" x="1572.5" y="1384.5"/><use href="#c" x="1573" y="1439.5"/><use href="#c" x="1573.5" y="1370.5"/><use href="#c" x="1574" y="1450"/><use href="#c" x="1574" y="1430"/><use href="#c" x="1574.5" y="1375"/><use href="#c" x="1575" y="1401"/><use href="#c" x="1575.5" y="1384.5"/><use href="#c" x="1576" y="1414"/><use href="#c" x="1576" y="1389.5"/><use href="#c" x="1576.5" y="1430"/><use href="#c" x="1577" y="1401"/><use href="#c" x="1577.5" y="1395"/><use href="#c" x="1578" y="1375"/><use href="#c" x="1578" y="1439.5"/><use href="#c" x="1578.5" y="1395"/><use href="#c" x="1579" y="1395"/><use href="#c" x="1579.5" y="1395"/><use href="#c" x="1580" y="1477"/><use href="#c" x="1580" y="1401"/><use href="#c" x="1580.5" y="1421.5"/><use href="#c" x="1581" y="1379.5"/><use href="#c" x="1581.5" y="1355.5"/><use href="#c" x="1582" y="1439.5"/><use href="#c" x="1582" y="1414"/><use href="#c" x="1582.5" y="1414"/><use href="#c" x="1583" y="1450"/><use href="#c" x="1583.5" y="1494.5"/><use href="#c" x="1583.5" y="1407.5"/><use href="#c" x="1584" y="1421.5"/><use href="#c" x="1584.5" y="1407.5"/><use href="#c" x="1585" y="1450"/><use href="#c" x="1585.5" y="1450"/><use href="#c" x="1585.5" y="1359"/><use href="#c" x="1586" y="1395"/><use href="#c" x="1586.5" y="1450"/><use href="#c" x="1587" y="1430"/><use href="#c" x="1587" y="1395"/><use href="#c" x="1587.5" y="1379.5"/><use href="#c" x="1588" y="1439.5"/><use href="#c" x="1588.5" y="1430"/><use href="#c" x="1589" y="1370.5"/><use href="#c" x="1589" y="1389.5"/><use href="#c" x="1589.5" y="1407.5"/><use href="#c" x="1590" y="1439.5"/><use href="#c" x="1590.5" y="1439.5"/><use href="#c" x="1590.5" y="1414"/><use href="#c" x="1591" y="1430"/><use href="#c" x="1591.5" y="1407.5"/><use href="#c" x="1592" y="1395"/><use href="#c" x="1592" y="1477"/><use href="#c" x="1592.5" y="1430"/><use href="#c" x="1593" y="1379.5"/><use href="#c" x="1593.5" y="1414"/><use href="#c" x="1593.5" y="1375"/><use href="#c" x="1594" y="1439.5"/><use href="#c" x="1594.5" y="1421.5"/><use href="#c" x="1595" y="1421.5"/><use href="#c" x="1595" y="1375"/><use href="#c" x="1595.5" y="1430"/><use href="#c" x="1596" y="1439.5"/><use href="#c" x="1596.5" y="1414"/><use href="#c" x="1596.5" y="1421.5"/><use href="#c" x="1597" y="1395"/><use href="#c" x="1597.5" y="1407.5"/><use href="#c" x="1598" y="1395"/><use href="#c" x="1598" y="1450"/><use href="#c" x="1598.5" y="1414"/><use href="#c" x="1599" y="1439.5"/><use href="#c" x="1599.5" y="1407.5"/><use href="#c" x="1599.5" y="1430"/><use href="#c" x="1600" y="1439.5"/><use href="#c" x="1600.5" y="1430"/><use href="#c" x="1601" y="1421.5"/><use href="#c" x="1601" y="1395"/><use href="#c" x="1601.5" y="1439.5"/><use href="#c" x="1602" y="1401"/><use href="#c" x="1602.5" y="1439.5"/><use href="#c" x="1602.5" y="1421.5"/><use href="#c" x="1603" y="1414"/><use href="#c" x="1603.5" y="1401"/><use href="#c" x="1604" y="1401"/><use href="#c" x="1604" y="1414"/><use href="#c" x="1604.5" y="1421.5"/><use href="#c" x="1605" y="1430"/><use href="#c" x="1605" y="1462.5"/><use href="#c" x="1605.5" y="1421.5"/><use href="#c" x="1606" y="1389.5"/><use href="#c" x="1606.5" y="1439.5"/><use href="#c" x="1606.5" y="1366.5"/><use href="#c" x="1607" y="1384.5"/><use href="#c" x="1607.5" y="1462.5"/><use href="#c" x="1608" y="1414"/><use href="#c" x="1608" y="1384.5"/><use href="#c" x="1608.5" y="1421.5"/><use href="#c" x="1609" y="1414"/><use href="#c" x="1609" y="1439.5"/><use href="#c" x="1609.5" y="1430"/><use href="#c" x="1610" y="1421.5"/><use href="#c" x="1610.5" y="1450"/><use href="#c" x="1610.5" y="1430"/><use href="#c" x="1611" y="1389.5"/><use href="#c" x="1611.5" y="1450"/><use href="#c" x="1611.5" y="1407.5"/><use href="#c" x="1612" y="1401"/><use href="#c" x="1612.5" y="1430"/><use href="#c" x="1613" y="1414"/><use href="#c" x="1613" y="1401"/><use href="#c" x="1613.5" y="1414"/><use href="#c" x="1614" y="1414"/><use href="#c" x="1614" y="1384.5"/><use href="#c" x="1614.5" y="1395"/><use href="#c" x="1615" y="1414"/><use href="#c" x="1615.5" y="1462.5"/><use href="#c" x="1615.5" y="1407.5"/><use href="#c" x="1616" y="1389.5"/><use href="#c" x="1616.5" y="1430"/><use href="#c" x="1616.5" y="1395"/><use href="#c" x="1617" y="1414"/><use href="#c" x="1617.5" y="1414"/><use href="#c" x="1617.5" y="1439.5"/><use href="#c" x="1618" y="1407.5"/><use href="#c" x="1618.5" y="1450"/><use href="#c" x="1619" y="1450"/><use href="#c" x="1619" y="1421.5"/><use href="#c" x="1619.5" y="1421.5"/><use href="#c" x="1620" y="1401"/><use href="#c" x="1620" y="1430"/><use href="#c" x="1620.5" y="1421.5"/><use href="#c" x="1621" y="1450"/><use href="#c" x="1621" y="1401"/><use href="#c" x="1621.5" y="1430"/><use href="#c" x="1622" y="1430"/><use href="#c" x="1622" y="1439.5"/><use href="#c" x="1622.5" y="1430"/><use href="#c" x="1623" y="1395"/><use href="#c" x="1623" y="1430"/><use href="#c" x="1623.5" y="1421.5"/><use href="#c" x="1624" y="1407.5"/><use href="#c" x="1624.5" y="1494.5"/><use href="#c" x="1624.5" y="1421.5"/><use href="#c" x="1625" y="1430"/><use href="#c" x="1625.5" y="1430"/><use href="#c" x="1625.5" y="1421.5"/><use href="#c" x="1626" y="1430"/><use href="#c" x="1626.5" y="1421.5"/><use href="#c" x="1626.5" y="1407.5"/><use href="#c" x="1627" y="1395"/><use href="#c" x="1627.5" y="1462.5"/><use href="#c" x="1628" y="1407.5"/><use href="#c" x="1628.5" y="1462.5"/><use href="#c" x="1628.5" y="1375"/><use href="#c" x="1629" y="1414"/><use href="#c" x="1629.5" y="1407.5"/><use href="#c" x="1629.5" y="1430"/><use href="#c" x="1630" y="1421.5"/><use href="#c" x="1630.5" y="1407.5"/><use href="#c" x="1630.5" y="1462.5"/><use href="#c" x="1631" y="1395"/><use href="#c" x="1631.5" y="1379.5"/><use href="#c" x="1631.5" y="1414"/><use href="#c" x="1632" y="1430"/><use href="#c" x="1632.5" y="1421.5"/><use href="#c" x="1632.5" y="1401"/><use href="#c" x="1633" y="1379.5"/><use href="#c" x="1633.5" y="1421.5"/><use href="#c" x="1634" y="1401"/><use href="#c" x="1634.5" y="1439.5"/><use href="#c" x="1634.5" y="1389.5"/><use href="#c" x="1635" y="1414"/><use href="#c" x="1635.5" y="1379.5"/><use href="#c" x="1635.5" y="1450"/><use href="#c" x="1636" y="1462.5"/><use href="#c" x="1636.5" y="1407.5"/><use href="#c" x="1636.5" y="1414"/><use href="#c" x="1637" y="1414"/><use href="#c" x="1637.5" y="1439.5"/><use href="#c" x="1637.5" y="1430"/><use href="#c" x="1638" y="1439.5"/><use href="#c" x="1638.5" y="1462.5"/><use href="#c" x="1638.5" y="1407.5"/><use href="#c" x="1639" y="1439.5"/><use href="#c" x="1639.5" y="1414"/><use href="#c" x="1640" y="1439.5"/><use href="#c" x="1640" y="1414"/><use href="#c" x="1640.5" y="1477"/><use href="#c" x="1641" y="1439.5"/><use href="#c" x="1641" y="1450"/><use href="#c" x="1641.5" y="1375"/><use href="#c" x="1642" y="1462.5"/><use href="#c" x="1642" y="1414"/><use href="#c" x="1642.5" y="1430"/><use href="#c" x="1643" y="1421.5"/><use href="#c" x="1643" y="1439.5"/><use href="#c" x="1643.5" y="1439.5"/><use href="#c" x="1644" y="1414"/><use href="#c" x="1644" y="1477"/><use href="#c" x="1644.5" y="1477"/><use href="#c" x="1644.5" y="1401"/><use href="#c" x="1645" y="1407.5"/><use href="#c" x="1645.5" y="1430"/><use href="#c" x="1645.5" y="1401"/><use href="#c" x="1646" y="1407.5"/><use href="#c" x="1646.5" y="1494.5"/><use href="#c" x="1646.5" y="1430"/><use href="#c" x="1647" y="1407.5"/><use href="#c" x="1647.5" y="1439.5"/><use href="#c" x="1647.5" y="1430"/><use href="#c" x="1648" y="1439.5"/><use href="#c" x="1648" y="1450"/><use href="#c" x="1648.5" y="1430"/><use href="#c" x="1649" y="1430"/><use href="#c" x="1649" y="1450"/><use href="#c" x="1649.5" y="1407.5"/><use href="#c" x="1650" y="1450"/><use href="#c" x="1650" y="1414"/><use href="#c" x="1650.5" y="1450"/><use href="#c" x="1650.5" y="1430"/><use href="#c" x="1651" y="1421.5"/><use href="#c" x="1651.5" y="1450"/><use href="#c" x="1652" y="1462.5"/><use href="#c" x="1652.5" y="1407.5"/><use href="#c" x="1652.5" y="1421.5"/><use href="#c" x="1653" y="1421.5"/><use href="#c" x="1653" y="1430"/><use href="#c" x="1653.5" y="1462.5"/><use href="#c" x="1654" y="1430"/><use href="#c" x="1654" y="1401"/><use href="#c" x="1654.5" y="1430"/><use href="#c" x="1655" y="1439.5"/><use href="#c" x="1655" y="1450"/><use href="#c" x="1655.5" y="1430"/><use href="#c" x="1655.5" y="1450"/><use href="#c" x="1656" y="1462.5"/><use href="#c" x="1656.5" y="1517.5"/><use href="#c" x="1656.5" y="1450"/><use href="#c" x="1657" y="1439.5"/><use href="#c" x="1657" y="1414"/><use href="#c" x="1657.5" y="1430"/><use href="#c" x="1658" y="1421.5"/><use href="#c" x="1658" y="1430"/><use href="#c" x="1658.5" y="1477"/><use href="#c" x="1659" y="1407.5"/><use href="#c" x="1659.5" y="1395"/><use href="#c" x="1659.5" y="1401"/><use href="#c" x="1660" y="1414"/><use href="#c" x="1660.5" y="1462.5"/><use href="#c" x="1660.5" y="1414"/><use href="#c" x="1661" y="1430"/><use href="#c" x="1661" y="1421.5"/><use href="#c" x="1661.5" y="1477"/><use href="#c" x="1662" y="1450"/><use href="#c" x="1662" y="1477"/><use href="#c" x="1662.5" y="1450"/><use href="#c" x="1662.5" y="1421.5"/><use href="#c" x="1663" y="1462.5"/><use href="#c" x="1663.5" y="1462.5"/><use href="#c" x="1663.5" y="1450"/><use href="#c" x="1664" y="1450"/><use href="#c" x="1664" y="1439.5"/><use href="#c" x="1664.5" y="1430"/><use href="#c" x="1665" y="1414"/><use href="#c" x="1665" y="1450"/><use href="#c" x="1665.5" y="1439.5"/><use href="#c" x="1665.5" y="1407.5"/><use href="#c" x="1666" y="1414"/><use href="#c" x="1666.5" y="1414"/><use href="#c" x="1666.5" y="1450"/><use href="#c" x="1667" y="1477"/><use href="#c" x="1667" y="1450"/><use href="#c" x="1667.5" y="1414"/><use href="#c" x="1668" y="1477"/><use href="#c" x="1668" y="1462.5"/><use href="#c" x="1668.5" y="1439.5"/><use href="#c" x="1668.5" y="1462.5"/><use href="#c" x="1669" y="1477"/><use href="#c" x="1669" y="1450"/><use href="#c" x="1669.5" y="1439.5"/><use href="#c" x="1670" y="1450"/><use href="#c" x="1670" y="1462.5"/><use href="#c" x="1670.5" y="1439.5"/><use href="#c" x="1670.5" y="1430"/><use href="#c" x="1671" y="1450"/><use href="#c" x="1671.5" y="1430"/><use href="#c" x="1671.5" y="1450"/><use href="#c" x="1672" y="1439.5"/><use href="#c" x="1672" y="1462.5"/><use href="#c" x="1672.5" y="1477"/><use href="#c" x="1672.5" y="1430"/><use href="#c" x="1673" y="1439.5"/><use href="#c" x="1673.5" y="1414"/><use href="#c" x="1673.5" y="1407.5"/><use href="#c" x="1674" y="1430"/><use href="#c" x="1674" y="1450"/><use href="#c" x="1674.5" y="1439.5"/><use href="#c" x="1675" y="1477"/><use href="#c" x="1675" y="1401"/><use href="#c" x="1675.5" y="1421.5"/><use href="#c" x="1676" y="1414"/><use href="#c" x="1676" y="1450"/><use href="#c" x="1676.5" y="1477"/><use href="#c" x="1677" y="1477"/><use href="#c" x="1677" y="1439.5"/><use href="#c" x="1677.5" y="1421.5"/><use href="#c" x="1677.5" y="1549.5"/><use href="#c" x="1678" y="1477"/><use href="#c" x="1678" y="1462.5"/><use href="#c" x="1678.5" y="1477"/><use href="#c" x="1679" y="1494.5"/><use href="#c" x="1679" y="1414"/><use href="#c" x="1679.5" y="1421.5"/><use href="#c" x="1680" y="1477"/><use href="#c" x="1680" y="1450"/><use href="#c" x="1680.5" y="1384.5"/><use href="#c" x="1681" y="1439.5"/><use href="#c" x="1681" y="1450"/><use href="#c" x="1681.5" y="1430"/><use href="#c" x="1681.5" y="1462.5"/><use href="#c" x="1682" y="1477"/><use href="#c" x="1682" y="1494.5"/><use href="#c" x="1682.5" y="1421.5"/><use href="#c" x="1683" y="1421.5"/><use href="#c" x="1683" y="1414"/><use href="#c" x="1683.5" y="1477"/><use href="#c" x="1683.5" y="1462.5"/><use href="#c" x="1684" y="1494.5"/><use href="#c" x="1684" y="1450"/><use href="#c" x="1684.5" y="1462.5"/><use href="#c" x="1685" y="1450"/><use href="#c" x="1685.5" y="1462.5"/><use href="#c" x="1685.5" y="1450"/><use href="#c" x="1686" y="1450"/><use href="#c" x="1686.5" y="1450"/><use href="#c" x="1687" y="1450"/><use href="#c" x="1687" y="1462.5"/><use href="#c" x="1687.5" y="1430"/><use href="#c" x="1688" y="1439.5"/><use href="#c" x="1688" y="1430"/><use href="#c" x="1688.5" y="1439.5"/><use href="#c" x="1689" y="1439.5"/><use href="#c" x="1689" y="1477"/><use href="#c" x="1689.5" y="1421.5"/><use href="#c" x="1689.5" y="1462.5"/><use href="#c" x="1690" y="1494.5"/><use href="#c" x="1690" y="1477"/><use href="#c" x="1690.5" y="1462.5"/><use href="#c" x="1691" y="1450"/><use href="#c" x="1691.5" y="1494.5"/><use href="#c" x="1691.5" y="1462.5"/><use href="#c" x="1692" y="1421.5"/><use href="#c" x="1692" y="1517.5"/><use href="#c" x="1692.5" y="1439.5"/><use href="#c" x="1692.5" y="1462.5"/><use href="#c" x="1693" y="1477"/><use href="#c" x="1693" y="1414"/><use href="#c" x="1693.5" y="1494.5"/><use href="#c" x="1694" y="1477"/><use href="#c" x="1694.5" y="1494.5"/><use href="#c" x="1695" y="1421.5"/><use href="#c" x="1695" y="1450"/><use href="#c" x="1695.5" y="1494.5"/><use href="#c" x="1695.5" y="1439.5"/><use href="#c" x="1696" y="1494.5"/><use href="#c" x="1696" y="1421.5"/><use href="#c" x="1696.5" y="1430"/><use href="#c" x="1697" y="1421.5"/><use href="#c" x="1697" y="1462.5"/><use href="#c" x="1697.5" y="1462.5"/><use href="#c" x="1697.5" y="1439.5"/><use href="#c" x="1698" y="1494.5"/><use href="#c" x="1698" y="1477"/><use href="#c" x="1698.5" y="1450"/><use href="#c" x="1698.5" y="1421.5"/><use href="#c" x="1699" y="1430"/><use href="#c" x="1699" y="1421.5"/><use href="#c" x="1699.5" y="1450"/><use href="#c" x="1699.5" y="1395"/><use href="#c" x="1700" y="1450"/><use href="#c" x="1700" y="1494.5"/><use href="#c" x="1700.5" y="1477"/><use href="#c" x="1701" y="1477"/><use href="#c" x="1701" y="1450"/><use href="#c" x="1701.5" y="1414"/><use href="#c" x="1701.5" y="1450"/><use href="#c" x="1702" y="1450"/><use href="#c" x="1702" y="1439.5"/><use href="#c" x="1702.5" y="1517.5"/><use href="#c" x="1702.5" y="1401"/><use href="#c" x="1703" y="1430"/><use href="#c" x="1703.5" y="1549.5"/><use href="#c" x="1703.5" y="1462.5"/><use href="#c" x="1704" y="1549.5"/><use href="#c" x="1704" y="1462.5"/><use href="#c" x="1704.5" y="1430"/><use href="#c" x="1704.5" y="1407.5"/><use href="#c" x="1705" y="1450"/><use href="#c" x="1705" y="1462.5"/><use href="#c" x="1705.5" y="1462.5"/><use href="#c" x="1705.5" y="1421.5"/><use href="#c" x="1706" y="1494.5"/><use href="#c" x="1706.5" y="1439.5"/><use href="#c" x="1706.5" y="1421.5"/><use href="#c" x="1707" y="1462.5"/><use href="#c" x="1707" y="1477"/><use href="#c" x="1707.5" y="1401"/><use href="#c" x="1707.5" y="1477"/><use href="#c" x="1708" y="1462.5"/><use href="#c" x="1708" y="1477"/><use href="#c" x="1708.5" y="1477"/><use href="#c" x="1709" y="1439.5"/><use href="#c" x="1709" y="1517.5"/><use href="#c" x="1709.5" y="1462.5"/><use href="#c" x="1709.5" y="1494.5"/><use href="#c" x="1710" y="1549.5"/><use href="#c" x="1710" y="1494.5"/><use href="#c" x="1710.5" y="1439.5"/><use href="#c" x="1710.5" y="1549.5"/><use href="#c" x="1711" y="1517.5"/><use href="#c" x="1711" y="1414"/><use href="#c" x="1711.5" y="1414"/><use href="#c" x="1711.5" y="1462.5"/><use href="#c" x="1712" y="1439.5"/><use href="#c" x="1712" y="1462.5"/><use href="#c" x="1712.5" y="1450"/><use href="#c" x="1712.5" y="1439.5"/><use href="#c" x="1713" y="1494.5"/><use href="#c" x="1713.5" y="1421.5"/><use href="#c" x="1713.5" y="1517.5"/><use href="#c" x="1714" y="1439.5"/><use href="#c" x="1714" y="1494.5"/><use href="#c" x="1714.5" y="1494.5"/><use href="#c" x="1714.5" y="1477"/><use href="#c" x="1715" y="1494.5"/><use href="#c" x="1715.5" y="1494.5"/><use href="#c" x="1715.5" y="1517.5"/><use href="#c" x="1716" y="1439.5"/><use href="#c" x="1716" y="1430"/><use href="#c" x="1716.5" y="1450"/><use href="#c" x="1717" y="1450"/><use href="#c" x="1717" y="1462.5"/><use href="#c" x="1717.5" y="1517.5"/><use href="#c" x="1717.5" y="1421.5"/><use href="#c" x="1718" y="1494.5"/><use href="#c" x="1718" y="1477"/><use href="#c" x="1718.5" y="1450"/><use href="#c" x="1718.5" y="1430"/><use href="#c" x="1719" y="1462.5"/><use href="#c" x="1719" y="1414"/><use href="#c" x="1719.5" y="1477"/><use href="#c" x="1719.5" y="1450"/><use href="#c" x="1720" y="1477"/><use href="#c" x="1720.5" y="1462.5"/><use href="#c" x="1721" y="1450"/><use href="#c" x="1721" y="1421.5"/><use href="#c" x="1721.5" y="1439.5"/><use href="#c" x="1721.5" y="1477"/><use href="#c" x="1722" y="1494.5"/><use href="#c" x="1722" y="1450"/><use href="#c" x="1722.5" y="1517.5"/><use href="#c" x="1722.5" y="1494.5"/><use href="#c" x="1723" y="1517.5"/><use href="#c" x="1723" y="1450"/><use href="#c" x="1723.5" y="1494.5"/><use href="#c" x="1723.5" y="1477"/><use href="#c" x="1724" y="1430"/><use href="#c" x="1724" y="1477"/><use href="#c" x="1724.5" y="1494.5"/><use href="#c" x="1724.5" y="1477"/><use href="#c" x="1725" y="1421.5"/><use href="#c" x="1725" y="1477"/><use href="#c" x="1725.5" y="1439.5"/><use href="#c" x="1725.5" y="1494.5"/><use href="#c" x="1726" y="1494.5"/><use href="#c" x="1726" y="1549.5"/><use href="#c" x="1726.5" y="1477"/><use href="#c" x="1727" y="1450"/><use href="#c" x="1727.5" y="1439.5"/><use href="#c" x="1727.5" y="1477"/><use href="#c" x="1728" y="1494.5"/><use href="#c" x="1728.5" y="1421.5"/><use href="#c" x="1728.5" y="1439.5"/><use href="#c" x="1729" y="1494.5"/><use href="#c" x="1729.5" y="1462.5"/><use href="#c" x="1729.5" y="1517.5"/><use href="#c" x="1730" y="1517.5"/><use href="#c" x="1730" y="1450"/><use href="#c" x="1730" y="1439.5"/><use href="#c" x="1730.5" y="1450"/><use href="#c" x="1730.5" y="1549.5"/><use href="#c" x="1731" y="1517.5"/><use href="#c" x="1731" y="1439.5"/><use href="#c" x="1731.5" y="1450"/><use href="#c" x="1731.5" y="1421.5"/><use href="#c" x="1732" y="1462.5"/><use href="#c" x="1732.5" y="1430"/><use href="#c" x="1732.5" y="1517.5"/><use href="#c" x="1733" y="1477"/><use href="#c" x="1733.5" y="1517.5"/><use href="#c" x="1733.5" y="1494.5"/><use href="#c" x="1734" y="1430"/><use href="#c" x="1734" y="1494.5"/><use href="#c" x="1734.5" y="1407.5"/><use href="#c" x="1734.5" y="1477"/><use href="#c" x="1735" y="1439.5"/><use href="#c" x="1735" y="1494.5"/><use href="#c" x="1735.5" y="1439.5"/><use href="#c" x="1735.5" y="1517.5"/><use href="#c" x="1736" y="1517.5"/><use href="#c" x="1736" y="1430"/><use href="#c" x="1736.5" y="1462.5"/><use href="#c" x="1737" y="1494.5"/><use href="#c" x="1737" y="1462.5"/><use href="#c" x="1737.5" y="1477"/><use href="#c" x="1737.5" y="1494.5"/><use href="#c" x="1738" y="1494.5"/><use href="#c" x="1738" y="1414"/><use href="#c" x="1738.5" y="1430"/><use href="#c" x="1738.5" y="1462.5"/><use href="#c" x="1739" y="1462.5"/><use href="#c" x="1739" y="1421.5"/><use href="#c" x="1739" y="1517.5"/><use href="#c" x="1739.5" y="1439.5"/><use href="#c" x="1739.5" y="1462.5"/><use href="#c" x="1740" y="1549.5"/><use href="#c" x="1740" y="1517.5"/><use href="#c" x="1740.5" y="1494.5"/><use href="#c" x="1740.5" y="1450"/><use href="#c" x="1741" y="1494.5"/><use href="#c" x="1741.5" y="1430"/><use href="#c" x="1741.5" y="1517.5"/><use href="#c" x="1742" y="1477"/><use href="#c" x="1742" y="1494.5"/><use href="#c" x="1742.5" y="1494.5"/><use href="#c" x="1742.5" y="1517.5"/><use href="#c" x="1743" y="1477"/><use href="#c" x="1743" y="1462.5"/><use href="#c" x="1743.5" y="1462.5"/><use href="#c" x="1743.5" y="1549.5"/><use href="#c" x="1744" y="1549.5"/><use href="#c" x="1744" y="1462.5"/><use href="#c" x="1744.5" y="1421.5"/><use href="#c" x="1744.5" y="1517.5"/><use href="#c" x="1745" y="1494.5"/><use href="#c" x="1745" y="1477"/><use href="#c" x="1745.5" y="1517.5"/><use href="#c" x="1745.5" y="1494.5"/><use href="#c" x="1746" y="1477"/><use href="#c" x="1746" y="1462.5"/><use href="#c" x="1746.5" y="1494.5"/><use href="#c" x="1746.5" y="1450"/><use href="#c" x="1747" y="1477"/><use href="#c" x="1747" y="1421.5"/><use href="#c" x="1747.5" y="1494.5"/><use href="#c" x="1747.5" y="1517.5"/><use href="#c" x="1747.5" y="1462.5"/><use href="#c" x="1748" y="1517.5"/><use href="#c" x="1748" y="1477"/><use href="#c" x="1748.5" y="1494.5"/><use href="#c" x="1748.5" y="1477"/><use href="#c" x="1749" y="1494.5"/><use href="#c" x="1749.5" y="1477"/><use href="#c" x="1749.5" y="1549.5"/><use href="#c" x="1750" y="1430"/><use href="#c" x="1750" y="1439.5"/><use href="#c" x="1750" y="1517.5"/><use href="#c" x="1750.5" y="1430"/><use href="#c" x="1750.5" y="1477"/><use href="#c" x="1751" y="1494.5"/><use href="#c" x="1751" y="1517.5"/><use href="#c" x="1751.5" y="1517.5"/><use href="#c" x="1751.5" y="1549.5"/><use href="#c" x="1752" y="1450"/><use href="#c" x="1752" y="1421.5"/><use href="#c" x="1752.5" y="1430"/><use href="#c" x="1752.5" y="1477"/><use href="#c" x="1753" y="1517.5"/><use href="#c" x="1753" y="1430"/><use href="#c" x="1753.5" y="1477"/><use href="#c" x="1753.5" y="1494.5"/><use href="#c" x="1754" y="1517.5"/><use href="#c" x="1754" y="1421.5"/><use href="#c" x="1754" y="1430"/><use href="#c" x="1754.5" y="1477"/><use href="#c" x="1755" y="1430"/><use href="#c" x="1755" y="1462.5"/><use href="#c" x="1755.5" y="1549.5"/><use href="#c" x="1755.5" y="1494.5"/><use href="#c" x="1756" y="1477"/><use href="#c" x="1756" y="1517.5"/><use href="#c" x="1756" y="1430"/><use href="#c" x="1756.5" y="1494.5"/><use href="#c" x="1756.5" y="1477"/><use href="#c" x="1757" y="1517.5"/><use href="#c" x="1757" y="1462.5"/><use href="#c" x="1757.5" y="1494.5"/><use href="#c" x="1757.5" y="1450"/><use href="#c" x="1758" y="1549.5"/><use href="#c" x="1758" y="1477"/><use href="#c" x="1758.5" y="1477"/><use href="#c" x="1758.5" y="1549.5"/><use href="#c" x="1759" y="1462.5"/><use href="#c" x="1759" y="1477"/><use href="#c" x="1759.5" y="1494.5"/><use href="#c" x="1759.5" y="1462.5"/><use href="#c" x="1760" y="1549.5"/><use href="#c" x="1760" y="1477"/><use href="#c" x="1760.5" y="1477"/><use href="#c" x="1760.5" y="1517.5"/><use href="#c" x="1761" y="1517.5"/><use href="#c" x="1761" y="1477"/><use href="#c" x="1761.5" y="1462.5"/><use href="#c" x="1762" y="1430"/><use href="#c" x="1762.5" y="1517.5"/><use href="#c" x="1762.5" y="1494.5"/><use href="#c" x="1762.5" y="1439.5"/><use href="#c" x="1763" y="1450"/><use href="#c" x="1763" y="1494.5"/><use href="#c" x="1763.5" y="1494.5"/><use href="#c" x="1763.5" y="1462.5"/><use href="#c" x="1764" y="1421.5"/><use href="#c" x="1764" y="1462.5"/><use href="#c" x="1764" y="1430"/><use href="#c" x="1764.5" y="1517.5"/><use href="#c" x="1765" y="1477"/><use href="#c" x="1765" y="1517.5"/><use href="#c" x="1765.5" y="1517.5"/><use href="#c" x="1765.5" y="1450"/><use href="#c" x="1766" y="1494.5"/><use href="#c" x="1766.5" y="1462.5"/><use href="#c" x="1766.5" y="1494.5"/><use href="#c" x="1767" y="1494.5"/><use href="#c" x="1767" y="1477"/><use href="#c" x="1767.5" y="1549.5"/><use href="#c" x="1767.5" y="1494.5"/><use href="#c" x="1768" y="1477"/><use href="#c" x="1768" y="1517.5"/><use href="#c" x="1768.5" y="1549.5"/><use href="#c" x="1768.5" y="1517.5"/><use href="#c" x="1769" y="1407.5"/><use href="#c" x="1769" y="1517.5"/><use href="#c" x="1769.5" y="1477"/><use href="#c" x="1769.5" y="1494.5"/><use href="#c" x="1770" y="1477"/><use href="#c" x="1770" y="1494.5"/><use href="#c" x="1770" y="1439.5"/><use href="#c" x="1770.5" y="1450"/><use href="#c" x="1770.5" y="1462.5"/><use href="#c" x="1771" y="1494.5"/><use href="#c" x="1771" y="1517.5"/><use href="#c" x="1771" y="1462.5"/><use href="#c" x="1771.5" y="1477"/><use href="#c" x="1771.5" y="1494.5"/><use href="#c" x="1772" y="1494.5"/><use href="#c" x="1772.5" y="1462.5"/><use href="#c" x="1772.5" y="1494.5"/><use href="#c" x="1773" y="1517.5"/><use href="#c" x="1773" y="1477"/><use href="#c" x="1773.5" y="1517.5"/><use href="#c" x="1773.5" y="1450"/><use href="#c" x="1773.5" y="1494.5"/><use href="#c" x="1774" y="1477"/><use href="#c" x="1774" y="1517.5"/><use href="#c" x="1774.5" y="1450"/><use href="#c" x="1774.5" y="1494.5"/><use href="#c" x="1775" y="1477"/><use href="#c" x="1775" y="1421.5"/><use href="#c" x="1775.5" y="1477"/><use href="#c" x="1776" y="1462.5"/><use href="#c" x="1776" y="1517.5"/><use href="#c" x="1776.5" y="1430"/><use href="#c" x="1776.5" y="1462.5"/><use href="#c" x="1777" y="1462.5"/><use href="#c" x="1777" y="1517.5"/><use href="#c" x="1777.5" y="1517.5"/><use href="#c" x="1777.5" y="1477"/><use href="#c" x="1778" y="1494.5"/><use href="#c" x="1778" y="1450"/><use href="#c" x="1778.5" y="1517.5"/><use href="#c" x="1779" y="1494.5"/><use href="#c" x="1779" y="1477"/><use href="#c" x="1779.5" y="1450"/><use href="#c" x="1779.5" y="1517.5"/><use href="#c" x="1779.5" y="1494.5"/><use href="#c" x="1780" y="1462.5"/><use href="#c" x="1780" y="1430"/><use href="#c" x="1780.5" y="1439.5"/><use href="#c" x="1780.5" y="1549.5"/><use href="#c" x="1780.5" y="1494.5"/><use href="#c" x="1781" y="1477"/><use href="#c" x="1781" y="1462.5"/><use href="#c" x="1781.5" y="1517.5"/><use href="#c" x="1781.5" y="1450"/><use href="#c" x="1782" y="1477"/><use href="#c" x="1782" y="1462.5"/><use href="#c" x="1782.5" y="1549.5"/><use href="#c" x="1782.5" y="1462.5"/><use href="#c" x="1783" y="1494.5"/><use href="#c" x="1783.5" y="1494.5"/><use href="#c" x="1783.5" y="1414"/><use href="#c" x="1784" y="1450"/><use href="#c" x="1784.5" y="1462.5"/><use href="#c" x="1784.5" y="1494.5"/><use href="#c" x="1785" y="1462.5"/><use href="#c" x="1785" y="1517.5"/><use href="#c" x="1785.5" y="1549.5"/><use href="#c" x="1785.5" y="1494.5"/><use href="#c" x="1786" y="1517.5"/><use href="#c" x="1786.5" y="1517.5"/><use href="#c" x="1786.5" y="1462.5"/><use href="#c" x="1787" y="1517.5"/><use href="#c" x="1787" y="1414"/><use href="#c" x="1787.5" y="1450"/><use href="#c" x="1787.5" y="1462.5"/><use href="#c" x="1787.5" y="1494.5"/><use href="#c" x="1788" y="1462.5"/><use href="#c" x="1788" y="1494.5"/><use href="#c" x="1788.5" y="1549.5"/><use href="#c" x="1788.5" y="1477"/><use href="#c" x="1788.5" y="1517.5"/><use href="#c" x="1789" y="1462.5"/><use href="#c" x="1789" y="1494.5"/><use href="#c" x="1789.5" y="1494.5"/><use href="#c" x="1789.5" y="1517.5"/><use href="#c" x="1789.5" y="1462.5"/><use href="#c" x="1790" y="1450"/><use href="#c" x="1790.5" y="1430"/><use href="#c" x="1790.5" y="1494.5"/><use href="#c" x="1790.5" y="1407.5"/><use href="#c" x="1791" y="1494.5"/><use href="#c" x="1791.5" y="1450"/><use href="#c" x="1791.5" y="1477"/><use href="#c" x="1791.5" y="1494.5"/><use href="#c" x="1792" y="1450"/><use href="#c" x="1792" y="1462.5"/><use href="#c" x="1792.5" y="1494.5"/><use href="#c" x="1792.5" y="1549.5"/><use href="#c" x="1792.5" y="1450"/><use href="#c" x="1793" y="1517.5"/><use href="#c" x="1793" y="1549.5"/><use href="#c" x="1793" y="1494.5"/><use href="#c" x="1793.5" y="1462.5"/><use href="#c" x="1794" y="1517.5"/><use href="#c" x="1794" y="1450"/><use href="#c" x="1794" y="1421.5"/><use href="#c" x="1794.5" y="1439.5"/><use href="#c" x="1794.5" y="1462.5"/><use href="#c" x="1795" y="1477"/><use href="#c" x="1795" y="1450"/><use href="#c" x="1795" y="1517.5"/><use href="#c" x="1795.5" y="1494.5"/><use href="#c" x="1795.5" y="1549.5"/><use href="#c" x="1796" y="1549.5"/><use href="#c" x="1796" y="1439.5"/><use href="#c" x="1796" y="1494.5"/><use href="#c" x="1796.5" y="1549.5"/><use href="#c" x="1796.5" y="1462.5"/><use href="#c" x="1797" y="1462.5"/><use href="#c" x="1797" y="1477"/><use href="#c" x="1797.5" y="1477"/><use href="#c" x="1797.5" y="1430"/><use href="#c" x="1798" y="1517.5"/><use href="#c" x="1798" y="1494.5"/><use href="#c" x="1798.5" y="1549.5"/><use href="#c" x="1798.5" y="1462.5"/><use href="#c" x="1798.5" y="1477"/><use href="#c" x="1799" y="1494.5"/><use href="#c" x="1799" y="1549.5"/><use href="#c" x="1799.5" y="1450"/><use href="#c" x="1799.5" y="1477"/><use href="#c" x="1800" y="1462.5"/><use href="#c" x="1800" y="1517.5"/><use href="#c" x="1800" y="1549.5"/><use href="#c" x="1800.5" y="1517.5"/><use href="#c" x="1801" y="1549.5"/><use href="#c" x="1801" y="1477"/><use href="#c" x="1801.5" y="1477"/><use href="#c" x="1801.5" y="1549.5"/><use href="#c" x="1802" y="1462.5"/><use href="#c" x="1802" y="1494.5"/><use href="#c" x="1802" y="1517.5"/><use href="#c" x="1802.5" y="1494.5"/><use href="#c" x="1802.5" y="1549.5"/><use href="#c" x="1803" y="1494.5"/><use href="#c" x="1803" y="1477"/><use href="#c" x="1803" y="1450"/><use href="#c" x="1803.5" y="1549.5"/><use href="#c" x="1803.5" y="1439.5"/><use href="#c" x="1803.5" y="1494.5"/><use href="#c" x="1804" y="1462.5"/><use href="#c" x="1804" y="1549.5"/><use href="#c" x="1804.5" y="1450"/><use href="#c" x="1804.5" y="1517.5"/><use href="#c" x="1804.5" y="1462.5"/><use href="#c" x="1805" y="1494.5"/><use href="#c" x="1805" y="1439.5"/><use href="#c" x="1805" y="1430"/><use href="#c" x="1805.5" y="1549.5"/><use href="#c" x="1806" y="1462.5"/><use href="#c" x="1806" y="1494.5"/><use href="#c" x="1806" y="1549.5"/><use href="#c" x="1806.5" y="1462.5"/><use href="#c" x="1806.5" y="1549.5"/><use href="#c" x="1806.5" y="1450"/><use href="#c" x="1807" y="1477"/><use href="#c" x="1807" y="1549.5"/><use href="#c" x="1807.5" y="1421.5"/><use href="#c" x="1807.5" y="1494.5"/><use href="#c" x="1807.5" y="1439.5"/><use href="#c" x="1808" y="1517.5"/><use href="#c" x="1808" y="1494.5"/><use href="#c" x="1808.5" y="1477"/><use href="#c" x="1809" y="1494.5"/><use href="#c" x="1809" y="1477"/><use href="#c" x="1809" y="1549.5"/><use href="#c" x="1809.5" y="1477"/><use href="#c" x="1809.5" y="1462.5"/><use href="#c" x="1809.5" y="1549.5"/><use href="#c" x="1810" y="1549.5"/><use href="#c" x="1810" y="1517.5"/><use href="#c" x="1810.5" y="1439.5"/><use href="#c" x="1810.5" y="1517.5"/><use href="#c" x="1810.5" y="1549.5"/><use href="#c" x="1811" y="1517.5"/><use href="#c" x="1811" y="1477"/><use href="#c" x="1811.5" y="1494.5"/><use href="#c" x="1811.5" y="1517.5"/><use href="#c" x="1812" y="1517.5"/><use href="#c" x="1812" y="1477"/><use href="#c" x="1812.5" y="1517.5"/><use href="#c" x="1812.5" y="1549.5"/><use href="#c" x="1813" y="1477"/><use href="#c" x="1813" y="1517.5"/><use href="#c" x="1813.5" y="1477"/><use href="#c" x="1813.5" y="1517.5"/><use href="#c" x="1814" y="1450"/><use href="#c" x="1814" y="1462.5"/><use href="#c" x="1814.5" y="1494.5"/><use href="#c" x="1814.5" y="1477"/><use href="#c" x="1814.5" y="1549.5"/><use href="#c" x="1815" y="1494.5"/><use href="#c" x="1815" y="1462.5"/><use href="#c" x="1815" y="1549.5"/><use href="#c" x="1815.5" y="1450"/><use href="#c" x="1815.5" y="1462.5"/><use href="#c" x="1816" y="1450"/><use href="#c" x="1816" y="1517.5"/><use href="#c" x="1816.5" y="1517.5"/><use href="#c" x="1816.5" y="1494.5"/><use href="#c" x="1817" y="1462.5"/><use href="#c" x="1817" y="1450"/><use href="#c" x="1817.5" y="1494.5"/><use href="#c" x="1817.5" y="1430"/><use href="#c" x="1817.5" y="1462.5"/><use href="#c" x="1818" y="1494.5"/><use href="#c" x="1818" y="1439.5"/><use href="#c" x="1818.5" y="1517.5"/><use href="#c" x="1818.5" y="1494.5"/><use href="#c" x="1819" y="1549.5"/><use href="#c" x="1819" y="1477"/><use href="#c" x="1819.5" y="1517.5"/><use href="#c" x="1819.5" y="1462.5"/><use href="#c" x="1820" y="1477"/><use href="#c" x="1820" y="1517.5"/><use href="#c" x="1820" y="1494.5"/><use href="#c" x="1820.5" y="1549.5"/><use href="#c" x="1820.5" y="1517.5"/><use href="#c" x="1820.5" y="1477"/><use href="#c" x="1821" y="1477"/><use href="#c" x="1821" y="1549.5"/><use href="#c" x="1821.5" y="1494.5"/><use href="#c" x="1821.5" y="1477"/><use href="#c" x="1821.5" y="1517.5"/><use href="#c" x="1822" y="1494.5"/><use href="#c" x="1822" y="1517.5"/><use href="#c" x="1822.5" y="1549.5"/><use href="#c" x="1822.5" y="1494.5"/><use href="#c" x="1822.5" y="1517.5"/><use href="#c" x="1823" y="1450"/><use href="#c" x="1823" y="1477"/><use href="#c" x="1823" y="1517.5"/><use href="#c" x="1823.5" y="1517.5"/><use href="#c" x="1823.5" y="1450"/><use href="#c" x="1824" y="1439.5"/><use href="#c" x="1824" y="1494.5"/><use href="#c" x="1824.5" y="1462.5"/><use href="#c" x="1824.5" y="1549.5"/><use href="#c" x="1825" y="1517.5"/><use href="#c" x="1825" y="1439.5"/><use href="#c" x="1825" y="1477"/><use href="#c" x="1825.5" y="1517.5"/><use href="#c" x="1825.5" y="1421.5"/><use href="#c" x="1825.5" y="1494.5"/><use href="#c" x="1826" y="1450"/><use href="#c" x="1826" y="1477"/><use href="#c" x="1826" y="1517.5"/><use href="#c" x="1826.5" y="1494.5"/><use href="#c" x="1827" y="1450"/><use href="#c" x="1827" y="1439.5"/><use href="#c" x="1827" y="1462.5"/><use href="#c" x="1827.5" y="1494.5"/><use href="#c" x="1828" y="1494.5"/><use href="#c" x="1828" y="1477"/><use href="#c" x="1828.5" y="1549.5"/><use href="#c" x="1828.5" y="1494.5"/><use href="#c" x="1828.5" y="1477"/><use href="#c" x="1829" y="1462.5"/><use href="#c" x="1829" y="1430"/><use href="#c" x="1829" y="1517.5"/><use href="#c" x="1829.5" y="1477"/><use href="#c" x="1829.5" y="1494.5"/><use href="#c" x="1830" y="1517.5"/><use href="#c" x="1830" y="1549.5"/><use href="#c" x="1830.5" y="1462.5"/><use href="#c" x="1830.5" y="1494.5"/><use href="#c" x="1831" y="1477"/><use href="#c" x="1831" y="1450"/><use href="#c" x="1831.5" y="1462.5"/><use href="#c" x="1831.5" y="1477"/><use href="#c" x="1832" y="1477"/><use href="#c" x="1832" y="1462.5"/><use href="#c" x="1832" y="1517.5"/><use href="#c" x="1832.5" y="1549.5"/><use href="#c" x="1832.5" y="1462.5"/><use href="#c" x="1832.5" y="1450"/><use href="#c" x="1833" y="1549.5"/><use href="#c" x="1833" y="1477"/><use href="#c" x="1833.5" y="1517.5"/><use href="#c" x="1833.5" y="1494.5"/><use href="#c" x="1834" y="1477"/><use href="#c" x="1834" y="1549.5"/><use href="#c" x="1834.5" y="1430"/><use href="#c" x="1834.5" y="1494.5"/><use href="#c" x="1835" y="1477"/><use href="#c" x="1835" y="1517.5"/><use href="#c" x="1835.5" y="1517.5"/><use href="#c" x="1835.5" y="1462.5"/><use href="#c" x="1835.5" y="1494.5"/><use href="#c" x="1836" y="1517.5"/><use href="#c" x="1836" y="1549.5"/><use href="#c" x="1836" y="1421.5"/><use href="#c" x="1836.5" y="1462.5"/><use href="#c" x="1836.5" y="1549.5"/><use href="#c" x="1837" y="1517.5"/><use href="#c" x="1837" y="1549.5"/><use href="#c" x="1837.5" y="1494.5"/><use href="#c" x="1837.5" y="1462.5"/><use href="#c" x="1837.5" y="1549.5"/><use href="#c" x="1838" y="1517.5"/><use href="#c" x="1838" y="1462.5"/><use href="#c" x="1838.5" y="1462.5"/><use href="#c" x="1838.5" y="1477"/><use href="#c" x="1838.5" y="1549.5"/><use href="#c" x="1839" y="1477"/><use href="#c" x="1839" y="1494.5"/><use href="#c" x="1839.5" y="1462.5"/><use href="#c" x="1839.5" y="1450"/><use href="#c" x="1839.5" y="1494.5"/><use href="#c" x="1840" y="1549.5"/><use href="#c" x="1840" y="1494.5"/><use href="#c" x="1840.5" y="1462.5"/><use href="#c" x="1840.5" y="1477"/><use href="#c" x="1840.5" y="1517.5"/><use href="#c" x="1841" y="1477"/><use href="#c" x="1841" y="1494.5"/><use href="#c" x="1841.5" y="1462.5"/><use href="#c" x="1841.5" y="1549.5"/><use href="#c" x="1841.5" y="1430"/><use href="#c" x="1842" y="1462.5"/><use href="#c" x="1842" y="1549.5"/><use href="#c" x="1842.5" y="1450"/><use href="#c" x="1842.5" y="1439.5"/><use href="#c" x="1843" y="1450"/><use href="#c" x="1843" y="1477"/><use href="#c" x="1843.5" y="1462.5"/><use href="#c" x="1843.5" y="1450"/><use href="#c" x="1843.5" y="1421.5"/><use href="#c" x="1844" y="1517.5"/><use href="#c" x="1844" y="1477"/><use href="#c" x="1844.5" y="1462.5"/><use href="#c" x="1844.5" y="1477"/><use href="#c" x="1845" y="1450"/><use href="#c" x="1845" y="1517.5"/><use href="#c" x="1845" y="1494.5"/><use href="#c" x="1845.5" y="1494.5"/><use href="#c" x="1845.5" y="1450"/><use href="#c" x="1845.5" y="1517.5"/><use href="#c" x="1846" y="1517.5"/><use href="#c" x="1846" y="1549.5"/><use href="#c" x="1846.5" y="1450"/><use href="#c" x="1846.5" y="1494.5"/><use href="#c" x="1846.5" y="1549.5"/><use href="#c" x="1847" y="1549.5"/><use href="#c" x="1847" y="1450"/><use href="#c" x="1847.5" y="1477"/><use href="#c" x="1847.5" y="1450"/><use href="#c" x="1847.5" y="1517.5"/><use href="#c" x="1848" y="1549.5"/><use href="#c" x="1848" y="1450"/><use href="#c" x="1848.5" y="1462.5"/><use href="#c" x="1848.5" y="1450"/><use href="#c" x="1849" y="1439.5"/><use href="#c" x="1849" y="1517.5"/><use href="#c" x="1849" y="1462.5"/><use href="#c" x="1849.5" y="1450"/><use href="#c" x="1849.5" y="1494.5"/><use href="#c" x="1849.5" y="1477"/><use href="#c" x="1850" y="1549.5"/><use href="#c" x="1850" y="1477"/><use href="#c" x="1850" y="1517.5"/><use href="#c" x="1850.5" y="1462.5"/><use href="#c" x="1850.5" y="1517.5"/><use href="#c" x="1851" y="1462.5"/><use href="#c" x="1851.5" y="1477"/><use href="#c" x="1851.5" y="1549.5"/><use href="#c" x="1851.5" y="1517.5"/><use href="#c" x="1852" y="1494.5"/><use href="#c" x="1852" y="1517.5"/><use href="#c" x="1852.5" y="1517.5"/><use href="#c" x="1852.5" y="1421.5"/><use href="#c" x="1852.5" y="1494.5"/><use href="#c" x="1853" y="1517.5"/><use href="#c" x="1853" y="1494.5"/><use href="#c" x="1853.5" y="1549.5"/><use href="#c" x="1853.5" y="1517.5"/><use href="#c" x="1854" y="1462.5"/><use href="#c" x="1854" y="1549.5"/><use href="#c" x="1854.5" y="1494.5"/><use href="#c" x="1854.5" y="1549.5"/><use href="#c" x="1854.5" y="1450"/><use href="#c" x="1855" y="1517.5"/><use href="#c" x="1855" y="1477"/><use href="#c" x="1855" y="1462.5"/><use href="#c" x="1855.5" y="1517.5"/><use href="#c" x="1855.5" y="1494.5"/><use href="#c" x="1855.5" y="1477"/><use href="#c" x="1856" y="1494.5"/><use href="#c" x="1856" y="1517.5"/><use href="#c" x="1856.5" y="1421.5"/><use href="#c" x="1856.5" y="1477"/><use href="#c" x="1857" y="1462.5"/><use href="#c" x="1857" y="1439.5"/><use href="#c" x="1857" y="1450"/><use href="#c" x="1857.5" y="1494.5"/><use href="#c" x="1857.5" y="1517.5"/><use href="#c" x="1858" y="1494.5"/><use href="#c" x="1858" y="1549.5"/><use href="#c" x="1858" y="1517.5"/><use href="#c" x="1858.5" y="1462.5"/><use href="#c" x="1858.5" y="1494.5"/><use href="#c" x="1859" y="1517.5"/><use href="#c" x="1859" y="1494.5"/><use href="#c" x="1859" y="1477"/><use href="#c" x="1859.5" y="1477"/><use href="#c" x="1859.5" y="1549.5"/><use href="#c" x="1859.5" y="1494.5"/><use href="#c" x="1860" y="1477"/><use href="#c" x="1860" y="1517.5"/><use href="#c" x="1860.5" y="1517.5"/><use href="#c" x="1860.5" y="1462.5"/><use href="#c" x="1861" y="1549.5"/><use href="#c" x="1861" y="1494.5"/><use href="#c" x="1861" y="1477"/><use href="#c" x="1861.5" y="1549.5"/><use href="#c" x="1861.5" y="1517.5"/><use href="#c" x="1861.5" y="1414"/><use href="#c" x="1862" y="1494.5"/><use href="#c" x="1862.5" y="1494.5"/><use href="#c" x="1862.5" y="1450"/><use href="#c" x="1862.5" y="1549.5"/><use href="#c" x="1863" y="1549.5"/><use href="#c" x="1863" y="1517.5"/><use href="#c" x="1863.5" y="1517.5"/><use href="#c" x="1863.5" y="1439.5"/><use href="#c" x="1863.5" y="1430"/><use href="#c" x="1864" y="1494.5"/><use href="#c" x="1864" y="1517.5"/><use href="#c" x="1864.5" y="1549.5"/><use href="#c" x="1864.5" y="1517.5"/><use href="#c" x="1864.5" y="1494.5"/><use href="#c" x="1865" y="1439.5"/><use href="#c" x="1865" y="1477"/><use href="#c" x="1865" y="1494.5"/><use href="#c" x="1865" y="1462.5"/><use href="#c" x="1865.5" y="1477"/><use href="#c" x="1865.5" y="1462.5"/><use href="#c" x="1866" y="1439.5"/><use href="#c" x="1866" y="1462.5"/><use href="#c" x="1866.5" y="1517.5"/><use href="#c" x="1866.5" y="1494.5"/><use href="#c" x="1866.5" y="1477"/><use href="#c" x="1866.5" y="1549.5"/><use href="#c" x="1867" y="1517.5"/><use href="#c" x="1867.5" y="1477"/><use href="#c" x="1867.5" y="1439.5"/><use href="#c" x="1867.5" y="1549.5"/><use href="#c" x="1868" y="1477"/><use href="#c" x="1868" y="1517.5"/><use href="#c" x="1868.5" y="1517.5"/><use href="#c" x="1868.5" y="1430"/><use href="#c" x="1868.5" y="1549.5"/><use href="#c" x="1869" y="1494.5"/><use href="#c" x="1869" y="1549.5"/><use href="#c" x="1869" y="1517.5"/><use href="#c" x="1869.5" y="1517.5"/><use href="#c" x="1869.5" y="1494.5"/><use href="#c" x="1870" y="1462.5"/><use href="#c" x="1870" y="1549.5"/><use href="#c" x="1870" y="1494.5"/><use href="#c" x="1870.5" y="1462.5"/><use href="#c" x="1870.5" y="1517.5"/><use href="#c" x="1871" y="1494.5"/><use href="#c" x="1871" y="1450"/><use href="#c" x="1871" y="1549.5"/><use href="#c" x="1871.5" y="1439.5"/><use href="#c" x="1871.5" y="1494.5"/><use href="#c" x="1871.5" y="1477"/><use href="#c" x="1872" y="1517.5"/><use href="#c" x="1872.5" y="1517.5"/><use href="#c" x="1872.5" y="1494.5"/><use href="#c" x="1873" y="1494.5"/><use href="#c" x="1873" y="1430"/><use href="#c" x="1873" y="1517.5"/><use href="#c" x="1873" y="1477"/><use href="#c" x="1873.5" y="1517.5"/><use href="#c" x="1873.5" y="1494.5"/><use href="#c" x="1874" y="1549.5"/><use href="#c" x="1874" y="1494.5"/><use href="#c" x="1874.5" y="1462.5"/><use href="#c" x="1874.5" y="1450"/><use href="#c" x="1874.5" y="1494.5"/><use href="#c" x="1875" y="1430"/><use href="#c" x="1875" y="1450"/><use href="#c" x="1875" y="1549.5"/><use href="#c" x="1875.5" y="1517.5"/><use href="#c" x="1875.5" y="1450"/><use href="#c" x="1875.5" y="1462.5"/><use href="#c" x="1876" y="1430"/><use href="#c" x="1876" y="1517.5"/><use href="#c" x="1876" y="1549.5"/><use href="#c" x="1876.5" y="1494.5"/><use href="#c" x="1876.5" y="1517.5"/><use href="#c" x="1877" y="1430"/><use href="#c" x="1877" y="1477"/><use href="#c" x="1877" y="1549.5"/><use href="#c" x="1877.5" y="1450"/><use href="#c" x="1877.5" y="1517.5"/><use href="#c" x="1878" y="1517.5"/><use href="#c" x="1878" y="1494.5"/><use href="#c" x="1878" y="1450"/><use href="#c" x="1878" y="1462.5"/><use href="#c" x="1878.5" y="1477"/><use href="#c" x="1878.5" y="1517.5"/><use href="#c" x="1879" y="1462.5"/><use href="#c" x="1879" y="1517.5"/><use href="#c" x="1879.5" y="1462.5"/><use href="#c" x="1879.5" y="1477"/><use href="#c" x="1879.5" y="1494.5"/><use href="#c" x="1880" y="1477"/><use href="#c" x="1880" y="1494.5"/><use href="#c" x="1880.5" y="1477"/><use href="#c" x="1880.5" y="1549.5"/><use href="#c" x="1880.5" y="1494.5"/><use href="#c" x="1881" y="1549.5"/><use href="#c" x="1881" y="1462.5"/><use href="#c" x="1881" y="1494.5"/><use href="#c" x="1881.5" y="1439.5"/><use href="#c" x="1881.5" y="1517.5"/><use href="#c" x="1881.5" y="1477"/><use href="#c" x="1881.5" y="1494.5"/><use href="#c" x="1882" y="1494.5"/><use href="#c" x="1882" y="1517.5"/><use href="#c" x="1882" y="1549.5"/><use href="#c" x="1882.5" y="1549.5"/><use href="#c" x="1882.5" y="1439.5"/><use href="#c" x="1882.5" y="1517.5"/><use href="#c" x="1883" y="1517.5"/><use href="#c" x="1883" y="1549.5"/><use href="#c" x="1883" y="1477"/><use href="#c" x="1883.5" y="1450"/><use href="#c" x="1883.5" y="1517.5"/><use href="#c" x="1884" y="1549.5"/><use href="#c" x="1884" y="1494.5"/><use href="#c" x="1884.5" y="1517.5"/><use href="#c" x="1884.5" y="1494.5"/><use href="#c" x="1885" y="1462.5"/><use href="#c" x="1885" y="1477"/><use href="#c" x="1885.5" y="1439.5"/><use href="#c" x="1885.5" y="1549.5"/><use href="#c" x="1886" y="1549.5"/><use href="#c" x="1886" y="1462.5"/><use href="#c" x="1886" y="1450"/><use href="#c" x="1886.5" y="1517.5"/><use href="#c" x="1886.5" y="1462.5"/><use href="#c" x="1886.5" y="1549.5"/><use href="#c" x="1887" y="1494.5"/><use href="#c" x="1887" y="1517.5"/><use href="#c" x="1887.5" y="1477"/><use href="#c" x="1887.5" y="1517.5"/><use href="#c" x="1888" y="1462.5"/><use href="#c" x="1888.5" y="1517.5"/><use href="#c" x="1888.5" y="1549.5"/><use href="#c" x="1888.5" y="1462.5"/><use href="#c" x="1889" y="1477"/><use href="#c" x="1889" y="1517.5"/><use href="#c" x="1889.5" y="1477"/><use href="#c" x="1889.5" y="1549.5"/><use href="#c" x="1890" y="1494.5"/><use href="#c" x="1890" y="1549.5"/><use href="#c" x="1890" y="1517.5"/><use href="#c" x="1890" y="1477"/><use href="#c" x="1890.5" y="1462.5"/><use href="#c" x="1890.5" y="1439.5"/><use href="#c" x="1890.5" y="1549.5"/><use href="#c" x="1891" y="1517.5"/><use href="#c" x="1891" y="1462.5"/><use href="#c" x="1891.5" y="1549.5"/><use href="#c" x="1891.5" y="1450"/><use href="#c" x="1891.5" y="1477"/><use href="#c" x="1891.5" y="1517.5"/><use href="#c" x="1892" y="1494.5"/><use href="#c" x="1892" y="1462.5"/><use href="#c" x="1892.5" y="1477"/><use href="#c" x="1892.5" y="1517.5"/><use href="#c" x="1893" y="1517.5"/><use href="#c" x="1893" y="1549.5"/><use href="#c" x="1893.5" y="1517.5"/><use href="#c" x="1893.5" y="1494.5"/><use href="#c" x="1893.5" y="1450"/><use href="#c" x="1894" y="1549.5"/><use href="#c" x="1894" y="1494.5"/><use href="#c" x="1894" y="1517.5"/><use href="#c" x="1894.5" y="1462.5"/><use href="#c" x="1894.5" y="1549.5"/><use href="#c" x="1894.5" y="1494.5"/><use href="#c" x="1895" y="1477"/><use href="#c" x="1895" y="1494.5"/><use href="#c" x="1895.5" y="1477"/><use href="#c" x="1895.5" y="1549.5"/><use href="#c" x="1896" y="1494.5"/><use href="#c" x="1896" y="1517.5"/><use href="#c" x="1896" y="1462.5"/><use href="#c" x="1896.5" y="1477"/><use href="#c" x="1896.5" y="1494.5"/><use href="#c" x="1897" y="1450"/><use href="#c" x="1897" y="1517.5"/><use href="#c" x="1897" y="1494.5"/><use href="#c" x="1897.5" y="1477"/><use href="#c" x="1897.5" y="1517.5"/><use href="#c" x="1898" y="1494.5"/><use href="#c" x="1898" y="1517.5"/><use href="#c" x="1898.5" y="1549.5"/><use href="#c" x="1898.5" y="1517.5"/><use href="#c" x="1898.5" y="1477"/><use href="#c" x="1899" y="1439.5"/><use href="#c" x="1899" y="1549.5"/><use href="#c" x="1899" y="1477"/><use href="#c" x="1899.5" y="1549.5"/><use href="#c" x="1899.5" y="1517.5"/><use href="#c" x="1900" y="1517.5"/><use href="#c" x="1900" y="1477"/><use href="#c" x="1900.5" y="1549.5"/><use href="#c" x="1900.5" y="1494.5"/><use href="#c" x="1900.5" y="1462.5"/><use href="#c" x="1901" y="1462.5"/><use href="#c" x="1901" y="1549.5"/><use href="#c" x="1901.5" y="1517.5"/><use href="#c" x="1902" y="1477"/><use href="#c" x="1902" y="1549.5"/><use href="#c" x="1902.5" y="1462.5"/><use href="#c" x="1902.5" y="1450"/><use href="#c" x="1902.5" y="1477"/><use href="#c" x="1902.5" y="1494.5"/><use href="#c" x="1903" y="1517.5"/><use href="#c" x="1903" y="1494.5"/><use href="#c" x="1903.5" y="1477"/><use href="#c" x="1903.5" y="1462.5"/><use href="#c" x="1903.5" y="1549.5"/><use href="#c" x="1904" y="1477"/><use href="#c" x="1904" y="1549.5"/><use href="#c" x="1904" y="1450"/><use href="#c" x="1904.5" y="1494.5"/><use href="#c" x="1905" y="1549.5"/><use href="#c" x="1905" y="1439.5"/><use href="#c" x="1905.5" y="1494.5"/><use href="#c" x="1905.5" y="1462.5"/><use href="#c" x="1905.5" y="1477"/><use href="#c" x="1905.5" y="1549.5"/><use href="#c" x="1906" y="1494.5"/><use href="#c" x="1906" y="1477"/><use href="#c" x="1906.5" y="1477"/><use href="#c" x="1906.5" y="1494.5"/><use href="#c" x="1907" y="1549.5"/><use href="#c" x="1907" y="1494.5"/><use href="#c" x="1907" y="1517.5"/><use href="#c" x="1907.5" y="1549.5"/><use href="#c" x="1907.5" y="1494.5"/><use href="#c" x="1908" y="1517.5"/><use href="#c" x="1908.5" y="1517.5"/><use href="#c" x="1908.5" y="1549.5"/><use href="#c" x="1909" y="1549.5"/><use href="#c" x="1909.5" y="1494.5"/><use href="#c" x="1909.5" y="1462.5"/><use href="#c" x="1910" y="1450"/><use href="#c" x="1910" y="1517.5"/><use href="#c" x="1910" y="1494.5"/><use href="#c" x="1910.5" y="1494.5"/><use href="#c" x="1910.5" y="1477"/><use href="#c" x="1911" y="1494.5"/><use href="#c" x="1911" y="1462.5"/><use href="#c" x="1911.5" y="1462.5"/><use href="#c" x="1911.5" y="1517.5"/><use href="#c" x="1911.5" y="1549.5"/><use href="#c" x="1912" y="1439.5"/><use href="#c" x="1912" y="1494.5"/><use href="#c" x="1912" y="1549.5"/><use href="#c" x="1912.5" y="1549.5"/><use href="#c" x="1912.5" y="1517.5"/><use href="#c" x="1913" y="1477"/><use href="#c" x="1913" y="1462.5"/><use href="#c" x="1913" y="1517.5"/><use href="#c" x="1913" y="1494.5"/><use href="#c" x="1913.5" y="1477"/><use href="#c" x="1913.5" y="1549.5"/><use href="#c" x="1913.5" y="1462.5"/><use href="#c" x="1914" y="1517.5"/><use href="#c" x="1914" y="1439.5"/><use href="#c" x="1914.5" y="1477"/><use href="#c" x="1914.5" y="1494.5"/><use href="#c" x="1914.5" y="1517.5"/><use href="#c" x="1915" y="1494.5"/><use href="#c" x="1915" y="1477"/><use href="#c" x="1915" y="1462.5"/><use href="#c" x="1915" y="1549.5"/><use href="#c" x="1915.5" y="1450"/><use href="#c" x="1915.5" y="1517.5"/><use href="#c" x="1916" y="1494.5"/><use href="#c" x="1916" y="1477"/><use href="#c" x="1916" y="1517.5"/><use href="#c" x="1916.5" y="1549.5"/><use href="#c" x="1916.5" y="1462.5"/><use href="#c" x="1916.5" y="1517.5"/><use href="#c" x="1917" y="1477"/><use href="#c" x="1917" y="1549.5"/><use href="#c" x="1917.5" y="1517.5"/><use href="#c" x="1917.5" y="1549.5"/><use href="#c" x="1918" y="1494.5"/><use href="#c" x="1918" y="1477"/><use href="#c" x="1918" y="1549.5"/><use href="#c" x="1918.5" y="1494.5"/><use href="#c" x="1919" y="1462.5"/><use href="#c" x="1919" y="1549.5"/><use href="#c" x="1919" y="1477"/><use href="#c" x="1919" y="1517.5"/><use href="#c" x="1919.5" y="1477"/><use href="#c" x="1919.5" y="1517.5"/><use href="#c" x="1919.5" y="1494.5"/><use href="#c" x="1920" y="1517.5"/><use href="#c" x="1920" y="1462.5"/><use href="#c" x="1920.5" y="1462.5"/><use href="#c" x="1920.5" y="1477"/><use href="#c" x="1920.5" y="1494.5"/><use href="#c" x="1921" y="1494.5"/><use href="#c" x="1921" y="1517.5"/><use href="#c" x="1921.5" y="1549.5"/><use href="#c" x="1922" y="1517.5"/><use href="#c" x="1922" y="1439.5"/><use href="#c" x="1922" y="1494.5"/><use href="#c" x="1922.5" y="1462.5"/><use href="#c" x="1922.5" y="1477"/><use href="#c" x="1922.5" y="1549.5"/><use href="#c" x="1923" y="1549.5"/><use href="#c" x="1923" y="1517.5"/><use href="#c" x="1923.5" y="1462.5"/><use href="#c" x="1923.5" y="1517.5"/><use href="#c" x="1923.5" y="1494.5"/><use href="#c" x="1924" y="1517.5"/><use href="#c" x="1924" y="1494.5"/><use href="#c" x="1924" y="1549.5"/><use href="#c" x="1924" y="1477"/><use href="#c" x="1924.5" y="1549.5"/><use href="#c" x="1924.5" y="1517.5"/><use href="#c" x="1925" y="1430"/><use href="#c" x="1925" y="1517.5"/><use href="#c" x="1925" y="1494.5"/><use href="#c" x="1925" y="1477"/><use href="#c" x="1925.5" y="1462.5"/><use href="#c" x="1925.5" y="1494.5"/><use href="#c" x="1925.5" y="1517.5"/><use href="#c" x="1926" y="1439.5"/><use href="#c" x="1926" y="1517.5"/><use href="#c" x="1926.5" y="1494.5"/><use href="#c" x="1926.5" y="1517.5"/><use href="#c" x="1926.5" y="1477"/><use href="#c" x="1927" y="1494.5"/><use href="#c" x="1927" y="1517.5"/><use href="#c" x="1927.5" y="1462.5"/><use href="#c" x="1927.5" y="1477"/><use href="#c" x="1927.5" y="1517.5"/><use href="#c" x="1927.5" y="1549.5"/><use href="#c" x="1928" y="1494.5"/><use href="#c" x="1928" y="1517.5"/><use href="#c" x="1928.5" y="1494.5"/><use href="#c" x="1928.5" y="1439.5"/><use href="#c" x="1928.5" y="1477"/><use href="#c" x="1929" y="1450"/><use href="#c" x="1929" y="1549.5"/><use href="#c" x="1929" y="1517.5"/><use href="#c" x="1929" y="1462.5"/><use href="#c" x="1929.5" y="1549.5"/><use href="#c" x="1929.5" y="1477"/><use href="#c" x="1930" y="1462.5"/><use href="#c" x="1930" y="1477"/><use href="#c" x="1930" y="1549.5"/><use href="#c" x="1930.5" y="1462.5"/><use href="#c" x="1930.5" y="1477"/><use href="#c" x="1931" y="1477"/><use href="#c" x="1931" y="1494.5"/><use href="#c" x="1931" y="1517.5"/><use href="#c" x="1931.5" y="1430"/><use href="#c" x="1931.5" y="1477"/><use href="#c" x="1931.5" y="1549.5"/><use href="#c" x="1931.5" y="1462.5"/><use href="#c" x="1932" y="1462.5"/><use href="#c" x="1932" y="1494.5"/><use href="#c" x="1932" y="1477"/><use href="#c" x="1932.5" y="1450"/><use href="#c" x="1932.5" y="1517.5"/><use href="#c" x="1933" y="1517.5"/><use href="#c" x="1933" y="1494.5"/><use href="#c" x="1933" y="1549.5"/><use href="#c" x="1933.5" y="1517.5"/><use href="#c" x="1933.5" y="1439.5"/><use href="#c" x="1933.5" y="1477"/><use href="#c" x="1933.5" y="1450"/><use href="#c" x="1934" y="1549.5"/><use href="#c" x="1934" y="1517.5"/><use href="#c" x="1934.5" y="1450"/><use href="#c" x="1934.5" y="1494.5"/><use href="#c" x="1934.5" y="1549.5"/><use href="#c" x="1935" y="1494.5"/><use href="#c" x="1935" y="1517.5"/><use href="#c" x="1935.5" y="1494.5"/><use href="#c" x="1935.5" y="1477"/><use href="#c" x="1935.5" y="1462.5"/><use href="#c" x="1935.5" y="1517.5"/><use href="#c" x="1936" y="1494.5"/><use href="#c" x="1936.5" y="1517.5"/><use href="#c" x="1936.5" y="1549.5"/><use href="#c" x="1936.5" y="1462.5"/><use href="#c" x="1936.5" y="1494.5"/><use href="#c" x="1937" y="1462.5"/><use href="#c" x="1937" y="1517.5"/><use href="#c" x="1937" y="1494.5"/><use href="#c" x="1937.5" y="1517.5"/><use href="#c" x="1937.5" y="1494.5"/><use href="#c" x="1937.5" y="1477"/><use href="#c" x="1938" y="1462.5"/><use href="#c" x="1938" y="1450"/><use href="#c" x="1938" y="1517.5"/></g>
<g class="b"><use href="#t" x="473" y="1270.5"/><use href="#t" x="488.5" y="1057"/><use href="#t" x="503" y="932"/><use href="#t" x="517" y="884"/><use href="#t" x="530.5" y="874"/><use href="#t" x="543" y="870.5"/><use href="#t" x="555.5" y="872"/><use href="#t" x="567" y="884.5"/><use href="#t" x="578.5" y="897.5"/><use href="#t" x="589.5" y="912.5"/><use href="#t" x="600" y="926"/><use href="#t" x="610" y="945"/><use href="#t" x="620" y="965.5"/><use href="#t" x="629.5" y="998"/><use href="#t" x="638.5" y="1015.5"/><use href="#t" x="647.5" y="1046"/><use href="#t" x="656.5" y="1067.5"/><use href="#t" x="665" y="1081"/><use href="#t" x="673" y="1108"/><use href="#t" x="681" y="1118"/><use href="#t" x="689" y="1134"/><use href="#t" x="696.5" y="1154"/><use href="#t" x="704" y="1160.5"/><use href="#t" x="711" y="1168"/><use href="#t" x="718" y="1182"/><use href="#t" x="725" y="1188.5"/><use href="#t" x="732" y="1203.5"/><use href="#t" x="738.5" y="1206"/><use href="#t" x="745" y="1233.5"/><use href="#t" x="751" y="1239.5"/><use href="#t" x="757.5" y="1239.5"/><use href="#t" x="763.5" y="1236.5"/><use href="#t" x="769.5" y="1251"/><use href="#t" x="775" y="1257.5"/><use href="#t" x="781" y="1257.5"/><use href="#t" x="786.5" y="1253.5"/><use href="#t" x="792" y="1269"/><use href="#t" x="797.5" y="1266"/><use href="#t" x="803" y="1270.5"/><use href="#t" x="808" y="1281"/><use href="#t" x="813" y="1274"/><use href="#t" x="818" y="1257.5"/><use href="#t" x="823" y="1282.5"/><use href="#t" x="828" y="1301.5"/><use href="#t" x="833" y="1290.5"/><use href="#t" x="837.5" y="1288.5"/><use href="#t" x="842" y="1308.5"/><use href="#t" x="847" y="1284.5"/><use href="#t" x="851.5" y="1294.5"/><use href="#t" x="856" y="1292.5"/><use href="#t" x="860" y="1311"/><use href="#t" x="864.5" y="1296.5"/><use href="#t" x="869" y="1319.5"/><use href="#t" x="873" y="1296.5"/><use href="#t" x="877" y="1299"/><use href="#t" x="881" y="1299"/><use href="#t" x="885" y="1325.5"/><use href="#t" x="889" y="1290.5"/><use href="#t" x="893" y="1311"/><use href="#t" x="897" y="1352"/><use href="#t" x="901" y="1301.5"/><use href="#t" x="904.5" y="1306"/><use href="#t" x="908.5" y="1325.5"/><use href="#t" x="912" y="1288.5"/><use href="#t" x="915.5" y="1343.5"/><use href="#t" x="919" y="1332.5"/><use href="#t" x="923" y="1361"/><use href="#t" x="926.5" y="1343.5"/><use href="#t" x="930" y="1339.5"/><use href="#t" x="933" y="1329"/><use href="#t" x="936.5" y="1372"/><use href="#t" x="940" y="1316.5"/><use href="#t" x="943.5" y="1343.5"/><use href="#t" x="946.5" y="1336"/><use href="#t" x="950" y="1322.5"/><use href="#t" x="953" y="1325.5"/><use href="#t" x="956" y="1336"/><use href="#t" x="959.5" y="1296.5"/><use href="#t" x="962.5" y="1356.5"/><use href="#t" x="965.5" y="1322.5"/><use href="#t" x="968.5" y="1322.5"/><use href="#t" x="971.5" y="1343.5"/><use href="#t" x="974.5" y="1339.5"/><use href="#t" x="977.5" y="1356.5"/><use href="#t" x="980.5" y="1329"/><use href="#t" x="983.5" y="1332.5"/><use href="#t" x="986" y="1356.5"/><use href="#t" x="989" y="1352"/><use href="#t" x="992" y="1308.5"/><use href="#t" x="994.5" y="1347.5"/><use href="#t" x="997.5" y="1347.5"/><use href="#t" x="1000" y="1336"/><use href="#t" x="1003" y="1398.5"/><use href="#t" x="1005.5" y="1352"/><use href="#t" x="1008.5" y="1356.5"/><use href="#t" x="1011" y="1372"/><use href="#t" x="1013.5" y="1366.5"/><use href="#t" x="1016" y="1339.5"/><use href="#t" x="1018.5" y="1372"/><use href="#t" x="1021.5" y="1372"/><use href="#t" x="1024" y="1352"/><use href="#t" x="1026.5" y="1352"/><use href="#t" x="1029" y="1356.5"/><use href="#t" x="1031.5" y="1361"/><use href="#t" x="1034" y="1352"/><use href="#t" x="1036" y="1336"/><use href="#t" x="1038.5" y="1319.5"/><use href="#t" x="1041" y="1361"/><use href="#t" x="1043.5" y="1361"/><use href="#t" x="1045.5" y="1366.5"/><use href="#t" x="1048" y="1339.5"/><use href="#t" x="1050.5" y="1347.5"/><use href="#t" x="1052.5" y="1356.5"/><use href="#t" x="1055" y="1347.5"/><use href="#t" x="1057" y="1366.5"/><use href="#t" x="1059.5" y="1356.5"/><use href="#t" x="1061.5" y="1356.5"/><use href="#t" x="1064" y="1361"/><use href="#t" x="1066" y="1366.5"/><use href="#t" x="1068.5" y="1356.5"/><use href="#t" x="1070.5" y="1377.5"/><use href="#t" x="1072.5" y="1356.5"/><use href="#t" x="1075" y="1398.5"/><use href="#t" x="1077" y="1366.5"/><use href="#t" x="1079" y="1361"/><use href="#t" x="1081" y="1377.5"/><use href="#t" x="1083" y="1366.5"/><use href="#t" x="1085" y="1407"/><use href="#t" x="1087.5" y="1372"/><use href="#t" x="1089.5" y="1384"/><use href="#t" x="1091.5" y="1427"/><use href="#t" x="1093.5" y="1372"/><use href="#t" x="1095.5" y="1384"/><use href="#t" x="1097.5" y="1391"/><use href="#t" x="1099.5" y="1439"/><use href="#t" x="1101" y="1407"/><use href="#t" x="1103" y="1366.5"/><use href="#t" x="1105" y="1416.5"/><use href="#t" x="1107" y="1356.5"/><use href="#t" x="1109" y="1427"/><use href="#t" x="1111" y="1384"/><use href="#t" x="1112.5" y="1439"/><use href="#t" x="1114.5" y="1416.5"/><use href="#t" x="1116.5" y="1416.5"/><use href="#t" x="1118.5" y="1398.5"/><use href="#t" x="1120" y="1416.5"/><use href="#t" x="1122" y="1398.5"/><use href="#t" x="1124" y="1398.5"/><use href="#t" x="1125.5" y="1366.5"/><use href="#t" x="1127.5" y="1427"/><use href="#t" x="1129" y="1427"/><use href="#t" x="1131" y="1377.5"/><use href="#t" x="1132.5" y="1407"/><use href="#t" x="1134.5" y="1407"/><use href="#t" x="1136" y="1398.5"/><use href="#t" x="1138" y="1398.5"/><use href="#t" x="1139.5" y="1384"/><use href="#t" x="1141.5" y="1439"/><use href="#t" x="1143" y="1416.5"/><use href="#t" x="1144.5" y="1416.5"/><use href="#t" x="1146.5" y="1427"/><use href="#t" x="1148" y="1416.5"/><use href="#t" x="1150" y="1427"/><use href="#t" x="1151.5" y="1439"/><use href="#t" x="1153" y="1439"/><use href="#t" x="1154.5" y="1453.5"/><use href="#t" x="1156.5" y="1453.5"/><use href="#t" x="1158" y="1439"/><use href="#t" x="1159.5" y="1416.5"/><use href="#t" x="1161" y="1398.5"/><use href="#t" x="1162.5" y="1398.5"/><use href="#t" x="1164.5" y="1384"/><use href="#t" x="1166" y="1453.5"/><use href="#t" x="1167.5" y="1439"/><use href="#t" x="1169" y="1398.5"/><use href="#t" x="1170.5" y="1416.5"/><use href="#t" x="1172" y="1398.5"/><use href="#t" x="1173.5" y="1494"/><use href="#t" x="1175" y="1427"/><use href="#t" x="1176.5" y="1471.5"/><use href="#t" x="1178" y="1439"/><use href="#t" x="1179.5" y="1427"/><use href="#t" x="1181" y="1407"/><use href="#t" x="1182.5" y="1427"/><use href="#t" x="1184" y="1427"/><use href="#t" x="1185.5" y="1407"/><use href="#t" x="1187" y="1427"/><use href="#t" x="1188.5" y="1398.5"/><use href="#t" x="1190" y="1471.5"/><use href="#t" x="1191.5" y="1427"/><use href="#t" x="1193" y="1494"/><use href="#t" x="1194.5" y="1471.5"/><use href="#t" x="1196" y="1471.5"/><use href="#t" x="1197" y="1427"/><use href="#t" x="1198.5" y="1439"/><use href="#t" x="1200" y="1416.5"/><use href="#t" x="1201.5" y="1439"/><use href="#t" x="1203" y="1416.5"/><use href="#t" x="1204" y="1416.5"/><use href="#t" x="1205.5" y="1439"/><use href="#t" x="1207" y="1398.5"/><use href="#t" x="1208.5" y="1416.5"/><use href="#t" x="1209.5" y="1471.5"/><use href="#t" x="1211" y="1427"/><use href="#t" x="1212.5" y="1427"/><use href="#t" x="1214" y="1453.5"/><use href="#t" x="1215" y="1453.5"/><use href="#t" x="1216.5" y="1407"/><use href="#t" x="1219" y="1439"/><use href="#t" x="1220.5" y="1453.5"/><use href="#t" x="1221.5" y="1494"/><use href="#t" x="1223" y="1494"/><use href="#t" x="1224.5" y="1453.5"/><use href="#t" x="1225.5" y="1439"/><use href="#t" x="1227" y="1416.5"/><use href="#t" x="1228" y="1453.5"/><use href="#t" x="1229.5" y="1471.5"/><use href="#t" x="1230.5" y="1398.5"/><use href="#t" x="1232" y="1526.5"/><use href="#t" x="1233" y="1471.5"/><use href="#t" x="1234.5" y="1427"/><use href="#t" x="1235.5" y="1471.5"/><use href="#t" x="1237" y="1384"/><use href="#t" x="1238" y="1416.5"/><use href="#t" x="1239.5" y="1471.5"/><use href="#t" x="1240.5" y="1427"/><use href="#t" x="1242" y="1471.5"/><use href="#t" x="1243" y="1407"/><use href="#t" x="1244.5" y="1471.5"/><use href="#t" x="1245.5" y="1453.5"/><use href="#t" x="1246.5" y="1384"/><use href="#t" x="1248" y="1398.5"/><use href="#t" x="1249" y="1416.5"/><use href="#t" x="1250.5" y="1427"/><use href="#t" x="1251.5" y="1471.5"/><use href="#t" x="1252.5" y="1526.5"/><use href="#t" x="1254" y="1439"/><use href="#t" x="1255" y="1439"/><use href="#t" x="1256" y="1494"/><use href="#t" x="1257.5" y="1471.5"/><use href="#t" x="1258.5" y="1416.5"/><use href="#t" x="1259.5" y="1471.5"/><use href="#t" x="1261" y="1526.5"/><use href="#t" x="1262" y="1453.5"/><use href="#t" x="1263" y="1439"/><use href="#t" x="1265.5" y="1453.5"/><use href="#t" x="1266.5" y="1439"/><use href="#t" x="1267.5" y="1471.5"/><use href="#t" x="1268.5" y="1453.5"/><use href="#t" x="1270" y="1453.5"/><use href="#t" x="1271" y="1453.5"/><use href="#t" x="1272" y="1471.5"/><use href="#t" x="1273" y="1494"/><use href="#t" x="1274.5" y="1471.5"/><use href="#t" x="1275.5" y="1471.5"/><use href="#t" x="1276.5" y="1439"/><use href="#t" x="1277.5" y="1494"/><use href="#t" x="1278.5" y="1471.5"/><use href="#t" x="1279.5" y="1427"/><use href="#t" x="1281" y="1494"/><use href="#t" x="1282" y="1427"/><use href="#t" x="1283" y="1439"/><use href="#t" x="1284" y="1453.5"/><use href="#t" x="1285" y="1494"/><use href="#t" x="1286" y="1439"/><use href="#t" x="1288" y="1439"/><use href="#t" x="1289" y="1494"/><use href="#t" x="1290.5" y="1439"/><use href="#t" x="1291.5" y="1494"/><use href="#t" x="1292.5" y="1471.5"/><use href="#t" x="1293.5" y="1427"/><use href="#t" x="1294.5" y="1453.5"/><use href="#t" x="1295.5" y="1453.5"/><use href="#t" x="1296.5" y="1453.5"/><use href="#t" x="1297.5" y="1439"/><use href="#t" x="1298.5" y="1453.5"/><use href="#t" x="1299.5" y="1427"/><use href="#t" x="1300.5" y="1471.5"/><use href="#t" x="1301.5" y="1494"/><use href="#t" x="1302.5" y="1494"/><use href="#t" x="1303.5" y="1407"/><use href="#t" x="1304.5" y="1439"/><use href="#t" x="1305.5" y="1494"/><use href="#t" x="1306.5" y="1439"/><use href="#t" x="1307.5" y="1439"/><use href="#t" x="1308.5" y="1471.5"/><use href="#t" x="1309.5" y="1453.5"/><use href="#t" x="1310.5" y="1471.5"/><use href="#t" x="1311.5" y="1526.5"/><use href="#t" x="1312.5" y="1526.5"/><use href="#t" x="1313.5" y="1494"/><use href="#t" x="1314" y="1439"/><use href="#t" x="1315" y="1471.5"/><use href="#t" x="1316" y="1416.5"/><use href="#t" x="1317" y="1427"/><use href="#t" x="1318" y="1526.5"/><use href="#t" x="1319" y="1416.5"/><use href="#t" x="1320" y="1384"/><use href="#t" x="1322" y="1439"/><use href="#t" x="1322.5" y="1494"/><use href="#t" x="1323.5" y="1427"/><use href="#t" x="1324.5" y="1526.5"/><use href="#t" x="1325.5" y="1453.5"/><use href="#t" x="1326.5" y="1439"/><use href="#t" x="1327.5" y="1453.5"/><use href="#t" x="1328.5" y="1416.5"/><use href="#t" x="1329" y="1453.5"/><use href="#t" x="1330" y="1453.5"/><use href="#t" x="1331" y="1439"/><use href="#t" x="1332" y="1427"/><use href="#t" x="1333" y="1453.5"/><use href="#t" x="1333.5" y="1526.5"/><use href="#t" x="1334.5" y="1439"/><use href="#t" x="1336.5" y="1453.5"/><use href="#t" x="1337.5" y="1439"/><use href="#t" x="1338" y="1494"/><use href="#t" x="1339" y="1494"/><use href="#t" x="1340" y="1453.5"/><use href="#t" x="1341" y="1439"/><use href="#t" x="1341.5" y="1453.5"/><use href="#t" x="1342.5" y="1453.5"/><use href="#t" x="1343.5" y="1453.5"/><use href="#t" x="1344.5" y="1439"/><use href="#t" x="1345" y="1439"/><use href="#t" x="1346" y="1439"/><use href="#t" x="1347" y="1526.5"/><use href="#t" x="1348" y="1494"/><use href="#t" x="1349.5" y="1453.5"/><use href="#t" x="1350.5" y="1471.5"/><use href="#t" x="1351" y="1453.5"/><use href="#t" x="1352" y="1453.5"/><use href="#t" x="1353.5" y="1526.5"/><use href="#t" x="1354.5" y="1494"/><use href="#t" x="1355.5" y="1439"/><use href="#t" x="1356" y="1439"/><use href="#t" x="1357" y="1471.5"/><use href="#t" x="1358" y="1427"/><use href="#t" x="1358.5" y="1494"/><use href="#t" x="1359.5" y="1471.5"/><use href="#t" x="1360.5" y="1526.5"/><use href="#t" x="1361" y="1453.5"/><use href="#t" x="1362" y="1427"/><use href="#t" x="1363" y="1526.5"/><use href="#t" x="1363.5" y="1494"/><use href="#t" x="1364.5" y="1494"/><use href="#t" x="1365.5" y="1453.5"/><use href="#t" x="1366" y="1494"/><use href="#t" x="1367" y="1453.5"/><use href="#t" x="1367.5" y="1494"/><use href="#t" x="1368.5" y="1526.5"/><use href="#t" x="1369.5" y="1439"/><use href="#t" x="1370" y="1439"/><use href="#t" x="1371" y="1494"/><use href="#t" x="1371.5" y="1453.5"/><use href="#t" x="1373" y="1494"/><use href="#t" x="1374" y="1494"/><use href="#t" x="1375" y="1453.5"/><use href="#t" x="1375.5" y="1471.5"/><use href="#t" x="1376.5" y="1439"/><use href="#t" x="1377" y="1453.5"/><use href="#t" x="1378.5" y="1398.5"/><use href="#t" x="1380.5" y="1526.5"/><use href="#t" x="1383.5" y="1494"/><use href="#t" x="1385" y="1494"/><use href="#t" x="1387" y="1494"/><use href="#t" x="1388.5" y="1526.5"/><use href="#t" x="1389.5" y="1471.5"/><use href="#t" x="1390" y="1453.5"/><use href="#t" x="1391" y="1526.5"/><use href="#t" x="1391.5" y="1439"/><use href="#t" x="1392.5" y="1494"/><use href="#t" x="1393" y="1439"/><use href="#t" x="1394" y="1439"/><use href="#t" x="1394.5" y="1439"/><use href="#t" x="1395.5" y="1453.5"/><use href="#t" x="1396" y="1439"/><use href="#t" x="1396.5" y="1453.5"/><use href="#t" x="1397.5" y="1526.5"/><use href="#t" x="1398" y="1494"/><use href="#t" x="1399" y="1471.5"/><use href="#t" x="1399.5" y="1471.5"/><use href="#t" x="1400.5" y="1494"/><use href="#t" x="1401" y="1439"/><use href="#t" x="1402" y="1526.5"/><use href="#t" x="1402.5" y="1453.5"/><use href="#t" x="1403" y="1453.5"/><use href="#t" x="1404" y="1471.5"/><use href="#t" x="1404.5" y="1471.5"/><use href="#t" x="1405.5" y="1453.5"/><use href="#t" x="1406" y="1439"/><use href="#t" x="1407" y="1453.5"/><use href="#t" x="1407.5" y="1526.5"/><use href="#t" x="1408" y="1494"/><use href="#t" x="1409" y="1453.5"/><use href="#t" x="1409.5" y="1494"/><use href="#t" x="1410.5" y="1471.5"/><use href="#t" x="1411.5" y="1471.5"/><use href="#t" x="1412.5" y="1453.5"/><use href="#t" x="1413" y="1471.5"/><use href="#t" x="1413.5" y="1526.5"/><use href="#t" x="1415" y="1471.5"/><use href="#t" x="1416" y="1439"/><use href="#t" x="1416.5" y="1453.5"/><use href="#t" x="1417" y="1471.5"/><use href="#t" x="1418" y="1526.5"/><use href="#t" x="1418.5" y="1471.5"/><use href="#t" x="1419" y="1494"/><use href="#t" x="1420" y="1427"/><use href="#t" x="1420.5" y="1427"/><use href="#t" x="1421" y="1471.5"/><use href="#t" x="1422" y="1439"/><use href="#t" x="1422.5" y="1453.5"/><use href="#t" x="1423" y="1427"/><use href="#t" x="1424.5" y="1427"/><use href="#t" x="1425" y="1526.5"/><use href="#t" x="1426" y="1494"/><use href="#t" x="1426.5" y="1494"/><use href="#t" x="1428" y="1439"/><use href="#t" x="1428.5" y="1427"/><use href="#t" x="1429" y="1453.5"/><use href="#t" x="1430" y="1453.5"/><use href="#t" x="1431" y="1526.5"/><use href="#t" x="1432" y="1471.5"/><use href="#t" x="1432.5" y="1494"/><use href="#t" x="1433" y="1439"/><use href="#t" x="1433.5" y="1471.5"/><use href="#t" x="1434.5" y="1416.5"/><use href="#t" x="1435" y="1471.5"/><use href="#t" x="1435.5" y="1494"/><use href="#t" x="1436.5" y="1494"/><use href="#t" x="1437" y="1471.5"/><use href="#t" x="1437.5" y="1471.5"/><use href="#t" x="1438" y="1471.5"/><use href="#t" x="1439" y="1471.5"/><use href="#t" x="1439.5" y="1439"/><use href="#t" x="1440.5" y="1471.5"/><use href="#t" x="1441.5" y="1427"/><use href="#t" x="1442" y="1439"/><use href="#t" x="1442.5" y="1494"/><use href="#t" x="1443" y="1471.5"/><use href="#t" x="1444" y="1526.5"/><use href="#t" x="1444.5" y="1453.5"/><use href="#t" x="1445" y="1494"/><use href="#t" x="1446.5" y="1439"/><use href="#t" x="1447" y="1494"/><use href="#t" x="1447.5" y="1494"/><use href="#t" x="1448" y="1494"/><use href="#t" x="1449" y="1494"/><use href="#t" x="1449.5" y="1407"/><use href="#t" x="1450" y="1494"/><use href="#t" x="1450.5" y="1526.5"/><use href="#t" x="1451" y="1494"/><use href="#t" x="1452" y="1526.5"/><use href="#t" x="1452.5" y="1526.5"/><use href="#t" x="1453" y="1453.5"/><use href="#t" x="1453.5" y="1526.5"/><use href="#t" x="1454.5" y="1526.5"/><use href="#t" x="1455" y="1416.5"/><use href="#t" x="1455.5" y="1526.5"/><use href="#t" x="1456" y="1526.5"/><use href="#t" x="1457.5" y="1471.5"/><use href="#t" x="1458.5" y="1439"/><use href="#t" x="1459" y="1526.5"/><use href="#t" x="1459.5" y="1526.5"/><use href="#t" x="1460" y="1471.5"/><use href="#t" x="1461" y="1453.5"/><use href="#t" x="1461.5" y="1526.5"/><use href="#t" x="1462" y="1471.5"/><use href="#t" x="1462.5" y="1471.5"/><use href="#t" x="1463" y="1526.5"/><use href="#t" x="1465.5" y="1471.5"/><use href="#t" x="1466" y="1526.5"/><use href="#t" x="1466.5" y="1494"/><use href="#t" x="1467" y="1453.5"/><use href="#t" x="1468" y="1471.5"/><use href="#t" x="1468.5" y="1526.5"/><use href="#t" x="1469" y="1526.5"/><use href="#t" x="1469.5" y="1494"/><use href="#t" x="1470" y="1453.5"/><use href="#t" x="1470.5" y="1494"/><use href="#t" x="1471" y="1494"/><use href="#t" x="1472" y="1453.5"/><use href="#t" x="1472.5" y="1471.5"/><use href="#t" x="1473" y="1494"/><use href="#t" x="1473.5" y="1471.5"/><use href="#t" x="1474" y="1494"/><use href="#t" x="1474.5" y="1494"/><use href="#t" x="1475" y="1439"/><use href="#t" x="1476.5" y="1453.5"/><use href="#t" x="1477.5" y="1471.5"/><use href="#t" x="1478.5" y="1453.5"/><use href="#t" x="1479" y="1494"/><use href="#t" x="1479.5" y="1439"/><use href="#t" x="1480.5" y="1526.5"/><use href="#t" x="1481.5" y="1526.5"/><use href="#t" x="1482" y="1471.5"/><use href="#t" x="1482.5" y="1471.5"/><use href="#t" x="1483.5" y="1526.5"/><use href="#t" x="1484" y="1471.5"/><use href="#t" x="1485" y="1494"/><use href="#t" x="1486.5" y="1494"/><use href="#t" x="1487.5" y="1494"/><use href="#t" x="1488.5" y="1494"/><use href="#t" x="1489" y="1453.5"/><use href="#t" x="1490" y="1471.5"/><use href="#t" x="1490.5" y="1526.5"/><use href="#t" x="1492" y="1453.5"/><use href="#t" x="1492.5" y="1471.5"/><use href="#t" x="1493" y="1439"/><use href="#t" x="1493.5" y="1439"/><use href="#t" x="1495.5" y="1526.5"/><use href="#t" x="1496" y="1494"/><use href="#t" x="1496.5" y="1453.5"/><use href="#t" x="1497" y="1494"/><use href="#t" x="1498" y="1526.5"/><use href="#t" x="1499" y="1526.5"/><use href="#t" x="1499.5" y="1526.5"/><use href="#t" x="1500" y="1471.5"/><use href="#t" x="1501.5" y="1526.5"/><use href="#t" x="1502" y="1439"/><use href="#t" x="1502.5" y="1471.5"/><use href="#t" x="1503" y="1494"/><use href="#t" x="1503.5" y="1471.5"/><use href="#t" x="1504" y="1526.5"/><use href="#t" x="1505" y="1494"/><use href="#t" x="1505.5" y="1494"/><use href="#t" x="1506" y="1494"/><use href="#t" x="1506.5" y="1494"/><use href="#t" x="1508" y="1526.5"/><use href="#t" x="1508.5" y="1471.5"/><use href="#t" x="1509.5" y="1453.5"/><use href="#t" x="1510" y="1526.5"/><use href="#t" x="1511" y="1471.5"/><use href="#t" x="1511.5" y="1526.5"/><use href="#t" x="1512" y="1453.5"/><use href="#t" x="1512.5" y="1526.5"/><use href="#t" x="1513" y="1471.5"/><use href="#t" x="1514" y="1494"/><use href="#t" x="1514.5" y="1471.5"/><use href="#t" x="1516.5" y="1439"/><use href="#t" x="1517" y="1494"/><use href="#t" x="1517.5" y="1494"/><use href="#t" x="1518" y="1526.5"/><use href="#t" x="1518.5" y="1526.5"/><use href="#t" x="1519" y="1526.5"/><use href="#t" x="1520" y="1526.5"/><use href="#t" x="1520.5" y="1471.5"/><use href="#t" x="1521" y="1526.5"/><use href="#t" x="1521.5" y="1526.5"/><use href="#t" x="1522" y="1453.5"/><use href="#t" x="1522.5" y="1453.5"/><use href="#t" x="1523" y="1526.5"/><use href="#t" x="1523.5" y="1471.5"/><use href="#t" x="1524" y="1471.5"/><use href="#t" x="1524.5" y="1526.5"/><use href="#t" x="1525" y="1471.5"/><use href="#t" x="1526" y="1471.5"/><use href="#t" x="1527.5" y="1526.5"/><use href="#t" x="1528" y="1494"/><use href="#t" x="1528.5" y="1526.5"/><use href="#t" x="1529.5" y="1494"/><use href="#t" x="1530" y="1471.5"/><use href="#t" x="1530.5" y="1526.5"/><use href="#t" x="1531" y="1494"/><use href="#t" x="1532" y="1526.5"/><use href="#t" x="1532.5" y="1471.5"/><use href="#t" x="1532.5" y="1453.5"/><use href="#t" x="1533.5" y="1453.5"/><use href="#t" x="1534" y="1526.5"/><use href="#t" x="1534.5" y="1471.5"/><use href="#t" x="1535" y="1494"/><use href="#t" x="1535.5" y="1494"/><use href="#t" x="1536" y="1471.5"/><use href="#t" x="1536.5" y="1526.5"/><use href="#t" x="1537" y="1453.5"/><use href="#t" x="1537.5" y="1526.5"/><use href="#t" x="1538" y="1494"/><use href="#t" x="1538" y="1526.5"/><use href="#t" x="1538.5" y="1526.5"/><use href="#t" x="1539.5" y="1526.5"/><use href="#t" x="1540" y="1439"/><use href="#t" x="1540.5" y="1471.5"/><use href="#t" x="1541" y="1526.5"/><use href="#t" x="1541.5" y="1526.5"/><use href="#t" x="1542.5" y="1439"/><use href="#t" x="1542.5" y="1526.5"/><use href="#t" x="1543.5" y="1494"/><use href="#t" x="1544" y="1526.5"/><use href="#t" x="1545.5" y="1526.5"/><use href="#t" x="1546.5" y="1526.5"/><use href="#t" x="1547" y="1494"/><use href="#t" x="1547" y="1453.5"/><use href="#t" x="1550" y="1526.5"/><use href="#t" x="1550.5" y="1526.5"/><use href="#t" x="1551" y="1471.5"/><use href="#t" x="1553" y="1526.5"/><use href="#t" x="1553.5" y="1494"/><use href="#t" x="1554" y="1494"/><use href="#t" x="1554.5" y="1471.5"/><use href="#t" x="1555" y="1526.5"/><use href="#t" x="1555.5" y="1494"/><use href="#t" x="1556.5" y="1494"/><use href="#t" x="1557" y="1526.5"/><use href="#t" x="1558.5" y="1453.5"/><use href="#t" x="1559" y="1526.5"/><use href="#t" x="1559.5" y="1453.5"/><use href="#t" x="1559.5" y="1526.5"/><use href="#t" x="1560" y="1526.5"/><use href="#t" x="1561.5" y="1453.5"/><use href="#t" x="1562" y="1494"/><use href="#t" x="1562.5" y="1494"/><use href="#t" x="1563" y="1526.5"/><use href="#t" x="1564" y="1471.5"/><use href="#t" x="1565" y="1494"/><use href="#t" x="1566" y="1526.5"/><use href="#t" x="1568" y="1494"/><use href="#t" x="1568.5" y="1494"/><use href="#t" x="1569" y="1471.5"/><use href="#t" x="1569.5" y="1526.5"/><use href="#t" x="1572" y="1471.5"/><use href="#t" x="1572" y="1526.5"/><use href="#t" x="1572.5" y="1471.5"/><use href="#t" x="1574" y="1494"/><use href="#t" x="1574.5" y="1494"/><use href="#t" x="1575.5" y="1526.5"/><use href="#t" x="1576" y="1471.5"/><use href="#t" x="1579" y="1494"/><use href="#t" x="1580" y="1453.5"/><use href="#t" x="1581" y="1526.5"/><use href="#t" x="1582" y="1526.5"/><use href="#t" x="1583" y="1526.5"/><use href="#t" x="1583.5" y="1526.5"/><use href="#t" x="1584" y="1526.5"/><use href="#t" x="1587" y="1494"/><use href="#t" x="1587.5" y="1494"/><use href="#t" x="1589" y="1526.5"/><use href="#t" x="1590.5" y="1526.5"/><use href="#t" x="1591" y="1494"/><use href="#t" x="1592" y="1526.5"/><use href="#t" x="1593.5" y="1526.5"/><use href="#t" x="1594" y="1526.5"/><use href="#t" x="1595" y="1526.5"/><use href="#t" x="1596" y="1526.5"/><use href="#t" x="1596.5" y="1526.5"/><use href="#t" x="1596.5" y="1453.5"/><use href="#t" x="1597" y="1526.5"/><use href="#t" x="1598" y="1526.5"/><use href="#t" x="1598.5" y="1526.5"/><use href="#t" x="1601" y="1526.5"/><use href="#t" x="1601.5" y="1526.5"/><use href="#t" x="1602" y="1453.5"/><use href="#t" x="1603" y="1494"/><use href="#t" x="1603.5" y="1526.5"/><use href="#t" x="1604.5" y="1526.5"/><use href="#t" x="1605" y="1526.5"/><use href="#t" x="1605" y="1471.5"/><use href="#t" x="1605.5" y="1494"/><use href="#t" x="1607.5" y="1494"/><use href="#t" x="1609" y="1526.5"/><use href="#t" x="1610" y="1494"/><use href="#t" x="1610.5" y="1471.5"/><use href="#t" x="1610.5" y="1494"/><use href="#t" x="1611" y="1526.5"/><use href="#t" x="1611.5" y="1494"/><use href="#t" x="1612.5" y="1526.5"/><use href="#t" x="1613" y="1494"/><use href="#t" x="1614.5" y="1471.5"/><use href="#t" x="1615.5" y="1526.5"/><use href="#t" x="1616" y="1471.5"/><use href="#t" x="1616.5" y="1526.5"/><use href="#t" x="1617" y="1494"/><use href="#t" x="1618" y="1494"/><use href="#t" x="1618.5" y="1526.5"/><use href="#t" x="1620" y="1494"/><use href="#t" x="1621" y="1494"/><use href="#t" x="1621" y="1526.5"/><use href="#t" x="1621.5" y="1471.5"/><use href="#t" x="1622" y="1471.5"/><use href="#t" x="1622" y="1526.5"/><use href="#t" x="1623" y="1526.5"/><use href="#t" x="1623.5" y="1494"/><use href="#t" x="1624" y="1526.5"/><use href="#t" x="1624.5" y="1526.5"/><use href="#t" x="1625" y="1494"/><use href="#t" x="1625.5" y="1471.5"/><use href="#t" x="1626" y="1526.5"/><use href="#t" x="1626.5" y="1439"/><use href="#t" x="1627" y="1526.5"/><use href="#t" x="1627.5" y="1494"/><use href="#t" x="1628.5" y="1526.5"/><use href="#t" x="1629" y="1526.5"/><use href="#t" x="1629.5" y="1526.5"/><use href="#t" x="1629.5" y="1494"/><use href="#t" x="1632" y="1471.5"/><use href="#t" x="1633.5" y="1526.5"/><use href="#t" x="1634" y="1471.5"/><use href="#t" x="1634.5" y="1526.5"/><use href="#t" x="1635" y="1453.5"/><use href="#t" x="1635.5" y="1526.5"/><use href="#t" x="1636.5" y="1526.5"/><use href="#t" x="1638.5" y="1526.5"/><use href="#t" x="1640" y="1526.5"/><use href="#t" x="1642" y="1526.5"/><use href="#t" x="1642" y="1453.5"/><use href="#t" x="1642.5" y="1471.5"/><use href="#t" x="1643" y="1494"/><use href="#t" x="1643.5" y="1526.5"/><use href="#t" x="1644" y="1494"/><use href="#t" x="1644.5" y="1526.5"/><use href="#t" x="1645" y="1526.5"/><use href="#t" x="1645.5" y="1494"/><use href="#t" x="1646" y="1494"/><use href="#t" x="1646.5" y="1494"/><use href="#t" x="1647.5" y="1526.5"/><use href="#t" x="1648" y="1526.5"/><use href="#t" x="1649.5" y="1494"/><use href="#t" x="1650" y="1526.5"/><use href="#t" x="1651" y="1526.5"/><use href="#t" x="1652.5" y="1526.5"/><use href="#t" x="1653" y="1526.5"/><use href="#t" x="1653.5" y="1526.5"/><use href="#t" x="1654" y="1526.5"/><use href="#t" x="1654" y="1494"/><use href="#t" x="1654.5" y="1526.5"/><use href="#t" x="1655.5" y="1494"/><use href="#t" x="1656.5" y="1494"/><use href="#t" x="1657" y="1494"/><use href="#t" x="1657" y="1453.5"/><use href="#t" x="1657.5" y="1494"/><use href="#t" x="1658" y="1526.5"/><use href="#t" x="1659.5" y="1471.5"/><use href="#t" x="1659.5" y="1526.5"/><use href="#t" x="1661.5" y="1526.5"/><use href="#t" x="1662" y="1526.5"/><use href="#t" x="1664" y="1526.5"/><use href="#t" x="1665.5" y="1494"/><use href="#t" x="1665.5" y="1526.5"/><use href="#t" x="1666" y="1494"/><use href="#t" x="1666.5" y="1471.5"/><use href="#t" x="1666.5" y="1526.5"/><use href="#t" x="1667" y="1526.5"/><use href="#t" x="1667.5" y="1494"/><use href="#t" x="1668.5" y="1526.5"/><use href="#t" x="1669" y="1526.5"/><use href="#t" x="1669.5" y="1526.5"/><use href="#t" x="1671.5" y="1526.5"/><use href="#t" x="1672" y="1526.5"/><use href="#t" x="1672.5" y="1526.5"/><use href="#t" x="1673" y="1494"/><use href="#t" x="1673.5" y="1494"/><use href="#t" x="1674" y="1453.5"/><use href="#t" x="1674" y="1494"/><use href="#t" x="1675" y="1526.5"/><use href="#t" x="1676" y="1439"/><use href="#t" x="1677" y="1526.5"/><use href="#t" x="1677.5" y="1526.5"/><use href="#t" x="1679" y="1494"/><use href="#t" x="1679" y="1526.5"/><use href="#t" x="1679.5" y="1494"/><use href="#t" x="1680" y="1494"/><use href="#t" x="1680.5" y="1526.5"/><use href="#t" x="1681.5" y="1494"/><use href="#t" x="1682" y="1494"/><use href="#t" x="1683" y="1526.5"/><use href="#t" x="1684.5" y="1471.5"/><use href="#t" x="1687" y="1526.5"/><use href="#t" x="1689" y="1526.5"/><use href="#t" x="1689.5" y="1526.5"/><use href="#t" x="1690" y="1494"/><use href="#t" x="1690.5" y="1471.5"/><use href="#t" x="1691" y="1526.5"/><use href="#t" x="1691.5" y="1526.5"/><use href="#t" x="1692" y="1453.5"/><use href="#t" x="1692.5" y="1526.5"/><use href="#t" x="1693" y="1494"/><use href="#t" x="1694.5" y="1494"/><use href="#t" x="1695" y="1471.5"/><use href="#t" x="1695.5" y="1494"/><use href="#t" x="1696" y="1526.5"/><use href="#t" x="1698" y="1526.5"/><use href="#t" x="1698.5" y="1526.5"/><use href="#t" x="1700" y="1526.5"/><use href="#t" x="1701" y="1526.5"/><use href="#t" x="1701.5" y="1526.5"/><use href="#t" x="1702" y="1526.5"/><use href="#t" x="1702.5" y="1526.5"/><use href="#t" x="1703" y="1526.5"/><use href="#t" x="1703.5" y="1494"/><use href="#t" x="1703.5" y="1526.5"/><use href="#t" x="1704" y="1494"/><use href="#t" x="1704.5" y="1526.5"/><use href="#t" x="1705" y="1453.5"/><use href="#t" x="1706.5" y="1526.5"/><use href="#t" x="1708" y="1494"/><use href="#t" x="1708.5" y="1526.5"/><use href="#t" x="1709" y="1494"/><use href="#t" x="1709.5" y="1526.5"/><use href="#t" x="1710" y="1471.5"/><use href="#t" x="1710" y="1526.5"/><use href="#t" x="1711" y="1526.5"/><use href="#t" x="1711.5" y="1526.5"/><use href="#t" x="1713.5" y="1526.5"/><use href="#t" x="1714.5" y="1494"/><use href="#t" x="1715" y="1526.5"/><use href="#t" x="1716" y="1526.5"/><use href="#t" x="1716.5" y="1526.5"/><use href="#t" x="1718" y="1526.5"/><use href="#t" x="1718.5" y="1471.5"/><use href="#t" x="1719.5" y="1526.5"/><use href="#t" x="1722" y="1526.5"/><use href="#t" x="1722.5" y="1526.5"/><use href="#t" x="1723" y="1526.5"/><use href="#t" x="1723.5" y="1526.5"/><use href="#t" x="1724" y="1526.5"/><use href="#t" x="1724" y="1439"/><use href="#t" x="1725" y="1526.5"/><use href="#t" x="1725.5" y="1526.5"/><use href="#t" x="1726" y="1526.5"/><use href="#t" x="1726.5" y="1526.5"/><use href="#t" x="1727.5" y="1526.5"/><use href="#t" x="1728" y="1494"/><use href="#t" x="1729" y="1526.5"/><use href="#t" x="1730" y="1494"/><use href="#t" x="1730" y="1526.5"/><use href="#t" x="1730.5" y="1526.5"/><use href="#t" x="1731" y="1526.5"/><use href="#t" x="1732" y="1494"/><use href="#t" x="1734" y="1494"/><use href="#t" x="1734.5" y="1494"/><use href="#t" x="1735" y="1494"/><use href="#t" x="1735.5" y="1471.5"/><use href="#t" x="1735.5" y="1494"/><use href="#t" x="1736" y="1526.5"/><use href="#t" x="1736.5" y="1526.5"/><use href="#t" x="1736.5" y="1494"/><use href="#t" x="1737.5" y="1494"/><use href="#t" x="1738.5" y="1526.5"/><use href="#t" x="1740.5" y="1526.5"/><use href="#t" x="1741" y="1526.5"/><use href="#t" x="1741.5" y="1494"/><use href="#t" x="1742" y="1526.5"/><use href="#t" x="1742.5" y="1526.5"/><use href="#t" x="1743.5" y="1526.5"/><use href="#t" x="1744.5" y="1526.5"/><use href="#t" x="1745" y="1526.5"/><use href="#t" x="1746" y="1526.5"/><use href="#t" x="1746.5" y="1526.5"/><use href="#t" x="1747" y="1526.5"/><use href="#t" x="1748.5" y="1494"/><use href="#t" x="1749.5" y="1526.5"/><use href="#t" x="1750.5" y="1494"/><use href="#t" x="1751" y="1526.5"/><use href="#t" x="1752.5" y="1526.5"/><use href="#t" x="1753.5" y="1526.5"/><use href="#t" x="1754" y="1526.5"/><use href="#t" x="1755" y="1494"/><use href="#t" x="1756" y="1526.5"/><use href="#t" x="1756.5" y="1471.5"/><use href="#t" x="1757.5" y="1526.5"/><use href="#t" x="1759.5" y="1494"/><use href="#t" x="1760" y="1494"/><use href="#t" x="1760.5" y="1526.5"/><use href="#t" x="1761" y="1526.5"/><use href="#t" x="1761.5" y="1526.5"/><use href="#t" x="1762" y="1494"/><use href="#t" x="1763.5" y="1494"/><use href="#t" x="1764" y="1494"/><use href="#t" x="1764" y="1526.5"/><use href="#t" x="1765" y="1494"/><use href="#t" x="1765.5" y="1526.5"/><use href="#t" x="1765.5" y="1494"/><use href="#t" x="1766" y="1526.5"/><use href="#t" x="1766.5" y="1494"/><use href="#t" x="1767" y="1526.5"/><use href="#t" x="1768" y="1494"/><use href="#t" x="1768.5" y="1526.5"/><use href="#t" x="1769" y="1526.5"/><use href="#t" x="1769.5" y="1526.5"/><use href="#t" x="1770" y="1526.5"/><use href="#t" x="1770" y="1494"/><use href="#t" x="1770.5" y="1526.5"/><use href="#t" x="1771" y="1526.5"/><use href="#t" x="1772" y="1526.5"/><use href="#t" x="1772.5" y="1526.5"/><use href="#t" x="1773" y="1494"/><use href="#t" x="1773" y="1526.5"/><use href="#t" x="1773.5" y="1494"/><use href="#t" x="1774.5" y="1526.5"/><use href="#t" x="1775" y="1526.5"/><use href="#t" x="1775.5" y="1494"/><use href="#t" x="1776" y="1526.5"/><use href="#t" x="1777" y="1526.5"/><use href="#t" x="1778" y="1526.5"/><use href="#t" x="1778.5" y="1526.5"/><use href="#t" x="1779.5" y="1526.5"/><use href="#t" x="1780.5" y="1494"/><use href="#t" x="1781.5" y="1494"/><use href="#t" x="1782.5" y="1526.5"/><use href="#t" x="1782.5" y="1471.5"/><use href="#t" x="1785.5" y="1494"/><use href="#t" x="1786.5" y="1526.5"/><use href="#t" x="1787.5" y="1526.5"/><use href="#t" x="1788" y="1526.5"/><use href="#t" x="1791.5" y="1494"/><use href="#t" x="1792" y="1471.5"/><use href="#t" x="1792" y="1494"/><use href="#t" x="1793.5" y="1526.5"/><use href="#t" x="1794" y="1494"/><use href="#t" x="1794" y="1526.5"/><use href="#t" x="1794.5" y="1526.5"/><use href="#t" x="1795" y="1526.5"/><use href="#t" x="1797" y="1526.5"/><use href="#t" x="1797.5" y="1471.5"/><use href="#t" x="1797.5" y="1494"/><use href="#t" x="1798" y="1526.5"/><use href="#t" x="1799" y="1471.5"/><use href="#t" x="1799" y="1526.5"/><use href="#t" x="1800" y="1494"/><use href="#t" x="1800.5" y="1526.5"/><use href="#t" x="1801" y="1526.5"/><use href="#t" x="1801" y="1494"/><use href="#t" x="1802" y="1471.5"/><use href="#t" x="1802.5" y="1526.5"/><use href="#t" x="1803" y="1471.5"/><use href="#t" x="1803" y="1526.5"/><use href="#t" x="1803.5" y="1526.5"/><use href="#t" x="1804" y="1526.5"/><use href="#t" x="1805" y="1526.5"/><use href="#t" x="1806" y="1526.5"/><use href="#t" x="1806.5" y="1453.5"/><use href="#t" x="1806.5" y="1494"/><use href="#t" x="1807.5" y="1526.5"/><use href="#t" x="1808" y="1526.5"/><use href="#t" x="1808" y="1494"/><use href="#t" x="1810" y="1526.5"/><use href="#t" x="1810.5" y="1526.5"/><use href="#t" x="1811" y="1526.5"/><use href="#t" x="1811.5" y="1526.5"/><use href="#t" x="1812" y="1526.5"/><use href="#t" x="1812.5" y="1526.5"/><use href="#t" x="1812.5" y="1494"/><use href="#t" x="1813" y="1494"/><use href="#t" x="1814" y="1526.5"/><use href="#t" x="1814.5" y="1526.5"/><use href="#t" x="1815" y="1471.5"/><use href="#t" x="1815" y="1453.5"/><use href="#t" x="1816" y="1471.5"/><use href="#t" x="1816.5" y="1494"/><use href="#t" x="1817.5" y="1494"/><use href="#t" x="1818" y="1526.5"/><use href="#t" x="1818.5" y="1494"/><use href="#t" x="1819" y="1526.5"/><use href="#t" x="1819.5" y="1494"/><use href="#t" x="1820" y="1526.5"/><use href="#t" x="1821" y="1526.5"/><use href="#t" x="1821.5" y="1526.5"/><use href="#t" x="1822" y="1526.5"/><use href="#t" x="1822.5" y="1526.5"/><use href="#t" x="1823.5" y="1494"/><use href="#t" x="1824" y="1494"/><use href="#t" x="1824.5" y="1494"/><use href="#t" x="1824.5" y="1526.5"/><use href="#t" x="1825" y="1494"/><use href="#t" x="1826" y="1494"/><use href="#t" x="1826" y="1526.5"/><use href="#t" x="1826.5" y="1526.5"/><use href="#t" x="1827" y="1471.5"/><use href="#t" x="1828" y="1439"/><use href="#t" x="1830" y="1494"/><use href="#t" x="1831.5" y="1526.5"/><use href="#t" x="1832.5" y="1471.5"/><use href="#t" x="1833" y="1494"/><use href="#t" x="1833" y="1526.5"/><use href="#t" x="1834.5" y="1526.5"/><use href="#t" x="1835" y="1526.5"/><use href="#t" x="1835.5" y="1526.5"/><use href="#t" x="1835.5" y="1494"/><use href="#t" x="1836.5" y="1526.5"/><use href="#t" x="1836.5" y="1471.5"/><use href="#t" x="1838" y="1526.5"/><use href="#t" x="1842.5" y="1526.5"/><use href="#t" x="1843" y="1453.5"/><use href="#t" x="1843.5" y="1526.5"/><use href="#t" x="1844" y="1526.5"/><use href="#t" x="1844.5" y="1526.5"/><use href="#t" x="1846" y="1526.5"/><use href="#t" x="1846.5" y="1526.5"/><use href="#t" x="1847" y="1494"/><use href="#t" x="1847.5" y="1526.5"/><use href="#t" x="1847.5" y="1494"/><use href="#t" x="1848" y="1526.5"/><use href="#t" x="1849" y="1526.5"/><use href="#t" x="1851" y="1526.5"/><use href="#t" x="1852.5" y="1526.5"/><use href="#t" x="1853" y="1526.5"/><use href="#t" x="1857" y="1494"/><use href="#t" x="1857.5" y="1494"/><use href="#t" x="1858" y="1494"/><use href="#t" x="1858" y="1471.5"/><use href="#t" x="1858.5" y="1494"/><use href="#t" x="1859" y="1526.5"/><use href="#t" x="1859.5" y="1494"/><use href="#t" x="1859.5" y="1526.5"/><use href="#t" x="1860" y="1526.5"/><use href="#t" x="1860.5" y="1526.5"/><use href="#t" x="1861" y="1471.5"/><use href="#t" x="1862" y="1526.5"/><use href="#t" x="1863.5" y="1526.5"/><use href="#t" x="1864" y="1494"/><use href="#t" x="1864.5" y="1494"/><use href="#t" x="1866.5" y="1526.5"/><use href="#t" x="1867" y="1526.5"/><use href="#t" x="1868.5" y="1526.5"/><use href="#t" x="1869" y="1526.5"/><use href="#t" x="1869.5" y="1526.5"/><use href="#t" x="1870" y="1494"/><use href="#t" x="1871" y="1494"/><use href="#t" x="1871.5" y="1494"/><use href="#t" x="1872.5" y="1526.5"/><use href="#t" x="1873" y="1526.5"/><use href="#t" x="1873.5" y="1494"/><use href="#t" x="1874" y="1526.5"/><use href="#t" x="1874.5" y="1526.5"/><use href="#t" x="1874.5" y="1453.5"/><use href="#t" x="1875" y="1494"/><use href="#t" x="1875.5" y="1526.5"/><use href="#t" x="1877" y="1526.5"/><use href="#t" x="1880" y="1526.5"/><use href="#t" x="1881" y="1494"/><use href="#t" x="1882" y="1526.5"/><use href="#t" x="1883" y="1526.5"/><use href="#t" x="1883" y="1494"/><use href="#t" x="1883.5" y="1526.5"/><use href="#t" x="1885" y="1526.5"/><use href="#t" x="1886" y="1526.5"/><use href="#t" x="1887" y="1526.5"/><use href="#t" x="1887.5" y="1526.5"/><use href="#t" x="1889.5" y="1526.5"/><use href="#t" x="1890.5" y="1526.5"/><use href="#t" x="1891" y="1526.5"/><use href="#t" x="1892" y="1526.5"/><use href="#t" x="1894" y="1526.5"/><use href="#t" x="1895.5" y="1526.5"/><use href="#t" x="1896" y="1494"/><use href="#t" x="1896" y="1526.5"/><use href="#t" x="1896.5" y="1526.5"/><use href="#t" x="1896.5" y="1494"/><use href="#t" x="1897" y="1526.5"/><use href="#t" x="1898" y="1526.5"/><use href="#t" x="1899" y="1526.5"/><use href="#t" x="1899.5" y="1526.5"/><use href="#t" x="1900.5" y="1526.5"/><use href="#t" x="1901" y="1526.5"/><use href="#t" x="1901.5" y="1494"/><use href="#t" x="1902" y="1494"/><use href="#t" x="1902.5" y="1494"/><use href="#t" x="1902.5" y="1526.5"/><use href="#t" x="1903.5" y="1526.5"/><use href="#t" x="1903.5" y="1494"/><use href="#t" x="1904" y="1494"/><use href="#t" x="1904.5" y="1526.5"/><use href="#t" x="1905" y="1494"/><use href="#t" x="1905.5" y="1494"/><use href="#t" x="1905.5" y="1526.5"/><use href="#t" x="1906.5" y="1494"/><use href="#t" x="1906.5" y="1526.5"/><use href="#t" x="1907" y="1526.5"/><use href="#t" x="1907.5" y="1494"/><use href="#t" x="1908" y="1494"/><use href="#t" x="1908" y="1526.5"/><use href="#t" x="1908.5" y="1526.5"/><use href="#t" x="1909" y="1526.5"/><use href="#t" x="1909.5" y="1526.5"/><use href="#t" x="1910" y="1526.5"/><use href="#t" x="1910.5" y="1526.5"/><use href="#t" x="1911" y="1471.5"/><use href="#t" x="1911.5" y="1526.5"/><use href="#t" x="1912" y="1494"/><use href="#t" x="1913" y="1526.5"/><use href="#t" x="1913" y="1494"/><use href="#t" x="1913.5" y="1526.5"/><use href="#t" x="1914.5" y="1526.5"/><use href="#t" x="1915.5" y="1526.5"/><use href="#t" x="1915.5" y="1494"/><use href="#t" x="1916.5" y="1526.5"/><use href="#t" x="1918.5" y="1526.5"/><use href="#t" x="1920" y="1471.5"/><use href="#t" x="1920.5" y="1526.5"/><use href="#t" x="1921" y="1494"/><use href="#t" x="1922" y="1494"/><use href="#t" x="1922" y="1526.5"/><use href="#t" x="1922.5" y="1526.5"/><use href="#t" x="1923" y="1494"/><use href="#t" x="1924" y="1526.5"/><use href="#t" x="1925.5" y="1471.5"/><use href="#t" x="1926" y="1526.5"/><use href="#t" x="1926" y="1494"/><use href="#t" x="1926" y="1471.5"/><use href="#t" x="1927" y="1526.5"/><use href="#t" x="1928" y="1494"/><use href="#t" x="1928" y="1526.5"/><use href="#t" x="1928.5" y="1526.5"/><use href="#t" x="1929" y="1526.5"/><use href="#t" x="1930" y="1526.5"/><use href="#t" x="1930.5" y="1526.5"/><use href="#t" x="1931" y="1526.5"/><use href="#t" x="1931.5" y="1526.5"/><use href="#t" x="1932" y="1526.5"/><use href="#t" x="1933" y="1526.5"/><use href="#t" x="1933.5" y="1494"/><use href="#t" x="1933.5" y="1526.5"/><use href="#t" x="1934" y="1494"/><use href="#t" x="1934.5" y="1494"/><use href="#t" x="1934.5" y="1526.5"/><use href="#t" x="1935" y="1526.5"/><use href="#t" x="1935.5" y="1526.5"/><use href="#t" x="1936" y="1526.5"/><use href="#t" x="1936.5" y="1526.5"/><use href="#t" x="1937" y="1526.5"/></g>
</g>
<g><rect x="1526.5" y="70.8" width="366.7" height="216.8" fill="#fff" stroke="#777" stroke-width="2.0"/>
<g class="r"><use href="#s" x="1596.8" y="109.3"/></g>
<g class="g"><use href="#c" x="1596.8" y="179.4"/></g>
<g class="b"><use href="#t" x="1596.8" y="250.3"/></g>
<text x="1675.3" y="129.2" font-size="57.0">5 MHz</text>
<text x="1675.3" y="199.3" font-size="57.0">500 kHz</text>
<text x="1675.3" y="268.3" font-size="57.0">100 kHz</text></g>
<g><rect x="1514.7" y="859.9" width="356.3" height="214.0" fill="#fff" stroke="#777" stroke-width="2.4"/>
<g class="r"><use href="#s" x="1583.5" y="898.6"/></g>
<g class="g"><use href="#c" x="1583.5" y="966.9"/></g>
<g class="b"><use href="#t" x="1583.5" y="1036.2"/></g>
<text x="1660.2" y="917.1" font-size="55.8">5 MHz</text>
<text x="1660.2" y="986.1" font-size="55.8">500 kHz</text>
<text x="1660.2" y="1054.4" font-size="55.8">100 kHz</text></g>
<rect x="286.60" y="55.50" width="1652.50" height="723.30" fill="none" stroke="#000" stroke-width="4.3"/>
<path d="M353.00 55.50V30.10M353.00 778.80V804.70M1042.20 55.50V30.10M1042.20 778.80V804.70M1731.40 55.50V30.10M1731.40 778.80V804.70M286.60 744.10H260.40M1939.10 744.10H1964.60M286.60 613.95H260.40M1939.10 613.95H1964.60M286.60 483.80H260.40M1939.10 483.80H1964.60M286.60 353.65H260.40M1939.10 353.65H1964.60M286.60 223.50H260.40M1939.10 223.50H1964.60M286.60 93.35H260.40M1939.10 93.35H1964.60" stroke="#000" stroke-width="4.2" fill="none"/>
<path d="M286.21 55.50V43.50M286.21 778.80V791.50M321.46 55.50V43.50M321.46 778.80V791.50M560.47 55.50V43.50M560.47 778.80V791.50M681.83 55.50V43.50M681.83 778.80V791.50M767.94 55.50V43.50M767.94 778.80V791.50M834.73 55.50V43.50M834.73 778.80V791.50M889.30 55.50V43.50M889.30 778.80V791.50M935.44 55.50V43.50M935.44 778.80V791.50M975.41 55.50V43.50M975.41 778.80V791.50M1010.66 55.50V43.50M1010.66 778.80V791.50M1249.67 55.50V43.50M1249.67 778.80V791.50M1371.03 55.50V43.50M1371.03 778.80V791.50M1457.14 55.50V43.50M1457.14 778.80V791.50M1523.93 55.50V43.50M1523.93 778.80V791.50M1578.50 55.50V43.50M1578.50 778.80V791.50M1624.64 55.50V43.50M1624.64 778.80V791.50M1664.61 55.50V43.50M1664.61 778.80V791.50M1699.86 55.50V43.50M1699.86 778.80V791.50M1938.87 55.50V43.50M1938.87 778.80V791.50M286.60 772.97H273.40M1939.10 772.97H1951.30M286.60 764.26H273.40M1939.10 764.26H1951.30M286.60 756.71H273.40M1939.10 756.71H1951.30M286.60 750.06H273.40M1939.10 750.06H1951.30M286.60 704.92H273.40M1939.10 704.92H1951.30M286.60 682.00H273.40M1939.10 682.00H1951.30M286.60 665.74H273.40M1939.10 665.74H1951.30M286.60 653.13H273.40M1939.10 653.13H1951.30M286.60 642.82H273.40M1939.10 642.82H1951.30M286.60 634.11H273.40M1939.10 634.11H1951.30M286.60 626.56H273.40M1939.10 626.56H1951.30M286.60 619.91H273.40M1939.10 619.91H1951.30M286.60 574.77H273.40M1939.10 574.77H1951.30M286.60 551.85H273.40M1939.10 551.85H1951.30M286.60 535.59H273.40M1939.10 535.59H1951.30M286.60 522.98H273.40M1939.10 522.98H1951.30M286.60 512.67H273.40M1939.10 512.67H1951.30M286.60 503.96H273.40M1939.10 503.96H1951.30M286.60 496.41H273.40M1939.10 496.41H1951.30M286.60 489.76H273.40M1939.10 489.76H1951.30M286.60 444.62H273.40M1939.10 444.62H1951.30M286.60 421.70H273.40M1939.10 421.70H1951.30M286.60 405.44H273.40M1939.10 405.44H1951.30M286.60 392.83H273.40M1939.10 392.83H1951.30M286.60 382.52H273.40M1939.10 382.52H1951.30M286.60 373.81H273.40M1939.10 373.81H1951.30M286.60 366.26H273.40M1939.10 366.26H1951.30M286.60 359.61H273.40M1939.10 359.61H1951.30M286.60 314.47H273.40M1939.10 314.47H1951.30M286.60 291.55H273.40M1939.10 291.55H1951.30M286.60 275.29H273.40M1939.10 275.29H1951.30M286.60 262.68H273.40M1939.10 262.68H1951.30M286.60 252.37H273.40M1939.10 252.37H1951.30M286.60 243.66H273.40M1939.10 243.66H1951.30M286.60 236.11H273.40M1939.10 236.11H1951.30M286.60 229.46H273.40M1939.10 229.46H1951.30M286.60 184.32H273.40M1939.10 184.32H1951.30M286.60 161.40H273.40M1939.10 161.40H1951.30M286.60 145.14H273.40M1939.10 145.14H1951.30M286.60 132.53H273.40M1939.10 132.53H1951.30M286.60 122.22H273.40M1939.10 122.22H1951.30M286.60 113.51H273.40M1939.10 113.51H1951.30M286.60 105.96H273.40M1939.10 105.96H1951.30M286.60 99.31H273.40M1939.10 99.31H1951.30" stroke="#000" stroke-width="4.0" fill="none"/>
<rect x="280.70" y="841.70" width="1657.30" height="723.80" fill="none" stroke="#000" stroke-width="4.3"/>
<path d="M347.20 841.70V815.50M347.20 1565.50V1591.40M1038.60 841.70V815.50M1038.60 1565.50V1591.40M1730.00 841.70V815.50M1730.00 1565.50V1591.40M280.70 1419.40H254.30M1938.00 1419.40H1962.70M280.70 1236.40H254.30M1938.00 1236.40H1962.70M280.70 1053.40H254.30M1938.00 1053.40H1962.70M280.70 870.40H254.30M1938.00 870.40H1962.70" stroke="#000" stroke-width="4.2" fill="none"/>
<path d="M280.20 841.70V828.50M280.20 1565.50V1579.60M315.56 841.70V828.50M315.56 1565.50V1579.60M555.33 841.70V828.50M555.33 1565.50V1579.60M677.08 841.70V828.50M677.08 1565.50V1579.60M763.46 841.70V828.50M763.46 1565.50V1579.60M830.47 841.70V828.50M830.47 1565.50V1579.60M885.21 841.70V828.50M885.21 1565.50V1579.60M931.50 841.70V828.50M931.50 1565.50V1579.60M971.60 841.70V828.50M971.60 1565.50V1579.60M1006.96 841.70V828.50M1006.96 1565.50V1579.60M1246.73 841.70V828.50M1246.73 1565.50V1579.60M1368.48 841.70V828.50M1368.48 1565.50V1579.60M1454.86 841.70V828.50M1454.86 1565.50V1579.60M1521.87 841.70V828.50M1521.87 1565.50V1579.60M1576.61 841.70V828.50M1576.61 1565.50V1579.60M1622.90 841.70V828.50M1622.90 1565.50V1579.60M1663.00 841.70V828.50M1663.00 1565.50V1579.60M1698.36 841.70V828.50M1698.36 1565.50V1579.60M1938.13 841.70V828.50M1938.13 1565.50V1579.60M280.70 1547.31H268.20M1938.00 1547.31H1951.30M280.70 1515.09H268.20M1938.00 1515.09H1951.30M280.70 1492.22H268.20M1938.00 1492.22H1951.30M280.70 1474.49H268.20M1938.00 1474.49H1951.30M280.70 1460.00H268.20M1938.00 1460.00H1951.30M280.70 1447.75H268.20M1938.00 1447.75H1951.30M280.70 1437.13H268.20M1938.00 1437.13H1951.30M280.70 1427.77H268.20M1938.00 1427.77H1951.30M280.70 1364.31H268.20M1938.00 1364.31H1951.30M280.70 1332.09H268.20M1938.00 1332.09H1951.30M280.70 1309.22H268.20M1938.00 1309.22H1951.30M280.70 1291.49H268.20M1938.00 1291.49H1951.30M280.70 1277.00H268.20M1938.00 1277.00H1951.30M280.70 1264.75H268.20M1938.00 1264.75H1951.30M280.70 1254.13H268.20M1938.00 1254.13H1951.30M280.70 1244.77H268.20M1938.00 1244.77H1951.30M280.70 1181.31H268.20M1938.00 1181.31H1951.30M280.70 1149.09H268.20M1938.00 1149.09H1951.30M280.70 1126.22H268.20M1938.00 1126.22H1951.30M280.70 1108.49H268.20M1938.00 1108.49H1951.30M280.70 1094.00H268.20M1938.00 1094.00H1951.30M280.70 1081.75H268.20M1938.00 1081.75H1951.30M280.70 1071.13H268.20M1938.00 1071.13H1951.30M280.70 1061.77H268.20M1938.00 1061.77H1951.30M280.70 998.31H268.20M1938.00 998.31H1951.30M280.70 966.09H268.20M1938.00 966.09H1951.30M280.70 943.22H268.20M1938.00 943.22H1951.30M280.70 925.49H268.20M1938.00 925.49H1951.30M280.70 911.00H268.20M1938.00 911.00H1951.30M280.70 898.75H268.20M1938.00 898.75H1951.30M280.70 888.13H268.20M1938.00 888.13H1951.30M280.70 878.77H268.20M1938.00 878.77H1951.30" stroke="#000" stroke-width="4.0" fill="none"/>
<text x="243.5" y="112.9" text-anchor="end" font-size="56">10<tspan font-size="40" dy="-21.9">0</tspan></text>
<text x="243.5" y="243.1" text-anchor="end" font-size="56">10<tspan font-size="40" dy="-21.9">-1</tspan></text>
<text x="243.5" y="373.2" text-anchor="end" font-size="56">10<tspan font-size="40" dy="-21.9">-2</tspan></text>
<text x="243.5" y="503.4" text-anchor="end" font-size="56">10<tspan font-size="40" dy="-21.9">-3</tspan></text>
<text x="243.5" y="633.6" text-anchor="end" font-size="56">10<tspan font-size="40" dy="-21.9">-4</tspan></text>
<text x="243.5" y="763.7" text-anchor="end" font-size="56">10<tspan font-size="40" dy="-21.9">-5</tspan></text>
<text x="237.5" y="890.0" text-anchor="end" font-size="56">10<tspan font-size="40" dy="-21.9">0</tspan></text>
<text x="237.5" y="1073.0" text-anchor="end" font-size="56">10<tspan font-size="40" dy="-21.9">-1</tspan></text>
<text x="237.5" y="1256.0" text-anchor="end" font-size="56">10<tspan font-size="40" dy="-21.9">-2</tspan></text>
<text x="237.5" y="1439.0" text-anchor="end" font-size="56">10<tspan font-size="40" dy="-21.9">-3</tspan></text>
<text x="347.2" y="1653" text-anchor="middle" font-size="56">1</text>
<text x="1038.6" y="1653" text-anchor="middle" font-size="56">10</text>
<text x="1730.0" y="1653" text-anchor="middle" font-size="56">100</text>
<text x="1110.7" y="1757" text-anchor="middle" font-size="68.5">time (ns)</text>
<text transform="translate(74.4 379.4) rotate(-90)" text-anchor="middle" font-size="67.6">normalized intensity</text>
<text transform="translate(66.6 1166.3) rotate(-90)" text-anchor="middle" font-size="67.6">normalized intensity</text>
<text x="307.9" y="138.2" font-size="79" font-weight="bold">(a)</text>
<text x="303.8" y="926.8" font-size="79" font-weight="bold">(b)</text>
</g>
</svg></body></html>
